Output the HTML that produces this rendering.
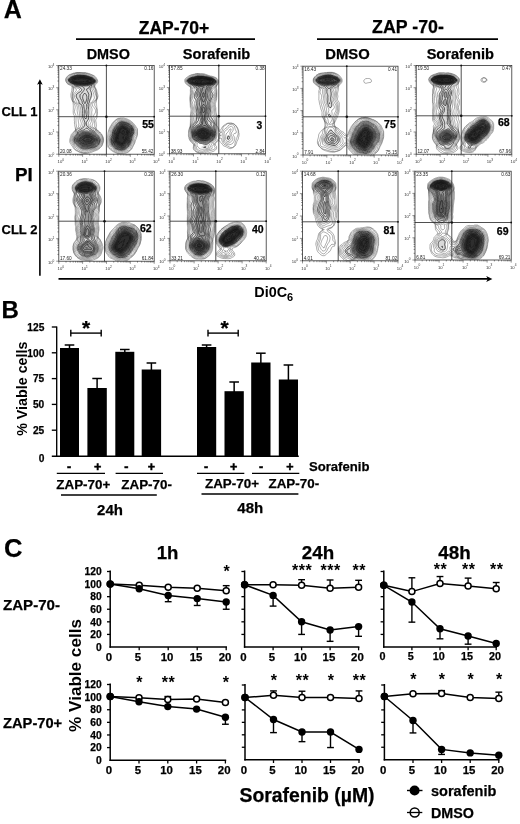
<!DOCTYPE html>
<html lang="en"><head><meta charset="utf-8"><title>Figure</title>
<style>html,body{margin:0;padding:0;background:#fff}svg{display:block;filter:blur(0.3px)}text{font-family:"Liberation Sans", sans-serif}</style>
</head><body>
<svg width="520" height="824" viewBox="0 0 520 824" font-family='"Liberation Sans", sans-serif'>
<rect width="520" height="824" fill="#fff"/>
<defs><filter id="bl" x="-5%" y="-5%" width="110%" height="110%"><feGaussianBlur stdDeviation="0.35"/></filter></defs>
<text x="3.80" y="18.10" font-size="25" font-weight="bold" text-anchor="start" fill="#000" stroke="#000" stroke-width="0.25" >A</text>
<text x="1.50" y="317.80" font-size="24" font-weight="bold" text-anchor="start" fill="#000" stroke="#000" stroke-width="0.25" >B</text>
<text x="4.00" y="556.70" font-size="25.6" font-weight="bold" text-anchor="start" fill="#000" stroke="#000" stroke-width="0.25" >C</text>
<text x="174.00" y="33.60" font-size="17.5" font-weight="bold" text-anchor="middle" fill="#000" stroke="#000" stroke-width="0.25" >ZAP-70+</text>
<line x1="76.00" y1="39.20" x2="255.00" y2="39.20" stroke="#000" stroke-width="1.8" />
<text x="408.00" y="33.20" font-size="17.8" font-weight="bold" text-anchor="middle" fill="#000" stroke="#000" stroke-width="0.25" >ZAP -70-</text>
<line x1="317.00" y1="39.20" x2="498.00" y2="39.20" stroke="#000" stroke-width="1.8" />
<text x="108.30" y="58.60" font-size="14.4" font-weight="bold" text-anchor="middle" fill="#000" stroke="#000" stroke-width="0.25" >DMSO</text>
<text x="216.50" y="58.60" font-size="14.6" font-weight="bold" text-anchor="middle" fill="#000" stroke="#000" stroke-width="0.25" >Sorafenib</text>
<text x="347.50" y="58.80" font-size="14.8" font-weight="bold" text-anchor="middle" fill="#000" stroke="#000" stroke-width="0.25" >DMSO</text>
<text x="460.30" y="58.80" font-size="14.6" font-weight="bold" text-anchor="middle" fill="#000" stroke="#000" stroke-width="0.25" >Sorafenib</text>
<text x="1.50" y="115.50" font-size="13" font-weight="bold" text-anchor="start" fill="#000" stroke="#000" stroke-width="0.25" >CLL 1</text>
<text x="1.50" y="234.30" font-size="13" font-weight="bold" text-anchor="start" fill="#000" stroke="#000" stroke-width="0.25" >CLL 2</text>
<text x="15.00" y="180.60" font-size="18.8" font-weight="bold" text-anchor="start" fill="#000" stroke="#000" stroke-width="0.25" >PI</text>
<line x1="39.90" y1="275.80" x2="39.90" y2="82.50" stroke="#000" stroke-width="1.6" />
<path d="M39.9,79.2 L37.1,84.8 L39.9,83.4 L42.7,84.8 Z" fill="#000"/>
<line x1="58.50" y1="278.90" x2="488.00" y2="278.90" stroke="#000" stroke-width="1.7" />
<path d="M492.4,278.9 L486.2,275.9 L487.8,278.9 L486.2,281.9 Z" fill="#000"/>
<text x="254.3" y="297.4" font-size="14.4" font-weight="bold">Di0C<tspan dy="3.2" font-size="11">6</tspan></text>
<clipPath id="c1"><rect x="58.8" y="65.5" width="95.39999999999999" height="88.69999999999999"/></clipPath>
<g clip-path="url(#c1)" filter="url(#bl)">
<path d="M76.8,75l2,-.3 2,.2 1.5,.1 2,.1 1.6,.4 1.9,.5 1.3,.5 1.4,.5 1.4,.5 1.4,.8 1,.9 .9,1.3 -.4,2 -1,.9 -1,.9 -.9,1.2 -.2,1.5 -.9,1.5 .5,1.8 .5,1.2 .5,1.5 .3,2 -.2,2 -.6,1.4 -.6,1.1 -.7,1.5 -.5,1.5 -.8,1 -.6,1.5 .3,1.5 .2,2 -.1,2 -.2,1.5 0,1.5 .2,2 .3,2 0,1 -.5,1.6 -1,1.3 -.6,1.1 0,2 .4,1.5 1.1,1 1.1,.8 1,.7 1.4,1 1.1,.6 1.5,.7 .5,1.7 1,.9 1,.8 1,1.2 .8,1.1 .7,1.1 .7,1.4 0,2 -.5,1.5 -.7,1.5 -.7,1 -1,1 -1.3,.9 -1.2,.6 -1.8,.5 -1.5,.3 -1.5,.2 -2,.5 -1.5,.3 -1.5,.2 -1.5,-.2 -1.6,-.3 -1.4,-.6 -1.2,-.9 -1.3,-.8 -1,-.7 -1,-1 -1,-1 -1,-1.5 -.5,-1.2 -.2,-1.8 .3,-1.5 .6,-1.5 .8,-1.1 1,-1 .9,-1.4 .1,-1.6 1,-1.3 1,-.7 1.5,-.9 1,-.7 1.3,-.8 .7,-1.4 .3,-1.6 -.2,-2 -.5,-1.5 -.6,-1.5 -.5,-1.1 -.4,-1.9 -.1,-1.5 -.1,-2 .1,-2 -.2,-2 -.3,-1.7 -.5,-1.6 -1,-1 -1.1,-.7 -.9,-1 -.5,-1.8 -.6,-1.2 -.8,-1.5 -.5,-1.5 .4,-1.8 .8,-1.2 1.2,-1 1,-.6 1.3,-.9 .7,-1 -.5,-1.3 -1,-.7 -1.6,-.5 -1.9,-.4 -1,-.6 -.5,-1.7 -1.3,-.8 -1.2,-.6 -1.5,-.7 -1.1,-.7 -.9,-1.5 .1,-1 .9,-1.3 1,-.8 1.5,-.8 1.5,-.6 1.5,-.5 1.5,-.4zM121.2,121.5l1.6,0 1.5,.3 1.5,.3 1.5,.6 1.5,.6 1.2,.7 1.2,1 .9,1 .7,1.2 .6,1.3 .4,1.5 .2,2 -.2,1.5 -.7,1.5 -.6,1.5 -.4,1.5 -.4,1.5 -.4,2 -.5,1.4 -.5,1.1 -.9,1.5 -.7,1 -.9,1 -1.2,1 -1.3,.8 -1.5,.7 -1.5,.5 -1.5,.1 -1.5,-.2 -1.5,-.5 -1.5,-.7 -1.4,-.7 -1.1,-.8 -1,-1.1 -.8,-1.1 -.7,-1.4 -.5,-1.5 -.2,-1.6 0,-2 .3,-1.5 .5,-1.5 .4,-1.5 .5,-2 .2,-1.5 .5,-1.5 .8,-1.5 .6,-1 .9,-1.4 .9,-1.1 1,-1 1,-1 1.1,-.6 1.9,-.4z" fill="#000" fill-opacity="0.15"/>
<path d="M76.1,76.5l1.7,-.4 2,-.1 2,.1 2,.1 1.5,.3 2,.5 1.3,.5 1.3,.5 1.5,.5 1.4,.9 1,.9 0,1.7 -1,.8 -1.2,.7 -1.3,.6 -1.5,.7 -1.5,.4 -2,.1 -2,0 -1.6,-.3 -1.9,-.3 -2,-.1 -1.5,-.2 -1.5,-.6 -1.5,-.8 -1,-.5 -1.5,-.8 -1,-.9 0,-1.4 1,-.9 1.5,-.9 1.5,-.6 1.5,-.4zM121.4,123.5l1.6,0 1.8,.3 1.5,.5 1.5,.6 1.1,.6 1.3,1 .8,1 .7,1.5 .3,1.5 -.1,2 -.5,1.5 -.5,1.5 -.5,1.5 -.4,1.5 -.3,1.5 -.4,1.8 -.5,1.3 -.9,1.4 -.8,1 -1.1,1 -1.2,.9 -1.2,.6 -1.8,.4 -2,-.2 -1.5,-.4 -1.5,-.6 -1.2,-.7 -1,-1 -.8,-1 -.7,-1.5 -.4,-1.5 0,-2 .3,-1.5 .5,-1.5 .3,-1.5 .3,-2 .4,-1.5 .7,-1.5 .6,-1 .9,-1.5 .6,-1 1,-1.2 1,-1 1.5,-.7zM82.4,132.5l1.9,-.3 2,-.1 1.9,.4 1.6,.4 1.5,.4 1.5,.7 1,.9 1,.7 1.2,.9 .9,1 .9,1.5 .4,1.5 -.5,1.5 -.9,1.5 -1,1 -1,.6 -1.5,.5 -2,.4 -1.5,.3 -1.5,.2 -2,.2 -2,-.1 -1.5,-.2 -1.5,-.7 -1,-.8 -1.2,-.9 -1.1,-1 -1.1,-1 -.6,-1 -.2,-2 .7,-1.5 .9,-1 .9,-1 .7,-1.2 1,-.8 1.5,-.8z" fill="#000" fill-opacity="0.3"/>
<path d="M76.9,77.5l1.9,-.3 2,-.1 2,.1 2,.3 1.5,.4 1.5,.4 1.5,.6 1.5,.5 1,.6 .8,1.5 -1.3,.9 -1.4,.6 -1.6,.5 -1.5,.2 -2,.2 -2,0 -1.7,-.4 -1.8,0 -2,-.2 -1.7,-.3 -1.3,-.6 -1.5,-.8 -1,-.6 -.5,-1.5 1,-.7 1.5,-.6 1.5,-.4 1.6,-.3zM121.6,125.5l1.4,0 1.8,.4 1.4,.6 1.1,.5 1.5,1 .8,1 .4,1.5 -.1,2 -.4,1.5 -.5,1.5 -.4,1.5 -.4,1.5 -.3,2 -.5,1.5 -.6,1.1 -1,1.1 -1,1 -1.2,.8 -1.8,.4 -2,-.4 -1.5,-.5 -1.1,-.5 -1.3,-1 -.7,-1 -.5,-1.5 0,-2 .4,-1.5 .3,-1.5 .2,-2 .4,-1.5 .7,-1.5 .6,-1.2 .7,-1.3 .8,-1.4 .9,-1.1 1.1,-.8zM84.7,135l1.6,-.2 1.5,.2 2,.4 1.4,.6 1.1,.5 1.4,1 1.1,1 .6,1 -.1,1.5 -1,1.1 -1.5,.8 -1.5,.5 -1.5,.5 -1.5,.2 -2,.2 -2,-.2 -1.5,-.2 -1.5,-.9 -1,-.8 -1,-.9 -.7,-1.3 .6,-1.5 .9,-1 1.2,-1 1,-.7 1.5,-.6z" fill="#000" fill-opacity="0.4"/>
<path d="M77.7,78l1.6,-.2 2,0 2,0 1.5,.4 1.5,.4 1.5,.4 1.5,.5 1.5,.6 .6,1.4 -1.1,.7 -1.5,.5 -1.5,.3 -2,.1 -2,0 -1.5,-.1 -2,-.2 -2,-.1 -1.6,-.2 -1.5,-.5 -1.4,-.8 -1,-.9 .5,-1 1.5,-.6 1.5,-.3 1.9,-.4zM120.9,127l1.9,-.4 1.5,.4 1.5,.7 1.5,.8 1,.8 .5,1.7 0,1 -.4,2 -.5,1.5 -.6,1.5 -.3,1.5 -.2,1.6 -.5,1.4 -1,1.5 -.9,1 -1.1,.8 -1.5,.4 -1.5,-.4 -1.5,-.5 -1.5,-.7 -1,-.9 -.5,-1.2 0,-1.8 .3,-1.7 .3,-1.5 .3,-2 .5,-1.5 .6,-1.2 .6,-1.3 .8,-1.5 .6,-1 1.1,-1zM85.2,136.5l1.6,-.2 1.5,.2 2,.5 1.1,.5 1.4,1 .8,1 -.8,1.3 -1.5,.6 -1.5,.4 -1.5,.2 -2,0 -1.5,-.2 -1.7,-.3 -1.3,-.8 -.2,-1.7 .8,-1 1.2,-1 1.6,-.5z" fill="#000" fill-opacity="0.3"/>
<path d="M78.8,78.5l1.5,-.1 2,0 1.7,.1 1.3,.6 1.5,.4 1.5,.5 1.5,.8 -.5,.9 -1.5,.6 -2,-.2 -2,0 -1.5,-.1 -2,-.1 -2,.1 -1.5,.1 -1.5,-.4 -1.3,-.7 -.2,-1.3 1.5,-.6 1.5,-.1 2,-.5zM121.7,127.5l1.4,0 1.5,.5 1.2,.6 1.5,.9 .6,1 0,2 -.4,1.5 -.5,1.5 -.6,1.5 -.3,1.5 -.3,1.8 -.5,1.2 -1,1.4 -1,.9 -1.5,.5 -1.5,-.4 -1.5,-.5 -1.5,-.7 -.8,-1.2 0,-2 .3,-1.5 .4,-2 .3,-1.5 .6,-1.5 .7,-1.5 .5,-1 .7,-1.5 .9,-1zM87.2,138.5l1.6,0 1,.6 -.5,1.3 -1.5,.2 -1.5,-.2 -.5,-1 1.4,-.9z" fill="#000" fill-opacity="0.3"/>
<path d="M78.5,72.5l.8,0 1.5,.1 1.5,0 1.5,.1 1.5,0 1.2,.3 1.3,.2 1,.3 1.4,.5 1.1,.4 1,.4 1,.5 1,.6 .9,.6 .6,.7 .5,.8 .7,1 .5,1 .2,1.5 -.4,1.2 -.6,.8 -.9,.9 -.6,.6 -.4,1.2 0,.8 .7,1 .6,1 .5,1 .2,1 .4,1.5 .2,1 .4,1.3 .2,1.2 -.2,1.2 -.5,1.1 -.4,1.2 -.3,1 -.2,1.5 .2,1.5 0,1.5 .2,1.2 .1,1.3 .2,1.5 .1,1.5 0,1.5 0,1.5 0,1.5 -.2,1.5 -.2,1.5 -.5,.8 -.5,.9 -.1,1.3 .3,1 .2,1.5 .1,1 .1,1.5 -.3,1 0,1.5 .5,1 .7,.6 1,.7 .8,.7 .7,.7 .8,.8 .7,.7 .5,.8 .5,1 .5,1 .5,1.4 .2,1.1 .1,1.5 -.2,1.5 -.4,1 -.3,1 -.4,1.2 -.5,.8 -.8,1 -.7,.7 -.9,.8 -.6,.6 -1,.7 -1,.4 -1,.4 -1.1,.4 -1.2,.5 -1.2,.5 -1,.4 -1,.2 -1,.5 -1.5,.1 -1.5,.1 -1.5,.1 -1.5,-.1 -1,-.3 -1.5,-.3 -1,-.4 -1,-.4 -1,-.5 -1,-.5 -1,-.5 -1,-.7 -.6,-.7 -.8,-1 -.6,-1 -.5,-.7 -.6,-.8 -.6,-1 -.7,-1 -.5,-1 -.2,-1 .1,-1.5 .1,-1 .4,-1.2 .3,-1.3 .4,-1 .3,-1 .9,-1 .6,-.6 .8,-.9 .7,-.8 .7,-.7 .5,-1 -.2,-1 -.2,-1.5 -.3,-1 -.1,-1.5 -.3,-1.5 .1,-1.5 -.2,-1.1 0,-1.4 .1,-1 0,-1.5 -.2,-1 -.6,-1 -.3,-1 -.1,-1.5 0,-1.5 .1,-1.5 0,-1 0,-1 0,-1.5 -.1,-1.5 -.2,-1.5 -.4,-1 -.5,-1 -.5,-1 -.3,-1.4 -.3,-1.1 -.1,-1.5 0,-1.5 .4,-1.5 .2,-1 .3,-1 .1,-1.5 .2,-1.5 -.3,-1.3 -1,-.6 -1,-.5 -1,-.4 -1,-.6 -.7,-.6 -.6,-1 -.6,-1 -.3,-1 0,-1.5 .5,-1 .6,-1 .6,-.7 1,-.8 .7,-.5 .9,-.5 1.3,-.5 1.1,-.4 1,-.4 1.5,-.2 1,-.3 1.5,-.2 1.2,0M120.2,118l1.1,0 1.5,0 1,0 1.5,.5 1,.2 1,.4 1,.5 1,.5 1,.5 1,.8 .7,.6 .8,.6 .8,.9 .7,.8 .6,.7 .6,1 .7,1 .6,.8 .5,.7 .2,1.5 0,1.5 0,1.5 0,1.5 -.2,1 -.4,1.5 -.5,1 -.2,1 -.6,1 -.3,1.3 -.4,1.2 -.4,1 -.5,1 -.5,1 -.5,1 -.5,1 -.5,1 -.7,.8 -.6,.7 -.9,.9 -.7,.6 -.8,.6 -1,.5 -1,.4 -1.2,.5 -1.3,.5 -1,.1 -1.5,.1 -1.5,0 -1,-.3 -1.5,-.4 -1,-.4 -1,-.4 -1,-.5 -1,-.5 -1,-.6 -.9,-.6 -.6,-.5 -1,-.9 -.7,-.6 -.8,-.8 -.5,-1 -.5,-1.2 -.1,-1 -.3,-1.5 -.1,-1.5 .1,-1.5 .1,-1.5 .3,-1.5 .3,-1 .2,-1.5 .1,-1 .3,-1.5 .3,-1 .3,-1.2 .5,-1.1 .4,-1.2 .6,-1 .5,-.7 .5,-1 .5,-.9 .8,-.9 .7,-1 .5,-.6 1,-.7 .8,-.7 .7,-.7 1,-.5 1,-.4 1.5,-.2 .4,-.2M75.5,73l1.3,-.2 1.5,-.1 1.5,0 1.5,.1 1.5,.1 1.5,0 1.4,.1 1.1,.4 1,.1 1.2,.5 1.2,.5 1.1,.5 1,.4 1,.4 .9,.7 .6,.6 .7,.9 .7,1 .5,1 .2,1 -.2,1 -.5,1 -.9,.9 -.6,.6 -.3,1.5 .4,1.4 .5,1.1 .3,1 .4,1 .3,1.4 .3,1.1 .2,1.5 .2,1 .3,1 0,1.1 -.4,1.4 -.4,1 -.4,1 -.6,1 -.5,1 -.3,1 .1,1.5 .5,.9 .5,.8 .5,.9 .5,1.1 .1,1.3 .1,1.5 0,1.5 -.1,1.5 -.5,1 -.6,.7 -.8,.8 -.6,1 -.2,1 .1,1.3 .2,1.2 .2,1.5 0,1.5 0,1.5 .6,.9 .5,.7 .5,1.4 .6,.5 .9,.9 .9,.6 .6,.6 .9,.9 .6,.6 .6,.9 .5,1 .5,1 .4,1 .5,1.5 0,.7 -.1,1.3 -.4,1.3 -.4,1.2 -.3,1 -.5,1 -.6,1 -.7,.7 -1,.8 -.7,.5 -.8,.5 -1.1,.5 -1.4,.5 -1,.3 -1,.4 -1.2,.3 -1.3,.4 -1,.4 -1,.6 -1,.4 -1,.2 -1.5,.1 -1.5,0 -1,-.3 -1.5,-.2 -1,-.5 -1,-.4 -1,-.6 -1,-.6 -1,-.5 -.8,-.5 -.7,-.8 -.5,-.9 -.5,-1 -.5,-.8 -.6,-1 -.6,-1 -.7,-1 -.6,-1 -.2,-1 .1,-1.5 .3,-1 .4,-1 .4,-1.5 .3,-1 .6,-1 .6,-.7 .6,-.8 .7,-1 .7,-.9 .4,-1.1 .1,-1 .5,-1.2 .2,-1.3 -.2,-1.3 -.2,-1.2 -.1,-1.5 0,-1.5 0,-1.5 .1,-1.5 0,-1.5 -.3,-1.1 -.5,-.9 -.5,-1 -.4,-1.5 .3,-1.5 .2,-1 .3,-1.5 -.1,-1.5 -.3,-1 -.5,-1.3 -.5,-.8 -.6,-.9 -.6,-1 -.2,-1.5 -.1,-1 -.2,-1.5 -.1,-1.5 .2,-1.5 .2,-1 .4,-1.4 .2,-1.1 .2,-1.5 -.4,-1.5 -.3,-1 -.4,-1 -1,-.5 -1.2,-.5 -1.1,-.4 -1,-.5 -.6,-.6 -.6,-1 -.4,-1 -.2,-1.5 .4,-1 .7,-1 .7,-1 .6,-.5 .9,-.7 1,-.6 1,-.3 1,-.5 1,-.4 1.5,-.2 .7,-.3M117.9,119l1.4,-.2 1.5,-.1 1.5,.1 1.4,.2 1.1,.3 1.1,.2 1.4,.5 1,.5 1,.5 .9,.5 .7,.5 .9,.7 .9,.8 .6,.8 .6,.7 .6,1 .6,1 .6,1 .6,.7 .5,.8 .3,1.5 0,1.5 -.1,1.5 -.2,1.2 -.5,1.3 -.5,.8 -.5,.8 -.5,.9 -.3,1.5 -.2,1.5 -.2,1 -.5,1 -.6,1 -.6,1 -.4,1 -.4,1 -.5,1 -.8,.9 -.6,.6 -.9,.6 -1,.5 -1.1,.4 -1.4,.4 -1,.4 -1,.5 -1,.3 -1.5,.3 -1.5,-.2 -1.2,-.2 -1,-.5 -.8,-.5 -1,-.5 -1,-.6 -1,-.5 -1,-.7 -.8,-.7 -.7,-.6 -1,-.7 -.8,-.7 -.5,-1 -.2,-1.5 -.2,-1 -.3,-1.4 -.1,-1.1 .1,-1.1 .2,-1.4 .2,-1.5 .4,-1 .2,-1.2 .2,-1.3 .2,-1.5 .1,-1.4 .2,-1.1 .4,-1 .4,-1 .5,-1 .7,-1 .4,-1 .6,-1 .8,-.9 .5,-.7 .8,-.9 .7,-.5 .9,-1 .7,-.5 1,-.5M77.5,73l1.3,0 1,0 1.5,.2 1.5,.3 1,0 1.5,.1 1.4,.4 1.1,.2 1,.5 1,.5 1,.5 1,.3 1.1,.5 .9,.7 .9,.8 .6,.9 .5,.8 .4,1.3 -.4,1.5 -.5,.7 -1,.8 -.4,1 .2,1.5 .3,1 .4,1 .5,1.4 .3,1.1 .3,1 .3,1.5 .1,1.1 .3,1.4 .3,1 -.1,1.5 -.4,1 -.6,.9 -.5,.6 -1,.9 -.6,.6 -.9,.9 -.5,1.1 .4,1.5 .6,.9 .6,.6 .8,1 .6,1 .3,1 0,1.5 -.4,1 -.7,1 -.6,1 -.4,1 -.3,1 -.3,1.5 0,1.5 .2,1.5 -.2,1.5 -.3,1 -.5,1 .1,1.5 .6,.7 1,.6 1,.5 .8,.7 .5,1 .7,.9 .7,.6 .8,.6 .9,.9 .6,.7 .7,.8 .6,1 .6,1 .5,1 .3,1 .2,1.5 -.3,1.5 -.4,1 -.4,1 -.3,1 -.6,1 -.7,1 -.7,.6 -1,.7 -1,.6 -1,.5 -1,.3 -1,.3 -1.5,.4 -1,.2 -1.5,.3 -1,.4 -1,.5 -1,.5 -1,.4 -1.5,.3 -1.5,-.4 -1,-.3 -1.1,-.3 -.9,-.5 -1,-.6 -1,-.8 -1,-.5 -1,-.6 -.5,-.5 -.7,-1 -.6,-1 -.7,-1 -.5,-.9 -.5,-.8 -.5,-.8 -.5,-1 -.2,-1.5 .2,-1 .5,-1.5 .2,-1 .4,-1 .6,-1 .8,-1 .5,-.6 .6,-.9 .3,-1.5 .4,-1 .7,-.7 .9,-.8 .6,-.8 .5,-1.2 0,-1 0,-1 -.3,-1.5 -.2,-1.4 -.1,-1.1 -.2,-1.5 0,-1.5 0,-1.5 -.2,-1.4 -.3,-1.1 -.2,-1 -.2,-1.5 .1,-1.5 .1,-1.5 -.3,-1.5 -.4,-1 -.7,-1 -.6,-.7 -.9,-.8 -.6,-.5 -.9,-1 -.1,-1.5 0,-1 -.2,-1.5 0,-1.5 .2,-1.5 .2,-1 .3,-1.2 .4,-1.3 0,-1.5 -.2,-1.5 -.5,-1 -.2,-1.3 -1,-.7 -1,-.4 -1,-.3 -1,-.4 -1,-.7 -.5,-.8 -.5,-1.3 0,-1.1 .5,-.9 .5,-.7 .7,-.9 .8,-.7 1,-.7 1,-.5 1,-.5 1,-.5 1,-.3 1.2,-.3 1.3,-.4 .7,-.1M117.9,120l1.4,-.3 1.5,0 1.5,0 1.5,.3 1,.2 1.3,.3 1.2,.4 1,.5 1,.5 1,.6 .7,.5 .8,.6 .8,.9 .7,1 .5,.9 .5,.9 .5,.9 .5,.8 .5,1.1 .3,1.4 0,1.5 -.3,1.5 -.5,1 -.5,.8 -.5,.7 -.5,1.3 -.4,1.2 0,1.5 -.1,1.1 -.5,1.3 -.5,.7 -.6,.9 -.5,1 -.4,1 -.5,1.3 -.6,.7 -.9,.8 -1,.6 -1,.4 -1,.4 -1,.3 -1.3,.5 -1,.5 -1.2,.4 -1,.1 -1,-.1 -1.3,-.4 -.8,-.5 -.9,-.6 -1,-.5 -1,-.5 -1,-.7 -.9,-.7 -.6,-.6 -.9,-.9 -.6,-.5 -.5,-1.1 -.3,-1.4 -.3,-1 -.4,-1.5 0,-.9 .1,-1.1 .1,-1.5 .3,-1.2 .4,-1.3 .2,-1 .4,-1.5 .1,-1 .1,-1.5 .3,-1.4 .4,-1.1 .4,-1 .6,-1 .5,-1 .6,-1 .5,-.6 .7,-.9 .8,-.8 .8,-.7 .7,-.8 1,-.6 .1,-.1M76.1,74l1.2,-.3 1.5,-.1 1.5,.2 1,.2 1.5,.2 1.5,.1 1.2,.2 1.3,.3 1,.3 1,.5 1,.5 1,.4 1.4,.5 .9,.5 .7,.6 1,.9 .5,.6 .5,1.4 0,.5 -.5,1.2 -.9,.8 -.6,.5 -.5,1.5 .3,1.5 -.5,1 .2,1 .6,1 .6,1 .3,1 .5,1.5 .3,1 .3,1 .4,1 .1,1.5 -.2,1 -.7,1 -.7,.8 -.9,.7 -.7,.5 -.9,.6 -1,.8 -.5,.6 0,1.5 .3,1 .4,1 .4,1 .2,1.5 -.3,1.3 -.1,1.2 .1,1.5 0,1.5 -.1,1.5 -.1,1.5 -.1,1.5 -.1,1.5 -.5,1 -.5,1 -.4,1 .1,1.5 .7,1 1,.5 1,.5 1,.4 1,.4 .7,.7 .3,1.3 .5,.7 1,.8 .7,.7 .8,.9 .5,.6 .7,1 .7,1 .6,1 .4,1 .2,1 -.1,1.3 -.4,1.2 -.4,1 -.4,1 -.5,1 -.8,1 -.5,.5 -1,.7 -1,.7 -1,.4 -1,.3 -1.5,.4 -1,.2 -1.4,.3 -1.1,.2 -1,.3 -1.5,.5 -1,.3 -1,.3 -1.1,-.1 -1.4,-.4 -1,-.2 -1,-.5 -1,-.7 -.9,-.7 -.9,-.5 -.9,-.5 -.8,-.6 -.8,-.9 -.7,-.9 -.5,-.7 -.6,-.9 -.5,-1 -.5,-1 -.2,-1.5 .3,-1.5 .2,-1 .4,-1 .5,-1 .8,-1 .6,-.7 .6,-.8 .3,-1.5 0,-1.5 .6,-.6 1,-.7 1,-.5 1,-.6 .6,-.6 .4,-1 .4,-1.5 .1,-1 -.2,-1 -.3,-1 -.5,-1.4 -.3,-1.1 -.2,-1 -.1,-1.5 -.1,-1.5 -.1,-1.5 -.2,-1.5 -.1,-1 -.2,-1.5 -.1,-1.5 -.1,-1 -.4,-1.5 -.6,-1 -.5,-.5 -1,-.7 -1,-.7 -.7,-.6 -.6,-1 -.3,-1 -.4,-1.5 -.1,-1 0,-1.5 .1,-1.4 .5,-.8 .6,-.8 .8,-1 .6,-.8 .5,-.8 0,-1.2 -1,-.6 -1,-.6 -.5,-.9 0,-1 0,-.7 -.8,-.9 -1.1,-.5 -1,-.5 -1.1,-.5 -1,-.4 -.6,-.6 -.4,-1 -.1,-1.5 .6,-1 .5,-.6 1,-.9 .7,-.5 .9,-.5 1,-.5 .9,-.5 1.2,-.5 1.3,-.4 .3,-.1M118.3,121l1,-.3 1.5,-.1 1.5,0 1.5,.2 1,.2 1.5,.4 1,.3 1,.5 1,.4 1,.7 1,.7 .5,.5 .9,1 .6,1 .5,1 .4,1 .4,1 .3,1 .1,1.5 -.1,1.5 -.4,1 -.5,1 -.4,1 -.3,1 -.5,1.4 -.2,1.1 -.3,1.5 -.2,1 -.5,1 -.6,1 -.6,1 -.6,1 -.5,1 -.5,.7 -1,.8 -.8,.5 -1,.5 -1.1,.5 -1.1,.4 -1,.5 -1,.3 -1.5,.2 -1.5,-.2 -1,-.5 -1,-.6 -1,-.5 -1,-.5 -.9,-.6 -.6,-.5 -1,-1 -.5,-.6 -.8,-.9 -.4,-1 -.4,-1 -.4,-1.3 -.2,-1.2 0,-1.5 .1,-1.5 .2,-1 .4,-1.3 .3,-1.2 .3,-1 .4,-1.5 .1,-1 .4,-1.5 .3,-1 .3,-1 .7,-1 .5,-1 .7,-1 .5,-.6 .7,-.9 .8,-.7 .7,-.8 .8,-.7 .5,-.3M77.2,74.5l1.1,-.1 1.5,.1 1,.1 1.5,.2 1.5,.1 1,.1 1.5,.3 1,.3 1.1,.4 1.3,.5 1.1,.4 1,.3 1,.5 1,.8 .6,.5 .8,1 .3,1 -.2,1.1 -.7,.9 -.8,.6 -.9,.9 -.5,1 .1,1.5 -.7,1 0,1 .4,1 .5,1 .4,1 .3,1 .4,1.5 .1,1 .4,1.5 .1,1 -.4,1 -.6,1 -.6,.9 -.5,.6 -.9,1 -.9,.5 -.7,.6 -.4,1.4 .3,1.5 .2,1 .1,1.5 -.1,1.5 -.1,1.1 0,1.3 .1,1.1 .2,1.5 .1,1.5 0,1.5 -.2,1.5 -.5,1 -.7,.9 -.5,.9 -.1,1.2 .1,1.2 .5,1.1 .7,.7 .8,.6 1.1,.4 .9,.7 1,.5 1,.5 .8,.8 .2,1 .7,1 .8,.6 .9,.9 .6,.7 .6,.8 .7,1 .7,1 .5,.9 .3,1.1 -.1,1.5 -.4,1 -.4,1 -.4,1 -.7,1 -.8,.9 -.8,.6 -.7,.5 -1,.6 -1.2,.4 -1.3,.4 -1,.2 -1.5,.3 -1.1,.1 -1.4,.4 -1,.3 -1.5,.3 -1,0 -1,-.2 -1.5,-.3 -1,-.4 -1,-.5 -.8,-.6 -.7,-.5 -1,-.6 -1,-.7 -.7,-.7 -.8,-.9 -.5,-.6 -.6,-1 -.5,-1 -.4,-1 -.1,-1.5 .2,-1 .4,-1.3 .5,-1.1 .5,-.7 .8,-.9 .7,-.7 .5,-.8 0,-1 0,-1.2 .5,-.8 1,-.9 1,-.5 1,-.4 1,-.6 .9,-.6 .5,-1 .2,-1 .3,-1.5 -.3,-1.5 -.4,-1 -.4,-1 -.3,-1 -.5,-1.4 -.2,-1.1 -.1,-1.5 -.1,-1.5 -.1,-1.5 0,-1.4 -.1,-1.1 -.2,-1.5 -.2,-1 -.4,-1.5 -.6,-.9 -.6,-.6 -.9,-.6 -1,-.6 -.5,-1 -.4,-1.3 -.4,-1 -.5,-1 -.4,-1 -.1,-1.5 .3,-1.2 .5,-.8 .8,-1 .7,-.7 1,-.8 .7,-.5 .8,-.7 .3,-1.3 -.9,-.5 -1.4,-.3 -1,-.3 -1.5,-.4 -.5,-1 0,-1.4 -.7,-.6 -.9,-.5 -1.1,-.5 -1,-.5 -1.1,-.5 -.7,-.7 -.5,-.9 -.2,-1.4 .6,-1 .6,-.6 1,-.7 1,-.6 1,-.4 1,-.5 1,-.4 1.5,-.3 1,-.4 .4,-.1M119.3,121.5l1,-.2 1.5,-.2 1.5,.2 1,.2 1.5,.3 1,.3 1,.5 1,.4 1,.5 1,.8 .8,.7 .7,.8 .5,.8 .5,1 .5,1.2 .4,1.2 .1,1 0,1.5 -.1,1 -.5,1 -.4,1 -.5,1.3 -.3,1.2 -.3,1 -.3,1.5 -.2,1 -.4,1.1 -.5,1 -.5,1 -.5,.9 -.7,1 -.7,1 -.6,.5 -1,.8 -1,.6 -1,.5 -1,.4 -1,.4 -1.4,.3 -.6,0 -1.5,-.2 -1,-.4 -1,-.4 -1.2,-.5 -1,-.5 -.8,-.5 -1,-.8 -.6,-.7 -.8,-1 -.6,-1 -.4,-1 -.4,-1 -.2,-1.1 -.1,-1.4 .1,-1.5 .1,-1 .4,-1.4 .3,-1.1 .4,-1 .3,-1.3 .2,-1.2 .3,-1.4 .3,-1.1 .4,-1 .6,-1 .6,-1 .6,-.9 .5,-.6 .8,-1 .7,-.7 .8,-.8 .7,-.5 1,-.5" fill="none" stroke="#111" stroke-width="0.6" stroke-opacity="0.55"/>
<path d="M77.7,75l1.1,0 1,0 1.5,.1 1.5,.1 1.5,0 1,.3 1.5,.3 1,.3 1,.4 1.3,.5 1.2,.4 1,.4 1,.7 .6,.5 .9,1 .4,1 -.4,1.3 -.7,.7 -.8,.6 -1,.8 -.7,.6 -.3,1.2 -.3,1.3 -.7,.8 -.2,1.2 .4,1 .4,1 .4,1 .3,1.5 -.2,1.5 -.3,1 -.3,1 -.5,1.2 -.5,1.3 -.2,1 -.3,1.1 -.5,1.2 -.5,.7 -.1,1.5 .2,1 .1,1.5 -.1,1.5 -.1,1 -.2,1.5 0,1.5 .1,1.5 .2,1 .2,1.5 -.2,1.5 -.4,1 -.7,.8 -.5,.7 -.5,1.2 0,1.2 .2,1.1 .4,1 .9,.8 1,.6 .6,.6 .9,.9 .8,.6 .8,.5 1,.5 1.1,.5 .6,1 .7,1 .6,.5 .9,.7 .8,.8 .7,.9 .5,.7 .6,.9 .6,1 .3,1 0,1.3 -.4,1.2 -.4,1 -.5,1 -.7,1 -.5,.5 -1,.8 -1,.6 -1,.4 -1,.3 -1.5,.3 -1,.2 -1.5,.2 -1,.2 -1.5,.4 -1,.2 -1.5,.1 -1,-.2 -1.5,-.3 -1,-.4 -1,-.6 -.9,-.7 -.7,-.5 -.9,-.6 -1,-.9 -.6,-.5 -.9,-1 -.5,-.7 -.5,-1 -.4,-1.3 0,-1.5 .4,-1.3 .5,-1.2 .5,-.6 .8,-.9 .7,-.8 .5,-.7 .3,-1.5 .6,-1 .6,-.6 1,-.6 1,-.5 1,-.7 .6,-.6 .9,-.7 .9,-.8 .4,-1 .2,-1 .2,-1.5 -.3,-1 -.4,-1.2 -.5,-1.3 -.5,-.9 -.5,-1.1 -.3,-1 -.1,-1.5 0,-1.5 0,-1.5 0,-1.5 0,-1.5 -.1,-1.1 -.3,-1.4 -.2,-1 -.5,-1 -1,-.5 -1.1,-.5 -.2,-1.5 -.3,-1 -.5,-1 -.7,-1 -.6,-1 -.5,-1 -.2,-1 .2,-1 .5,-1 .9,-.8 1,-.6 1,-.6 .8,-.5 .7,-.8 .4,-1.2 -.9,-1 -.5,-.8 -1,-.6 -1,-.2 -1.5,-.2 -1.1,-.2 -.7,-1 -.7,-.9 -1,-.6 -1,-.5 -1,-.5 -1,-.5 -.9,-.5 -.6,-.8 -.4,-1.2 .4,-1 .9,-1 .7,-.5 .9,-.5 1.1,-.5 1.2,-.5 1.2,-.4 1,-.1 1.5,-.5 .4,0M119.7,122l1.1,-.2 1.5,-.2 1.5,.3 1,.2 1.5,.4 1,.4 1,.4 1,.5 1,.7 .6,.5 .9,1 .5,.7 .5,.9 .5,1.3 .3,1.1 .2,1.5 -.1,1.5 -.4,1 -.5,1.1 -.5,1.3 -.3,1.1 -.3,1 -.3,1.5 -.2,1 -.4,1.3 -.5,1.2 -.5,.9 -.5,.8 -.5,.8 -.8,1 -.7,.7 -1,.7 -.9,.6 -1.1,.5 -1,.4 -1,.3 -1.5,.1 -1.5,-.2 -1,-.3 -1,-.4 -1,-.4 -1,-.5 -1,-.7 -.8,-.8 -.7,-.8 -.5,-.7 -.6,-1 -.4,-1.2 -.4,-1.3 -.1,-1.5 0,-1.5 .3,-1.5 .4,-1 .3,-1 .4,-1.5 .2,-1 .3,-1.5 .3,-1 .3,-1 .5,-1.1 .6,-.9 .6,-1 .8,-1 .5,-.7 .7,-.8 .8,-.8 .8,-.7 1.1,-.5M76.9,75.5l1.4,-.2 1.5,0 1.5,.1 1.2,.1 1.3,0 1.5,.3 1,.2 1.5,.5 1,.4 1,.3 1,.4 1.1,.4 .9,.5 1,.8 .6,.7 .5,1 -.2,1 -.9,.9 -.9,.6 -.7,.5 -.9,.6 -1,.8 -.6,.6 -.5,1 -.4,1 -1.2,.5 -.9,.5 .1,1.5 .5,.7 .5,.9 .5,.9 .5,1.5 -.1,1.5 -.1,1.5 -.3,1.5 -.2,1 -.3,1.1 -.3,1.4 -.2,1.2 -.8,.8 .2,1.5 .1,1 0,1 -.5,1.5 -.3,1 -.1,1.5 .2,1.5 .2,1.1 .3,1.4 0,1.5 -.4,1 -1.1,0 -.7,-1 -.3,-1 0,-1.5 .2,-1.5 0,-1.5 0,-1 0,-1.5 -.1,-1 -.3,-1.5 -.1,-1.5 -.3,-1 -.7,-.6 -.5,-.9 -.2,-1.5 -.4,-1 -.6,-1 -.6,-1 -.4,-1 -.2,-1.5 .3,-1.5 .6,-.6 1,-.9 .5,-.6 .7,-.9 .7,-1 .6,-.7 0,-1 -.5,-1.2 -.5,-.6 -1.2,-.5 -1.2,-.5 -1.1,-.2 -1.5,0 -1.5,-.2 -1,-.2 -1,-.8 -.9,-.6 -.9,-.5 -1.1,-.5 -.9,-.5 -1,-.5 -.7,-.6 -.5,-1.4 .5,-1.1 1,-.9 .7,-.5 1.1,-.5 1.2,-.5 1,-.4 1,-.2 1.5,-.4 .1,0M120.2,122.5l1.1,-.2 1.5,0 1.1,.2 1.4,.3 1,.3 1.1,.4 1.2,.5 .8,.5 .9,.6 .9,.9 .6,.8 .5,.9 .5,1.3 .3,1 .1,1.5 -.1,1.5 -.4,1 -.5,1 -.4,1.2 -.4,1.3 -.3,1 -.3,1.4 -.2,1.1 -.3,1.1 -.5,1.3 -.5,.9 -.5,.8 -.7,.9 -.8,.9 -.7,.6 -.8,.6 -1,.6 -1,.4 -1.1,.4 -1.4,.2 -1.5,-.2 -1,-.2 -1,-.4 -1.2,-.4 -1,-.5 -.8,-.6 -1,-.9 -.5,-.7 -.6,-.8 -.5,-1 -.4,-1.1 -.3,-1.4 -.1,-1.5 .1,-1.5 .3,-1 .5,-1.5 .3,-1 .2,-1 .3,-1.5 .2,-1 .5,-1.5 .4,-1 .6,-.9 .5,-.8 .5,-.8 .8,-1 .7,-.9 .6,-.6 .9,-.9 1,-.5 .4,-.1M85.8,128.5l1,-.5 1,.6 .8,.9 .7,.7 1,.5 1,.4 1,.4 1.1,.5 .8,1 .6,.6 1,.8 .7,.6 .8,.8 .6,.7 .7,1 .6,1 .4,1 0,1.5 -.3,1 -.5,1.1 -.5,.9 -.9,1 -.6,.5 -1,.7 -1,.5 -1.2,.3 -1.3,.3 -1.4,.2 -1.1,.2 -1.5,.3 -1,.2 -1.5,.2 -1.5,-.1 -1.5,-.3 -1,-.3 -1,-.5 -.9,-.7 -.6,-.5 -1,-.7 -.9,-.8 -.6,-.5 -1,-1 -.5,-.7 -.5,-1.1 -.3,-1.2 .2,-1.5 .4,-1 .6,-1 .6,-.7 .7,-.8 .8,-1 .3,-1 .7,-.8 .9,-.7 1,-.5 1.1,-.5 1,-.3 1.1,-.2 .9,-.5 1,-1M76.5,76l1.3,-.3 1.5,-.1 1.5,.1 1.5,.1 1.5,0 1,.2 1.5,.4 1,.2 1,.4 1.3,.5 1.2,.4 1,.4 1,.6 .7,.6 .8,.9 .2,1.1 -.7,1 -.8,.5 -.7,.5 -1,.6 -1,.6 -1,.6 -1,.4 -1.5,.2 -1.5,.1 -1.5,-.1 -1.5,-.1 -1,-.4 -1.5,-.1 -1.5,-.1 -1.5,-.2 -1,-.2 -1,-.6 -1,-.6 -1,-.5 -1,-.5 -1,-.5 -.9,-.6 -.6,-.9 0,-1.1 .5,-.7 1,-.8 .9,-.5 1.1,-.5 1,-.4 1,-.3 1.5,-.3 .2,0M84.2,93.5l1.1,0 .5,.5 .5,1 .5,1.5 .1,1 -.1,1.2 -.3,1.3 -.3,1 -.4,1.1 -.5,1.2 -.6,.2 -.4,-1 -.5,-1.1 -.5,-1.3 -.4,-1.1 -.3,-1 .1,-1.5 .3,-1 .5,-1 .7,-1M120.7,123l1.1,-.2 1.5,.1 1,.2 1.5,.4 1,.3 1,.4 1,.5 1,.7 .7,.6 .8,.9 .5,.9 .5,1.2 .2,1 .1,1.5 -.2,1.5 -.3,1 -.4,1 -.4,1 -.4,1.5 -.3,1 -.3,1.2 -.2,1.3 -.3,1 -.5,1.3 -.5,.9 -.6,.8 -.8,1 -.6,.6 -1,.8 -.9,.6 -1,.5 -1.1,.4 -1,.2 -1,-.1 -1.5,-.2 -1,-.3 -1.4,-.5 -1,-.5 -.7,-.5 -.9,-.8 -.5,-.7 -.7,-1 -.5,-1 -.3,-1 -.3,-1.5 0,-1.5 .3,-1.5 .3,-1 .3,-1 .4,-1.5 .2,-1 .2,-1.5 .4,-1 .4,-1 .5,-1 .6,-1 .6,-1 .6,-.8 .5,-.7 .9,-1 .6,-.6 1,-.7 .9,-.2M86.1,131l1.1,0 1.1,.3 1,.4 1.2,.3 1.3,.4 1,.4 .8,.7 .7,.7 1,.8 .7,.5 .8,.8 .6,.7 .7,1 .6,1 .3,1 -.2,1.3 -.5,1.2 -.5,1 -.5,.6 -.9,.9 -.7,.5 -1,.5 -1.4,.4 -1,.2 -1.5,.3 -1,.1 -1.5,.3 -1.5,.2 -1,0 -1.1,0 -1.4,-.2 -1.3,-.3 -.9,-.5 -.8,-.6 -1,-.8 -.8,-.6 -.7,-.6 -1,-.9 -.5,-.5 -.6,-1 -.4,-1 0,-1.2 .3,-1.3 .6,-1 .6,-.7 .7,-.8 .8,-.9 .5,-1.1 .5,-.5 1,-.7 1,-.5 1.1,-.3 1.4,-.2 1.5,-.2 .8,-.1M78.4,76l1.4,0 1,0 1.5,.1 1.5,0 1.5,.4 1,.2 1,.3 1.3,.5 1.2,.4 1,.3 1,.4 1,.7 .8,.7 .6,1 -.4,1.1 -1,.7 -1,.6 -1,.5 -1,.5 -1,.5 -1,.3 -1.5,0 -1.5,.2 -1.5,-.1 -1.5,-.2 -1,-.3 -1.5,0 -1.5,-.2 -1,-.1 -1.5,-.4 -1,-.5 -1,-.6 -1,-.5 -.9,-.5 -1,-.5 -.6,-.6 -.1,-1.4 .6,-.7 1,-.7 1,-.5 1,-.4 1,-.4 1.5,-.3 1,-.3 1.5,-.2 .1,0M121.2,123.5l1.1,-.2 1,.2 1.5,.3 1,.3 1.1,.4 1.2,.5 .9,.5 .8,.6 .9,.9 .6,.9 .4,1.1 .3,1 .1,1.5 -.3,1.5 -.3,1 -.4,1 -.4,1 -.4,1.5 -.3,1 -.2,1.1 -.2,1.4 -.3,1 -.5,1.2 -.5,.9 -.7,.9 -.8,.8 -.7,.7 -.8,.6 -1,.6 -1,.5 -1.5,.3 -1.5,-.2 -1.5,-.3 -1,-.3 -1,-.4 -1,-.6 -.8,-.7 -.7,-.8 -.5,-.7 -.6,-1 -.4,-1.4 -.2,-1.1 .1,-1.5 .1,-1 .5,-1.5 .2,-1 .3,-1.2 .2,-1.3 .3,-1.4 .4,-1.1 .4,-1 .7,-1 .5,-.9 .5,-.9 .5,-.7 .8,-1 .7,-.8 .9,-.7 1.1,-.4 .4,-.1M82.2,132.5l1.1,-.2 1.5,-.2 1.5,-.1 1.5,.3 1,.3 1.5,.3 1,.3 1,.4 1,.8 .8,.6 .7,.5 1,.8 .7,.7 .8,1 .5,.8 .4,1.2 -.2,1.5 -.4,1 -.7,1 -.6,.6 -1,.8 -1,.5 -1,.2 -1.5,.4 -1,.2 -1.5,.2 -1,.2 -1.5,.1 -1.5,0 -1.5,-.1 -1,-.1 -1.2,-.5 -.8,-.6 -1,-.8 -.8,-.6 -.7,-.6 -1,-.9 -.5,-.6 -.6,-.9 -.2,-1.5 .3,-1.2 .5,-.9 .8,-.9 .7,-.8 .6,-.7 .6,-1 .8,-.6 1,-.6 .9,-.3M77.3,76.5l1,-.2 1.5,0 1.5,.1 1.5,0 1.1,.1 1.4,.3 1,.3 1.4,.4 1.1,.4 1,.3 1,.4 1,.4 1,.7 .8,.8 .2,.6 -.5,1 -1,.7 -1,.5 -1,.5 -1,.4 -1,.3 -1.5,.2 -1.5,.1 -1.5,.1 -1.5,-.1 -1,-.3 -1.5,-.1 -1.5,-.1 -1.5,-.2 -1,-.2 -1,-.4 -1,-.5 -1,-.6 -1,-.5 -1,-.6 -.8,-.8 .3,-1.2 1,-.8 .9,-.5 1.1,-.4 1,-.4 1,-.2 1.5,-.4 .5,-.1M121.7,124l1.1,0 1,.2 1.4,.3 1.1,.4 1,.4 1,.4 1,.7 .7,.6 .7,1 .5,1 .2,1 .1,1.5 -.2,1.3 -.4,1.2 -.4,1 -.3,1 -.4,1.4 -.3,1.1 -.2,1.1 -.2,1.4 -.3,1 -.5,1.1 -.6,.9 -.8,1 -.6,.6 -1,.9 -.8,.5 -1,.5 -1.2,.4 -1.5,-.1 -1.4,-.3 -1.1,-.3 -1,-.4 -1,-.5 -1,-.8 -.5,-.6 -.7,-.9 -.5,-1 -.3,-1.4 -.1,-1.1 .1,-1 .3,-1.5 .3,-1 .3,-1.5 .2,-1 .2,-1.5 .3,-1 .4,-1 .5,-1 .6,-1 .6,-1 .6,-1 .7,-.9 .5,-.6 1,-.9 1,-.4 .9,-.2M84.7,133l1.1,-.1 1.2,.1 1.3,.3 1,.3 1.5,.3 1,.3 1,.8 .8,.5 .7,.5 1,.7 .8,.8 .7,1 .5,.9 .2,1.1 -.3,1 -.5,1 -.9,1 -.6,.5 -.9,.5 -1.5,.4 -1,.3 -1.4,.3 -1.1,.2 -1.5,.2 -1.5,.1 -1.5,-.1 -1.5,-.1 -1.1,-.3 -.9,-.5 -1,-.8 -.8,-.7 -.7,-.6 -1,-.9 -.5,-.6 -.5,-1 0,-1.1 .5,-1.3 .5,-.6 .8,-.9 .7,-.7 .5,-.8 1,-.9 1,-.5 1,-.4 1.5,-.2 .4,0M76.8,77l1.5,-.3 1.5,-.1 1.5,.1 1.5,0 1.5,.2 1,.3 1.4,.3 1.1,.4 1,.3 1,.4 1.2,.4 .9,.5 .9,.6 .6,.9 -.6,1 -.7,.5 -.9,.5 -1.2,.5 -1.2,.4 -1,.3 -1.5,.1 -1.5,.1 -1.5,0 -1.5,-.2 -1,-.2 -1.5,0 -1.5,-.2 -1.5,-.1 -1,-.3 -1,-.5 -1,-.5 -1,-.6 -1,-.6 -.8,-.7 .3,-1.2 1,-.7 1,-.5 1,-.4 1,-.3 1.5,-.3 .5,-.1M120.4,125l1.4,-.4 1.5,.1 1.4,.3 1.1,.3 1,.5 1,.4 1,.6 .8,.7 .7,.9 .4,1.1 .2,1 0,1.5 -.2,1 -.4,1.1 -.5,1.4 -.3,1 -.3,1 -.3,1.5 -.2,1 -.3,1.5 -.4,1 -.5,1 -.7,.8 -.7,.7 -.8,.8 -1,.7 -1,.5 -1,.3 -1.5,-.1 -1,-.3 -1.5,-.4 -1,-.4 -1,-.6 -.6,-.5 -.9,-1 -.5,-.9 -.4,-1.1 -.1,-1.5 .2,-1.5 .3,-1.2 .3,-1.3 .2,-1.2 .2,-1.3 .3,-1.5 .4,-1 .5,-1 .6,-1 .5,-.9 .5,-.9 .5,-.7 .8,-1 .7,-.7 .6,-.3M83.4,134l1.4,-.2 1.5,-.1 1.5,.3 1,.2 1.5,.3 1,.4 1,.6 .8,.5 .7,.5 1,.7 .9,.8 .6,.9 .4,1.1 -.4,1.5 -.5,.8 -.8,.7 -.7,.5 -1.2,.5 -1.3,.4 -1,.3 -1.5,.3 -1,.1 -1.5,.2 -1.5,-.1 -1.5,-.1 -1,-.1 -1,-.5 -1,-.7 -.9,-.8 -.6,-.5 -1,-.9 -.5,-.7 -.3,-1.4 .4,-1 .8,-1 .6,-.6 .8,-.9 .7,-.8 1,-.6 1,-.4 .6,-.2M76.3,77.5l1.5,-.4 1.5,-.1 1.5,0 1.5,0 1.5,.1 1.4,.4 1.1,.2 1,.3 1.3,.5 1.2,.4 1,.3 1,.6 .9,.7 .1,1 -.5,.5 -1,.6 -1,.4 -1.5,.5 -1,.3 -1.5,.1 -1.5,.1 -1,.1 -1,-.1 -1.5,-.3 -1.5,-.1 -1.5,-.1 -1,-.1 -1.5,-.2 -1,-.4 -1,-.5 -1,-.5 -1,-.6 -.8,-.7 .3,-1.2 1,-.6 1,-.5 1,-.3 1.5,-.3 .5,-.1M120.7,125.5l1.1,-.3 1.5,.1 1,.2 1.4,.5 1.1,.5 1,.4 .8,.6 .7,.6 .6,.9 .4,1.5 0,1.5 -.4,1.5 -.3,1 -.3,1 -.5,1.5 -.3,1 -.2,1.4 -.2,1.1 -.3,1.2 -.5,1 -.5,.8 -.9,1 -.6,.5 -1,.9 -1,.5 -1,.3 -1.5,-.2 -1,-.2 -1,-.3 -1.3,-.5 -.8,-.5 -.9,-.7 -.6,-.8 -.5,-1 -.3,-1.5 .1,-1.5 .3,-1.4 .2,-1.1 .3,-1.5 .1,-1 .3,-1.5 .4,-1 .5,-1 .6,-1 .5,-1 .5,-1 .6,-.8 .6,-.7 .9,-.8 .4,-.2M85.8,134.5l.8,0 1.2,.2 1.5,.3 1,.2 1,.5 1,.5 1,.7 .9,.6 .6,.5 .7,1 .4,1 -.2,1 -.8,1 -.6,.5 -1,.6 -1.3,.4 -1.2,.4 -1,.3 -1.5,.2 -1,.1 -1.5,0 -1,0 -1.5,-.2 -1,-.3 -1,-.7 -1,-.7 -.7,-.6 -.8,-.8 -.5,-1.1 0,-.6 .5,-1 .9,-1 .6,-.6 1,-.8 .7,-.6 1.1,-.5 1.2,-.3 1.5,-.2M77.8,77.5l1,-.1 1.5,-.1 1.5,0 1.5,.1 1,.1 1.5,.5 1,.2 1,.3 1.3,.5 1.2,.4 1,.5 .8,.6 .2,.9 -.6,.6 -1,.5 -1.4,.5 -1,.3 -1.5,.2 -1,0 -1.5,.2 -1.5,0 -1,-.3 -1.5,-.1 -1.5,0 -1.5,-.2 -1,-.1 -1.5,-.5 -.9,-.5 -.9,-.5 -.8,-.5 -.8,-1 .9,-.9 1,-.5 1,-.4 1.1,-.2 1.4,-.3 1,-.2M121.1,126l1.2,-.2 1.4,.2 1.1,.3 1,.4 1,.5 1,.5 1,.8 .5,.8 .3,1.2 .1,1.5 -.4,1.5 -.3,1 -.3,1 -.4,1.3 -.3,1.2 -.2,1 -.2,1.5 -.3,1 -.5,1 -.8,1 -.7,.8 -.8,.7 -.7,.5 -1.3,.5 -1.2,0 -1,-.3 -1,-.3 -1.2,-.4 -1,-.5 -.8,-.6 -.8,-.9 -.4,-1 -.1,-1.5 .1,-1.5 .3,-1 .3,-1.5 .1,-1 .2,-1.5 .3,-1 .5,-1 .5,-1 .5,-1 .5,-1 .6,-1 .8,-1 .6,-.6 .8,-.4M84.6,135.5l1.2,-.2 1.5,0 1,.2 1.5,.3 1,.4 1,.5 1,.6 .9,.7 .6,.5 .6,1 -.1,1.4 -.5,.6 -1,.7 -1,.4 -1,.4 -1.5,.4 -1,.1 -1.5,.2 -1.5,0 -1.5,0 -1.3,-.2 -1,-.5 -.7,-.6 -1,-.9 -.6,-.5 -.6,-1 .3,-1 .8,-1 .6,-.5 1,-.8 1,-.6 1,-.4 .8,-.2M77.2,78l1.1,-.2 1.5,-.1 1.5,-.1 1.5,.1 1.5,.2 1,.3 1.3,.3 1.2,.4 1,.3 1,.4 1.1,.4 .9,.9 -.1,.6 -.9,.6 -1,.4 -1.5,.4 -1,.2 -1.5,.1 -1.5,.1 -1.5,0 -1.5,-.3 -1,-.1 -1.5,0 -1.5,-.1 -1.5,-.3 -1,-.3 -1,-.6 -1,-.6 -.6,-.5 .1,-1 1,-.5 1.3,-.5 1.2,-.2 1.4,-.3M121.5,126.5l1.3,-.1 1,.2 1,.4 1.1,.5 1.1,.5 .8,.5 .9,1 .3,1 0,1.5 -.2,1.2 -.4,1.3 -.3,1 -.3,1 -.5,1.5 -.1,1 -.2,1.5 -.4,1 -.6,1 -.7,.9 -.6,.6 -.9,.8 -1,.5 -1.5,.1 -1.1,-.4 -1.4,-.5 -1,-.3 -1,-.7 -.5,-.5 -.6,-1 -.2,-1.5 .2,-1.5 .2,-1 .3,-1.5 .1,-1 .3,-1.5 .3,-1 .6,-1 .4,-1 .6,-1 .4,-1 .7,-1 .7,-.8 1,-.6 .2,-.1M86.3,136l.5,0 1.5,.2 1.3,.3 1.2,.4 1,.6 .8,.5 .7,.5 .7,1 -.2,1.4 -1,.5 -1,.3 -1.2,.3 -1.3,.3 -1.5,.2 -1.5,0 -1.5,-.2 -1.5,-.2 -1,-.5 -.9,-.6 -.6,-.7 0,-1.2 .5,-.8 .8,-.8 .9,-.5 1.1,-.5 1.2,-.3 1,-.2M76.5,78.5l1.3,-.2 1.5,-.2 1.5,-.1 1.5,0 1.5,.2 1.4,.3 1.1,.3 1,.3 1.2,.4 1.3,.5 1,.5 .1,1 -.8,.5 -1.3,.4 -1,.3 -1.5,0 -1.5,0 -1.5,0 -1.2,-.2 -1.3,-.1 -1.3,.1 -1.2,0 -1,-.1 -1.5,-.2 -1,-.4 -1,-.6 -1,-.7 0,-.7 1,-.6 1,-.4 1.5,-.2 .2,-.1M122.2,127l.6,0 1.5,.5 1,.4 1,.5 1,.6 .6,.5 .4,1 .1,1.5 -.2,1 -.4,1.5 -.3,1 -.4,1 -.4,1 -.2,1.5 -.2,1.3 -.5,1.2 -.5,.9 -.5,.6 -1,1 -.8,.5 -1.2,.3 -1,-.3 -1.5,-.5 -1,-.3 -1,-.6 -.7,-.6 -.4,-1 -.1,-1.5 .2,-1.3 .2,-1.2 .3,-1.5 .2,-1 .3,-1.2 .5,-1.1 .5,-1 .5,-1 .5,-1.1 .5,-.9 .5,-.7 1,-.8 .9,-.2M85.4,137.5l1.4,-.4 1.5,0 1.5,.4 .9,.5 .6,.5 .7,1 -.5,1 -1.2,.5 -1,.3 -1.5,.1 -1.5,-.1 -1.5,-.3 -1,-.3 -1,-.7 .5,-1 1,-.8 1,-.6 .1,-.1M78.6,79l1.2,-.3 1.5,-.1 1.5,.1 1.2,.3 1.3,.5 1,.3 1,.3 1.3,.4 .2,1 -1,.3 -1.5,0 -1.5,-.1 -1.5,.1 -1.5,-.2 -1.5,0 -1.5,0 -1.5,.1 -1.5,-.1 -1,-.5 -.6,-.6 .6,-.9 1,-.2 1.5,-.1 1.3,-.3M121.2,128l1.1,-.4 1.5,.3 1,.4 1,.5 1,.6 .6,.6 .4,1.5 -.2,1.5 -.3,1 -.5,1.4 -.5,1.1 -.3,1 -.2,1.1 -.2,1.4 -.3,1 -.6,1 -.8,1 -.6,.5 -1,.5 -1,0 -1.5,-.5 -1,-.3 -1,-.5 -.8,-.7 -.4,-1 .1,-1.5 .2,-1 .3,-1.5 .2,-1 .3,-1.5 .4,-1 .5,-1 .5,-1 .4,-1 .5,-1 .7,-1 .5,-.5M121.6,128.5l1.2,-.2 1,.3 1,.5 1,.6 .8,.8 .3,1 -.1,1 -.5,1.2 -.7,.8 -.8,.6 -1,.8 -.5,.7 -.3,1.4 .5,1 .8,.6 .1,1.4 -.6,.9 -.5,.7 -1.5,.3 -1,-.4 -1.5,-.5 -1,-.4 -.5,-.6 0,-1.4 .3,-1.1 .2,-1 .1,-1.5 .2,-1.5 .7,-1 .5,-.7 .5,-1.3 .1,-1 .4,-1.1 .8,-.9M122.5,131l1.3,-.2 .8,.7 -.3,1.5 -.5,.6 -1,.7 -.7,-.8 .1,-1.5 .3,-1" fill="none" stroke="#111" stroke-width="0.7" stroke-opacity="0.9"/>
</g>
<rect x="58.8" y="65.5" width="95.39999999999999" height="88.69999999999999" fill="none" stroke="#333" stroke-width="0.8"/>
<line x1="106.40" y1="65.50" x2="106.40" y2="154.20" stroke="#222" stroke-width="0.8" />
<line x1="58.80" y1="116.70" x2="154.20" y2="116.70" stroke="#222" stroke-width="0.8" />
<circle cx="106.4" cy="116.7" r="1.3" fill="#111"/>
<circle cx="106.4" cy="65.5" r="0.9" fill="#111"/>
<circle cx="154.2" cy="116.7" r="0.9" fill="#111"/>
<path d="M58.8,154.2v2.6 M58.8,154.2h-2.6 M66.0,154.2v1.4 M58.8,147.5h-1.4 M70.2,154.2v1.4 M58.8,143.6h-1.4 M73.2,154.2v1.4 M58.8,140.8h-1.4 M75.5,154.2v1.4 M58.8,138.7h-1.4 M77.4,154.2v1.4 M58.8,136.9h-1.4 M79.0,154.2v1.4 M58.8,135.5h-1.4 M80.3,154.2v1.4 M58.8,134.2h-1.4 M81.6,154.2v1.4 M58.8,133.0h-1.4 M82.6,154.2v2.6 M58.8,132.0h-2.6 M89.8,154.2v1.4 M58.8,125.3h-1.4 M94.0,154.2v1.4 M58.8,121.4h-1.4 M97.0,154.2v1.4 M58.8,118.7h-1.4 M99.3,154.2v1.4 M58.8,116.5h-1.4 M101.2,154.2v1.4 M58.8,114.8h-1.4 M102.8,154.2v1.4 M58.8,113.3h-1.4 M104.2,154.2v1.4 M58.8,112.0h-1.4 M105.4,154.2v1.4 M58.8,110.9h-1.4 M106.5,154.2v2.6 M58.8,109.8h-2.6 M113.7,154.2v1.4 M58.8,103.2h-1.4 M117.9,154.2v1.4 M58.8,99.3h-1.4 M120.9,154.2v1.4 M58.8,96.5h-1.4 M123.2,154.2v1.4 M58.8,94.4h-1.4 M125.1,154.2v1.4 M58.8,92.6h-1.4 M126.7,154.2v1.4 M58.8,91.1h-1.4 M128.0,154.2v1.4 M58.8,89.8h-1.4 M129.3,154.2v1.4 M58.8,88.7h-1.4 M130.3,154.2v2.6 M58.8,87.7h-2.6 M137.5,154.2v1.4 M58.8,81.0h-1.4 M141.7,154.2v1.4 M58.8,77.1h-1.4 M144.7,154.2v1.4 M58.8,74.3h-1.4 M147.0,154.2v1.4 M58.8,72.2h-1.4 M148.9,154.2v1.4 M58.8,70.4h-1.4 M150.5,154.2v1.4 M58.8,68.9h-1.4 M151.9,154.2v1.4 M58.8,67.6h-1.4 M153.1,154.2v1.4 M58.8,66.5h-1.4 M154.2,154.2v2.6 M58.8,65.5h-2.6" stroke="#222" stroke-width="0.5" fill="none"/>
<text x="57.6" y="162.9" font-size="4.2" font-weight="normal" fill="#333">10<tspan dy="-2.3" font-size="3.2">0</tspan></text>
<text x="54.4" y="156.8" font-size="4.2" font-weight="normal" text-anchor="end" fill="#333">10<tspan dy="-2.3" font-size="3.2">0</tspan></text>
<text x="81.4" y="162.9" font-size="4.2" font-weight="normal" fill="#333">10<tspan dy="-2.3" font-size="3.2">1</tspan></text>
<text x="54.4" y="134.6" font-size="4.2" font-weight="normal" text-anchor="end" fill="#333">10<tspan dy="-2.3" font-size="3.2">1</tspan></text>
<text x="105.3" y="162.9" font-size="4.2" font-weight="normal" fill="#333">10<tspan dy="-2.3" font-size="3.2">2</tspan></text>
<text x="54.4" y="112.4" font-size="4.2" font-weight="normal" text-anchor="end" fill="#333">10<tspan dy="-2.3" font-size="3.2">2</tspan></text>
<text x="129.2" y="162.9" font-size="4.2" font-weight="normal" fill="#333">10<tspan dy="-2.3" font-size="3.2">3</tspan></text>
<text x="54.4" y="90.3" font-size="4.2" font-weight="normal" text-anchor="end" fill="#333">10<tspan dy="-2.3" font-size="3.2">3</tspan></text>
<text x="153.0" y="162.9" font-size="4.2" font-weight="normal" fill="#333">10<tspan dy="-2.3" font-size="3.2">4</tspan></text>
<text x="54.4" y="68.1" font-size="4.2" font-weight="normal" text-anchor="end" fill="#333">10<tspan dy="-2.3" font-size="3.2">4</tspan></text>
<text x="60.099999999999994" y="70.1" font-size="4.7" font-weight="normal" fill="#222">24.33</text>
<text x="153.39999999999998" y="70.1" text-anchor="end" font-size="4.7" font-weight="normal" fill="#222">0.16</text>
<text x="60.0" y="153.39999999999998" font-size="4.7" font-weight="normal" fill="#222">20.08</text>
<text x="153.39999999999998" y="153.39999999999998" text-anchor="end" font-size="4.7" font-weight="normal" fill="#222">55.42</text>
<text x="153.90" y="127.90" font-size="10.2" font-weight="bold" text-anchor="end" fill="#000" stroke="#000" stroke-width="0.25" textLength="11.7" lengthAdjust="spacingAndGlyphs">55</text>
<clipPath id="c2"><rect x="169.5" y="65.5" width="96.0" height="88.30000000000001"/></clipPath>
<g clip-path="url(#c2)" filter="url(#bl)">
<path d="M196.7,76l1.8,-.2 1.9,.2 1.6,.1 2,.2 1.5,.4 1.8,.3 1.7,.4 1.5,.3 1.5,.4 1.5,.7 1.2,.7 1.1,1 .5,1.5 -.7,1.5 -.6,1 -1,1.3 -1,1.2 -1,.8 -.7,1.2 .2,1.5 .8,1.5 .7,1.1 .7,1.4 -.2,1.6 -.7,1.4 -.8,1.2 -.6,1.3 -.6,1.5 -.4,1.5 -.1,2 .3,1.5 .4,1.6 .1,1.9 -.2,1.5 -.3,2 .4,2 .5,1 1,1.4 .6,1.1 .8,1.5 .5,1.5 .5,1.5 .4,1.5 0,2 .2,1.9 .1,1.6 0,2 0,2 -.3,1.5 -.4,1.5 -.8,1.5 -.8,1 -1,1 -1.3,.8 -1,.9 -1,.8 -1.1,1 -.1,2 -.8,1.2 -1.5,.4 -2,.2 -1.5,-.5 -1.5,-.7 1,-.4 1.5,-.7 .7,-1 -1.2,-.7 -1.5,-.4 -2,-.4 -.8,-1 -1.2,-.8 -1.5,-.6 -1,-.6 -1.3,-1 -.7,-1 -.5,-1.8 -.2,-1.7 -.2,-2 -.1,-2 -.1,-1.5 .1,-1.5 .5,-1.6 .7,-1.4 .8,-1.3 1,-1.1 .8,-1.1 .5,-1.5 .1,-2 -.3,-2 .2,-2 .4,-1.5 -.1,-2 -.4,-1.5 -.3,-1.5 .1,-1.6 .2,-1.9 -.2,-2 -.2,-1.5 -.8,-1.3 -.9,-1.2 -.1,-1.1 .5,-1.8 .4,-1.6 .4,-1.5 .7,-1.2 .7,-1.3 -.7,-1.1 -1.5,-.9 -1,-.9 -1,-1.1 -1,-.8 -1,-.8 -1.3,-.9 -1.1,-1 -.5,-1.5 .9,-1.2 1.3,-.8 1.2,-.7 1.5,-.6 1.5,-.3 1.7,-.4 1.5,-.5zM227.6,135l1.6,0 .7,1.5 .2,1.5 -.5,1.5 -1.1,1 -1,0 -.8,-1.5 0,-2 .5,-1.5z" fill="#000" fill-opacity="0.15"/>
<path d="M197.2,77l1.8,-.1 1.5,.1 2,.2 1.9,.3 1.6,.2 1.5,.4 1.7,.4 1.8,.3 1.5,.6 1.2,.6 1.2,1 .1,1.3 -1,1 -1.3,.7 -1.2,.5 -1.5,.6 -1.4,.9 -.3,1.5 -.7,1.5 -.4,1.5 -.2,2 .3,2 0,2 -.3,2 -.5,1.4 -.5,1.1 -.5,1.5 .1,1.5 .9,1.5 .5,1.2 .2,1.8 -.2,2 -.3,1.5 -.5,1.5 -.4,1.5 -.1,2 0,2 .5,1.5 .8,1.5 .4,1.5 .7,1 1.1,1 1,1 1,1 .8,1 1,1.5 .5,1.5 .2,1.5 -.1,2 -.5,1.5 -.6,1.1 -1,1.1 -1.2,.8 -1.3,.6 -1.5,.7 -1.5,.3 -2,-.1 -1.5,-.1 -1.9,-.4 -1.5,-.5 -1.4,-.5 -1.3,-.5 -1.4,-.8 -.9,-1.2 -.4,-1.5 -.3,-1.5 .1,-1.6 .5,-1.9 .5,-1.1 .8,-1.4 1,-1 1.2,-.7 1.5,-.7 1.2,-.6 1,-1 .4,-1.5 .2,-2 -.1,-2 -.5,-1.5 -.5,-1.5 -.1,-2 0,-2 -.2,-1.5 0,-2 .4,-1.5 .5,-1.5 .3,-1.5 -.2,-1.5 -.4,-1.6 -.5,-1.7 -.5,-1.2 -.7,-1.5 -.2,-2 .5,-1.5 .8,-1.5 .4,-1.5 -.8,-1.3 -.8,-1.2 -1.2,-1 -1.4,-.5 -1.2,-.5 -1.6,-.5 -1.3,-.5 -1.5,-.8 -1.2,-.7 -1.1,-1 -.2,-1.1 1.1,-.9 1.4,-.8 1.5,-.4 1.5,-.4 1.7,-.4 1.5,-.5z" fill="#000" fill-opacity="0.3"/>
<path d="M197.8,78l1.7,0 1.5,.1 2,.2 1.5,.3 2,.2 1.5,.3 1.5,.4 1.8,.5 1.2,.5 1.2,1 -.7,1 -1.5,.7 -1.5,.5 -1.5,.4 -2,.2 -1.5,.2 -2,.2 -2,.2 -2,-.3 -1.5,-.3 -1.5,-.4 -1.5,-.4 -1.5,-.6 -1.5,-.6 -1.2,-.8 .5,-1.5 1.3,-.5 1.9,-.5 1.5,-.4 1.5,-.5zM202.1,128l1.9,-.2 1.8,.2 1.3,.5 1.4,.8 1,.7 1,1 .9,1.5 .2,1.5 -.2,1.5 -.9,1.2 -1,.8 -1.5,.8 -1.5,.6 -1.5,.2 -1.7,-.1 -1.8,-.3 -1.5,-.5 -1.5,-.6 -1.2,-.6 -1.3,-1 -.5,-1.5 0,-1.4 .5,-1.6 .7,-1 1.1,-1 1.2,-.5 1.5,-.6 1.6,-.4z" fill="#000" fill-opacity="0.4"/>
<path d="M196.4,79l1.6,-.4 2,.1 2,.2 1.5,.1 2,.4 1.5,.1 2,.4 1.5,.4 1.5,.7 0,1.2 -1.5,.7 -1.5,.4 -2,.2 -1.5,.1 -2,.3 -1.6,.1 -1.9,.1 -1.5,-.3 -1.5,-.3 -1.6,-.5 -1.6,-.5 -1.3,-.6 -1.3,-.9 1.3,-1 1.5,-.3 1.5,-.4zM201.7,129.5l1.8,-.2 1.5,.2 1.5,.6 1.5,.7 1,.7 1,1.1 .3,1.9 -.7,1.5 -1.1,.9 -1.2,.6 -1.8,.5 -1.5,0 -1.5,-.1 -1.5,-.4 -1.5,-.6 -1.5,-.9 -1,-1 -.3,-1.5 .5,-1.5 1.1,-1 1.2,-.7 1.5,-.6z" fill="#000" fill-opacity="0.3"/>
<path d="M197,79.5l2,-.4 1.7,.4 1.8,.4 1.5,.3 2,.1 2,.1 1.5,.2 1.5,.6 -.5,1.1 -1.5,.4 -2,.1 -2,0 -1.5,.3 -1.7,.4 -1.8,.1 -1.5,-.3 -1.6,-.3 -1.4,-.6 -1.3,-.9 .8,-1.1 1.5,-.6zM201.2,130.5l1.8,-.4 1.9,.4 1.1,.8 1.1,.7 1.4,1 .4,1.5 -.9,1.4 -1,.7 -1.5,.4 -2,0 -1.5,-.2 -1.5,-.6 -1.5,-.7 -1,-.6 -.3,-1.9 .8,-1.1 1.5,-.9 1.2,-.5z" fill="#000" fill-opacity="0.3"/>
<path d="M194.9,74l1.1,-.3 1.5,-.1 1.5,0 1.5,.1 1.5,.1 1.5,0 1.4,.2 1,.5 1.1,.3 1,.4 1,.4 1.5,.4 1,.1 1.3,.4 1.2,.4 1,.3 1,.5 1,.8 .5,.5 .8,1 .3,1 0,1.5 -.4,1 -.5,1 -.7,.8 -.5,.9 -.2,1.3 .2,1 .3,1.5 0,1.5 0,1.5 0,1.5 0,1.5 -.1,1.5 -.1,1.5 -.2,1 -.4,1.5 -.3,1 -.3,1 -.1,1.5 .2,1.4 .3,1.1 .1,1.5 0,1.5 .1,1.5 .2,1 .3,1 .3,1.5 .1,1.5 0,1.5 .1,1.5 0,1.5 0,1.5 0,1.5 0,1 .5,1 .6,1 .5,1 .4,1 .6,1 .9,-.3 .5,-.8 .5,-1 .5,-.9 .7,-1 .8,-.9 .9,-.6 .8,-.5 .8,-.5 1,-.6 1.5,-.3 1.5,0 1.5,0 1.4,.4 1.1,.5 .8,.5 .7,.6 .8,.9 .6,1 .6,.9 .5,1.1 .3,1 .4,1 0,1.5 .4,1 -.1,1.5 0,1 -.5,1.5 -.1,1 -.4,1 -.5,1 -.6,1 -.4,1.4 -.4,1.1 -.4,1 -.7,.9 -.6,.6 -.9,.7 -1,.6 -1,.4 -1,.4 -1.1,-.1 -1.1,-.5 -.9,-.5 -.9,-.5 -1.2,-.5 -1.3,-.5 -.8,-.5 -.7,-1 -.5,-.7 -.7,-.8 -.8,-.7 -.7,-.8 -.6,-1 -.9,0 -.8,.8 -.7,.7 -.8,.7 -.7,.8 -.1,1.5 .8,.9 .5,.6 .1,1.5 -.3,1 -.8,1 -.6,.5 -.9,.6 -1.1,.4 -1.4,.5 -1,.2 -1.2,.3 -1.2,.5 -1.1,.3 -1,.2 -1.5,.2 -1.5,0 -1.5,0 -1.4,-.2 -1.1,-.3 -1,-.3 -1,-.5 -1,-.6 -1,-.7 -.6,-.6 -.9,-1 -.2,-1 0,-1.5 .3,-1 0,-1.5 -.6,-.7 -.8,-.8 -.7,-.7 -.8,-.8 -.7,-.8 -.5,-1 -.5,-1.1 -.2,-1.1 -.3,-1 -.1,-1.5 .1,-1.5 0,-1.5 0,-1 .4,-1.5 .4,-1 .4,-1 .4,-1 .1,-1.5 .1,-1.5 .1,-1.5 0,-1.5 .1,-1.5 -.1,-1.5 0,-1.5 .1,-1.5 .1,-1 .2,-1.5 .2,-1 0,-1.5 -.2,-1 -.4,-1 -.1,-1.5 -.1,-1.5 0,-1.5 -.1,-1.5 -.1,-1.5 0,-1 0,-1 .1,-1.5 .1,-1.5 .1,-1.5 .1,-1.5 -.1,-1.5 .1,-1.5 .2,-1 -.4,-1 -.7,-.6 -1,-.6 -1,-.7 -.9,-.6 -.6,-.6 -.6,-.9 -.5,-1 -.2,-1.5 .3,-1.5 .5,-.6 1,-.9 .8,-.5 .7,-.5 1,-.6 1,-.5 1,-.5 1.5,-.3 1,-.3 1.4,-.3M195.7,74l1.3,-.2 1.5,.1 1.5,.1 1,.1 1.5,.1 1.5,.2 1,.4 1,.4 1.1,.3 1.2,.5 1.2,.3 1,.2 1.5,.3 1,.3 1.3,.4 1.2,.5 .7,.5 .8,.8 .6,.7 .4,1 .1,1.5 -.3,1 -.6,1 -.6,1 -.5,1 -.2,1 .1,1.3 .4,1.2 .1,1 .1,1.5 0,1.5 -.1,1.5 0,1 -.3,1.5 -.3,1 -.4,1.2 -.5,1.3 -.3,1 -.2,1 -.1,1.5 .1,1 .4,1.5 .2,1 0,1.5 -.1,1.2 0,1.3 .2,1 .6,1 .5,1 .3,1 .1,1.5 0,1.5 0,1.5 .1,1.5 0,1.5 0,1.5 .4,1 .4,1 .3,1.5 .3,1 .3,1.2 .5,.3 1.3,0 .2,1.4 .7,.1 .4,-1 .4,-1 .5,-1.2 .4,-1.3 .1,-1 .5,-1.1 1,-.5 1,-.5 .8,-.9 .7,-.6 1,-.5 1.5,0 1.5,-.1 1.3,.2 1.2,.4 .8,.6 .8,.5 .9,1 .5,.9 .5,.8 .5,1.1 .4,1.2 .3,1 0,1.5 -.1,1.5 -.2,1 -.4,1 -.5,1.4 -.3,1.1 -.4,1 -.4,1 -.4,1 -.4,1.5 -.2,1 -.1,1.5 -.7,1 -.9,.5 -.7,.5 -1.5,.2 -1,-.3 -1,-.6 -1,-.5 -1,-.6 -1,-.4 -1,-.4 -1,-.7 -.6,-.7 -.6,-1 -.5,-1 -.4,-1 -.3,-1.5 -.4,-1 -1.1,0 -.6,1 -1,.3 -1,.5 -.5,1 -.6,.7 -.9,.8 -.7,.7 -.1,1.5 -.5,1 .4,1 .6,1 -.2,1.1 -1,.8 -1,.4 -1,.3 -1.4,.4 -1.1,.2 -1,.5 -1,.5 -1,.4 -1,.5 -1,.4 -1.5,.2 -1.5,.1 -1.4,-.3 -1.1,-.2 -1,-.4 -1,-.6 -1,-.8 -.5,-.5 -.8,-1 -.6,-1 -.2,-1 .1,-1.5 .2,-1 -.5,-1 -.7,-.9 -.7,-.6 -.8,-.7 -.8,-.8 -.5,-1 -.4,-1 -.3,-1.3 -.3,-1.2 0,-1.5 0,-1.5 0,-1.5 .1,-1.5 .2,-1.5 .2,-1 .4,-1 .4,-1.5 0,-1.4 .2,-1.1 .3,-1.3 .2,-1.2 .1,-1.5 -.1,-1.5 -.1,-1.5 .1,-1.5 .3,-1.3 .3,-1.2 .2,-1 .1,-1.5 -.3,-1 -.4,-1 -.4,-1.1 -.3,-1.4 -.2,-1.2 -.1,-1.3 -.1,-1.5 -.1,-1.5 0,-1.5 .1,-1.5 .2,-1.5 .3,-1 .1,-1.5 -.1,-1.5 0,-1.5 .1,-1.5 -.4,-1 -1,-1 -.7,-.5 -.8,-.6 -1,-.9 -.5,-.6 -.6,-.9 -.4,-1.2 0,-1.3 .5,-.9 .6,-.6 .9,-.7 1,-.7 .7,-.6 .8,-.6 1,-.5 1.5,-.4 1,-.3 1.1,-.2 1.1,-.5M221,134.7l-.5,.8 .5,.7 .2,-1.2 -.2,-.3M196.2,74.5l1.3,-.2 1.5,.1 1,.1 1.5,.3 1.5,.1 1,.2 1,.4 1.5,.4 1,.3 1,.3 1.5,.4 1,.1 1.5,.5 1,.3 1,.4 1,.5 .9,.8 .6,.8 .5,1.2 -.2,1.5 -.4,1 -.5,1 -.4,1.2 -.7,.8 -.4,1 .1,1 .5,1 .3,1.5 .2,1.5 .1,1 -.1,1.1 -.2,1.4 -.3,1 -.5,1.4 -.4,1.1 -.4,1 -.4,1 -.3,1.1 -.2,1.4 .1,1.5 .4,1 .3,1 .2,1.5 -.2,1.5 -.1,1 0,1 .5,1.5 .5,.9 .5,.9 .5,1.2 .2,1 .1,1.5 .1,1.5 .1,1.5 0,1 .1,1.5 .3,1.5 .1,1 .1,1.5 .1,1.5 .1,1.5 -.1,1.5 -.2,1.3 -.2,1.2 -.3,1 -.3,1.5 -.3,1 -.7,1 -.7,.7 -.8,.8 -.2,.9 .5,.6 -.5,.9 -.8,.6 -.7,.7 0,.9 .5,.9 -.5,.5 -1.1,.5 -1.4,.5 -1,.4 -1,.5 -1,.4 -1,.4 -1,.5 -1,.4 -1.5,.3 -1.5,-.2 -1,-.2 -1.1,-.5 -.9,-.6 -1,-.9 -.5,-.5 -.7,-1 -.3,-1.5 -.1,-1 -.4,-1 .1,-1 -.4,-1 -.7,-.6 -1,-.8 -.7,-.6 -.8,-1 -.4,-1 -.2,-1 -.3,-1.5 -.1,-1.5 .1,-1.5 -.1,-1 -.1,-1.5 .1,-1.2 .1,-1.3 .2,-1.5 .4,-1 .3,-1 .5,-1.5 .3,-1 .3,-1 .2,-1.5 0,-1.5 -.2,-1.5 0,-1.5 .2,-1.5 .2,-1 .4,-1.5 .2,-1 -.1,-1 -.4,-1.5 -.4,-1 -.2,-1 -.4,-1.5 -.2,-1 -.4,-1.5 -.2,-1 -.3,-1.5 0,-1 .1,-1 .4,-1.5 .3,-1 .3,-1 .1,-1.5 -.1,-1.5 .1,-1.5 0,-1.5 -.7,-.7 -.6,-.8 -.6,-1 -.8,-.7 -.9,-.8 -.6,-.6 -.7,-.9 -.5,-1 -.1,-1.5 .8,-.9 .7,-.6 .8,-.5 1,-.8 1,-.7 1,-.5 1,-.3 1,-.3 1.5,-.3 1,-.5 .2,-.1M230,124.5l1.5,-.1 1,.3 1,.7 .7,.6 .5,1 .3,1.4 .3,1.1 .5,1 .5,1 -.2,1.5 -1.1,.5 -1,.1 -.8,.9 .3,1 .6,1 .6,1 .1,1.5 -.3,1 -.5,1.3 -.5,.9 -.5,.8 -1,.8 -1,.5 -1,.4 -1.5,.1 -1,-.3 -1.5,-.5 -.9,-.5 -.6,-.6 -.7,-.9 -.4,-1 -.3,-1.5 -.1,-1.5 -.1,-1 0,-1.5 -.2,-1.5 .2,-1.5 .3,-1 .4,-1 .7,-1 .7,-.8 1,-.5 1,-.7 .5,-.6 .5,-.9 .8,-1 1.2,-.5M219.4,133l.3,.5 -.1,1.5 .1,1.5 -.3,1 -.4,1.1 -.2,-1.1 0,-1.5 .3,-1 .3,-1.5 0,-.5M197.3,75l1.2,0 1,.1 1.5,.4 1,.1 1.5,0 1.1,.4 1.4,.2 1.1,.3 1.4,.3 1,.3 1.5,.3 1,.2 1,.5 1,.4 1,.6 1,.9 .5,.6 .4,1.4 -.4,1.3 -.4,1.2 -.2,1 -.8,1 -.6,.6 -.7,.9 .1,1.5 .5,1 .4,1 .2,1 .3,1.5 -.1,1.5 -.2,1 -.5,1.4 -.5,1.1 -.5,.8 -.5,.9 -.5,1.3 -.2,1 -.2,1.5 .1,1.5 .4,1 .4,1.2 .2,1.3 -.2,1.1 -.3,1.4 0,1.5 .4,1 .6,1 .7,1 .4,1 .3,1 .3,1.5 .2,1 .2,1.5 .1,1.5 .3,1 .2,1.5 .1,1.3 0,.7 -.1,1.5 0,1.5 .1,1 0,1.3 -.1,1.2 -.3,1.5 -.3,1 -.3,1 -.5,1 -.7,1 -.8,.8 -.8,.7 -.5,1 -.4,1 -.8,1 -.1,1 -.7,1 -.3,1 -.9,.6 -1,.5 -1,.4 -1.5,.5 -1,.4 -1,.4 -1,.3 -1.5,-.1 -1,-.2 -1,-.4 -1,-.7 -.9,-.7 -.6,-.8 -.1,-1.2 -.5,-1 -.9,-.9 .2,-.6 .8,-1 0,-.7 -1,-.7 -1,-.6 -.9,-.5 -.7,-.5 -.7,-1 -.4,-1 -.3,-1.5 -.1,-1 0,-1.5 -.1,-1.5 -.2,-1.5 0,-1.5 -.1,-1.5 .2,-1.5 .3,-1 .6,-1 .5,-1 .5,-1 .4,-1.2 .4,-1.3 .2,-1 -.1,-1.5 -.2,-1 -.2,-1.5 .2,-1.5 .4,-1 .4,-1 .1,-1.5 -.2,-1.4 -.4,-1.1 -.3,-1 -.3,-1.2 -.1,-1.3 -.3,-1.5 -.3,-1 -.4,-1 -.4,-1.3 -.2,-1.2 .2,-1.2 .4,-1.3 .3,-1 .3,-1.2 0,-1.3 0,-1.5 .4,-1.5 .1,-.5 -.5,-1.1 -1,-.8 -.6,-.6 -.4,-1.1 -.7,-.9 -.8,-.6 -1,-.9 -.6,-.5 -.7,-1 0,-1.5 .8,-.9 .9,-.6 .8,-.5 .9,-.5 1,-.5 1.4,-.5 1,-.3 1.1,-.2 1.2,-.5 1.2,-.5 .3,0M230.1,126.5l1.4,-.2 1,.6 .5,.8 .2,1.3 -.2,1.5 -.5,.9 -.5,.6 -.6,1 -.2,1.5 .4,1 .5,1 .6,1 .2,1.5 -.4,1.1 -.7,.9 -.8,.7 -1,.7 -1,.6 -1,.2 -1,-.2 -1.1,-.5 -.9,-.9 -.5,-1.1 -.2,-1 0,-1.5 -.1,-1.5 -.1,-1.5 0,-1.5 .4,-1.4 .5,-.9 .6,-.7 .9,-.6 1,-.7 .7,-.7 .7,-1 .6,-.6 .6,-.4M196.1,76l1.4,-.4 1.5,0 1.5,.2 1.5,.1 1.2,.1 1.3,.3 1,.2 1.5,.2 1,.3 1.5,.3 1,.2 1.5,.5 1,.4 1,.5 1,.6 .6,.5 .8,1 0,1.5 -.5,1 -.4,1.2 -.6,.8 -.7,1 -.7,.8 -1,.7 -.5,1 .5,1.5 .5,.9 .5,.6 .6,1 .3,1.5 -.1,1.5 -.4,1 -.6,1 -.7,1 -.5,1 -.4,1 -.4,1 -.3,1.5 -.1,1 .1,1 .4,1.5 .3,1 .2,1.5 -.2,1.5 -.2,1.1 -.1,1.4 .2,1 .4,1 .7,1 .7,1 .6,1 .3,1 .3,1 .4,1.5 .2,1 .3,1.3 .3,1.2 .1,1.5 .1,1 0,1 -.1,1.5 0,1.5 .1,1.5 -.2,1.5 -.3,1.5 -.3,1 -.4,1 -.6,1 -.7,.9 -.6,.6 -.9,.7 -1,.7 -.5,.7 -1,.9 -.5,1 -.1,1 -.4,1.3 -.5,.7 -1,.5 -1.5,.4 -1,.2 -1.5,.2 -1.5,-.1 -1.1,-.2 -1.3,-.5 -.4,-1 -.7,-.6 -1,-.9 0,-.5 .1,-1.5 .5,-1 -.6,-.8 -1,-.5 -1,-.5 -1,-.6 -.9,-.6 -.6,-.7 -.5,-1.2 -.3,-1.1 -.2,-1.4 -.1,-1.1 -.1,-1.5 -.1,-1.5 -.1,-1.5 -.1,-1 0,-1.3 .4,-1.2 .5,-1 .6,-1 .5,-.8 .6,-.7 .7,-1 .4,-1 .3,-1.2 .1,-1.3 -.1,-1 -.3,-1.5 0,-1.5 .3,-1.1 .4,-1.4 0,-1.5 -.3,-1.5 -.3,-1 -.2,-1.5 0,-1.5 .1,-1.5 -.2,-1.1 -.5,-1.4 -.5,-.7 -.6,-.8 -.4,-1.5 .2,-1.5 .4,-1 .4,-1.4 .1,-1.1 .2,-1.5 .4,-1 .8,-1 0,-.5 -1,-.9 -1,-.5 -.5,-.6 -.9,-1 -.6,-.7 -.5,-.8 -1,-.7 -1,-.8 -.7,-.5 -.7,-1 -.2,-1 .6,-1 .6,-.5 .9,-.5 1,-.6 1,-.5 1.3,-.4 1.2,-.3 1,-.3 1.5,-.4 .1,0M230,129l1,-.1 .1,1.1 -.5,1 -.5,1 -.3,1 .2,1.5 .3,1 .4,1 .3,1 0,1.2 -.5,1.1 -.6,.7 -.9,.8 -1,.4 -1,-.3 -.9,-.9 -.4,-1 0,-1.5 0,-1.5 .2,-1.5 .3,-1 .7,-1 .6,-.5 .8,-1 .6,-1 .6,-1 .5,-.5" fill="none" stroke="#111" stroke-width="0.6" stroke-opacity="0.55"/>
<path d="M197.7,76l1,0 1.3,.1 1.5,.1 1.5,.1 1.2,.2 1.3,.3 1.4,.2 1.1,.3 1,.2 1.5,.3 1,.2 1.1,.5 1,.5 .9,.5 1,.8 .5,.7 0,1.5 -.5,.9 -.5,.6 -.9,1 -.6,.7 -.8,.8 -.7,.9 -.7,.6 -.5,1 .2,1.5 .4,1 .4,1 .6,1 .5,1 0,1.5 -.5,1 -.6,1 -.5,1 -.4,1 -.4,1.1 -.5,1.4 -.2,1 .1,1.5 .2,1 .3,1.5 .2,1 0,1.5 -.1,1 -.3,1.5 -.2,1.5 .2,1.5 .5,1 .6,1 .7,1 .5,.9 .5,.8 .5,.8 .6,1 .4,1.1 .5,1.3 -.1,.6 -.1,1.5 .2,1.5 .2,1 .2,1.5 0,1.5 0,1.5 -.1,1.5 -.3,1.2 -.4,1.3 -.5,1 -.6,.9 -.5,.6 -1,.9 -1,.5 -1,.6 -.5,.7 -1,.7 -1,.5 -1,.5 -1.5,-.1 -1,-.3 -1.5,-.3 -1.1,-.2 -1.4,-.3 -1,-.3 -.8,-.9 -.9,-.5 -1.3,-.5 -1,-.5 -.8,-.5 -.7,-.5 -.7,-1 -.4,-1 -.3,-1.5 -.1,-1 -.1,-1.5 -.2,-1.5 0,-1.5 .1,-1.5 .2,-1.2 .4,-1.3 .5,-1 .5,-1 .6,-.9 .6,-.6 .9,-.9 .5,-.7 .4,-1.4 .1,-1 0,-1.2 -.1,-1.3 -.1,-1.5 .2,-1.1 .3,-1.4 -.1,-1.5 -.2,-1 -.4,-1.5 -.1,-1 0,-1 .3,-1.5 .1,-1.5 -.2,-1.5 -.1,-1.5 -.3,-1 -.8,-1 -.5,-.7 -.2,-1.3 .2,-1.1 .4,-1.4 .2,-1 .4,-1 .6,-1 .6,-1 -.2,-1.2 -1,-.7 -.6,-.6 -.9,-.6 -.9,-.9 -.6,-.5 -1,-.7 -1,-.7 -.9,-.6 -.7,-.5 -.9,-.8 -.6,-.7 0,-1.5 .6,-.6 1,-.6 1,-.6 1,-.5 1,-.3 1.5,-.4 1,-.2 1.2,-.3 1.3,-.4 .7,-.1M228.3,136l.7,.1 .4,1.4 -.3,1.5 -.6,.6 -1,-.6 -.1,-1 .2,-1 .7,-1M204.3,147l1.2,-.1 .5,.2 -1.5,.4 -.7,0 .5,-.5M196.6,76.5l1.4,-.2 1.5,0 1.5,.2 1,0 1.5,.1 1.5,.4 1,.1 1.5,.3 1,.3 1.3,.3 1.2,.2 1,.3 1,.5 1,.5 1,.7 .7,.8 0,1.5 -.7,.9 -.7,.6 -.8,.6 -1,.6 -1,.6 -.5,.7 -.5,1.1 -.5,.9 -.2,1.5 .2,1.3 .3,1.2 .3,1 .3,1.5 -.2,1.5 -.3,1 -.4,1.5 -.3,1 -.4,1 -.4,1 -.3,1.5 .2,1.5 .3,1 .3,1.5 .1,1.5 -.2,1.5 -.3,1.5 -.2,1 -.3,1.2 0,1.3 .1,1 .4,1.2 .5,1.1 .5,.8 .8,.9 .7,.6 1,.9 .6,.5 .9,.9 0,1 -.3,1.1 0,1.5 .3,1.1 .5,1.3 .2,1.1 .2,1.5 0,1.5 -.2,1.5 -.2,1 -.5,1.5 -.5,.9 -.5,.6 -.9,1 -.7,.5 -1,.5 -1,.5 -.9,.8 -1,.5 -1,.3 -1.5,-.1 -1,-.1 -1.5,-.2 -1.1,-.2 -1.2,-.5 -1.2,-.5 -1,-.4 -1,-.4 -1,-.4 -1,-.5 -1,-.7 -.5,-.6 -.5,-1 -.4,-1.5 -.1,-1.2 -.2,-1.3 -.1,-1.5 .2,-1.5 .2,-1 .4,-1 .4,-1.5 .6,-1 .5,-.6 .8,-.9 .7,-.8 .5,-.8 .6,-.9 .9,-.8 .6,-.7 -.1,-1.1 -.4,-1.4 -.2,-1 -.1,-1.5 .2,-1.5 .2,-1 -.1,-1.5 -.2,-1 -.4,-1.5 -.1,-1 .1,-1.1 .3,-1.4 .2,-1.5 -.1,-1.5 0,-1.5 -.1,-1.5 -.4,-1 -.8,-1 -.5,-1 -.1,-1 .1,-1 .4,-1.2 .5,-1.2 .5,-1 .4,-1.1 -.4,-1.5 -.5,-.5 -.9,-1 -.6,-.5 -1,-.6 -1,-.5 -1,-.5 -1,-.5 -1,-.7 -1,-.6 -.7,-.6 -.8,-.7 -.4,-1.3 .8,-1 .8,-.5 .9,-.5 1.1,-.5 1.3,-.4 1,-.2 1.5,-.4 1,-.3 .6,-.2M196.2,77l1.3,-.4 1.5,0 1.5,.1 1.5,.1 1.5,.1 1,.3 1.5,.2 1,.2 1.5,.4 1,.2 1.3,.3 1.2,.4 1,.4 1,.5 .9,.7 .6,1 0,.5 -.6,1 -.9,.8 -1,.6 -1,.4 -1,.5 -1,.5 -.5,1.2 -.1,1 -.6,1 -.2,1.5 .2,1.5 .2,1.5 .1,1 -.1,1.5 -.1,1 -.2,1.5 -.2,1 -.5,1.2 -.5,1.2 -.2,1.1 .2,1.4 .3,1.1 .4,1 .2,1.5 -.1,1.5 -.2,1.5 -.3,1 -.3,1.2 -.3,1.3 -.1,1.5 .1,1.5 .2,1.5 .3,1 .8,.8 1,.6 .9,.6 .6,.7 0,1.3 -.1,1 .6,.8 .5,.7 .7,1 .5,1 .5,1 .3,1 .3,1.5 .1,1.5 -.2,1.5 -.3,1 -.4,1.2 -.5,.8 -.8,1 -.7,.6 -1,.6 -1,.5 -1,.5 -1,.4 -1.2,.4 -1.3,.1 -1,-.2 -1.5,-.2 -1,-.2 -1.5,-.4 -1,-.4 -1,-.4 -1,-.3 -1.2,-.5 -.9,-.5 -.9,-.8 -.5,-1 -.3,-1.2 -.2,-1.4 -.2,-1.1 0,-1.5 .2,-1 .5,-1.5 .4,-1 .6,-1 .5,-.8 .8,-.7 .8,-.5 .9,-.5 1,-.6 1,-.7 .5,-.9 .2,-1.3 .3,-1.2 0,-.8 -.5,-1.2 -.5,-1.2 -.3,-1.1 0,-1.5 .2,-1.5 -.1,-1.5 -.3,-1.5 -.1,-1 .1,-1.5 .2,-1 .3,-1.5 0,-1 0,-1.1 -.1,-1.4 -.1,-1.5 -.3,-1.4 -.5,-1 -.5,-.8 -.5,-1.3 0,-.9 .2,-1.1 .4,-1 .4,-1 .5,-1 0,-1.4 -.5,-.7 -.5,-.9 -.9,-1 -.7,-.5 -1.1,-.5 -1.3,-.4 -1,-.5 -1,-.4 -1,-.6 -1,-.6 -.7,-.5 -.8,-.7 -.6,-.8 .4,-1 .7,-.5 1,-.6 1,-.5 1.3,-.4 1.2,-.3 1,-.2 1.5,-.4 .2,-.1M197.1,77l1.4,-.1 1.5,.1 1,.1 1.5,.1 1.5,.2 1,.2 1.5,.2 1,.3 1.5,.3 1,.2 1.5,.4 1,.4 1,.5 1,.6 .5,.6 0,1.2 -.6,.7 -.9,.6 -1,.6 -1,.3 -1.2,.5 -1,.5 -.8,.8 -.1,1.2 -.4,1 -.5,1.1 -.3,1.4 0,1.5 .1,1.5 .2,1.5 -.1,1.5 -.2,1.5 -.4,1 -.4,1 -.5,1 -.3,1.5 .4,1.4 .5,.9 .5,1.1 .3,1.1 0,1.5 -.2,1.5 -.2,1 -.4,1.3 -.4,1.2 -.2,1 -.1,1.5 .1,1.5 0,1.5 .4,1 .6,1 .4,1 .3,1 .7,1 .7,.7 .8,.8 .7,.7 .8,.8 .7,.8 .5,.8 .5,.9 .5,1.5 .2,1 .1,1.5 -.3,1.5 -.3,1 -.6,1 -.6,.7 -.8,.8 -.8,.5 -1,.5 -1.1,.5 -1.3,.4 -1,.3 -1.5,-.1 -1.5,-.1 -1,-.1 -1.5,-.4 -1,-.3 -1,-.4 -1,-.3 -1.2,-.5 -.9,-.5 -.9,-.8 -.5,-1 -.3,-1.2 -.2,-1 -.1,-1.5 .1,-1 .4,-1.5 .5,-1 .5,-1 .6,-.8 .7,-.7 .8,-.5 1,-.5 1,-.5 1,-.5 1,-.9 .4,-1.1 .2,-1 .1,-1.5 0,-1.5 -.3,-1 -.4,-1.2 -.4,-1.3 -.1,-1 0,-1 0,-1.5 -.1,-1 -.2,-1.5 .1,-1.5 .3,-1 .4,-1.4 .3,-1.1 .1,-1.5 -.3,-1.5 -.2,-1 -.4,-1.5 -.4,-1 -.5,-1 -.4,-1 -.3,-1 .1,-1.2 .4,-1.3 .6,-1 .5,-1 .1,-1 -.6,-1 -.5,-.8 -.5,-.8 -1,-.8 -1,-.4 -1,-.4 -1,-.4 -1.3,-.4 -1.1,-.5 -1.1,-.5 -.9,-.5 -.8,-.5 -.8,-.7 -.7,-.8 .5,-1 .7,-.5 1,-.5 1.2,-.5 1.3,-.3 1,-.3 1.5,-.4 1,-.3 .6,-.2M196.5,77.5l1.5,-.3 1.5,0 1.5,.2 1.5,.1 1,.1 1.5,.3 1,.1 1.5,.3 1,.3 1.5,.3 1,.2 1,.4 1.1,.5 .9,.5 .8,1 -.4,1 -.9,.7 -1,.5 -1,.4 -1.2,.4 -1.2,.5 -1.1,.5 -1,.4 -.5,.6 .5,1 -.5,1.4 -.5,.6 -.5,1.1 -.1,1.4 .1,1 .2,1.5 .1,1.5 -.2,1.5 -.2,1 -.4,1.1 -.5,1.2 -.5,.9 -.6,.3 -.8,-1 -.4,-1 -.3,-1 -.4,-1.2 -.5,-1.2 -.4,-1.1 0,-1.5 .4,-1.1 .5,-1.1 .5,-1.2 .2,-1.1 .2,-1.5 .9,-.5 1,-.5 -.8,-.7 -1.5,.1 -1.5,.1 -1.3,-.5 -1.1,-.5 -1.1,-.3 -1,-.4 -1,-.3 -1.5,-.5 -1,-.4 -1,-.4 -1,-.6 -.8,-.6 -.7,-.7 0,-1 1,-.7 1,-.5 1,-.4 1,-.2 1.5,-.4 1,-.3 1,-.3M203.3,104.5l.7,0 .9,1 .6,.8 .5,1.2 .1,1 0,1.5 -.2,1 -.4,1.4 -.4,1.1 -.4,1 -.2,1.5 0,1 -.1,1.5 0,1.5 .5,1 .4,1 .2,1 .5,1 .9,1 .6,.5 1,.8 .8,.7 .7,.6 1,.9 .5,.6 .6,.9 .5,1 .4,1.4 .2,1.1 -.2,1.5 -.2,1 -.6,1 -.7,.8 -.8,.7 -.8,.5 -1,.5 -1.1,.5 -1.3,.4 -1.5,.1 -1.5,-.1 -1.5,-.1 -1,-.3 -1.5,-.5 -1,-.3 -1,-.4 -1,-.4 -1,-.6 -.7,-.8 -.4,-1 -.4,-1.5 0,-1 .1,-1 .4,-1.5 .4,-1 .6,-.9 .5,-.6 1,-.9 1,-.5 1,-.5 1,-.4 1,-.5 .8,-.7 .6,-1 .2,-1 .2,-1.5 .2,-1.4 0,-.9 -.2,-1.2 -.3,-1.1 -.3,-1.4 -.3,-1 -.2,-1.5 -.1,-1.5 -.1,-1 -.1,-1.5 .2,-1 .4,-1.3 .5,-1.1 .5,-.8 .3,-.3M198.2,77.5l.8,0 1.5,.1 1.5,.2 1.5,.1 1,.3 1.5,.1 1,.2 1.5,.4 1,.2 1.5,.3 1,.4 1,.5 1,.6 .3,1.1 -.8,.8 -1,.6 -1,.3 -1,.3 -1.4,.5 -1.1,.4 -1.4,.1 -1.1,.3 -1.5,.1 -1.5,0 -1,.1 -1.5,.1 -1,-.3 -1,-.3 -1.5,-.4 -1,-.3 -1,-.3 -1.3,-.5 -1.2,-.5 -1,-.5 -.8,-.5 -.7,-.7 0,-1 1,-.7 1,-.4 1,-.3 1.5,-.3 1,-.3 1.1,-.3 1.4,-.5 .7,0M203.3,92.5l.6,.5 .2,1 .1,1.5 -.2,1.2 -.5,.8 -.5,-.5 -.5,-1.4 -.1,-1.1 .3,-1 .6,-1M203.5,107l.5,.1 .6,.9 .2,1.5 -.1,1.5 -.4,1 -.8,1 -.6,-1 -.3,-1.5 0,-1.5 .4,-1.4 .5,-.6M204,125.5l1.1,0 1,.5 .9,.6 1,.6 1,.8 .6,.5 .9,.7 .7,.8 .6,1 .4,1 .3,1.5 0,1 -.2,1 -.5,1 -.8,.9 -.7,.6 -.8,.5 -1,.5 -1.2,.5 -1.3,.3 -1.5,.1 -1.5,-.1 -1.5,-.3 -1,-.2 -1,-.4 -1,-.4 -1.2,-.5 -.9,-.5 -.9,-.7 -.5,-.8 -.4,-1.5 0,-1.5 .4,-1.5 .5,-1 .5,-.8 .6,-.7 .9,-.7 1,-.4 1,-.4 1.3,-.5 1.2,-.5 1,-.4 1,-.6M197.1,78l1.4,-.2 1.5,.1 1,.1 1.5,.1 1.5,.3 1,.2 1.5,.1 1.2,.3 1.3,.2 1.1,.3 1.4,.4 1,.5 1,.6 .3,1 -.8,.7 -1,.5 -1,.3 -1.5,.5 -1,.3 -1.5,.1 -1,.1 -1.5,.3 -1.5,.1 -1.5,.1 -1,.1 -1,-.1 -1.5,-.4 -1,-.2 -1,-.4 -1.5,-.4 -1,-.3 -1,-.4 -1,-.5 -1,-.6 -.7,-.8 .7,-1 1,-.5 1,-.3 1.1,-.2 1.4,-.4 1,-.2 1.1,-.4M202.6,127.5l1.4,-.2 1.5,0 1,.4 1,.5 1,.6 1,.7 .6,.5 .8,1 .6,.9 .3,1.1 .1,1.5 -.4,1.3 -.5,.7 -1,1 -.8,.5 -1,.5 -1.2,.5 -1,.2 -1.5,.1 -1.5,-.1 -1.2,-.2 -1.3,-.4 -1,-.4 -1,-.4 -1,-.4 -1,-.6 -.8,-.8 -.4,-1 -.1,-1.5 .3,-1.5 .4,-1 .6,-.7 .8,-.8 .8,-.5 1.2,-.5 1.2,-.4 1,-.3 1.1,-.3M196.6,78.5l1.4,-.4 1.5,.1 1.5,.1 1.5,.1 1,.2 1.5,.3 1.3,.1 1.2,.2 1.3,.3 1.2,.2 1,.3 1,.5 1,.6 0,1.1 -1,.6 -1,.4 -1.2,.3 -1.3,.4 -1.5,.1 -1,.1 -1.5,.3 -1.5,0 -1,.1 -1.5,.2 -1,-.2 -1.5,-.3 -1,-.2 -1.5,-.5 -1,-.2 -1,-.4 -1,-.4 -1.1,-.5 -.9,-.7 0,-.8 1,-.6 1.3,-.4 1.2,-.3 1,-.3 1.5,-.4 .1,0M201.9,128.5l1.1,-.2 1.5,0 1,.2 1.2,.5 1,.5 .9,.5 .9,.6 .9,.9 .6,1 .2,1 -.1,1.5 -.4,1 -.7,.7 -1,.8 -1,.5 -1,.4 -1,.2 -1.5,.1 -1.5,0 -1,-.2 -1.5,-.4 -1,-.5 -1,-.4 -1,-.5 -.9,-.7 -.6,-1 -.2,-1 .2,-1.5 .4,-1 .6,-.7 .9,-.8 1,-.5 1.1,-.4 1,-.4 .9,-.2M197.9,78.5l1.1,0 1,0 1.5,.2 1.5,.1 1,.2 1.5,.2 1.5,.2 1,.2 1.5,.3 1,.3 1,.4 1,.7 0,.8 -1,.6 -1.1,.3 -1.4,.4 -1,.2 -1.5,0 -1.5,.3 -1.4,.1 -1.1,.1 -1.5,.1 -1.5,-.1 -1,-.2 -1.5,-.3 -1,-.3 -1.1,-.3 -1.4,-.5 -1,-.4 -1,-.5 -.6,-.6 .6,-.7 1,-.4 1.5,-.4 1,-.2 1.1,-.3 1.4,-.5 .4,0M200.9,129.5l1.1,-.3 1.5,-.2 1.5,.3 1,.3 1,.5 1,.5 1,.5 .9,.9 .6,1 .1,1 -.1,1 -.6,1 -.9,.8 -1,.6 -1,.4 -1,.3 -1.5,.1 -1.5,0 -1,-.2 -1.5,-.5 -1,-.4 -1,-.5 -.9,-.6 -.6,-.6 -.5,-1.3 0,-.9 .4,-1.2 .6,-.7 1,-.8 1,-.4 1,-.5 .4,-.1M197,79l1.5,-.2 1.5,.1 1,.1 1.5,.3 1,.2 1.5,.2 1.5,.1 1.5,.1 1,.3 1.5,.3 1,.5 .5,.5 -.5,.7 -1,.5 -1.4,.3 -1.1,.2 -1.5,0 -1.5,.3 -1,.1 -1.5,.1 -1.5,.2 -1.5,-.2 -1.2,-.2 -1.3,-.2 -1,-.4 -1.5,-.4 -1,-.5 -1,-.5 0,-.7 1,-.5 1,-.3 1.3,-.5 1.2,-.5M201.4,130l1.1,-.3 1.5,.1 1,.2 1.3,.5 .8,.5 .9,.5 1,.8 .6,.7 .2,1.5 -.4,1 -.9,1 -.9,.5 -1.1,.4 -1,.2 -1.5,0 -1.4,-.1 -1.1,-.3 -1,-.3 -1,-.4 -1,-.6 -1,-.9 -.4,-1 .3,-1.5 .6,-.7 1,-.7 1,-.5 1,-.5 .4,-.1M198,79.5l1,-.1 1,.2 1.5,.4 1,.2 1.2,.3 1.3,.2 1.5,-.1 1.5,.1 1.5,.2 1,.5 -.2,.6 -1.3,.4 -1,.2 -1,-.2 -1.5,-.1 -1.1,.2 -1.4,.2 -1,.3 -1.5,.5 -1.5,-.3 -1.5,-.2 -1,-.5 -.9,-.5 -.6,-.5 .5,-.9 1,-.5 1,-.5 .5,-.1M201.9,130.5l1.1,-.1 1,.2 1,.5 1,.6 1,.7 .8,.6 .6,1 -.4,1.3 -.7,.7 -1.1,.5 -1.2,.2 -1.5,0 -1.1,-.2 -1.4,-.4 -1,-.5 -1,-.5 -.7,-.6 -.4,-1 .4,-1 .7,-.6 1,-.5 1,-.5 .9,-.4M197.7,80.5l1.3,-.2 1,.2 1.4,.5 .1,.8 -1,.4 -1.5,0 -1.1,-.2 -.9,-1 .7,-.5M201.6,132l1.4,-.3 1.1,.3 1,.5 .9,.5 1,1 -.5,1 -1,.5 -1.5,.2 -1.5,-.1 -1,-.3 -1,-.6 -.7,-.7 .3,-1 .9,-.7 .6,-.3M202.3,133.5l1.2,-.1 1,.6 -1.5,.3 -.7,-.8" fill="none" stroke="#111" stroke-width="0.7" stroke-opacity="0.9"/>
</g>
<rect x="169.5" y="65.5" width="96.0" height="88.30000000000001" fill="none" stroke="#333" stroke-width="0.8"/>
<line x1="218.80" y1="65.50" x2="218.80" y2="153.80" stroke="#222" stroke-width="0.8" />
<line x1="169.50" y1="116.20" x2="265.50" y2="116.20" stroke="#222" stroke-width="0.8" />
<circle cx="218.8" cy="116.2" r="1.3" fill="#111"/>
<circle cx="218.8" cy="65.5" r="0.9" fill="#111"/>
<circle cx="265.5" cy="116.2" r="0.9" fill="#111"/>
<path d="M169.5,153.8v2.6 M169.5,153.8h-2.6 M176.7,153.8v1.4 M169.5,147.2h-1.4 M181.0,153.8v1.4 M169.5,143.3h-1.4 M183.9,153.8v1.4 M169.5,140.5h-1.4 M186.3,153.8v1.4 M169.5,138.4h-1.4 M188.2,153.8v1.4 M169.5,136.6h-1.4 M189.8,153.8v1.4 M169.5,135.1h-1.4 M191.2,153.8v1.4 M169.5,133.9h-1.4 M192.4,153.8v1.4 M169.5,132.7h-1.4 M193.5,153.8v2.6 M169.5,131.7h-2.6 M200.7,153.8v1.4 M169.5,125.1h-1.4 M205.0,153.8v1.4 M169.5,121.2h-1.4 M207.9,153.8v1.4 M169.5,118.4h-1.4 M210.3,153.8v1.4 M169.5,116.3h-1.4 M212.2,153.8v1.4 M169.5,114.5h-1.4 M213.8,153.8v1.4 M169.5,113.1h-1.4 M215.2,153.8v1.4 M169.5,111.8h-1.4 M216.4,153.8v1.4 M169.5,110.7h-1.4 M217.5,153.8v2.6 M169.5,109.7h-2.6 M224.7,153.8v1.4 M169.5,103.0h-1.4 M229.0,153.8v1.4 M169.5,99.1h-1.4 M231.9,153.8v1.4 M169.5,96.4h-1.4 M234.3,153.8v1.4 M169.5,94.2h-1.4 M236.2,153.8v1.4 M169.5,92.5h-1.4 M237.8,153.8v1.4 M169.5,91.0h-1.4 M239.2,153.8v1.4 M169.5,89.7h-1.4 M240.4,153.8v1.4 M169.5,88.6h-1.4 M241.5,153.8v2.6 M169.5,87.6h-2.6 M248.7,153.8v1.4 M169.5,80.9h-1.4 M253.0,153.8v1.4 M169.5,77.0h-1.4 M255.9,153.8v1.4 M169.5,74.3h-1.4 M258.3,153.8v1.4 M169.5,72.1h-1.4 M260.2,153.8v1.4 M169.5,70.4h-1.4 M261.8,153.8v1.4 M169.5,68.9h-1.4 M263.2,153.8v1.4 M169.5,67.6h-1.4 M264.4,153.8v1.4 M169.5,66.5h-1.4 M265.5,153.8v2.6 M169.5,65.5h-2.6" stroke="#222" stroke-width="0.5" fill="none"/>
<text x="168.3" y="162.5" font-size="4.2" font-weight="normal" fill="#333">10<tspan dy="-2.3" font-size="3.2">0</tspan></text>
<text x="165.1" y="156.4" font-size="4.2" font-weight="normal" text-anchor="end" fill="#333">10<tspan dy="-2.3" font-size="3.2">0</tspan></text>
<text x="192.3" y="162.5" font-size="4.2" font-weight="normal" fill="#333">10<tspan dy="-2.3" font-size="3.2">1</tspan></text>
<text x="165.1" y="134.3" font-size="4.2" font-weight="normal" text-anchor="end" fill="#333">10<tspan dy="-2.3" font-size="3.2">1</tspan></text>
<text x="216.3" y="162.5" font-size="4.2" font-weight="normal" fill="#333">10<tspan dy="-2.3" font-size="3.2">2</tspan></text>
<text x="165.1" y="112.2" font-size="4.2" font-weight="normal" text-anchor="end" fill="#333">10<tspan dy="-2.3" font-size="3.2">2</tspan></text>
<text x="240.3" y="162.5" font-size="4.2" font-weight="normal" fill="#333">10<tspan dy="-2.3" font-size="3.2">3</tspan></text>
<text x="165.1" y="90.2" font-size="4.2" font-weight="normal" text-anchor="end" fill="#333">10<tspan dy="-2.3" font-size="3.2">3</tspan></text>
<text x="264.3" y="162.5" font-size="4.2" font-weight="normal" fill="#333">10<tspan dy="-2.3" font-size="3.2">4</tspan></text>
<text x="165.1" y="68.1" font-size="4.2" font-weight="normal" text-anchor="end" fill="#333">10<tspan dy="-2.3" font-size="3.2">4</tspan></text>
<text x="170.8" y="70.1" font-size="4.7" font-weight="normal" fill="#222">57.85</text>
<text x="264.7" y="70.1" text-anchor="end" font-size="4.7" font-weight="normal" fill="#222">0.38</text>
<text x="170.7" y="153.0" font-size="4.7" font-weight="normal" fill="#222">38.93</text>
<text x="264.7" y="153.0" text-anchor="end" font-size="4.7" font-weight="normal" fill="#222">2.84</text>
<text x="262.30" y="128.80" font-size="10.2" font-weight="bold" text-anchor="end" fill="#000" stroke="#000" stroke-width="0.25" textLength="5.7" lengthAdjust="spacingAndGlyphs">3</text>
<clipPath id="c3"><rect x="58.8" y="171.2" width="95.39999999999999" height="90.0"/></clipPath>
<g clip-path="url(#c3)" filter="url(#bl)">
<path d="M83.7,181.7l1.6,-.2 1.5,.2 1.7,.5 1.8,.4 1.5,.3 1.4,.8 1.1,.8 1,.8 .9,1.4 .3,1.5 -.3,1.5 -.6,1.5 .3,1.5 .2,2 .2,1.5 1,1.3 .5,1.5 .2,1.7 -.1,2 -.5,1.5 -.6,1.5 -.1,1.5 -.9,1.1 -1,1.4 -.5,1.1 -.5,1.4 -.3,2 -.1,2 .1,2 .2,2 0,2 -.1,2 .3,1.5 .6,1.5 .4,1.5 -.1,1.5 -.2,2 -.4,1.5 .1,1.7 .6,1.3 .4,1.9 .5,1.4 .4,1.7 .6,1.2 .8,1.3 .6,1.5 .4,1.5 -.1,2 -.2,1.5 -.5,1.5 -1,1.4 -1,.8 -1.5,.6 -1.5,.5 -1.5,.5 -1.5,.7 -1.3,.5 -1.7,0 -1.5,-.4 -1.5,-.3 -1.5,-.3 -1.5,-.8 -1,-.9 -.8,-1.3 -.7,-1.1 -.9,-1.4 -.5,-1.5 .1,-2 .5,-1.5 .8,-1.5 .8,-1 .4,-1.5 .7,-1.5 -.2,-2 .2,-2 .5,-1.5 -.4,-1.9 -.3,-1.6 -.3,-1.5 .2,-1.5 .4,-1.5 0,-1.8 -.4,-1.7 -.2,-1.5 -.2,-2 .3,-2 .5,-1.3 .4,-1.7 .1,-1.5 .2,-2 -.2,-1.5 -1,-1.5 -.5,-1 -.9,-1.5 -.6,-1 -.7,-1.5 -.8,-1.5 -.5,-1.5 .1,-1 .6,-1.5 .4,-1.5 -.6,-1.3 -.3,-1.7 .1,-2 -.6,-1.5 -.3,-1.5 .4,-1.5 .7,-1.2 1,-1 1.1,-.8 1.4,-.8 1.5,-.6 1.5,-.5zM122,226.2l1.8,-.4 2,.3 1.5,.5 1.5,.4 1.5,.4 1.9,.3 1.4,.5 1.2,.9 1,1 .8,1.1 .7,1.4 .5,1.4 .4,1.7 0,2 -.4,1.9 -.3,1.6 -.4,1.5 -.7,1.5 -.6,1 -1,1.5 -.7,1 -.8,1.2 -.7,1.3 -.8,1.2 -1,1.3 -.8,1 -1,1 -1,1 -1.2,1 -1,.6 -2,.3 -1.5,.1 -2,.2 -2,-.2 -1.3,-.5 -1.2,-.7 -1.1,-.8 -1.4,-.8 -1,-.7 -1,-1.1 -1,-1.4 -.7,-1 -.7,-1.5 -.2,-1.5 0,-2 .3,-1.5 .4,-1.5 .8,-1.5 .5,-1.5 .6,-1.5 .5,-1.3 .8,-1.2 .8,-1 .9,-1.1 1,-1.2 .9,-1.2 .8,-1 .8,-1.1 1,-1.3 1,-.7 1.5,-.7z" fill="#000" fill-opacity="0.15"/>
<path d="M83.7,183.2l1.6,-.3 1.9,.3 1.6,.4 1.5,.3 1.5,.5 1.1,.8 1.2,1 .7,1 0,1.8 -.8,1.2 -.9,1 -1.1,1 -.8,1 .1,1.9 .5,1.1 .7,1.5 .8,1.2 .1,1.8 -.8,1 -.8,1.1 -.7,1.4 -.8,1.5 -.5,1.3 0,1.2 0,1.9 -.3,1.6 -.3,1.5 -.4,2 -.2,1.5 0,2 .1,2 .1,1.5 .3,2 .6,1.5 .6,1 .8,1.5 .3,1.5 -.2,1.5 -.4,1.7 -.1,1.8 -.4,1.6 -1,1.2 -1.5,.7 -2,-.3 -1.3,-.7 -.7,-1.1 -.1,-1.9 .1,-1.9 .2,-1.6 .2,-2 .5,-1.5 .4,-1.5 -.3,-1.6 -.5,-1.9 .3,-2 .3,-1.5 .4,-1.6 .3,-1.9 .1,-2 -.1,-2 -.7,-1.5 -.6,-1.3 -.5,-1.6 -.5,-1.2 -.8,-1.4 -.7,-1.5 -.5,-1.2 -.6,-1.3 .6,-1.3 1,-1.2 .5,-1.1 .3,-1.9 -.8,-1.1 -1.4,-.9 -1.1,-.5 -1.5,-.8 -1,-1 -.5,-1.3 0,-1.7 .7,-1.2 1.1,-1 1.2,-.8 1.5,-.6 1.5,-.5zM121.6,228.7l1.7,-.4 2,.1 1.5,.3 1.5,.5 1.5,.5 1.8,.5 1.2,.5 1.5,1 .7,1 .6,1.5 .3,1.5 -.2,1.5 -.4,1.7 -.4,1.8 -.3,1.5 -.6,1.5 -.7,1.3 -.9,1.2 -.8,1 -.8,1.3 -.7,1.2 -.8,1.2 -.9,1.3 -1.1,1 -1,.9 -1,.6 -1.5,.7 -2,.1 -2,0 -1.6,-.3 -1.4,-.7 -1.2,-.8 -1.3,-.9 -1,-.8 -.9,-1.3 -.6,-1.3 -.3,-1.7 0,-2 .4,-1.5 .6,-1.5 .8,-1.5 .5,-1 .7,-1.5 .8,-1.5 .5,-1 .8,-1.5 .7,-1.2 .8,-1.3 .7,-1 1,-1.3 1,-.8zM87.2,240.2l1.6,-.3 1.5,.8 1,1 .9,1 .8,1 .8,1 .9,1.5 .5,1.5 0,2 -.5,1.5 -.9,1.1 -1.5,.8 -1.5,.4 -1.5,.3 -2,.3 -1.5,-.4 -1.8,-.5 -1.2,-.7 -1,-.9 -1,-1.3 -.5,-1.1 -.1,-2 .6,-1.2 1,-1 1.2,-.8 .9,-1 .9,-1 1,-1.1 1.4,-.9z" fill="#000" fill-opacity="0.3"/>
<path d="M83.1,184.7l1.7,-.3 2,0 1.5,.4 1.9,.4 1.3,.5 1.3,1 .7,1 -.6,1.5 -1.1,.9 -1,.7 -1.5,.7 -1.5,.6 -1.5,.3 -1.8,-.2 -1.5,-.5 -1.5,-.5 -1.2,-.5 -1.5,-.9 -.8,-1.1 .3,-1.5 1,-1 1.5,-.9 1.5,-.5zM124.2,230.7l1.1,0 1.6,.5 1.4,.6 1.5,.6 1.4,.8 1.1,1 .5,1 .3,2 -.2,2 -.3,1.5 -.6,1.5 -.7,1.3 -.7,1.2 -.8,1.2 -.7,1.3 -.8,1.3 -.9,1.2 -.9,1 -1,1 -1.2,.9 -1.4,.6 -1.6,.3 -2,-.3 -1.3,-.5 -1.2,-.6 -1.4,-.9 -1.1,-1 -.6,-1 -.3,-2 .4,-2 .5,-1.3 .5,-1.2 .8,-1.5 .7,-1.2 .7,-1.3 .6,-1.5 .7,-1.5 .6,-1 .9,-1.3 1,-1.1 1,-.8 1.5,-.6zM85.4,247.2l1.9,-.3 .7,1.3 -1.7,.4 -1.4,-.9z" fill="#000" fill-opacity="0.4"/>
<path d="M85,185.2l1.8,0 1.5,.4 1.5,.3 1.5,.6 1,1.2 -.2,1 -1.2,1 -1.1,.6 -1.5,.6 -1.5,.4 -2,0 -1.5,-.4 -1.5,-.5 -1.5,-.6 -1,-.6 -.5,-1.1 .9,-1.4 1.1,-.6 1.5,-.5 2,-.2zM124.2,232.2l1.4,0 1.3,.5 1.4,.5 1.5,.7 1,.9 .8,1.4 .1,2 -.4,2 -.5,1.2 -.7,1.3 -.8,1.3 -.7,1.2 -.7,1.5 -.7,1 -1,1 -.9,1 -1.1,1 -1.4,1 -1.5,.5 -1,0 -1.6,-.5 -1.4,-.7 -1.5,-.8 -1,-1 -.4,-1.5 .3,-2 .6,-1.4 .5,-1.1 .8,-1.5 .7,-1.3 .7,-1.2 .6,-1.5 .7,-1.5 .6,-1 .9,-1.1 1.1,-.9 1.4,-.8z" fill="#000" fill-opacity="0.3"/>
<path d="M81.5,186.7l1.8,-.2 2,-.1 2,.2 1.5,.2 1.5,.7 -.2,1.2 -1.3,.8 -1.3,.7 -1.7,.5 -1.9,-.5 -1.6,-.5 -1.5,-.4 -1,-.6 .5,-1.5 1.2,-.5zM124.2,233.2l1.5,0 1.3,.5 1.4,.5 1.4,.8 .8,1.2 .2,1.5 -.1,1.5 -.6,1.5 -.8,1.4 -.7,1.1 -.8,1.4 -.5,1.1 -1,1.5 -1,1 -1,1 -1,1 -1,.7 -1.5,.5 -1.5,-.3 -1.5,-.7 -1.4,-.7 -1,-1 -.3,-1.5 .4,-1.5 .6,-1.5 .7,-1.3 .6,-1.2 .9,-1.5 .5,-1 .6,-1.5 .9,-1.5 .7,-1 1.1,-1 1.2,-.7z" fill="#000" fill-opacity="0.3"/>
<path d="M83.1,178.7l1.2,-.1 1.5,0 1.5,.1 1.1,0 1.4,.5 1,0 1.5,.4 1,.2 1,.5 1,.6 1,.7 .7,.6 .8,.8 .6,.7 .6,1 .4,1 .4,1 .1,1.5 -.1,1.3 -.4,1.2 -.5,1 -.5,1 .4,1.3 .5,.8 .6,.9 .6,1 .3,1 .5,1.5 0,1 0,1.2 -.3,1.3 -.4,1 -.6,1 -.4,1 -.3,1.5 0,1.3 0,1.2 -.1,1.5 -.2,1.5 -.2,1.5 0,1.5 .1,1.5 0,1.5 -.1,1.5 -.2,1 -.2,1.5 .1,1.5 .3,1.5 .1,1 .1,1.5 0,1.5 -.2,1.4 -.3,1.1 -.1,1.5 -.1,1.4 -.2,1.1 .2,1.3 .6,.7 .9,1 .5,.8 .5,.9 .5,.9 .5,1.2 .5,1.1 .1,1.1 .5,1 .1,1.5 -.2,1.5 -.5,1 -.3,1 -.3,1 -.4,1.5 -.5,1 -.5,.9 -.5,.6 -.9,1 -.6,.5 -1,.6 -1,.5 -1.1,.4 -1.4,.5 -1,.4 -1,.3 -1.5,.2 -1.5,.1 -1.5,0 -1.5,-.1 -1.5,-.3 -1,-.1 -1.5,-.2 -1,-.3 -1.1,-.5 -.9,-.6 -1,-.6 -.9,-.8 -.6,-.6 -.8,-.9 -.6,-1 -.6,-.9 -.5,-1 -.3,-1.1 -.3,-1 -.2,-1.5 0,-1.5 0,-1.5 .3,-1.2 .3,-1.3 .5,-1 .6,-1 .6,-.8 .5,-.8 .7,-.9 .4,-1 -.1,-1.2 -.1,-1.3 -.4,-1 0,-1.5 -.4,-1.5 -.2,-1 0,-1.5 0,-1.5 -.1,-1.5 -.3,-1 -.1,-1.5 0,-1.5 -.1,-1.5 -.1,-1.5 0,-1.5 0,-1.5 .2,-1.5 .1,-1.2 0,-1.3 0,-1 -.1,-1.5 0,-1.5 -.3,-1.5 -.4,-1 -.5,-1 -.5,-1 -.4,-1 -.2,-1.5 0,-1.5 .2,-1.5 .3,-1 .4,-1.2 .4,-1.3 .1,-.6 -.5,-1.2 -.5,-.9 -.5,-.9 -.5,-1.1 -.2,-1.3 0,-1.5 .2,-1.2 .5,-1 .5,-.9 .9,-.9 .6,-.6 .9,-.9 .6,-.6 1,-.5 1,-.5 1,-.5 1.1,-.4 1.4,-.2 1.3,-.3M122.5,222.2l1.3,0 1.2,0 1.3,.1 1.5,-.1 1.5,.4 1,.5 1,.5 1,.4 1,.4 1,.4 1,.6 .9,.8 .6,.5 .9,1 .6,.7 .6,.8 .7,1 .5,1 .4,1 .4,1 .3,1.5 0,1.5 0,1.5 0,1.5 -.3,1.5 -.2,1 -.4,1.4 -.3,1.1 -.4,1 -.5,1 -.6,1 -.6,1 -.4,1 -.6,1 -.5,1 -.6,1 -.5,.8 -.5,.7 -.8,1 -.7,.9 -.7,.6 -.8,.7 -.9,.8 -.6,.6 -1,.9 -.8,.5 -.7,.5 -1,.5 -1.1,.5 -1.4,.5 -1,.1 -1.5,.3 -1.5,-.1 -1,-.3 -1.5,-.2 -1,-.3 -1,-.5 -1,-.8 -1,-.5 -1,-.4 -1,-.4 -1,-.4 -1,-.6 -.9,-.9 -.6,-.8 -.5,-.8 -.7,-.9 -.7,-1 -.6,-1 -.3,-1 -.3,-1 -.2,-1.5 -.2,-1 0,-1.1 .3,-1.4 0,-1.5 .3,-1 .3,-1.5 .4,-1 .5,-1 .3,-1 .6,-1 .5,-1 .5,-1 .6,-1 .5,-1 .6,-1 .6,-.8 .5,-.7 1,-1 .5,-.5 1,-.9 .6,-.6 .8,-1 .6,-.7 .8,-.8 .7,-.5 1,-.7 1,-.6 1,-.3 1,-.5 1.2,-.4M83.7,179.2l1.1,0 1,.1 1.5,.3 1,.3 1.5,.3 1,0 1,0 1,0 1.2,.5 .8,.5 1,.8 .9,.7 .6,.7 .7,.8 .4,1 .4,1 .5,1.5 0,.8 -.3,1.2 -.4,1 -.3,1.1 -.2,1.4 .5,1 .4,1 .6,1 .3,1 .3,1.5 .2,1 .2,1.5 0,1.5 -.3,1.1 -.5,.9 -.5,1.1 -.2,1.4 -.1,1.5 0,1.5 -.2,1.5 -.4,1 -.5,1 -.2,1 .1,1.3 .3,1.2 .1,1.5 -.2,1.5 -.3,1 -.2,1.5 .1,1.5 .2,1 .4,1.5 .2,1 .1,1.5 -.2,1.4 -.3,1.1 -.2,1.5 -.1,1 0,1.5 .2,1 .4,1.2 .7,.8 .8,.9 .5,1 .4,1.1 .2,1 .4,1.5 .2,1 .3,1.3 .3,1.2 -.3,1.3 -.4,1.2 -.2,1 -.4,1.4 -.4,1.1 -.6,1 -.5,.9 -.5,.6 -1,1 -1,.5 -1,.3 -1,.2 -1.5,.4 -1,.5 -1,.4 -1,.3 -1.5,.2 -1.5,0 -1.5,-.2 -1,-.2 -1.5,-.2 -1.5,-.2 -1,-.2 -1,-.4 -1,-.5 -1,-.6 -1,-.8 -.5,-.5 -.7,-1 -.8,-1 -.5,-.9 -.5,-1.1 -.1,-1 -.4,-1.3 0,-1.2 0,-1.5 0,-1 .5,-1.5 .3,-1 .7,-1 .5,-.7 .7,-.8 .7,-1 .2,-1 .3,-1.5 .2,-1 -.1,-1 -.3,-1.5 -.1,-1.5 -.3,-1 -.3,-1.1 -.1,-1.4 .1,-1 .2,-1.5 -.2,-1.3 -.3,-1.2 -.2,-1.3 -.1,-1.2 -.3,-1.5 -.1,-1 -.1,-1.5 .1,-1.3 .4,-1.2 .3,-1 .2,-1.5 -.1,-1.5 -.1,-1.5 -.2,-1.5 -.4,-1 -.4,-1 -.5,-1 -.4,-1 -.3,-1 -.2,-1.5 0,-1.5 .1,-1.5 .3,-1 .3,-1.1 0,-1.4 .1,-1.5 -.4,-1 -.6,-1 -.3,-1 -.3,-1 -.2,-1.5 .1,-1.5 .3,-1 .6,-1 .7,-.9 .7,-.6 .8,-.7 1,-.8 1,-.5 .9,-.5 .7,-.5 1.1,-.5 1.3,-.3 1.5,-.1 .4,-.1M121.8,223.2l1,-.3 1.5,0 1.5,.2 1,.1 1.5,.5 1,.2 1,.4 1.5,.4 1,.2 1.5,.3 1,.5 .5,.5 1,1 .5,.7 .7,.8 .7,1 .6,.8 .5,1.1 .5,1.1 .5,1 .1,1 .1,1.5 0,1.5 -.1,1.5 -.1,1.1 -.4,1.4 -.2,1 -.4,1.3 -.4,1.2 -.6,.9 -.5,.6 -.7,1 -.5,1 -.5,1 -.3,1 -.5,1.1 -.6,.9 -.7,1 -.7,.9 -.5,.7 -1,.7 -1,.6 -.8,.6 -.7,.7 -1,.8 -.7,.5 -.8,.5 -1.3,.5 -1.2,.3 -1,.3 -1.5,.2 -1.5,.2 -1.5,-.5 -1,-.1 -1.3,-.4 -.9,-.5 -.8,-.5 -1,-.6 -1,-.4 -1.3,-.5 -1,-.5 -.8,-.5 -.9,-1 -.5,-.9 -.5,-.7 -.8,-.9 -.7,-1 -.5,-.8 -.5,-1 -.4,-1.2 -.1,-1 -.1,-1.5 .2,-1 .2,-1.5 .3,-1 .3,-1.5 .4,-1 .3,-1 .4,-1.1 .5,-.9 .5,-1 .5,-1 .5,-1 .6,-1 .6,-1 .8,-.9 .6,-.6 .9,-.7 1,-.8 .6,-.5 .9,-.9 .5,-.7 .6,-.9 .9,-1 .7,-.5 .8,-.6 1,-.5 1,-.4 1,-.5M81.6,180.2l1.2,-.1 1.5,-.2 1.5,.3 1,.2 1,.4 1.5,.4 1,.1 1.5,-.1 1.5,.5 .8,.5 .7,.6 1,.7 .7,.7 .8,1 .4,1 .4,1 .1,1.5 -.4,1.1 -.3,1.4 .3,1.5 .1,1 .4,1.5 .5,1 .3,1 .2,1.1 .3,1.4 .1,1.5 0,1.5 -.2,1.5 -.2,1 -.4,1.5 -.2,1 -.2,1.5 -.2,1 -.5,1.1 -.5,.9 -.5,1 -.3,1.5 .2,1.5 .2,1 .2,1.5 -.1,1.5 -.2,1 -.3,1.5 .1,1.5 .2,1 .5,1.5 .2,1 0,1.5 -.2,1.1 -.3,1.4 -.1,1.5 -.2,1 0,1.5 .6,1 .5,.9 .4,1.1 .6,1 .4,1 .4,1 .2,1 .4,1.5 .2,1 .3,1.5 .3,1 -.2,1.2 -.3,1.3 -.2,1 -.4,1.5 -.5,1 -.6,1 -.5,.7 -.8,.8 -1,.5 -1.2,.3 -1.1,.2 -1.4,.4 -1,.5 -1,.5 -1,.4 -1.5,.2 -1,0 -1,-.1 -1.5,-.3 -1,-.2 -1.5,-.1 -1.1,-.3 -1.3,-.5 -1.1,-.5 -.8,-.5 -.7,-.6 -.8,-.9 -.6,-1 -.6,-.8 -.5,-1 -.4,-1.2 -.2,-1 -.1,-1.5 .1,-1.5 .3,-1 .3,-1 .5,-1.2 .5,-.8 .9,-1 .6,-.7 .2,-1.3 -.2,-1.5 .5,-1 .4,-1.5 -.2,-1.5 -.2,-1.1 -.2,-1.4 -.3,-1 -.3,-1.5 .1,-1.5 .3,-1 .1,-1.5 -.2,-1 -.4,-1.5 -.2,-1 -.3,-1.5 -.3,-1 -.2,-1.5 .2,-1.5 .4,-1 .4,-1 .3,-1.5 -.1,-1.5 -.1,-1.5 -.1,-1.5 -.4,-1 -.7,-.8 -.5,-.7 -.5,-1.1 -.3,-1.4 -.2,-1.5 0,-1 0,-1.5 .1,-1 .4,-1.5 .1,-1 -.1,-1.5 -.1,-1 -.3,-1.5 -.4,-1 -.2,-1 -.3,-1.5 0,-1.5 .3,-1 .5,-1.1 .8,-.9 .7,-.6 1,-.7 1,-.5 1,-.6 .8,-.6 .8,-.5 1.2,-.5M123.2,223.7l.7,0 1.4,.3 1,.2 1.3,.5 1.2,.4 1,.3 1.5,.2 1.2,.1 1.3,.1 1,.4 1,1 .5,.6 .7,.9 .8,1 .5,.8 .5,.8 .5,1.1 .5,1.1 .5,1.2 .1,1 .1,1.5 -.1,1.5 -.1,1 -.5,1.5 -.1,1 -.4,1.3 -.5,1.2 -.5,.7 -.6,.8 -.8,1 -.6,1 -.5,.9 -.4,1.1 -.2,1 -.5,1 -.5,1 -.9,.9 -.7,.6 -.8,.6 -1,.6 -1,.8 -.5,.5 -1,.9 -.9,.6 -1.1,.5 -1,.2 -1.5,.2 -1.2,.1 -1.3,.2 -1.5,-.1 -1,-.1 -1.5,-.4 -1,-.5 -.9,-.6 -.9,-.5 -.9,-.5 -1.2,-.5 -.9,-.5 -.7,-.5 -.8,-1 -.7,-1 -.5,-.6 -.8,-.9 -.7,-1 -.5,-.8 -.5,-1 -.2,-1.2 0,-1.5 .2,-1 .3,-1.5 .4,-1 .3,-1.3 .4,-1.2 .3,-1 .4,-1 .4,-1 .5,-1.1 .5,-1.1 .5,-.8 .6,-1 .8,-1 .6,-.5 1,-.8 .8,-.7 .7,-.6 1,-.9 .5,-.7 .5,-.8 .7,-1 .8,-.7 1,-.7 1,-.5 1,-.4 1,-.5 .9,-.2M81.5,181.2l1.3,-.3 1.5,-.2 1.5,.2 1.3,.3 1.2,.3 1,.2 1.5,.3 1,.2 1.2,.5 .8,.6 1,.6 .9,.8 .6,.7 .5,.9 .4,1.4 -.1,1.5 -.3,1 0,1 .5,1.4 .2,1.1 .2,1.5 .5,1 .3,1 .3,1.5 .2,1 .1,1.5 0,1.5 -.2,1.5 -.1,1 -.5,1.5 -.5,.9 -.4,1.1 -.3,1 -.5,1 -.5,1 -.4,1 -.4,1.3 0,1.2 .1,1 .4,1.5 .1,1 0,1.5 -.2,1 -.3,1.5 0,1.5 .4,1.3 .5,1.2 .2,1 0,1.5 -.2,1.1 -.2,1.4 -.2,1.5 -.2,1 .1,1.5 .5,.7 .8,.8 .4,1 -.1,1.5 .4,1.3 .5,1.1 .5,1.1 .3,1 .4,1 .3,1.5 .2,1 -.2,1.5 -.2,1 -.3,1.5 -.4,1 -.6,1 -.5,.8 -.6,.7 -.9,.5 -1.5,.5 -1,.2 -1,.3 -1.2,.5 -1,.5 -1.1,.5 -1.2,.2 -1.5,0 -1,-.3 -1.5,-.2 -1,-.2 -1.5,-.2 -1,-.4 -1,-.5 -1,-.6 -.8,-.8 -.6,-1 -.6,-.9 -.5,-.7 -.6,-.9 -.4,-1.5 -.2,-1 .2,-1.5 .3,-1 .4,-1 .3,-1 .6,-1 .8,-1 .6,-1 0,-.8 -.2,-1.2 .1,-1.5 .5,-1 .3,-1 0,-1.5 -.2,-1 -.3,-1.5 -.3,-1 -.4,-1.5 .2,-1.5 .3,-1 .4,-1.5 -.3,-1.5 -.3,-1 -.3,-1.3 -.4,-1.2 -.2,-1 -.2,-1.5 .3,-1.5 .4,-1 .4,-1 .2,-1.5 0,-1.5 0,-1.5 -.3,-1.5 -.7,-.9 -.5,-.6 -.8,-1 -.6,-1 -.3,-1 -.2,-1.5 -.1,-1.3 -.1,-1.2 .1,-1.2 .3,-1.3 .3,-1 0,-1.5 -.3,-1 .2,-1.5 -.4,-1.5 -.2,-1 -.2,-1.5 .1,-1.5 .3,-1 .6,-1 .8,-.8 .9,-.7 .8,-.5 1,-.5 .8,-.5 1,-.6 .7,-.4M122.9,224.7l1.4,0 1,.2 1.3,.3 1.2,.4 1,.3 1,.3 1.5,.3 1.5,.1 1,.1 1,.6 .8,.9 .7,.8 .5,.7 .7,1 .7,1 .4,1 .4,1 .4,1 .2,1.5 .1,1.5 -.2,1.5 -.3,1 -.4,1.5 -.2,1 -.4,1 -.5,1 -.8,1 -.6,.9 -.5,.7 -.6,.9 -.6,1 -.4,1 -.4,1 -.5,1 -.9,1 -.6,.6 -1,.9 -.7,.5 -.8,.7 -.7,.8 -.8,.7 -1,.7 -1,.4 -1.5,.1 -1,.1 -1.5,.2 -1.5,.1 -1.5,-.1 -1,-.3 -1.1,-.4 -.9,-.6 -1,-.6 -1,-.6 -1,-.5 -1,-.7 -.7,-.5 -.7,-1 -.6,-.8 -.6,-.7 -.7,-1 -.6,-1 -.6,-1 -.1,-1 0,-1.5 .2,-1 .3,-1.5 .3,-1 .3,-1 .5,-1.2 .4,-1.3 .4,-1 .3,-1 .4,-1 .5,-1 .7,-1 .8,-.9 .6,-.6 .9,-.9 .6,-.6 .9,-1 .5,-.6 .8,-.9 .7,-1 .5,-.7 .8,-.8 .7,-.5 1,-.5 1.4,-.5 1.1,-.5 .1,0M82.2,181.7l1.1,-.2 1.5,-.2 1.5,.1 1.2,.3 1.3,.3 1,.2 1.5,.3 1,.3 1,.6 1,.8 .7,.5 .8,.8 .5,.8 .5,1.4 -.2,1.5 -.3,1 -.1,1.5 .6,.9 .1,1.1 -.2,1 .2,1 .8,1 .3,1 .3,1.2 .2,1.3 0,1.5 0,1.5 -.2,1.3 -.4,1.2 -.4,1 -.7,1 -.5,.9 -.5,.8 -.5,1 -.5,1.1 -.4,1.2 -.2,1 -.1,1.5 .1,1.5 .2,1 .1,1.5 0,1.5 -.1,1.5 -.1,1 0,1.3 .3,1.2 .4,1 .3,1 .2,1.5 -.2,1.2 -.1,1.3 -.3,1.5 -.2,1 .1,1.1 .6,.9 .5,1 .4,1 .3,1.5 .1,1.5 .4,1 .6,1 .5,1 .4,1 .3,1 .3,1.5 -.2,1.5 -.2,1.3 -.3,1.2 -.5,1 -.7,1 -.5,.6 -1,.7 -1,.3 -1.3,.4 -1.2,.4 -1,.4 -1,.5 -1,.5 -1.1,.2 -1,0 -1.4,-.3 -1,-.2 -1.5,-.3 -1,-.2 -1.2,-.5 -.8,-.5 -1,-.8 -.5,-.7 -.5,-1 -.7,-1 -.7,-1 -.3,-1 -.3,-1 0,-1.3 .3,-1.2 .4,-1 .3,-1 .7,-1 .8,-1 .2,-1 .3,-1.3 .1,-1.2 -.1,-1.5 .5,-1.5 .2,-1 -.1,-1.5 -.3,-1 -.3,-1.5 -.4,-1 .1,-1.5 .4,-1 .4,-1.5 0,-.6 -.3,-1.4 -.2,-1 -.3,-1.5 -.2,-1 -.3,-1.5 .2,-1.5 .4,-1 .4,-1 .3,-1.5 0,-1.5 0,-1.1 .2,-1.4 -.3,-1 -.9,-.9 -.5,-.8 -.5,-1 -.5,-1 -.5,-.9 -.5,-.9 -.5,-1.2 -.4,-1.3 -.2,-1 .1,-1.1 .5,-1.4 .3,-1 -.2,-1.5 -.3,-1 .2,-1.2 0,-1.3 -.2,-1 -.3,-1 -.3,-1.5 .3,-1.5 .5,-.9 .5,-.7 1,-.9 .7,-.5 .9,-.5 .9,-.5 1,-.5 1.4,-.5M122.2,225.7l1.1,-.3 1.5,.1 1,.2 1.5,.5 1,.3 1,.3 1.5,.3 1,.1 1.5,.3 1,.6 .7,.6 .8,.9 .5,.6 .7,1 .6,1 .4,1 .3,1 .4,1.5 .1,1.5 -.2,1.5 -.3,1 -.3,1.5 -.3,1 -.4,1.2 -.5,1 -.5,.8 -.7,1 -.7,1 -.6,.9 -.5,.7 -.5,1 -.5,.9 -.6,1 -.8,1 -.6,.7 -.7,.8 -.8,.7 -.8,.8 -.7,.7 -1,.8 -1,.5 -1,.2 -1.5,.2 -1.5,0 -1,.2 -1.5,-.1 -1,-.1 -1.2,-.4 -.9,-.5 -.9,-.6 -1,-.7 -1,-.6 -1,-.6 -.7,-.5 -.7,-1 -.6,-.8 -.5,-.7 -.7,-1 -.5,-1 -.3,-1 -.1,-1.5 .1,-1.5 .1,-1 .4,-1.4 .3,-1.1 .5,-1 .4,-1 .4,-1 .4,-1.2 .5,-1.3 .5,-.8 .6,-.7 .7,-1 .7,-.7 .7,-.8 .8,-1 .5,-.6 .8,-.9 .7,-1 .5,-.7 .6,-.8 .9,-.7 1,-.6 1,-.4 .9,-.3" fill="none" stroke="#111" stroke-width="0.6" stroke-opacity="0.55"/>
<path d="M84.7,181.7l.6,0 1.5,.2 1.1,.3 1.4,.3 1,.2 1.5,.4 1,.5 .8,.6 .7,.5 1,.9 .5,.7 .5,1.4 0,.6 -.3,1.4 -.4,1 -.4,1 0,1.5 .2,1 0,1.5 .6,1 .8,1 .4,1 .3,1 0,1.5 -.2,1.1 -.5,1.4 -.5,1 -.2,1 -.1,1.5 -.5,1 -.7,.8 -.5,.7 -.5,1 -.5,1.5 -.1,1 -.2,1.5 -.1,1.5 -.1,1.5 .2,1.5 .2,1.5 0,1.5 -.1,1.5 .2,1.5 .3,1 .4,1 .3,1 .1,1.5 -.1,1.2 -.1,1.3 -.4,1.3 -.2,1.2 .5,1 .2,1.1 .2,1.4 .3,1.2 .5,.9 .5,.9 .4,1.5 .6,1 .5,.9 .5,1 .3,1.1 .2,1 0,1 -.3,1.5 -.2,1 -.5,1.1 -.6,.9 -.9,.8 -1,.5 -1,.4 -1,.3 -1.5,.5 -1,.4 -1,.5 -1,.3 -1.5,0 -1,-.3 -1.5,-.4 -1,-.1 -1.2,-.4 -.9,-.5 -.9,-.8 -.6,-.7 -.5,-1 -.7,-1 -.6,-1 -.4,-1 -.2,-1 0,-1 .5,-1.5 .3,-1 .6,-1 .6,-.6 .5,-.9 .5,-1.1 .4,-1.4 -.1,-1.5 -.1,-1.5 .3,-1.3 .3,-1.2 -.3,-1.5 -.1,-1 -.3,-1.5 -.2,-1 .2,-1 .3,-1.5 .1,-1 0,-1 -.4,-1.5 -.2,-1 -.1,-1.5 0,-1.5 .2,-1.4 .4,-1.1 .3,-1 .3,-1.1 .2,-1.4 .2,-1.5 0,-1.5 -.4,-1.1 -.7,-.9 -.3,-1 -.6,-1 -.7,-1 -.5,-1 -.5,-1 -.5,-1 -.5,-1 -.6,-1 -.1,-1 .2,-1 .5,-1 .5,-1 -.2,-1.3 -.5,-.8 -.5,-.9 .1,-1 -.1,-1.5 -.4,-1 -.3,-1 -.2,-1.5 .4,-1.1 .5,-.9 1,-1 .6,-.5 .9,-.5 1,-.6 1,-.5 1.2,-.4 1.3,-.3 1.4,-.2M122.8,226.2l1.5,-.1 1,.2 1.5,.4 1,.3 1,.3 1.5,.4 1,.1 1.5,.3 1,.5 .7,.6 .8,.7 .7,.8 .6,1 .5,1 .4,1 .3,1.1 .2,1.4 -.1,1.5 -.1,1 -.5,1.5 -.2,1 -.3,1.3 -.4,1.2 -.6,1 -.5,.8 -.5,.8 -.6,.9 -.8,1 -.6,1 -.5,.8 -.5,.9 -.6,.8 -.7,1 -.7,.8 -.7,.7 -.8,.8 -.7,.7 -.8,.6 -1,.7 -1,.3 -1.5,.1 -1.5,.1 -1.5,.1 -1.5,-.1 -1.2,-.3 -1,-.5 -.8,-.5 -1,-.7 -1,-.7 -1,-.6 -.7,-.5 -.8,-1 -.5,-.8 -.5,-.7 -.6,-1 -.4,-1 -.3,-1.5 0,-1.5 .2,-1.5 .2,-1 .4,-1.1 .5,-.9 .5,-1.1 .5,-1.3 .4,-1.1 .3,-1 .7,-1 .6,-.8 .5,-.7 .9,-1 .6,-.8 .5,-.7 .7,-1 .8,-1 .5,-.7 .5,-.8 1,-1 .8,-.5 1.2,-.5 1,-.3 .5,-.2M84.1,182.2l1.2,-.1 1,.1 1.5,.3 1,.3 1.5,.3 1,.2 1,.5 1,.7 1,.7 .5,.5 .8,1 .2,1 0,1.1 -.5,1.4 -.5,.8 -.5,1 -.5,.7 -.1,1.5 .3,1 .3,1.2 .6,.8 .8,1 .5,1 .1,1 -.3,1 -.6,1 -.6,.7 -.5,1 -.2,1.3 0,1.5 0,1.5 -.7,1 -.6,.8 -.4,1.2 -.2,1 -.2,1.5 -.2,1 -.3,1.5 -.1,1.5 .1,1.5 .2,1.5 .2,1 .1,1.5 .1,1.5 .3,1 .4,1.2 .5,1.2 .2,1.1 -.1,1.5 -.1,1 -.5,1.5 -.2,1 .2,1.1 0,.9 -.1,1.5 .2,1 .5,1 .5,1 .7,1 .4,1 .6,1 .7,1 .5,1 .3,1 .2,1 0,1.1 -.2,1.4 -.3,1.2 -.5,.8 -.8,1 -.8,.5 -1.2,.5 -1.2,.4 -1,.4 -1,.3 -1,.4 -1.5,.4 -1.5,-.2 -1,-.3 -1.5,-.3 -1,-.3 -1,-.6 -.8,-.7 -.7,-1 -.5,-.8 -.5,-.7 -.6,-1 -.4,-1.4 -.1,-1.1 .3,-1 .3,-1 .7,-1 .8,-.8 .6,-.7 .9,-1 .4,-1 0,-1.5 -.2,-1.5 -.2,-1.5 0,-1 .2,-1 -.2,-1.5 0,-1 0,-1.5 -.1,-1.5 .1,-1 .1,-1.5 -.1,-1.2 -.3,-1.3 -.2,-1 0,-1.5 .1,-1 .2,-1.5 .3,-1 .4,-1.5 .2,-1 .3,-1.1 .3,-1.4 .2,-1.5 -.4,-1.5 -.6,-.9 -.4,-1.1 -.4,-1 -.6,-1 -.6,-.8 -.5,-.9 -.5,-1.2 -.5,-1.1 -.5,-.9 -.5,-.8 -.1,-1.3 .4,-1 .7,-.9 .3,-1.1 .7,-1 0,-.9 -.5,-.6 -1,-.6 -.9,-.9 -.6,-.8 -.5,-1.2 -.3,-1 -.1,-1.5 .4,-1.2 .6,-.8 .9,-.9 .9,-.6 .9,-.5 .9,-.5 1.3,-.5 1,-.3 1.3,-.2M121.9,227.2l1.4,-.4 1.5,.1 1.4,.3 1.1,.3 1,.3 1.4,.4 1.1,.2 1.4,.3 1.1,.5 .8,.5 .7,.6 .9,.9 .6,1 .4,1 .3,1 .3,1.3 0,1.2 -.1,1 -.4,1.5 -.2,1 -.3,1.4 -.3,1.1 -.4,1 -.5,1 -.7,1 -.6,.9 -.5,.6 -.7,1 -.6,1 -.6,1 -.6,.9 -.5,.7 -.6,.9 -.9,.9 -.6,.6 -.9,.9 -.8,.6 -.8,.5 -1.4,.5 -1,.1 -1.5,0 -1.5,.1 -1.5,0 -1,-.3 -1,-.5 -1,-.7 -1,-.7 -.8,-.5 -.7,-.5 -1,-.8 -.5,-.7 -.7,-1 -.5,-1 -.4,-1 -.3,-1.5 0,-1.5 .1,-1.5 .3,-1 .5,-1.2 .5,-.9 .5,-1.1 .5,-1.2 .4,-1.1 .5,-1 .6,-.9 .5,-.8 .6,-.8 .7,-1 .7,-1 .5,-.8 .5,-.7 .7,-1 .7,-1 .6,-.7 1,-.7 1,-.5 .6,-.1M83.8,182.7l1.5,-.2 1.5,.2 1,.2 1,.3 1.5,.3 1,.3 1,.4 1,.8 .9,.7 .6,.6 .5,1 .1,1.4 -.4,1 -.7,1 -.5,.8 -.7,.7 -.7,1 -.1,.8 .4,1.2 .4,1 .4,1 .8,1 .5,.8 .2,1.2 -.5,1 -.7,.8 -.5,.7 -.5,1 -.5,1.5 -.2,1 -.1,1.5 0,1.5 -.7,1 -.2,1 -.2,1.5 -.1,1 -.4,1.5 -.2,1 -.1,1.5 .1,1.5 .1,1 .2,1.5 .2,1.5 .2,1 .4,1.5 .4,1 .4,1 .3,1 .1,1.5 -.2,1.1 -.4,1.4 -.2,1 .1,1.5 -.3,1.5 -.3,1 .1,1.4 .5,.8 .5,.8 .7,1 .8,.9 .5,.9 .5,.7 .6,1 .5,1 .4,1.5 -.1,1.5 -.2,1.5 -.4,1 -.8,.9 -.9,.6 -1,.5 -1.1,.4 -1,.3 -1.2,.3 -1.3,.5 -1,0 -1,-.2 -1,-.3 -1.5,-.4 -1,-.5 -.8,-.6 -.7,-.7 -.6,-.8 -.7,-1 -.5,-1 -.3,-1 0,-1.5 .4,-1 .6,-1 .6,-.5 1,-.8 .7,-.7 .8,-.9 .5,-.8 .4,-1.3 -.4,-1.5 -.5,-1 -.4,-1 -.2,-1 .1,-1 0,-1 0,-1.5 .1,-1 0,-1.5 .1,-1.5 .1,-1.5 -.2,-1.5 -.3,-1 -.2,-1.5 .2,-1.5 .2,-1 .3,-1.5 .2,-1 .4,-1.5 .3,-1 .3,-1.1 .2,-1.4 -.1,-1.5 -.4,-1 -.6,-1 -.4,-1 -.3,-1 -.5,-1 -.6,-1 -.6,-1 -.4,-1 -.4,-1 -.5,-1 -.5,-1 .1,-1.2 .6,-.8 .7,-1 .6,-1 .4,-1 -.3,-1.3 -1,-.7 -.9,-.5 -1.1,-.5 -.5,-.5 -.9,-1 -.4,-1 -.2,-1 0,-1.1 .5,-1.1 .6,-.8 .9,-.8 1,-.6 1,-.6 1,-.4 1,-.3 1.5,-.3M122.6,227.7l1.2,-.2 1.5,.2 1,.2 1.1,.3 1.4,.4 1,.3 1.3,.3 1.2,.3 1,.5 1,.7 .5,.5 .8,1 .5,1 .3,1 .3,1.5 -.1,1.5 -.3,1.2 -.4,1.3 -.2,1 -.3,1.5 -.3,1 -.5,1 -.6,1 -.7,1 -.5,.6 -.7,.9 -.6,1 -.6,1 -.6,1 -.5,.7 -.6,.8 -.8,1 -.6,.5 -1,.9 -.8,.6 -.8,.5 -1.4,.4 -1.5,.1 -1,0 -1.5,0 -1,-.1 -1.3,-.4 -.9,-.5 -.8,-.5 -1,-.7 -1,-.7 -.8,-.6 -.7,-.9 -.5,-.8 -.5,-.9 -.5,-1.4 -.1,-1 0,-1.5 .1,-1.3 .4,-1.2 .4,-1 .6,-1 .4,-1 .5,-1 .4,-1 .5,-1 .6,-1 .5,-1 .7,-1 .5,-.8 .5,-.8 .5,-.9 .7,-1 .7,-1 .6,-.8 .7,-.7 .9,-.5 1.4,-.4 .3,-.1M83.5,183.2l1.3,-.3 1.5,.1 1,.2 1.5,.4 1,.2 1.5,.4 1,.5 .6,.5 .9,.7 .8,.8 .4,1 -.2,1.4 -.5,.8 -.7,.8 -.8,.9 -.7,.6 -.8,1 -.3,1 .5,1 .4,1 .4,1.1 .6,.9 .7,1 -.1,1.5 -.7,.9 -.5,.6 -.6,1 -.5,1 -.5,1 -.5,1 -.3,1.5 .3,1.5 -.4,1.3 -.2,1.2 -.2,1.5 -.3,1 -.2,1.5 -.2,1 0,1.5 .1,1.5 0,1 .2,1.5 .1,1.5 .3,1 .4,1 .6,1 .6,1 .4,1 0,1.5 -.1,1 -.4,1.5 -.2,1 .1,1.5 -.5,1.3 -.6,.7 -.9,.8 -1,.5 -1.3,-.3 -1.2,-.3 -1,-.7 -.5,-.9 -.3,-1.1 .1,-1.5 .1,-1.5 .2,-1 .1,-1.5 .2,-1.5 .4,-1 .3,-1 -.1,-1.5 -.5,-1 -.2,-1 .2,-1.5 .1,-1 .4,-1.5 .2,-1 .3,-1.3 .2,-1.2 .1,-1.5 0,-1.5 -.2,-1.5 -.6,-.9 -.5,-1.1 -.3,-1 -.3,-1 -.4,-1 -.6,-1 -.5,-1 -.5,-1 -.4,-1 -.5,-1 0,-1.4 .5,-.6 .9,-1 .4,-1 .4,-1 -.2,-1.5 -.5,-.5 -1,-.7 -1,-.5 -1,-.4 -1,-.7 -.8,-.7 -.6,-1 -.2,-1 .1,-1.4 .5,-.9 .6,-.7 .9,-.7 1,-.6 1,-.5 1,-.4 1.5,-.3 .2,0M123.6,228.2l.8,0 1.4,.2 1.1,.3 1.4,.5 1,.3 1,.3 1.5,.4 1,.4 .9,.6 .6,.5 .8,1 .4,1 .3,1 .2,1.5 -.2,1 -.4,1.5 -.2,1 -.3,1.5 -.2,1 -.4,1.1 -.5,.9 -.6,1 -.7,1 -.7,.8 -.5,.7 -.6,1 -.6,1 -.6,1 -.7,1 -.5,.7 -.9,.8 -.6,.5 -1,.8 -1,.6 -1,.3 -1.5,.2 -1.5,0 -1.5,-.1 -1.3,-.3 -1,-.5 -.8,-.5 -.9,-.6 -1,-.7 -.9,-.7 -.6,-.8 -.5,-.8 -.5,-1 -.4,-1.4 0,-1.5 .1,-1.5 .3,-1 .5,-1.2 .5,-.9 .5,-1.1 .5,-.9 .5,-1.1 .5,-1 .5,-.9 .5,-1.1 .5,-.9 .5,-.9 .6,-1 .7,-1 .7,-1 .5,-.8 .6,-.7 .9,-.7 1,-.4 1.5,-.4 .3,0M87.7,239.7l1.1,0 .9,.5 .8,.5 .8,.8 .6,.7 .9,1 .5,.7 .6,.8 .7,1 .4,1 .3,1.5 -.1,1.5 -.4,1.4 -.5,.8 -1,.8 -1,.5 -1,.3 -1.2,.2 -1.3,.3 -1.5,.1 -1.5,-.3 -1,-.2 -1,-.4 -1,-.6 -1,-.9 -.5,-.6 -.6,-.9 -.5,-1 -.2,-1.5 .3,-1 .6,-1 .9,-.7 1,-.7 .5,-.6 1,-1 .5,-.6 .8,-.9 .7,-.6 1,-.7 .4,-.2M83,183.7l1.3,-.2 1.5,-.2 1.5,.3 1,.2 1.5,.4 1,.2 1,.4 1,.8 .8,.6 .7,.9 .3,1.1 -.4,1 -.8,1 -.6,.6 -1,.8 -.8,.6 -.7,.7 -.6,.8 .1,1.4 .5,.7 .5,.9 .5,1.2 .6,.8 .5,1 -.3,1 -.8,1 -.5,.9 -.5,.8 -.6,.8 -.8,1 -.5,1 -.2,1 .1,1.5 .1,1 -.4,1 -.3,1 -.5,.5 -.4,-1 -.5,-1 -.5,-1 -.5,-1.5 -.2,-1 -.3,-1 -.6,-1 -.6,-1 -.5,-1 -.4,-1 -.4,-1 0,-1 1,-1 .5,-.6 .5,-1.2 .3,-1.2 -.3,-1.3 -.7,-.7 -.8,-.5 -1,-.6 -1,-.5 -1,-.4 -1,-.5 -1,-.8 -.5,-.9 -.3,-1.3 .3,-1.1 .7,-.9 .8,-.8 1,-.6 1,-.5 1,-.3 1.2,-.3M87.2,225.7l.6,.1 .7,.9 .8,.9 .5,.6 .5,1.5 -.1,1.5 -.2,1.5 -.1,1.5 -.1,1.1 -.7,.9 -1.3,.5 -1,.1 -1,-.1 -1,-.6 -.4,-1.4 .1,-1.5 .3,-1.5 .2,-1 .3,-1.5 .4,-1 .5,-1 .6,-1 .4,-.5M122.3,229.2l1.5,-.3 1.5,.1 1,.2 1.5,.5 1,.4 1,.3 1,.3 1.2,.5 .9,.5 .9,.7 .6,.8 .5,1 .3,1.5 -.2,1.5 -.2,1.1 -.3,1.4 -.2,1 -.4,1.5 -.4,1 -.5,1 -.6,1 -.6,.8 -.6,.7 -.6,1 -.6,1 -.6,1 -.6,.9 -.5,.7 -.7,.9 -.8,.7 -1,.8 -.9,.5 -1.1,.5 -1,.2 -1.5,.1 -1.5,-.1 -1.1,-.2 -1.2,-.5 -.9,-.5 -.8,-.6 -1,-.6 -1,-.8 -.5,-.6 -.6,-.9 -.4,-1 -.3,-1.5 .1,-1.5 .2,-1.1 .5,-1.4 .4,-1 .5,-1 .5,-1 .6,-1 .5,-1 .5,-1 .4,-1 .5,-1 .6,-1 .5,-.9 .5,-.8 .5,-.8 .8,-1 .7,-.9 .8,-.6 1.2,-.5M86.9,241.7l1.4,-.4 1.2,.4 .8,.6 .8,.9 .7,.9 .6,.6 .9,.9 .5,.7 .5,1.4 .1,1 -.1,1 -.5,1.4 -.6,.6 -.9,.6 -1.3,.4 -1.2,.1 -1.5,.2 -1.5,-.2 -1,-.1 -1.5,-.4 -1,-.6 -.7,-.5 -.8,-.9 -.5,-.7 -.4,-1.4 .4,-1.5 .5,-.7 1,-.8 .7,-.5 .8,-.8 .7,-.7 .8,-.8 1,-.6 .1,-.1M82.6,184.2l1.2,-.2 1.5,-.3 1.5,.1 1.4,.4 1.1,.2 1.1,.3 1.2,.5 .7,.5 1,.7 .6,.8 .1,1.5 -.7,1 -.5,.5 -1,.8 -1,.6 -1,.6 -.9,.5 -.9,.5 -1.2,.3 -1.5,0 -1,-.3 -1,-.5 -1,-.5 -1.3,-.5 -1.1,-.5 -1,-.5 -.6,-.5 -.7,-1 -.1,-1.5 .5,-1 .8,-.8 1,-.7 1,-.4 1,-.4 .8,-.2M86.3,197.2l1.5,-.3 1,.6 .8,.7 .7,.7 .5,1.3 -.6,1 -.7,1 -.7,.9 -.6,.6 -.9,1 -1,.1 -.5,-.6 -.7,-1 -.5,-1 -.5,-1 .1,-1.5 .6,-.5 1,-1 .5,-.9 0,-.1M86.9,228.7l1.1,0 .5,1 .3,1.3 .1,1.2 -.1,1.5 0,1.1 -1,.7 -1.5,.1 -1,-.9 .3,-1.5 .2,-1 .4,-1.5 .3,-1 .4,-1M123.6,229.7l1.2,-.1 1,.2 1.4,.4 1.1,.5 1,.4 1,.3 1,.4 1,.6 1,.8 .5,.8 .4,1.2 .1,1 -.1,1 -.2,1.5 -.2,1 -.3,1.5 -.4,1 -.4,1 -.5,1 -.7,1 -.7,1 -.5,.7 -.5,.9 -.6,.9 -.6,1 -.7,1 -.6,.8 -.8,.7 -.7,.6 -1,.7 -1,.5 -1,.2 -1.5,.1 -1.5,-.1 -1,-.2 -1,-.4 -1,-.5 -1,-.7 -1,-.6 -.7,-.6 -.7,-1 -.5,-1 -.2,-1 0,-1.5 .1,-1 .5,-1.5 .4,-1 .4,-1 .6,-1 .5,-1 .5,-1 .6,-1 .4,-1 .4,-1 .5,-1 .6,-1 .6,-.9 .5,-.7 .7,-.9 .8,-.9 1,-.6 1,-.3 .8,-.2M87.3,242.7l1,-.1 1,.6 .5,.5 .7,1 .8,.9 1,.6 .6,.5 .5,1 .1,1.5 -.3,1 -.9,1 -1,.5 -1,.1 -1.5,-.1 -1,-.1 -1.5,-.2 -1.5,-.1 -1,-.4 -.9,-.7 -.6,-.8 -.4,-1.2 .4,-1.4 .6,-.6 .9,-.7 .9,-.8 .6,-.6 1,-.9 1,-.5M85.1,184.2l1.2,0 1,.2 1.4,.3 1.1,.2 1,.3 1,.5 1,.8 .7,.7 0,1.5 -.7,.9 -.8,.6 -.7,.5 -1,.5 -1,.5 -1.1,.5 -1.4,.4 -1.5,0 -1.5,-.4 -1,-.3 -1,-.4 -1,-.4 -1,-.4 -1,-.6 -.8,-.9 -.1,-1.5 .6,-1 .8,-.7 1,-.6 1,-.5 1,-.2 1.5,-.3 1.3,-.2M86.3,199.7l1,-.4 1,.4 0,1.2 -.7,.8 -1.2,0 -.4,-1 .3,-1M122.7,230.7l1.1,-.3 1.5,0 1.2,.3 1.1,.5 1.2,.5 1,.3 1,.5 1,.7 .6,.5 .7,1 .3,1 .1,1.5 -.2,1.3 -.2,1.2 -.3,1.2 -.5,1.3 -.4,1 -.6,1 -.5,.8 -.5,.7 -.6,1 -.6,1 -.6,1 -.7,.9 -.5,.7 -.8,.9 -.7,.7 -1,.7 -1,.6 -1,.4 -1.2,.1 -.9,0 -1.4,-.2 -1,-.3 -1,-.6 -1,-.6 -1,-.6 -.9,-.7 -.6,-.8 -.5,-1.2 -.1,-1 .1,-1.5 .2,-1 .4,-1 .4,-1 .5,-1 .5,-1 .6,-1 .5,-1 .5,-1 .4,-1 .5,-1.1 .5,-.9 .6,-1 .7,-1 .7,-.8 .7,-.7 .8,-.6 .9,-.4M87,244.2l1,0 0,1.5 .7,1 .7,.5 1.2,.5 .8,.5 -.1,1.5 -.6,0 -1.4,-.4 -1,-.1 -1,0 -1.5,.2 -1.5,-.1 -.8,-.6 -.2,-.5 .5,-1 1,-.8 .9,-.7 .6,-.7 .7,-.8M84.6,184.7l1.2,-.2 1.2,.2 1.3,.3 1,.2 1.5,.4 1,.6 .7,.5 .7,1 -.4,1.3 -.8,.7 -.8,.5 -.9,.5 -1.1,.5 -1.3,.5 -1.1,.3 -1.5,0 -1.4,-.3 -1.1,-.3 -1,-.4 -1,-.4 -1,-.4 -1,-.7 -.5,-.8 0,-1 .7,-1 .8,-.6 1,-.6 1,-.3 1.5,-.3 1.3,-.2M123.9,231.2l1.4,-.1 1,.3 1,.4 1,.5 1.2,.4 .9,.5 .9,.6 .7,.9 .5,1 .2,1.5 -.1,1.5 -.3,1.5 -.3,1 -.5,1 -.5,1 -.6,1 -.6,1 -.5,.8 -.5,.9 -.5,.9 -.7,.9 -.8,1 -.5,.6 -.9,.9 -.6,.5 -1,.6 -1,.5 -1.5,.3 -1.5,-.1 -1,-.3 -1,-.5 -1,-.6 -1,-.5 -1,-.8 -.5,-.6 -.5,-1.2 -.1,-1.3 .1,-1 .5,-1.5 .4,-1 .5,-1 .5,-1 .6,-1 .5,-.9 .5,-1 .4,-1.1 .4,-1 .6,-1 .6,-1 .5,-.8 .6,-.7 .9,-.8 1,-.7 1,-.4 .6,-.1M84.1,185.2l1.2,-.2 1.5,0 1,.3 1.5,.3 1,.2 1,.5 1,.8 .4,1.1 -.7,1 -.8,.5 -.9,.5 -1.1,.5 -1.4,.5 -1,.3 -1.5,0 -1.4,-.3 -1.1,-.3 -1,-.3 -1,-.4 -1,-.5 -1,-.9 -.1,-1.1 .6,-.8 1,-.7 1,-.5 1,-.3 1.5,-.1 .3,-.1M123.1,232.2l1.2,-.3 1.5,.1 1,.4 1,.4 1.1,.4 1,.5 .9,.7 .6,.8 .4,1 .2,1.5 -.2,1.5 -.2,1 -.4,1 -.5,1 -.6,1 -.6,1 -.6,1 -.5,1 -.6,1 -.5,.8 -.7,.7 -.8,.9 -.6,.6 -.9,.8 -.9,.7 -1,.5 -1.1,.2 -1.5,-.1 -1,-.3 -1,-.5 -1,-.5 -1,-.6 -.8,-.7 -.6,-1 -.2,-1 .1,-1 .4,-1.5 .4,-1 .5,-1 .5,-1 .5,-1 .6,-1 .5,-1 .4,-1 .4,-1 .5,-1 .6,-1 .7,-.9 .6,-.6 .9,-.8 1,-.6 .3,-.1M81.2,186.2l1.1,-.2 1.5,-.1 1.5,-.1 1.5,0 1.5,.3 1,.2 1.3,.4 .7,.7 0,1.1 -.7,.7 -.8,.5 -1,.6 -1,.4 -1.5,.3 -1.5,0 -1,-.3 -1.5,-.4 -1,-.4 -1,-.4 -1,-.8 -.1,-1 .6,-.7 1,-.6 .4,-.2M124.1,232.7l1.2,-.1 1,.3 1,.4 1,.4 1.1,.5 .9,.7 .6,.8 .4,1.5 -.1,1.5 -.4,1.5 -.4,1 -.6,1 -.5,.9 -.5,.8 -.5,.8 -.5,1.1 -.5,.9 -.8,1 -.7,.7 -.7,.8 -.8,.8 -.9,.7 -.7,.5 -1.1,.5 -1.3,.1 -1,-.3 -1,-.4 -1,-.5 -1,-.5 -1,-.9 -.5,-1 0,-1 .1,-1 .4,-1 .5,-1.1 .5,-1 .5,-1 .5,-.9 .5,-1 .6,-1 .4,-1.1 .5,-1.1 .5,-.9 .6,-.9 .9,-.9 .7,-.6 .8,-.5 1.3,-.5M81.2,187.2l1.1,-.3 1.5,0 1.5,-.1 1.5,0 1.5,.3 1,.4 0,1.2 -.9,.5 -1,.5 -1.1,.4 -1.5,-.1 -1,-.4 -1.5,-.3 -1,-.3 -1,-.7 .1,-.6 .8,-.5M123.5,233.7l1.3,-.3 1.5,.3 1,.4 1,.3 1,.5 .8,.8 .4,1 .1,1.5 -.3,1.4 -.4,1.1 -.6,1 -.5,.7 -.5,.8 -.6,1 -.5,1 -.5,1 -.7,1 -.7,.6 -.8,.9 -.7,.7 -.9,.8 -.7,.5 -1.4,.4 -1.5,-.3 -1,-.4 -1,-.4 -1,-.6 -.7,-.7 -.3,-1.5 .4,-1.5 .4,-1 .5,-1 .5,-1 .5,-1 .6,-1 .6,-1 .4,-1 .5,-1 .6,-1 .5,-.8 .6,-.7 .9,-.8 1,-.6 .2,-.1M124.6,235.7l1.2,-.1 1.5,-.1 1.5,.1 .7,.6 .4,1 -.1,1.3 -.3,1.2 -.5,1 -.6,1 -.6,.8 -.6,.7 -.5,1 -.4,1.1 -.6,.9 -.9,1 -.7,.5 -.8,.6 -.8,.9 -.7,.6 -1,.5 -1.2,-.1 -1.3,-.5 -1,-.4 -.9,-.6 -.5,-1 .2,-1.5 .4,-1 .5,-1 .6,-1 .7,-1 .5,-.7 .6,-.8 .5,-1 .4,-1.1 .5,-1 .6,-.9 .9,-.5 1.5,-.3 .8,-.2M124.6,239.7l.2,.1 -.5,1 -.5,1 -.4,1.4 -.2,1 -.4,1.3 -.5,1.1 -.5,.9 -.6,.7 -1.3,.5 -.6,0 -1.5,-.2 -1,-.6 0,-1.2 .5,-.9 .5,-.7 .7,-.9 .8,-.8 .9,-.7 .9,-.5 .9,-.5 .8,-.6 1,-.8 .8,-.6" fill="none" stroke="#111" stroke-width="0.7" stroke-opacity="0.9"/>
</g>
<rect x="58.8" y="171.2" width="95.39999999999999" height="90.0" fill="none" stroke="#333" stroke-width="0.8"/>
<line x1="104.50" y1="171.20" x2="104.50" y2="261.20" stroke="#222" stroke-width="0.8" />
<line x1="58.80" y1="221.20" x2="154.20" y2="221.20" stroke="#222" stroke-width="0.8" />
<circle cx="104.5" cy="221.2" r="1.3" fill="#111"/>
<circle cx="104.5" cy="171.2" r="0.9" fill="#111"/>
<circle cx="154.2" cy="221.2" r="0.9" fill="#111"/>
<path d="M58.8,261.2v2.6 M58.8,261.2h-2.6 M66.0,261.2v1.4 M58.8,254.4h-1.4 M70.2,261.2v1.4 M58.8,250.5h-1.4 M73.2,261.2v1.4 M58.8,247.7h-1.4 M75.5,261.2v1.4 M58.8,245.5h-1.4 M77.4,261.2v1.4 M58.8,243.7h-1.4 M79.0,261.2v1.4 M58.8,242.2h-1.4 M80.3,261.2v1.4 M58.8,240.9h-1.4 M81.6,261.2v1.4 M58.8,239.7h-1.4 M82.6,261.2v2.6 M58.8,238.7h-2.6 M89.8,261.2v1.4 M58.8,231.9h-1.4 M94.0,261.2v1.4 M58.8,228.0h-1.4 M97.0,261.2v1.4 M58.8,225.2h-1.4 M99.3,261.2v1.4 M58.8,223.0h-1.4 M101.2,261.2v1.4 M58.8,221.2h-1.4 M102.8,261.2v1.4 M58.8,219.7h-1.4 M104.2,261.2v1.4 M58.8,218.4h-1.4 M105.4,261.2v1.4 M58.8,217.2h-1.4 M106.5,261.2v2.6 M58.8,216.2h-2.6 M113.7,261.2v1.4 M58.8,209.4h-1.4 M117.9,261.2v1.4 M58.8,205.5h-1.4 M120.9,261.2v1.4 M58.8,202.7h-1.4 M123.2,261.2v1.4 M58.8,200.5h-1.4 M125.1,261.2v1.4 M58.8,198.7h-1.4 M126.7,261.2v1.4 M58.8,197.2h-1.4 M128.0,261.2v1.4 M58.8,195.9h-1.4 M129.3,261.2v1.4 M58.8,194.7h-1.4 M130.3,261.2v2.6 M58.8,193.7h-2.6 M137.5,261.2v1.4 M58.8,186.9h-1.4 M141.7,261.2v1.4 M58.8,183.0h-1.4 M144.7,261.2v1.4 M58.8,180.2h-1.4 M147.0,261.2v1.4 M58.8,178.0h-1.4 M148.9,261.2v1.4 M58.8,176.2h-1.4 M150.5,261.2v1.4 M58.8,174.7h-1.4 M151.9,261.2v1.4 M58.8,173.4h-1.4 M153.1,261.2v1.4 M58.8,172.2h-1.4 M154.2,261.2v2.6 M58.8,171.2h-2.6" stroke="#222" stroke-width="0.5" fill="none"/>
<text x="57.6" y="269.9" font-size="4.2" font-weight="normal" fill="#333">10<tspan dy="-2.3" font-size="3.2">0</tspan></text>
<text x="54.4" y="263.8" font-size="4.2" font-weight="normal" text-anchor="end" fill="#333">10<tspan dy="-2.3" font-size="3.2">0</tspan></text>
<text x="81.4" y="269.9" font-size="4.2" font-weight="normal" fill="#333">10<tspan dy="-2.3" font-size="3.2">1</tspan></text>
<text x="54.4" y="241.3" font-size="4.2" font-weight="normal" text-anchor="end" fill="#333">10<tspan dy="-2.3" font-size="3.2">1</tspan></text>
<text x="105.3" y="269.9" font-size="4.2" font-weight="normal" fill="#333">10<tspan dy="-2.3" font-size="3.2">2</tspan></text>
<text x="54.4" y="218.8" font-size="4.2" font-weight="normal" text-anchor="end" fill="#333">10<tspan dy="-2.3" font-size="3.2">2</tspan></text>
<text x="129.2" y="269.9" font-size="4.2" font-weight="normal" fill="#333">10<tspan dy="-2.3" font-size="3.2">3</tspan></text>
<text x="54.4" y="196.3" font-size="4.2" font-weight="normal" text-anchor="end" fill="#333">10<tspan dy="-2.3" font-size="3.2">3</tspan></text>
<text x="153.0" y="269.9" font-size="4.2" font-weight="normal" fill="#333">10<tspan dy="-2.3" font-size="3.2">4</tspan></text>
<text x="54.4" y="173.8" font-size="4.2" font-weight="normal" text-anchor="end" fill="#333">10<tspan dy="-2.3" font-size="3.2">4</tspan></text>
<text x="60.099999999999994" y="175.79999999999998" font-size="4.7" font-weight="normal" fill="#222">20.36</text>
<text x="153.39999999999998" y="175.79999999999998" text-anchor="end" font-size="4.7" font-weight="normal" fill="#222">0.20</text>
<text x="60.0" y="260.4" font-size="4.7" font-weight="normal" fill="#222">17.60</text>
<text x="153.39999999999998" y="260.4" text-anchor="end" font-size="4.7" font-weight="normal" fill="#222">61.84</text>
<text x="151.60" y="231.80" font-size="10.2" font-weight="bold" text-anchor="end" fill="#000" stroke="#000" stroke-width="0.25" textLength="11.7" lengthAdjust="spacingAndGlyphs">62</text>
<clipPath id="c4"><rect x="170" y="171.2" width="96.19999999999999" height="89.60000000000002"/></clipPath>
<g clip-path="url(#c4)" filter="url(#bl)">
<path d="M196.7,183.7l1.8,-.3 2,.3 1,0 1.5,.2 1.7,.3 1.8,.4 1.5,.6 1.2,.5 1.3,.9 .9,1.1 .6,1 .6,1.5 -.1,1.5 -.8,1.5 -.7,1.1 -.6,1.4 -.9,1.4 -.3,1.6 -.2,1.5 -.3,2 .1,2 .1,2 0,2 .1,2 .1,1.5 .2,2 .2,2 .1,1.5 .4,2 .5,1.5 .3,1.5 0,2 -.3,1.5 .2,1.5 .4,1.5 0,2 -.6,1.4 -.4,1.6 -.2,1.5 .1,1.5 -.1,1.5 -.4,2 .3,2 0,2 -.2,2 -.2,1.5 -.5,1.5 -.7,1.5 -.7,1 -1,1.1 -1.3,.9 -1.2,.9 -1.2,.6 -1.8,.3 -2,0 -1.9,-.3 -1.6,-.4 -1.4,-.6 -1.1,-1 -.9,-1 -.8,-1 -.8,-1 -.9,-1.5 -.4,-1.5 0,-2 .3,-2 .2,-1.5 .2,-2 0,-2 .1,-1.6 .9,-1.4 .8,-1 .8,-1.5 -.2,-1 -.3,-1.7 -.1,-1.8 -.4,-2 -.5,-1.1 -.8,-1.4 -.4,-1.5 .1,-2 .5,-1.5 .6,-1.5 .3,-1.5 .2,-2 -.2,-2 -.3,-1.5 -.5,-2 -.2,-1.5 .2,-1.8 .5,-1.2 .8,-1.5 .5,-1.5 .2,-2 -.5,-1.5 -1,-1.1 -.7,-1.4 -.4,-1.5 -.9,-1.2 -.8,-1.3 -.6,-1.5 .4,-1.6 1,-1 1.5,-.9 1.4,-.5 1.5,-.5 1.6,-.3 1.7,-.2zM235.6,225.7l1.9,-.1 1.5,.1 1.5,.7 1,.8 1,1.5 .5,1.2 .4,1.8 -.4,2 -.3,1.5 -.7,1.4 -.8,1.1 -1,1 -.9,1 -.9,1 -1,1 -1.4,.9 -1,.7 -1.5,.8 -1.5,.5 -1.4,.6 -1.1,.5 -1.5,.7 -1.5,.6 -2,-.3 -1.5,-.5 -1,-.6 -1,-.9 -1,-1.4 -.6,-1.1 -.4,-1.5 .1,-1.5 .5,-1.5 .7,-1.5 .7,-1.2 .7,-1.3 .8,-1.1 1,-1 1.1,-.9 1.4,-.7 1.1,-.8 1.4,-.9 1,-.7 1.5,-.8 1.5,-.4 1.5,-.4 1.6,-.3z" fill="#000" fill-opacity="0.15"/>
<path d="M197.3,184.7l1.7,-.1 1.5,.2 2,.1 1.5,.3 2,.4 1.4,.6 1.1,.6 1.1,.9 .9,1.2 .3,1.8 -.8,1.2 -1,.8 -1.3,1 -1,1 -.4,1.5 -.8,1.5 -.5,1 -.7,1.5 -.4,1.5 .2,1.5 .5,1.5 .1,2 -.3,1.5 0,2 .4,1.5 .4,1.5 .3,1.9 0,1.6 -.2,1.5 .1,2 .4,1.5 .3,1.5 -.4,1.5 -.4,1.5 -.3,2 .3,2 .2,1.5 .5,1.7 .3,1.8 -.5,1.5 -.6,1.5 .4,1.5 .9,1.5 .5,1 .6,1.5 .1,2 -.2,1.9 -.5,1.2 -1,1.4 -.9,1 -1.1,.7 -1.3,.8 -1.2,.5 -2,.3 -1.7,-.3 -1.4,-.5 -1.4,-.8 -1,-.9 -1,-1 -1,-1.3 -.5,-1 -.2,-2 .2,-1.5 .5,-1.5 .7,-1.5 .6,-1.5 .7,-1.2 1,-.8 1.5,-1 .8,-1 .1,-2 0,-2 -.4,-1.5 -.5,-1.9 -.4,-1.6 -.4,-1.5 -.4,-1.5 -.6,-1.5 .2,-2 .6,-1.4 .5,-1.5 .5,-1.6 .3,-1.5 0,-2 .2,-1.7 .5,-1.4 .4,-1.9 -.4,-1.6 -.8,-1.4 -.4,-1.5 -.2,-2 .1,-2 -.4,-1.5 -.3,-1.5 -.7,-1.5 -1.3,-1 -1,-.7 -1,-.8 -1,-1 -1.1,-1 -.2,-2 .9,-1 1.4,-.7 1.5,-.5 1.5,-.4 2,-.3zM236,227.2l1.5,0 1.5,.3 1.2,.7 .8,1.1 .7,1.4 0,2 -.4,1.5 -.6,1.5 -.7,1 -1,1 -1,1 -1,1.1 -1.1,.9 -1.3,1 -1.1,.7 -1.5,.8 -1.3,.5 -1.2,.5 -1.5,.7 -1.5,.5 -2,-.1 -1.4,-.6 -1.1,-1 -.8,-1 -.7,-1.5 -.1,-1.5 .5,-1.5 .6,-1.3 .7,-1.2 .8,-1.3 1,-1.2 1,-.9 1,-.7 1.5,-.8 1,-.7 1.4,-.9 1.1,-.7 1.5,-.6 1.5,-.4 2,-.3z" fill="#000" fill-opacity="0.3"/>
<path d="M197.7,185.7l1.3,0 2,.2 1.9,.3 1.6,.3 1.5,.4 1.5,.8 1,.7 .9,1.3 -.7,1.5 -1.2,.8 -1.5,.6 -1.5,.5 -1.5,.1 -2,.2 -1.5,-.2 -2,-.1 -1.5,-.6 -1.5,-.6 -1.3,-.7 -1.2,-.8 -1,-.8 -.6,-1.4 1,-1 1.5,-.5 1.6,-.5 1.5,-.2 1.7,-.3zM234.8,228.7l1.7,-.2 1.6,.2 1.4,1 .6,1 .2,2 -.5,1.5 -.8,1.3 -1,1.1 -1,1 -1,1.1 -1,.9 -1,.8 -1,.8 -1.5,.9 -1.5,.6 -1.3,.5 -1.2,.5 -2,.5 -1.5,-.5 -1.2,-1 -.8,-1.3 -.2,-1.7 .5,-1.5 .7,-1.4 .7,-1.1 .8,-1 1,-1 1.3,-1 1.2,-.7 1.3,-.8 1.2,-.7 1.3,-.8 1.2,-.5 1.8,-.5zM196.8,240.2l1.7,-.4 2,.4 1,.6 1.5,.8 1,.6 1,1.3 .5,1.2 .1,2 -.5,1.5 -.8,1 -1.3,1 -1,.6 -1.5,.4 -1.9,0 -1.1,-.5 -1.5,-.8 -1,-.7 -1,-1.1 -.7,-1.4 .1,-2 .6,-1.2 .8,-1.3 .7,-1 1.3,-1z" fill="#000" fill-opacity="0.4"/>
<path d="M195.6,186.7l1.9,-.3 2,0 2,.2 1.5,.3 1.5,.3 1.5,.5 1.5,.8 1,1.1 -.4,1.1 -1.1,.6 -1.5,.5 -1.7,.4 -1.8,.2 -2,-.1 -2,-.1 -1.5,-.4 -1.5,-.6 -1.1,-.5 -1.4,-.8 -1,-1 .5,-1.2 1.5,-.5 1.5,-.3zM233.8,229.7l1.7,-.4 2,0 1.4,.9 .6,1.2 -.1,1.3 -.5,1.5 -.9,1.2 -1,1.1 -1,1.1 -1,1 -1,.9 -1,.8 -1.3,.9 -1.2,.5 -1.5,.6 -1.5,.6 -1.5,.5 -1.5,-.3 -1,-.9 -.9,-1.5 .3,-2 .6,-1.2 .8,-1.3 .8,-1 1,-1 1.4,-1 1,-.6 1.5,-.9 1,-.6 1.5,-.9 1.3,-.5zM197.4,241.7l1.6,-.3 1.5,.4 1.5,.7 1.1,.7 .9,1.3 .3,1.7 -.4,1.5 -.9,1 -1.5,.8 -1.5,.4 -1.5,-.3 -1.5,-.8 -1.2,-.6 -.9,-1 -.3,-2 .8,-1.5 .7,-1 1.3,-1z" fill="#000" fill-opacity="0.3"/>
<path d="M197.5,187.2l1.5,0 1.5,.2 2,.1 1.5,.3 1.8,.4 1.2,.7 .7,1.3 -1.2,.7 -1.5,.5 -1.5,.3 -2,.2 -2,-.1 -1.5,-.1 -1.5,-.5 -1.5,-1 -1,-.7 .4,-1.3 1.4,-.5 1.7,-.5zM233.9,230.2l1.6,-.4 2,.1 1.1,.8 .4,1.5 -.5,1.5 -.6,1 -.9,1.1 -1,1 -1,1.1 -1,.9 -1,.9 -1.4,1 -1.1,.5 -1.5,.6 -1.5,.6 -1.5,.5 -1.5,-.4 -1,-1.2 -.4,-1.6 .6,-1.5 .8,-1.4 .8,-1.1 1,-1 1.2,-.9 1,-.6 1.5,-.9 1,-.6 1.5,-.9 1.4,-.6zM198.3,243.2l1.2,0 1.5,.8 1,.9 0,1.8 -1,.8 -2,0 -1.5,-.6 -1,-1 .1,-1.2 .9,-1.1z" fill="#000" fill-opacity="0.3"/>
<path d="M196.4,180.7l1.1,-.2 1.5,0 1.5,.2 1,.2 1.5,0 1.2,.3 1.3,.3 1,.5 1,.4 1,.4 1,.5 1,.6 1,.6 .8,.7 .7,.7 .5,.8 .6,1 .4,1.1 .2,1.4 -.1,1.5 -.3,1 -.2,1.5 -.1,1.1 0,.9 .5,1.3 0,1.2 -.1,1 -.4,1.5 -.2,1 0,1.5 0,1.5 .1,1.5 .2,1 .3,1.5 .1,1 0,1.5 0,1.5 .1,1.5 0,1.5 0,1.5 0,1.5 .1,1.5 .1,1.5 .1,1.5 .1,1.5 0,1.5 -.1,1.5 0,1.5 -.1,1.5 -.1,1.5 -.4,1 -.1,1.5 -.2,1.3 -.4,1.2 -.4,1 -.2,1.2 -.2,1.3 .2,1.5 -.1,1.5 -.2,1.5 0,1.5 -.1,1.5 -.2,1 -.4,1.3 -.5,1.2 -.5,.9 -.5,.8 -.5,.8 -.9,1 -.6,.6 -1,.6 -1,.8 -.9,.5 -1,.5 -1.1,.3 -1.2,.2 -1.3,.1 -1,-.1 -1.5,0 -1,0 -1.1,0 -1.4,-.4 -1,-.5 -1,-.5 -.9,-.6 -.6,-.5 -1,-.8 -.7,-.7 -.8,-.7 -.8,-.8 -.7,-.9 -.5,-.6 -.5,-1.2 -.5,-1.2 -.3,-1.1 -.1,-1.5 .1,-1.5 0,-1.5 .1,-1.5 .4,-1 .3,-1.1 .5,-.9 .5,-1 .3,-1.5 -.2,-1.5 0,-1.5 -.1,-1 -.1,-1.5 .1,-1.5 .1,-1 0,-1.5 -.1,-1 -.1,-1.5 -.1,-1.5 0,-1.5 -.1,-1.5 .1,-1.5 0,-1.5 .1,-1.5 0,-1.5 .1,-1.5 -.1,-1.5 -.1,-1.5 -.1,-1.5 0,-1.5 0,-1.5 0,-1.5 0,-1.5 .1,-1.5 0,-1.5 0,-1.5 .2,-1.5 .2,-1 -.2,-1.5 -.5,-1 -.5,-.7 -.7,-.8 -.5,-1 -.5,-1 -.1,-1.5 .3,-1.5 .4,-1 .6,-.7 1,-.8 .7,-.5 .9,-.5 1,-.5 1.1,-.5 1.3,-.5 1,-.3 1,-.2 1.5,-.1 .9,-.4M235.9,221.7l1.1,0 1,.1 1.5,.4 1,0 1,.5 1,.8 .9,.7 .6,.7 .6,.8 .5,1 .5,1 .4,1.2 .4,1.3 .2,1 .1,1.5 -.2,1.4 -.2,1.1 -.3,1.4 -.5,1 -.5,.6 -.6,1 -.9,1 -.5,.6 -.8,.9 -.7,.7 -.7,.8 -.8,.8 -.7,.7 -.8,.6 -1,.8 -.9,.6 -.9,.5 -1.2,.4 -1,.2 -1.2,.4 -.1,1.5 .5,1 .8,.9 .5,.6 .5,1 .3,1.5 -.3,1.1 -1,.9 -1,.5 -.8,.5 -.8,.5 -1.4,.3 -1,.2 -1.3,0 -1.2,-.1 -1.5,0 -1.5,-.2 -1,-.2 -1.5,-.5 -.9,-.5 -1.1,-.5 -1,-.5 -.6,-.5 -.3,-1.5 .3,-1.5 .6,-1 .6,-.5 .9,-.9 .7,-.6 .4,-1 -.6,-.8 -.6,-.7 -.8,-1 -.6,-1 -.5,-.7 -.5,-1 -.5,-1.3 -.1,-1 0,-1.5 0,-1.5 .3,-1 .3,-1.2 .5,-1.2 .5,-.8 .6,-.8 .6,-1 .8,-1 .5,-.6 .9,-.9 .6,-.6 .9,-.9 .7,-.5 .9,-.6 1,-.7 1,-.6 .9,-.6 .8,-.5 .8,-.6 1,-.5 1,-.5 1.1,-.4 1.4,-.4 1,-.2 1.5,-.2 .4,-.2M197.2,181.2l1.3,-.3 1.5,.1 1,.3 1.5,-.1 .5,0 1.5,.5 1,.3 1,.4 1,.4 1,.4 1.1,.5 .9,.6 1,.7 .8,.7 .7,.9 .5,.8 .5,1.2 .3,1.1 .1,1.5 -.3,1.5 -.2,1 -.4,1 -.3,1.5 .3,1.3 .1,1.2 -.2,1 -.4,1.5 -.1,1 0,1.5 0,1.5 0,1.5 .1,1 .4,1.5 .2,1 .1,1.5 .1,1.5 0,1.5 0,1.5 -.1,1.5 .2,1.5 .2,1 .4,1.3 .1,1.2 .1,1.5 .1,1.5 -.1,1.5 0,1.5 -.1,1.5 0,1.5 -.2,1 -.5,1 -.3,1.5 -.3,1 -.3,1 -.5,1.5 .1,1.5 -.1,1.4 -.2,1.1 -.1,1.5 -.2,1.2 -.1,1.3 -.1,1.5 -.3,1.2 -.3,1.3 -.4,1 -.5,1 -.6,1 -.7,.9 -.5,.6 -1,1 -.5,.6 -1,.8 -1,.6 -1,.4 -1.5,-.1 -1.5,-.1 -1,-.2 -1.5,0 -1,.2 -1.4,-.2 -1.1,-.3 -1,-.4 -1,-.6 -.8,-.7 -.7,-.6 -.9,-.9 -.6,-.6 -.9,-.9 -.6,-.7 -.8,-.8 -.7,-1 -.5,-.7 -.5,-.8 -.1,-1.5 0,-1.5 .1,-1.3 .1,-1.2 .3,-1.5 .1,-1 .5,-1.1 .5,-.9 .5,-1.5 0,-.6 -.2,-1.4 .1,-1.5 0,-1.5 .1,-1 .2,-1.5 .2,-1.5 0,-1.5 -.2,-1.5 -.3,-1 -.2,-1.5 -.2,-1.5 0,-1.5 .1,-1.5 .2,-1.5 .2,-1.4 .1,-1.1 .2,-1.5 -.2,-1.5 -.2,-1 -.3,-1.5 -.1,-1 -.1,-1.5 0,-1.5 0,-1.5 .1,-1 .3,-1.5 0,-1.5 -.1,-1.5 .3,-1.5 0,-1 -.1,-1 -.4,-1.1 -.5,-1 -.7,-.9 -.6,-1 -.6,-1 -.1,-1 0,-1.2 .5,-1.2 .5,-.7 1,-.6 1,-.6 1,-.5 1,-.5 1,-.4 1,-.4 1.2,-.4 1.3,-.3 1.5,-.1 1,-.5 .2,-.1M235.8,222.7l1.2,-.2 1,.3 1.5,.2 1.1,.2 .9,.5 1,.7 .8,.8 .7,1 .4,1 .4,1 .3,1 .4,1.5 .1,1 0,1.5 -.1,1 -.2,1.5 -.3,1.1 -.6,.9 -.6,1 -.8,1 -.5,.6 -.7,.9 -.7,1 -.6,.8 -.6,.7 -.9,.9 -.9,.6 -.6,.5 -1,.6 -1.5,.3 -1.5,0 -1.3,.1 -1.2,.5 -.6,.5 .3,1 .6,1 -.4,1 .6,.7 .9,.8 .6,.6 .5,.9 0,1.2 -1,.8 -1,.5 -1,.5 -1,.3 -1,.2 -1.5,.3 -1.5,.1 -1.5,-.1 -1,-.3 -1.5,-.5 -1,-.5 -1,-.5 -1,-.5 -.5,-.6 0,-1.2 .5,-.8 1,-.9 .6,-.5 .6,-1 -.2,-1.4 -.4,-1.1 -.6,-.8 -.5,-.7 -.6,-1 -.7,-1 -.5,-1 -.4,-1 -.3,-1.1 -.1,-1.4 .1,-1.5 .1,-1 .3,-1.5 .5,-1 .6,-1 .5,-.6 .5,-.9 .8,-1 .7,-.8 .7,-.7 .8,-.8 .8,-.7 .7,-.5 1,-.5 1,-.6 1,-.5 1,-.5 1,-.6 1,-.6 1,-.5 1,-.3 1.5,-.3 1,-.3 1.5,-.2 .3,-.1M197.5,182.2l1,-.2 1.5,.2 1,0 1,0 1,.1 1.5,.3 1,.3 1,.3 1.5,.5 1,.4 1,.5 .8,.6 .7,.5 .8,1 .6,1 .5,1 .4,1 .2,1.5 -.2,1.5 -.3,1 -.6,1 -.5,1 -.2,1.5 .2,1.5 -.2,1.5 -.2,1.5 0,1 -.1,1.5 0,1.5 .1,1.5 .1,1 .2,1.5 .2,1 .2,1.5 0,1.5 0,1.5 -.1,1.5 0,1.5 .3,1.5 .4,1 .3,1 .4,1.3 .3,1.2 .1,1.5 0,1.5 -.2,1.5 -.2,1.5 -.1,1 -.4,1.1 -.5,.9 -.4,1.5 -.2,1 -.4,1.5 -.1,1 .1,1.1 .2,1.4 -.2,1.2 -.4,1.3 -.2,1 -.2,1.5 -.2,1.5 -.1,1 -.4,1.5 -.3,1 -.4,1 -.6,1 -.7,1 -.5,.6 -1,.9 -.5,.5 -1,.9 -1,.6 -1,.3 -1.5,-.1 -1.5,-.1 -1,-.2 -1.5,.1 -1.5,-.1 -1.5,-.3 -1,-.4 -1,-.7 -.5,-.5 -1,-.9 -.5,-.7 -.8,-.9 -.7,-.7 -.8,-.8 -.7,-.8 -.5,-.7 -.6,-1 -.2,-1.5 .2,-1.5 0,-1.5 .1,-1 .4,-1.5 .3,-1 .3,-1.5 .1,-1 .2,-1.5 .1,-1.5 .2,-1 .2,-1.5 .1,-1.5 .2,-1 .2,-1.5 0,-1.5 -.3,-1.5 -.3,-1 -.3,-1 -.2,-1.5 -.1,-1.5 .1,-1.5 .2,-1.5 .3,-1 .2,-1.5 .2,-1 0,-1.5 -.2,-1 -.4,-1.5 -.2,-1 -.2,-1.5 -.1,-1 -.1,-1.5 .1,-1 .4,-1.5 .2,-1 .2,-1.5 -.1,-1.5 .3,-1.5 0,-1 -.3,-1 -.7,-1 -.3,-1 -.2,-1 -.6,-1 -.6,-1 -.6,-1 0,-1.5 .5,-1 .8,-.8 1,-.6 1,-.5 1,-.5 1,-.4 1,-.3 1.1,-.4 1.4,-.4 1.5,-.1 1,-.3 .5,-.2M235.1,224.2l1.4,-.4 1.5,.2 1.5,.1 1,.3 1,.5 1,.8 .5,.7 .5,1.1 .4,1.2 .3,1 .3,1.5 .1,1 -.1,1 -.1,1.5 -.2,1.5 -.5,1 -.7,1 -.5,.6 -.8,.9 -.7,1 -.5,.7 -.5,.8 -.7,1 -.8,.8 -1,.7 -1,.5 -1,.2 -1.5,.1 -1.5,.1 -1,.4 -1,.5 -1,.5 -.6,.7 .6,1 .9,.5 -.8,1 -.3,1 .7,.7 1,.7 .7,.6 .3,1 -.5,.5 -1.1,.5 -1.3,.5 -1.1,.5 -1,.3 -1.5,.1 -1.5,-.2 -1,-.3 -1.1,-.4 -1,-.5 -.9,-.5 -.2,-1.5 .7,-.6 1,-.7 1,-.6 0,-.9 -.9,-.7 -.1,-1 .1,-1 -.6,-.5 -.9,-1 -.6,-.8 -.5,-.8 -.7,-.9 -.5,-1 -.3,-1 -.3,-1.5 .1,-1.5 .2,-1 .3,-1.5 .4,-1 .6,-1 .7,-1 .4,-1 .6,-1 .5,-.8 .7,-.7 .8,-.7 1,-.5 1,-.3 1.1,-.5 1,-.5 .9,-.5 1,-.5 1,-.6 1,-.4 1.5,-.3 1.5,-.2 1,-.3 .6,-.2M196.5,183.2l1.5,-.4 1.5,.1 1.5,.2 1.5,.1 1,.1 1.5,.3 1,.2 1.5,.4 1,.3 1,.5 1,.7 .7,.5 .7,1 .6,.9 .5,1.1 .4,1 .2,1 -.1,1.3 -.5,1.1 -.5,.8 -.6,.8 -.5,1 -.3,1.5 0,1.5 -.1,1.1 -.1,1.4 -.1,1.5 0,1.5 0,1.5 0,1.5 .1,1.5 .2,1 .3,1.5 .1,1.4 0,.7 -.1,1.4 0,1.5 .1,1.5 .2,1 .4,1 .4,1.3 .3,1.2 .2,1 .3,1.5 .1,1.5 -.1,1.5 -.1,1.5 -.2,1.1 -.5,1.3 -.5,1 -.2,1.1 -.3,1.2 -.2,1.3 .1,1.5 0,1.5 -.1,1.5 -.1,1.5 -.4,1 -.3,1.4 -.1,1.1 -.1,1.5 -.3,1 -.5,1.4 -.5,1 -.5,.9 -.5,.7 -.9,1 -.7,.5 -.9,.8 -1,.7 -.8,.5 -1.2,.2 -1.5,.1 -1.5,-.1 -1.5,-.1 -1,-.1 -1.5,-.3 -1,-.3 -1,-.6 -.9,-.8 -.6,-.6 -.8,-.9 -.7,-.9 -.5,-.6 -.8,-1 -.7,-1 -.4,-1 -.1,-1 0,-1 0,-1 0,-1.4 .2,-1.1 .3,-1.1 .1,-1.4 -.1,-1 -.1,-1.5 .4,-1 .3,-1 .4,-1.5 .2,-1 .1,-1.5 .2,-1.5 .1,-1 .1,-1.5 -.2,-1.5 -.3,-1 -.4,-1 -.3,-1 -.3,-1.5 0,-1.5 .3,-1.5 .2,-1 .3,-1.1 .3,-1.4 .1,-1.5 -.1,-1.5 -.3,-1.5 -.3,-1 -.2,-1.2 -.2,-1.3 -.1,-1.5 .2,-1.5 .2,-1 .4,-1.1 .3,-1.4 .1,-1.5 .1,-1 .2,-1.5 -.5,-1 -.7,-1 -.5,-.8 -.3,-1.2 -.2,-1 -.5,-1.3 -.5,-.8 -.4,-1.4 .4,-1 1,-1 .6,-.5 .9,-.6 1,-.5 1.2,-.4 1.3,-.4 1,-.4 1.5,-.1 1,-.1M234.4,225.2l1.1,-.2 1.5,-.3 1.5,.2 1.4,.3 .9,.5 .8,.5 .9,1 .5,1 .5,1 .3,1 .2,1 0,1.3 -.2,1.2 -.3,1.1 -.4,1.4 -.6,1 -.5,.7 -.7,.8 -.8,.9 -.5,.6 -.7,1 -.7,1 -.6,.6 -1,.6 -1,.5 -1.1,.3 -1.1,.5 -1.3,.5 -1,.3 -1,.5 -1,.4 -1,.5 -1,.7 .2,.6 .8,.7 0,.9 -.8,.9 -1.1,.5 .9,.6 1,.8 .7,.6 .3,.8 -.8,.7 -.9,.5 -1.3,.4 -1.5,0 -1.5,-.4 -1,-.4 -1,-.6 0,-.6 1,-.7 1,-.4 1,-.5 1,-.5 .5,-.3 -1.2,-.5 -1,-.5 -.6,-1 .8,-1 0,-.7 -1,-.4 -1,-.5 -1,-.8 -.6,-.6 -.7,-1 -.7,-1 -.5,-1 -.3,-1 -.1,-1.5 .3,-1.5 .3,-1 .4,-1 .5,-1 .6,-1 .4,-1 .5,-1 .5,-1 .9,-.9 .9,-.6 1.1,-.4 1,-.3 1,-.5 1,-.5 1,-.7 1,-.6 1,-.5 1,-.3 1.1,-.2 1.4,-.4 .4,-.1M197.9,183.2l.8,0 1.3,.2 1.5,.1 1.5,.2 1,.2 1.5,.3 1,.2 1,.3 1.3,.5 .9,.5 .8,.6 .9,.9 .6,1 .5,.9 .5,1.1 .1,1 -.3,1 -.5,1 -.6,1 -.5,1 -.7,1 -.5,1 -.1,1 -.1,1.5 -.2,1.5 -.1,1.5 0,1.5 .1,1.5 .1,1.5 0,1.5 0,1.5 .2,1.5 .1,1 .1,1.5 0,1.5 .2,1.5 .2,1.5 .3,1 .3,1 .4,1.3 .2,1.2 0,1.5 .1,1.5 .2,1.1 .1,1.4 0,1.5 -.3,1 -.5,1 -.4,1 -.3,1.5 -.2,1 .1,1.3 .1,1.2 -.2,1 -.2,1.5 .2,1.5 -.2,1.5 -.2,1.1 -.1,1.4 -.1,1.5 -.3,1 -.5,1.2 -.5,.9 -.6,.9 -.7,1 -.7,.6 -1,.7 -1,.7 -.8,.5 -1.2,.5 -1,.1 -1.5,.1 -1.5,-.1 -1,-.2 -1.5,-.3 -1,-.2 -1,-.5 -1,-.9 -.5,-.5 -.9,-1 -.6,-.8 -.6,-.7 -.7,-1 -.5,-1 -.3,-1 -.1,-1.5 0,-1.5 .2,-1.2 .3,-1.3 -.1,-1.5 0,-1.5 0,-1.5 .3,-1.4 .5,-.9 .4,-1.2 .6,-1 .3,-1 -.1,-1.5 0,-1.5 .1,-1.5 -.2,-1.5 -.4,-1 -.6,-1 -.4,-1 -.2,-1 -.2,-1.5 .2,-1.2 .4,-1.3 .3,-1 .3,-1 .3,-1.5 .1,-1.5 -.2,-1.5 -.2,-1 -.4,-1.5 -.2,-1 -.3,-1.5 0,-1.5 .4,-1.5 .4,-1 .4,-1 .4,-1 .3,-1.5 .1,-1 -.1,-1.2 -.5,-.8 -.9,-1 -.4,-1 -.3,-1 -.4,-1 -.5,-1 -.5,-1 -.5,-1 0,-1.5 .5,-1 .5,-.5 1,-.7 1,-.5 1,-.4 1.3,-.4 1.2,-.4 1,-.1 1.5,-.2 1.4,-.3M234.3,225.7l1.2,-.3 1.5,-.2 1.5,.2 1.3,.3 .9,.5 .8,.6 .7,.9 .6,1 .4,1 .3,1.1 .1,1.4 -.2,1 -.3,1.5 -.3,1 -.5,1 -.7,1 -.6,.6 -.9,.9 -.6,.7 -.7,.8 -.8,.9 -.8,.6 -.8,.5 -.9,.6 -1,.6 -1,.5 -1,.3 -1.3,.5 -1.1,.5 -1.1,.5 -1,.4 -1,.5 -1,.2 -1,-.1 -1.4,-.5 -1.1,-.5 -.8,-.5 -.7,-.7 -.7,-.8 -.7,-1 -.5,-1 -.3,-1 -.1,-1.5 .3,-1 .5,-1.4 .5,-1.1 .5,-.9 .5,-.8 .5,-1 .5,-.8 .7,-1 .8,-.7 1,-.6 1,-.5 1,-.6 1,-.6 .7,-.5 .8,-.5 1,-.7 1,-.5 1.2,-.3 1.3,-.3 .8,-.2M225.4,253.2l1.1,-.1 .8,.6 -.8,.8 -1.5,0 -.5,-.8 .9,-.5" fill="none" stroke="#111" stroke-width="0.6" stroke-opacity="0.55"/>
<path d="M197.3,183.7l1.2,-.2 1,.2 1.5,.1 1.5,.1 1.4,.3 1.1,.2 1.3,.3 1.2,.4 1,.3 1,.6 .8,.7 .7,.7 .5,.8 .5,1 .3,1.5 -.3,1.2 -.5,.9 -.6,.9 -.5,1 -.4,1 -.7,1 -.4,1 -.3,1.5 -.2,1 -.4,1.5 0,.5 .2,1.5 .1,1.5 .1,1.5 0,1.5 0,1.5 .1,1.1 .1,1.4 .2,1.5 .2,1.5 .1,1 .2,1.5 .2,1.2 .4,1.3 .3,1 .2,1.5 -.2,1.5 -.3,1 -.2,1.5 .3,1.2 .4,1.3 0,1.5 -.4,1.1 -.3,1.4 -.1,1.5 -.1,1 .2,1 -.2,1 -.4,1.5 0,1.5 .3,1.5 .2,1 -.1,1.3 -.1,1.2 -.1,1.5 -.3,1.2 -.5,1.2 -.5,.9 -.5,.7 -.7,1 -.8,.6 -1,.7 -1,.7 -.8,.5 -1.2,.4 -1,.2 -1.5,0 -1,-.1 -1.5,-.3 -1,-.2 -1.4,-.5 -.7,-.5 -.9,-.9 -.5,-.6 -.9,-1 -.6,-.8 -.5,-.7 -.6,-1 -.4,-1.5 0,-1 0,-1.5 .1,-1 .3,-1.5 .1,-1 .4,-1.5 0,-1.5 0,-1.5 .2,-1 .7,-1 .7,-.7 .9,-.8 .4,-1 -.3,-1 -.4,-1.5 -.2,-1 -.1,-1.5 -.3,-1.3 -.5,-1.1 -.5,-.9 -.5,-1 -.4,-1.2 0,-1.5 .4,-1.1 .5,-1.1 .5,-1.3 .2,-1 .2,-1.5 0,-1.5 -.1,-1.5 -.3,-1.5 -.1,-1 -.3,-1.5 -.2,-1 .1,-1.2 .5,-1.3 .5,-1 .5,-1 .3,-1 .1,-1.5 0,-1.5 -.5,-1 -.9,-1 -.5,-1 -.3,-1 -.3,-1 -.8,-1 -.6,-.5 -.6,-1 -.5,-1 0,-1.5 .6,-1 .6,-.5 .9,-.6 1,-.5 1.3,-.4 1.2,-.4 1,-.2 1.5,-.2 1.3,-.2M234.1,226.2l1.4,-.3 1.5,-.2 1.5,.1 1.2,.4 .9,.5 .9,.8 .5,.7 .5,1 .5,1.4 .2,1.1 -.2,1.3 -.3,1.2 -.2,1 -.5,1 -.6,1 -.9,1 -.5,.5 -1,1 -.5,.6 -.8,.9 -.7,.5 -1,.7 -1,.7 -1,.5 -1,.5 -1,.4 -1,.4 -1,.4 -1,.5 -1,.4 -1.3,.5 -1.2,.1 -1,-.2 -1.1,-.4 -1,-.5 -.9,-.7 -.7,-.8 -.7,-1 -.5,-1 -.4,-1 -.1,-1.5 .4,-1.2 .5,-1.3 .5,-1 .5,-.9 .5,-.8 .5,-.9 .7,-.9 .8,-.9 .7,-.6 .8,-.5 1,-.5 1,-.7 1,-.6 1,-.7 .7,-.5 .9,-.5 1.3,-.5 1.1,-.3 1.1,-.2M196.6,184.2l1.4,-.3 1.5,.1 1.5,.2 1,0 1.5,.2 1.5,.3 1,.2 1,.3 1.2,.5 .9,.5 .9,.7 .7,.8 .6,1 .5,1 -.2,1.5 -.5,1 -.6,.6 -.8,.9 -.5,1 -.3,1 -.4,1 -.7,1 -.3,1 -.5,1.2 -.4,1.3 0,1.5 .4,1.5 .1,1 0,1.5 0,1.5 0,1.5 .2,1.5 .2,1.5 .1,1 .3,1.5 .2,1 .1,1.5 .3,1.5 .2,1 .3,1 .2,1.5 -.2,1.2 -.5,1.3 -.3,1 -.1,1.5 .4,1.5 .2,1 -.2,1.5 0,1 0,1 .1,1.5 -.1,1.5 -.3,1 -.3,1 .1,1.1 .4,1.4 .2,1 .4,1.5 0,.6 -.1,1.4 -.1,1.5 -.3,1 -.5,1.2 -.5,.8 -.7,1 -.8,.9 -.9,.6 -.7,.5 -.9,.6 -1,.5 -1.5,.3 -1,.1 -1,0 -1.5,-.3 -1,-.2 -1.4,-.5 -.8,-.5 -.8,-.8 -.7,-.7 -.8,-1 -.5,-.6 -.6,-.9 -.5,-1 -.3,-1.5 0,-1.5 .2,-1.5 .2,-1.5 .5,-1 .3,-1 .2,-1 .2,-1.5 .3,-1.5 .5,-.9 .6,-.6 .9,-1 .6,-.5 .2,-1.5 -.5,-1 -.4,-1 -.4,-1.5 -.1,-1 -.4,-1.5 -.4,-1 -.6,-1 -.5,-.9 -.4,-1.1 .1,-1.5 .4,-1 .6,-1 .5,-1 .3,-1.1 .3,-1.4 0,-1.5 -.1,-1.5 .1,-1.5 .4,-1 .6,-1 -.1,-1.5 -.7,-1 -.2,-1 .2,-1.4 .3,-1.1 .2,-1 .1,-1.5 -.1,-1.5 -.3,-1 -.7,-1 -.5,-1 -.4,-1 -.5,-1 -.6,-.6 -.8,-.9 -.7,-.7 -.7,-.8 -.5,-1 0,-1.5 .7,-1 .6,-.5 .9,-.5 1.3,-.5 1.2,-.4 1,-.3 1.5,-.2 1.1,-.1M233.8,226.7l1.2,-.3 1.5,-.2 1.5,.1 1.5,.3 1,.6 .6,.5 .6,1 .6,1 .3,1 .1,1.5 -.2,1 -.3,1.5 -.4,1 -.6,1 -.7,.8 -.7,.7 -.8,.9 -.6,.6 -.9,1 -.6,.5 -.9,.6 -1,.7 -1,.6 -1,.5 -1,.5 -1,.4 -1,.4 -1,.4 -1,.5 -1.2,.4 -1.3,.2 -1,-.3 -1.2,-.4 -.9,-.5 -.9,-.8 -.5,-.7 -.8,-1 -.4,-1 -.3,-1.5 .4,-1.5 .3,-1 .5,-1 .5,-1 .6,-1 .6,-1 .6,-.7 .8,-.8 .7,-.7 1,-.6 1,-.5 1,-.7 .8,-.5 .7,-.5 1,-.7 1,-.6 1,-.3 1.5,-.3 .3,-.1M194.8,184.7l1.2,-.1 1.5,-.3 1.5,0 1.5,.2 1.5,0 1,.2 1.5,.2 1.4,.3 1.1,.4 1,.4 1,.6 .7,.6 .8,.9 .5,.9 .4,1.2 -.4,1.3 -.6,.7 -.9,.8 -.7,.7 -.8,1 -.2,1 -.4,1 -.7,1 -.5,1 -.4,1 -.4,1 -.1,1.5 .2,1 .4,1.5 0,1.5 -.1,1.5 0,1.5 .1,1.5 .2,1 .3,1.5 .2,1 .3,1.5 .1,1 0,1.5 .2,1.5 .3,1.1 .4,1.4 -.2,1.5 -.4,1 -.4,1 -.3,1.5 .1,1.5 .3,1.2 .1,1.3 .1,1.5 .3,1.5 .2,1 -.2,1 -.5,1.4 -.2,1.1 .2,1.2 .5,1.3 .4,1 .3,1 .2,1.5 -.1,1.5 -.2,1.5 -.4,1 -.5,1 -.7,.9 -.5,.6 -1,.8 -1,.7 -.8,.5 -1,.5 -1.2,.3 -1.5,.1 -1.5,-.2 -1,-.3 -1.4,-.4 -.8,-.5 -.8,-.7 -.8,-.8 -.7,-.8 -.6,-.7 -.6,-1 -.5,-1 -.1,-1.5 0,-1.5 .3,-1.4 .3,-1.1 .5,-1 .3,-1 .4,-1.1 .5,-1.1 .6,-.8 .9,-.8 .8,-.7 .5,-1 .2,-1.5 .2,-1 -.2,-1 -.5,-1.1 -.5,-1.4 -.3,-1 -.2,-1 -.4,-1.5 -.4,-1 -.6,-1 -.5,-1 -.2,-1 .3,-1 .6,-1 .6,-1 .5,-1 .3,-1 .3,-1.1 .2,-1.4 -.1,-1.5 .1,-1.5 .5,-1 .5,-1 .2,-1.5 -.4,-1.3 -.5,-.8 -.5,-1.4 0,-1 0,-1 0,-1.5 0,-1.5 -.1,-1 -.5,-1 -.4,-1.1 -.5,-1.4 -.5,-.5 -1,-.9 -.7,-.6 -.8,-.9 -.7,-.6 -.8,-1 -.4,-1 .4,-1.5 .5,-.5 1,-.6 1,-.5 1.4,-.4 1.1,-.4 .8,-.1M236.4,226.7l1.1,0 1,.1 1.1,.4 .9,.6 .7,.9 .6,1 .4,1 .1,1.5 -.3,1.2 -.3,1.3 -.4,1 -.7,1 -.6,.7 -.8,.8 -.7,.7 -.7,.8 -.8,.8 -1,.7 -.7,.5 -.8,.6 -1,.6 -1,.5 -1,.4 -1,.4 -1,.5 -1.2,.5 -1.3,.5 -1,.3 -1.5,-.3 -1,-.3 -1,-.6 -.7,-.6 -.7,-1 -.6,-.8 -.5,-1.2 -.1,-1 .2,-1 .4,-1.1 .5,-1.1 .5,-1 .5,-.8 .6,-1 .8,-1 .6,-.6 1,-.9 .8,-.5 1,-.5 .7,-.5 1,-.6 1,-.7 1,-.7 1,-.5 1,-.3 1,-.2 1.5,-.4 1.4,-.1M197.2,184.7l1.3,-.2 1.1,.2 1.4,.1 1.5,.1 1.5,.3 1,.2 1.2,.3 1.3,.5 .9,.5 .7,.5 .9,.9 .5,.8 .5,1.3 -.5,1.2 -.8,.8 -.7,.6 -1,.8 -.8,.6 -.5,1 -.3,1 -.4,1 -.7,1 -.5,1 -.4,1 -.4,1.3 0,1 .4,1.2 .4,1 0,1.5 -.2,1.5 -.2,1 .1,1.3 .3,1.2 .3,1 .3,1.5 .2,1 .1,1.5 -.2,1.5 -.1,1 .1,1.5 .3,1 .3,1 0,1.5 -.2,1 -.4,1.2 -.3,1.3 0,1.5 .2,1.5 .2,1 .3,1.5 .3,1 .2,1.5 -.4,1.4 -.5,1 -.1,1.1 .3,1 .6,1 .5,1 .5,1 .3,1 .1,1.5 0,1.5 -.2,1 -.5,1.2 -.5,.8 -.8,1 -.7,.6 -1,.7 -1,.6 -1,.5 -1,.3 -1.5,.2 -1.5,-.3 -1,-.3 -1,-.4 -1,-.6 -.9,-.8 -.6,-.6 -.8,-.9 -.7,-.9 -.5,-1 -.3,-1.1 .1,-1.5 .2,-1.2 .4,-1.3 .5,-1 .4,-1 .4,-1 .6,-1 .7,-.8 1,-.6 .9,-.6 .6,-.7 .3,-1.3 0,-1.5 0,-1.5 -.3,-1.1 -.4,-1.4 -.2,-1 -.4,-1.3 -.3,-1.2 -.2,-1 -.5,-1.4 -.5,-1.1 -.1,-1 .3,-1 .5,-1 .4,-1 .4,-1.3 .4,-1.2 .2,-1 .1,-1.5 -.1,-1.5 .4,-1.5 .3,-1 .3,-1 .1,-1.5 -.3,-1 -.6,-1 -.4,-1 -.3,-1.5 -.1,-1.5 .1,-1.5 -.1,-1.5 -.4,-1 -.2,-1 -.4,-1.1 -.9,-.9 -.7,-.5 -.9,-.6 -1,-.9 -.5,-.5 -1,-.8 -.6,-.7 -.4,-1 .1,-1 .9,-1 1,-.5 1,-.4 1,-.3 1,-.3 1.5,-.3 1.5,-.2 .2,0M235.6,227.2l1.4,-.1 1.1,.1 1.4,.5 .7,.5 .8,1 .5,1 .3,1 -.1,1.5 -.2,1 -.5,1.5 -.5,.8 -.5,.7 -1,1 -.5,.5 -.9,1 -.6,.6 -1,.8 -.8,.6 -.7,.6 -1,.7 -1,.5 -1,.4 -1,.4 -1,.5 -1,.4 -1.3,.5 -1.2,.4 -1.5,-.3 -1,-.3 -1,-.7 -.6,-.6 -.7,-1 -.6,-1 -.3,-1 .2,-1.4 .4,-1.1 .4,-1 .5,-1 .7,-1 .5,-.9 .5,-.6 1,-1 .6,-.5 .9,-.6 1,-.6 1,-.6 1,-.7 .8,-.5 .8,-.5 .9,-.5 1.5,-.5 1,-.2 1.5,-.3 .1,0M196,185.2l1.5,-.3 1.5,0 1.5,.2 1.5,.1 1,.2 1.5,.2 1,.2 1,.4 1.1,.5 .9,.5 1,.9 .5,.7 .5,1.3 -.1,.6 -.8,1 -.6,.5 -1,.7 -1,.6 -1,.7 -.5,.6 -.4,1.4 -.3,1 -.8,1 -.5,1 -.4,1 -.4,1 -.1,1.5 .3,1.5 .4,1 0,1.5 -.2,1.5 0,1.5 .3,1.5 .2,1 .3,1.5 -.1,1.5 -.2,1.5 -.1,1.5 .2,1.5 .3,1.1 .5,1.4 .1,1 -.1,1.3 -.4,1.2 -.4,1 -.3,1 .1,1.5 .2,1 .2,1.5 .4,1 .6,1 -.1,1.5 -.8,.7 -1.5,-.1 -1,-.1 -.5,.5 .5,.6 .7,.9 .7,1 .6,.7 1,.7 .6,.6 .9,1 .5,1 .4,1 .3,1 -.1,1.5 -.1,1.1 -.5,1.4 -.5,.7 -.6,.8 -.9,.8 -1,.6 -1,.6 -1,.4 -1,.3 -1.5,0 -1,-.2 -1.2,-.5 -1,-.5 -.8,-.6 -1,-.9 -.5,-.5 -.9,-1 -.5,-1 -.3,-1 .1,-1.5 .2,-1 .4,-1.2 .5,-.9 .5,-1.2 .5,-.9 .6,-.8 .9,-.7 1,-.5 1,-.4 1,-.5 1,-.7 1,-.6 -.4,-.6 -.7,-.5 -.6,-1 -.2,-1.5 -.1,-1 -.4,-1.5 -.1,-1.5 -.2,-1 -.3,-1.2 -.4,-1.3 -.3,-1 -.3,-1.5 -.1,-1 .2,-1 .3,-1.5 .2,-1 .4,-1.1 .5,-1.1 .4,-1.3 -.2,-1.5 0,-1.5 .3,-1.5 .3,-1 .2,-1 .2,-1.5 -.2,-1 -.5,-1.1 -.5,-.9 -.5,-1.1 -.3,-1.4 .1,-1.5 .1,-1.5 -.4,-1.5 -.1,-1 -.9,-1 -.7,-.5 -.8,-.5 -1,-.6 -1,-.6 -1,-.8 -.5,-.5 -1,-.8 -.5,-.8 0,-1.3 .5,-.6 1,-.7 1,-.4 1.4,-.4 1.1,-.3 1.5,-.2M235,227.7l1,-.1 1.5,-.1 1,.2 1,.5 1,1 .5,.9 .4,1.1 -.1,1.5 -.3,1.1 -.5,1.4 -.5,.8 -.6,.7 -.9,.9 -.6,.6 -.9,1 -.5,.5 -1,.8 -.9,.7 -.7,.5 -.9,.6 -1,.5 -1,.4 -1.1,.5 -1.2,.5 -1.2,.5 -1,.4 -1.5,0 -1.1,-.4 -.9,-.5 -1,-1 -.5,-.7 -.5,-1 -.3,-1.3 .3,-1.1 .5,-1.4 .5,-1 .5,-.8 .5,-.9 .6,-.8 .9,-.9 .6,-.6 .9,-.7 1,-.5 1,-.6 1,-.7 .8,-.5 .8,-.5 .9,-.5 1.3,-.5 1.2,-.3 1,-.2M197.9,185.2l.8,0 1.3,.2 1.5,.1 1.4,.2 1.1,.2 1.3,.3 1.2,.4 1,.4 1,.7 .6,.5 .7,1 .3,1 -.5,1 -.6,.5 -1,.7 -1,.5 -1,.5 -1,.6 -1,.5 -1.5,.2 -1,.2 -1,-.3 -1.5,-.3 -1.4,-.1 -1,-.5 -.9,-.5 -1,-.5 -1,-.5 -.8,-.5 -.9,-.6 -1,-.9 -.6,-.5 -.7,-1 .3,-1 1,-.8 1,-.4 1,-.3 1.5,-.5 1,-.1 1.5,-.2 .9,-.2M201.8,196.2l1.1,0 .1,.6 -.5,1.1 -.5,.9 -.4,1.4 -.4,1 -.7,.5 -.5,-.7 -.3,-1.3 .1,-1.5 .2,-1.4 1,-.4 .8,-.2M201,206.7l.3,.5 .3,1 .2,1.5 .2,1.5 0,1 -.1,1 -.3,1.5 0,1.5 .3,1.5 .2,1 .4,1.5 .3,1 .2,1 .1,1.5 -.2,1 -.4,1 -.5,1.4 -.1,1.1 .1,1 0,1.5 -.1,1 -.9,.9 -.9,-.9 -.3,-1 -.2,-1.5 .1,-1.5 -.1,-1.5 -.2,-1 -.4,-1 -.5,-1.5 -.1,-1 .1,-1.5 .1,-1 .4,-1.4 .5,-1 .5,-.9 .4,-1.2 -.3,-1.5 -.2,-1 -.2,-1.5 .3,-1.4 .4,-1.1 .4,-1 .2,-.5M234.5,228.2l1,-.2 1.5,-.1 1.5,.3 .9,.5 .6,.6 .6,.9 .4,1.5 -.3,1.5 -.3,1 -.4,1 -.7,1 -.8,.8 -.7,.7 -.8,.8 -.7,.7 -.8,.7 -1,.8 -.6,.5 -.9,.7 -1,.5 -1,.4 -1,.4 -1.1,.5 -1.2,.5 -1.2,.4 -1,.2 -1,-.3 -1,-.4 -1,-.9 -.5,-.7 -.5,-.8 -.4,-1.5 .4,-1.4 .4,-1.1 .6,-1 .5,-.9 .5,-.8 .6,-.8 .9,-.8 .8,-.7 .7,-.5 1,-.5 1,-.7 1,-.6 1,-.6 .9,-.6 1.1,-.5 1,-.3 1,-.2M197.6,238.7l1.4,-.3 1.5,.3 .8,.5 .7,.5 1,.7 1,.5 1,.8 .5,.7 .5,.9 .5,1.4 0,1 0,1 -.4,1.5 -.6,.9 -.5,.6 -1,.9 -1,.6 -.9,.5 -1.1,.4 -1,.2 -1.3,-.1 -1.2,-.4 -1,-.5 -.9,-.6 -.7,-.5 -.9,-.8 -.6,-.7 -.7,-1 -.3,-1 .1,-1.5 .2,-1 .4,-1 .6,-1 .5,-1 .7,-1 .6,-.6 1,-.6 1.1,-.3M197,185.7l1.5,-.2 1.2,.2 1.3,.1 1.5,.2 1.2,.2 1.3,.3 1,.3 1,.4 1,.6 1,.9 .5,.7 0,1.2 -.5,.6 -1,.7 -1,.5 -1,.4 -1.1,.4 -1.4,.3 -1.5,.1 -1.5,0 -1.5,-.1 -1.5,-.1 -1,-.4 -1,-.5 -1,-.4 -1,-.5 -1,-.6 -1,-.8 -.6,-.5 -.7,-1 .3,-1 1,-.7 1,-.3 1.5,-.5 1,-.2 1.5,-.2 .5,-.1M200.8,220.7l.5,.5 .3,1 -.1,1 -.6,.5 -.5,-1 0,-1.5 .4,-.5M234.1,228.7l1.4,-.3 1.5,-.1 1.5,.4 .8,.5 .7,.9 .5,1.1 0,1 -.2,1 -.3,1 -.6,1 -.7,1 -.7,.7 -.8,.8 -.7,.7 -.8,.8 -.7,.6 -1,.8 -.7,.6 -.8,.5 -1,.5 -1.2,.5 -1.2,.5 -1.1,.5 -1,.4 -1,.3 -1.2,-.2 -1.1,-.5 -.7,-.6 -.7,-.9 -.6,-1 -.1,-1.5 .4,-1.2 .5,-1.1 .5,-.9 .5,-.8 .7,-1 .8,-.8 .8,-.7 .7,-.5 1,-.6 1,-.6 1,-.6 1,-.6 .9,-.6 1,-.5 1.1,-.4 .6,-.1M197.2,239.7l1.3,-.3 1.5,.2 1,.5 1,.6 .8,.5 1,.5 .7,.6 .7,.9 .5,1 .2,1.5 -.1,1.5 -.4,1 -.7,1 -.7,.7 -1,.6 -1,.6 -1,.3 -1.5,.3 -1.5,-.4 -1,-.5 -1,-.6 -.7,-.5 -.8,-.6 -.8,-.9 -.5,-1 -.2,-1.5 .3,-1.5 .6,-1 .5,-1 .6,-.9 .5,-.6 1,-.8 .7,-.2M196,186.2l1.5,-.3 1.5,0 1.5,.2 1.2,.1 1.3,.2 1.4,.3 1.1,.3 1,.4 1,.5 1,.8 .5,.6 0,1.3 -.7,.6 -.8,.5 -1.3,.5 -1.2,.4 -1,.2 -1.5,.2 -1.5,.1 -1.5,-.2 -1.5,0 -1,-.3 -1,-.4 -1.3,-.5 -1,-.5 -.9,-.5 -.8,-.6 -1,-.8 -.4,-1.1 .9,-.8 1,-.4 1.1,-.3 1.4,-.4 1,-.1M233.7,229.2l1.3,-.3 1.5,-.2 1.5,.2 1,.6 .6,.7 .5,1 -.1,1.5 -.3,1 -.5,1 -.7,1 -.5,.6 -.9,.9 -.6,.6 -.8,.9 -.7,.6 -1,.8 -.7,.6 -.8,.6 -1,.5 -1,.4 -1.1,.5 -1.2,.5 -1.2,.5 -1,.3 -1.5,-.3 -.9,-.5 -.6,-.7 -.6,-.8 -.4,-1.3 0,-.7 .5,-1.4 .5,-1 .5,-.9 .5,-.7 .8,-1 .7,-.7 1,-.8 .7,-.5 .9,-.5 .9,-.6 1,-.6 1,-.6 1,-.6 1,-.4 .7,-.2M196.8,240.7l1.2,-.3 1.5,-.1 1,.4 1,.5 1,.6 1,.6 .8,.8 .6,1 .3,1 0,1.5 -.3,1 -.6,1 -.8,.8 -1,.6 -1,.5 -1,.2 -1.5,.1 -1,-.4 -1,-.5 -1,-.5 -1,-.8 -.5,-.5 -.6,-1 -.3,-1.5 .4,-1.5 .5,-.8 .5,-.8 .6,-.9 .9,-.9 .3,-.1M197.9,186.2l.8,0 1.3,.2 1.5,.1 1.1,.2 1.4,.2 1,.3 1.3,.5 1,.5 .7,.5 .7,1 -.4,1 -.8,.6 -1.1,.4 -1.4,.4 -1,.3 -1.5,.1 -1.5,.1 -1.5,-.1 -1.5,-.1 -1,-.3 -1.1,-.4 -1.3,-.5 -1,-.5 -.9,-.5 -.7,-.6 -.9,-.9 .6,-1 1.3,-.5 1,-.3 1,-.2 1.5,-.3 1.4,-.2M235.4,229.2l1.1,-.1 1,.1 1.1,.5 .8,1 .3,1 -.2,1.3 -.5,1.2 -.5,.8 -.5,.7 -1,1 -.5,.5 -.9,1 -.6,.6 -1,.8 -.6,.6 -.9,.7 -1,.5 -1,.5 -1,.4 -1.1,.4 -1.3,.5 -1.1,.3 -1.5,-.2 -.8,-.6 -.7,-.9 -.5,-1 0,-1.1 .2,-1 .5,-1 .6,-1 .7,-1 .5,-.6 .9,-.9 .6,-.5 1,-.7 1,-.6 1,-.6 1,-.6 .9,-.5 .8,-.5 1.1,-.5 1.2,-.3 .9,-.2M198,241.2l1.5,0 1,.3 1,.5 1,.5 .9,.7 .6,.7 .5,1.3 0,1 -.1,1 -.6,1 -.8,.8 -1,.6 -1,.4 -1.1,.2 -.9,-.1 -1.2,-.4 -1,-.5 -.8,-.5 -1,-.9 -.5,-.9 -.2,-1.2 .2,-1 .6,-1 .7,-1 .7,-.8 1,-.6 .5,-.1M197.2,186.7l1.3,-.1 1.1,.1 1.4,.2 1.5,.2 1,.1 1.5,.4 1,.4 1,.5 .9,.7 .3,1 -.7,.6 -1,.5 -1.5,.4 -1,.2 -1.5,.2 -1.5,.1 -1.5,-.2 -1.5,0 -1,-.3 -1.3,-.5 -1.2,-.5 -1,-.5 -.7,-.5 -.8,-1 1,-.8 1,-.3 1.4,-.4 1.1,-.3 .7,-.2M234.8,229.7l1.2,-.2 1.5,.1 1,.6 .5,.6 .3,1.4 -.3,1 -.5,1.1 -.6,.9 -.9,.9 -.5,.6 -1,1 -.5,.6 -1,.8 -.6,.6 -.9,.7 -1,.6 -1,.5 -1,.4 -1,.4 -1.1,.4 -1.4,.4 -1.5,-.3 -.7,-.6 -.7,-1 -.3,-1 .2,-1 .5,-1.2 .5,-.9 .6,-.9 .8,-1 .6,-.5 1,-.9 1,-.6 .8,-.5 .8,-.5 .9,-.5 1,-.6 1,-.6 1,-.5 1.3,-.3M197.6,242.2l1.4,-.3 1.4,.3 .7,.5 .9,.6 1,.7 .5,.7 .2,1.5 -.2,1.1 -.9,.9 -1.1,.4 -1,.1 -1,-.1 -1.4,-.4 -1.1,-.4 -1,-.4 -.7,-.7 -.2,-1.5 .5,-1 .7,-1 .7,-.7 .6,-.3M196.9,187.7l1.1,-.3 1.5,.2 1.5,.1 1,.1 1.5,.2 1,.2 1.5,.5 1,.5 .1,1 -.8,.5 -1.3,.4 -1,.2 -1.5,.2 -1.5,.1 -1.5,-.1 -1.5,-.1 -1,-.4 -1,-.6 -.9,-.7 -.5,-1 .9,-.5 1.4,-.5M234.3,230.2l1.2,-.3 1.5,.1 1,.4 .6,.8 .1,1.5 -.4,1 -.6,1 -.7,.8 -.6,.7 -.9,1 -.5,.5 -1,.9 -.6,.6 -.9,.8 -1,.6 -1,.5 -1,.4 -1,.4 -1,.4 -1.5,.4 -.5,0 -1.1,-.5 -.8,-1 -.4,-1 .3,-1.2 .5,-1.1 .5,-.8 .6,-.9 .9,-1 .6,-.5 .9,-.8 1,-.6 1,-.6 .9,-.5 .8,-.5 .9,-.5 .9,-.5 1.3,-.5M198.4,244.2l1.1,-.2 1,.4 .9,.8 -.4,1.5 -1,.4 -1.5,-.2 -.9,-.7 -.1,-1 .5,-.8 .4,-.2M197.3,188.7l1.2,-.3 1.5,.2 1.5,.1 1,.2 1.1,.3 .4,.5 -1,.5 -1.5,.2 -1.5,-.1 -1.5,0 -1,-.5 -.5,-.6 .3,-.5M234.5,230.7l1.5,-.1 1,.3 .7,.8 -.2,1.4 -.5,1 -.5,.7 -.7,.9 -.8,1 -.5,.6 -.7,.9 -.8,.8 -.8,.7 -.8,.5 -1,.5 -1.4,.5 -1,.4 -1,.3 -1,.4 -1,-.2 -.9,-.9 -.4,-1 .3,-1.3 .5,-1 .5,-.8 .6,-.9 .9,-.9 .7,-.6 .8,-.6 1,-.6 1,-.6 1,-.5 1,-.7 1,-.5 1,-.4 .5,-.1M233.5,232.2l1,-.3 1.5,.1 .3,1.2 -.6,1 -.7,.9 -.5,.6 -.8,1 -.7,.8 -.6,.7 -.9,.9 -1,.6 -1,.3 -1,.3 -1,.5 -1,.4 -1.5,0 -.5,-.5 -.1,-1.5 .5,-1 .5,-1 .6,-.7 .9,-.8 .6,-.5 1,-.5 1.5,-.5 1,-.5 .9,-.5 .7,-.5 .9,-.5M232.8,234.7l.2,.5 -.5,.5 -.8,1 -.7,1 -.5,.5 -1,.6 -1,.4 -1.5,.5 -.6,-1 .6,-1 .5,-.5 1,-.7 1,-.4 1.5,-.4 1,-.5 .8,-.5" fill="none" stroke="#111" stroke-width="0.7" stroke-opacity="0.9"/>
</g>
<rect x="170" y="171.2" width="96.19999999999999" height="89.60000000000002" fill="none" stroke="#333" stroke-width="0.8"/>
<line x1="215.80" y1="171.20" x2="215.80" y2="260.80" stroke="#222" stroke-width="0.8" />
<line x1="170.00" y1="221.20" x2="266.20" y2="221.20" stroke="#222" stroke-width="0.8" />
<circle cx="215.8" cy="221.2" r="1.3" fill="#111"/>
<circle cx="215.8" cy="171.2" r="0.9" fill="#111"/>
<circle cx="266.2" cy="221.2" r="0.9" fill="#111"/>
<path d="M170.0,260.8v2.6 M170,260.8h-2.6 M177.2,260.8v1.4 M170,254.1h-1.4 M181.5,260.8v1.4 M170,250.1h-1.4 M184.5,260.8v1.4 M170,247.3h-1.4 M186.8,260.8v1.4 M170,245.1h-1.4 M188.7,260.8v1.4 M170,243.4h-1.4 M190.3,260.8v1.4 M170,241.9h-1.4 M191.7,260.8v1.4 M170,240.6h-1.4 M192.9,260.8v1.4 M170,239.4h-1.4 M194.1,260.8v2.6 M170,238.4h-2.6 M201.3,260.8v1.4 M170,231.7h-1.4 M205.5,260.8v1.4 M170,227.7h-1.4 M208.5,260.8v1.4 M170,224.9h-1.4 M210.9,260.8v1.4 M170,222.7h-1.4 M212.8,260.8v1.4 M170,221.0h-1.4 M214.4,260.8v1.4 M170,219.5h-1.4 M215.8,260.8v1.4 M170,218.2h-1.4 M217.0,260.8v1.4 M170,217.0h-1.4 M218.1,260.8v2.6 M170,216.0h-2.6 M225.3,260.8v1.4 M170,209.3h-1.4 M229.6,260.8v1.4 M170,205.3h-1.4 M232.6,260.8v1.4 M170,202.5h-1.4 M234.9,260.8v1.4 M170,200.3h-1.4 M236.8,260.8v1.4 M170,198.6h-1.4 M238.4,260.8v1.4 M170,197.1h-1.4 M239.8,260.8v1.4 M170,195.8h-1.4 M241.0,260.8v1.4 M170,194.6h-1.4 M242.1,260.8v2.6 M170,193.6h-2.6 M249.4,260.8v1.4 M170,186.9h-1.4 M253.6,260.8v1.4 M170,182.9h-1.4 M256.6,260.8v1.4 M170,180.1h-1.4 M259.0,260.8v1.4 M170,177.9h-1.4 M260.9,260.8v1.4 M170,176.2h-1.4 M262.5,260.8v1.4 M170,174.7h-1.4 M263.9,260.8v1.4 M170,173.4h-1.4 M265.1,260.8v1.4 M170,172.2h-1.4 M266.2,260.8v2.6 M170,171.2h-2.6" stroke="#222" stroke-width="0.5" fill="none"/>
<text x="168.8" y="269.5" font-size="4.2" font-weight="normal" fill="#333">10<tspan dy="-2.3" font-size="3.2">0</tspan></text>
<text x="165.6" y="263.4" font-size="4.2" font-weight="normal" text-anchor="end" fill="#333">10<tspan dy="-2.3" font-size="3.2">0</tspan></text>
<text x="192.9" y="269.5" font-size="4.2" font-weight="normal" fill="#333">10<tspan dy="-2.3" font-size="3.2">1</tspan></text>
<text x="165.6" y="241.0" font-size="4.2" font-weight="normal" text-anchor="end" fill="#333">10<tspan dy="-2.3" font-size="3.2">1</tspan></text>
<text x="216.9" y="269.5" font-size="4.2" font-weight="normal" fill="#333">10<tspan dy="-2.3" font-size="3.2">2</tspan></text>
<text x="165.6" y="218.6" font-size="4.2" font-weight="normal" text-anchor="end" fill="#333">10<tspan dy="-2.3" font-size="3.2">2</tspan></text>
<text x="240.9" y="269.5" font-size="4.2" font-weight="normal" fill="#333">10<tspan dy="-2.3" font-size="3.2">3</tspan></text>
<text x="165.6" y="196.2" font-size="4.2" font-weight="normal" text-anchor="end" fill="#333">10<tspan dy="-2.3" font-size="3.2">3</tspan></text>
<text x="265.0" y="269.5" font-size="4.2" font-weight="normal" fill="#333">10<tspan dy="-2.3" font-size="3.2">4</tspan></text>
<text x="165.6" y="173.8" font-size="4.2" font-weight="normal" text-anchor="end" fill="#333">10<tspan dy="-2.3" font-size="3.2">4</tspan></text>
<text x="171.3" y="175.79999999999998" font-size="4.7" font-weight="normal" fill="#222">26.30</text>
<text x="265.4" y="175.79999999999998" text-anchor="end" font-size="4.7" font-weight="normal" fill="#222">0.12</text>
<text x="171.2" y="260.0" font-size="4.7" font-weight="normal" fill="#222">33.21</text>
<text x="265.4" y="260.0" text-anchor="end" font-size="4.7" font-weight="normal" fill="#222">40.26</text>
<text x="263.60" y="233.30" font-size="10.2" font-weight="bold" text-anchor="end" fill="#000" stroke="#000" stroke-width="0.25" textLength="11.7" lengthAdjust="spacingAndGlyphs">40</text>
<clipPath id="c5"><rect x="303" y="66.2" width="95" height="88.8"/></clipPath>
<g clip-path="url(#c5)" filter="url(#bl)">
<path d="M324.6,75.2l1.9,-.3 2,-.2 2,.1 1.7,.4 1.4,.5 1.4,.5 1.5,.6 1.5,.9 1,1 .6,1 -.1,1.5 -1,1.4 -1,1 -.8,1.1 -.9,1 -1.3,.9 -1.2,.6 -1.3,.8 -.9,1.2 .3,2 .5,1.5 .3,1.5 -.2,1.6 -.5,1.5 -.4,1.9 .4,2 .5,1.5 .3,1.5 .2,1.5 -.3,1.5 -1,1 -1.2,.6 -1,-1.1 -.6,-1 -.6,-1.5 -.5,-1.5 -.3,-2 .3,-2 -.2,-2 0,-2 -.4,-1.5 -.5,-1.5 0,-2 -.1,-2 -1.1,-1 -1,-.6 -1.5,-.8 -1.4,-.6 -.8,-1 -1.3,-.9 -1,-.6 -1.3,-1 -.7,-1 0,-2 .8,-1 1.2,-1 1,-.5 1.5,-.5 1.8,-.5 1.7,-.3zM329.8,112.2l.8,.5 .2,2 .4,1.5 .3,1.3 -1,1 -1.5,-.4 -1,-1.2 -.4,-1.7 .9,-1.3 .9,-1.2zM364.4,120.7l1.6,-.2 1.5,.3 1.5,.6 1.4,.8 1.1,.7 1.5,.8 1.1,.5 1.4,1 .9,1 .6,1 .8,1.5 .7,1.2 .6,1.3 .5,1.5 .3,2 0,2 -.1,2 -.5,1.5 -.6,1.5 -.7,1.1 -1,1.2 -1,.9 -.9,1.3 -.6,1.2 -.6,1.3 -.9,1.3 -1,1.1 -1,.9 -1.2,.7 -1.3,.6 -1.5,.4 -2,.3 -1.5,-.3 -2,-.5 -1.5,-.3 -1.5,-.4 -1.5,-.6 -1.1,-.7 -1.1,-1 -1,-1 -.9,-1 -.9,-1.3 -.6,-1.2 -.6,-1.5 -.6,-1.5 -.2,-2 .5,-1.5 .5,-1.6 .6,-1.4 .5,-1.5 .4,-1.6 .7,-1.4 .8,-1.3 .5,-1.2 .8,-1.5 .7,-1.1 1,-1.2 1,-1 1,-1 1,-.9 1.4,-.8 1.1,-.5 1.9,-.5zM330.4,128.7l1.1,.4 1,.9 .7,1.2 .8,1 1.1,1 .9,1.4 1,.6 1.5,.9 .8,1.1 .4,1.5 .1,2 -.3,1.7 -1,1.1 -1,1 -1,1 -1.5,.5 -2,.1 -1.8,-.4 -1.4,-.5 -1.6,-.5 -1.2,-.5 -1.4,-1 -.7,-1 -.5,-1.5 -.2,-2 .7,-1.5 .8,-1 .7,-1.5 .6,-1.2 .8,-1.3 .7,-1.2 .8,-1.3 1.1,-1z" fill="#000" fill-opacity="0.15"/>
<path d="M326.3,76.2l1.7,-.2 2,.1 1.5,.4 1.5,.5 1.5,.6 1.5,.4 1.2,.7 1,1 -.2,1.6 -1,1 -1.5,.9 -1.2,.5 -1.8,.4 -1.5,.4 -1.5,.4 -2,.1 -1.5,-.5 -2,-.3 -1.5,-.4 -1.5,-.5 -1,-.6 -1.5,-.8 -1,-.9 0,-1.5 1,-.9 1.5,-.7 1.5,-.5 1.5,-.4 1.5,-.4 1.8,-.4zM365.3,124.2l1.7,0 1.5,.4 1,.6 1.5,.9 1,.7 1,1 1,1.3 .7,1.1 .8,1.4 .6,1.1 .5,1.5 -.1,1.5 -.2,2 -.4,1.5 -.7,1.5 -.7,1 -1,1.3 -.7,1.2 -.6,1.5 -.7,1.5 -.6,1 -.9,1 -1.5,1 -1.2,.5 -1.8,.4 -2,-.2 -1.5,-.5 -1.5,-.5 -1.5,-.5 -1.5,-.6 -1,-.7 -1,-1.1 -.9,-1.3 -.7,-1 -.9,-1.4 -.5,-1.6 .5,-1.6 .7,-1.4 .6,-1.5 .5,-1.5 .6,-1.5 .7,-1 .8,-1.5 .6,-1.5 .5,-1 1,-1.5 .9,-1 1.1,-.9 1,-.8 1.5,-.5 1.8,-.3zM331.3,138.2l1.4,0 1.1,1 -.8,1.3 -1,.2 -1.3,-1 .6,-1.5z" fill="#000" fill-opacity="0.3"/>
<path d="M324.9,77.7l1.6,-.3 2,-.1 2,.2 1.5,.5 1.5,.5 1.5,.5 1.5,.7 0,1.3 -1.2,.7 -1.5,.5 -1.8,.4 -1.5,.3 -1.7,.3 -1.4,0 -1.9,-.4 -1.5,-.2 -1.7,-.4 -1.3,-.5 -1.5,-.7 0,-1.4 1.5,-.7 1.5,-.5 1.5,-.4zM364.5,127.2l2,-.2 1.5,.5 1.2,.7 1.2,1 1,1 .8,1 .8,1.3 .5,1.7 -.2,2 -.2,2 -.6,1.5 -.5,1 -.9,1.5 -.6,1.2 -.5,1.3 -.8,1.5 -.9,1 -1.3,.9 -1.5,.6 -1.1,0 -1.7,-.5 -1.3,-.5 -1.4,-.6 -1.5,-.7 -1,-.8 -1,-1.1 -.8,-1.3 -.3,-1.5 .4,-1.5 .6,-1.5 .5,-1.5 .6,-1.5 .5,-1 .9,-1.5 .6,-1.2 .8,-1.3 .7,-1 1,-1.1 1.3,-.9 1.2,-.5z" fill="#000" fill-opacity="0.4"/>
<path d="M325.7,78.7l1.8,-.3 2,.2 1.5,.5 1,.6 .4,1 -1.4,.6 -1.5,.4 -2,.3 -1.5,-.4 -1.6,-.4 -1.4,-.5 .5,-1.1 1.5,-.7zM364.5,128.7l2,-.1 1.5,.6 1,.7 1,.9 1,1.2 .6,1.2 .2,2 -.2,2 -.3,1.5 -.6,1.5 -.7,1.2 -.7,1.3 -.7,1.5 -.6,1.1 -1,1.1 -1.5,.8 -1.5,0 -1.5,-.5 -1.2,-.5 -1.3,-.6 -1.5,-.9 -1,-1 -.5,-1 0,-1.9 .5,-1.6 .5,-1.5 .5,-1.3 .6,-1.2 .8,-1.5 .6,-1.1 1,-1.4 .8,-1 1.2,-1 1,-.5z" fill="#000" fill-opacity="0.3"/>
<path d="M326.8,80.2l1.7,-.3 0,.8 -1,-.1zM364.4,129.7l1.6,-.2 1.5,.5 1,.7 1,1 .8,1.5 .1,2 .1,1.5 -.1,1.5 -.5,1.5 -.8,1.5 -.6,1.2 -.6,1.3 -.9,1.4 -1,.9 -1.5,.4 -1.5,-.5 -1.5,-.7 -1.1,-.5 -1.4,-.8 -1,-1.1 -.2,-1.6 .3,-1.5 .5,-1.5 .6,-1.5 .7,-1.5 .6,-1.1 .9,-1.4 .8,-1 .8,-1 1.4,-1z" fill="#000" fill-opacity="0.3"/>
<path d="M323.7,72.7l1.3,-.1 1.5,-.1 1.5,-.1 1.5,-.1 1.5,0 1.5,.1 1,.3 1.5,.4 1,.4 1,.5 1,.5 1,.7 .6,.5 .8,1 .6,.8 .5,.7 .5,1 .2,1.5 -.2,1.4 -.5,.7 -.7,.9 -.8,.8 -.6,.7 -.7,1 -.4,1 .2,1 -.1,1 -.2,1.5 -.3,1 -.3,1.5 0,1.5 .3,1.5 -.2,1.5 -.2,1 0,1 .5,1 .7,1 .5,1 .1,1.5 0,1.5 -.1,1.5 0,1.5 -.1,1.5 -.1,1.5 -.2,1 -.3,1 -.5,1.5 -.3,1 -.4,1 -.5,1 -.5,1 -.5,1 -.4,1 -.6,1 -.4,1 .1,1.4 .3,1.1 .5,1 .7,.5 1.1,.5 1,.5 .9,.8 .5,.8 .9,.9 .9,.5 1.1,.5 .9,.5 .7,.5 1,1 .5,.5 .8,1 .8,0 .7,-1 .5,-1 .2,-1 .5,-1.1 .5,-1.1 .5,-1 .5,-.9 .5,-1 .5,-1 .8,-.9 .6,-1 .6,-.7 .8,-.8 .7,-.7 .7,-.8 .8,-.7 1,-.8 .7,-.5 .9,-.5 1.2,-.5 1.2,-.4 1,-.1 1.5,-.2 1.5,-.2 1.5,.4 1,.1 1.3,.4 1.2,.3 1,.5 1,.4 1,.3 1,.5 1,.5 1,.7 1,.6 .8,.7 .7,.7 .8,.8 .7,.8 .6,.7 .4,1 .5,1 .5,1 .5,1 .5,1.1 .2,1.4 0,1.5 0,1.5 0,1.5 -.2,1 -.3,1.5 -.4,1 -.3,1.2 -.4,1.3 -.5,1 -.5,1 -.5,1 -.5,1 -.5,1 -.4,1 -.5,1 -.6,1 -.6,.9 -.7,.6 -.8,.7 -1,.8 -.5,.5 -.9,1 -.6,.6 -1,.6 -1,.5 -1,.5 -1.1,.3 -1.4,.2 -1,.4 -1.5,.1 -1.5,-.1 -1,-.4 -1.4,-.2 -1.1,-.5 -1,-.4 -1,-.4 -1,-.5 -1,-.4 -1,-.4 -1,-.5 -1,-.8 -.7,-.6 -.8,-1 -.5,-.5 -1,-1 -.5,-.5 -.7,-1 -.6,-1 -.6,-1 -.6,-.8 -.5,-1 -.7,-.2 -.8,.8 -.8,.7 -.7,.7 -.9,.8 -.6,.6 -1,.7 -.9,.7 -1,.5 -1.1,.3 -1,.4 -1.2,.3 -1.3,.3 -1.5,0 -1.5,0 -1.5,-.1 -1.2,-.2 -1.3,-.4 -1,-.3 -1.2,-.3 -1.2,-.5 -.9,-.5 -.9,-.5 -.8,-.6 -1,-.9 -.5,-.5 -1,-1 -.5,-.8 -.5,-1.1 -.5,-1.1 -.1,-1 .1,-1.5 .2,-1 .3,-1 .4,-1.5 .2,-1 .1,-1.5 .5,-1 .6,-1 .7,-.9 .5,-.6 .8,-1 .7,-.5 1,-.7 .8,-.8 .3,-1 .3,-1.5 0,-1.5 -.1,-1.5 -.3,-1.5 -.4,-1 -.5,-1 -.6,-1 -.5,-1 -.3,-1 -.3,-1 .1,-1.2 .1,-1.3 -.2,-1 -.4,-1.2 -.5,-1.2 -.3,-1.1 -.3,-1 -.2,-1.5 -.4,-1 -.3,-1.4 -.2,-1.1 -.2,-1.5 -.3,-1 .1,-1.5 0,-1.5 0,-1.5 0,-1.5 -.1,-1.5 .1,-1.5 .4,-1 0,-1.5 -.3,-1.3 -1,-.6 -1,-.6 -.6,-.5 -.9,-.5 -1,-1 -.5,-.7 -.6,-.8 -.2,-1.5 .1,-1.5 .3,-1 .7,-1 .7,-.7 .8,-.8 .7,-.7 1,-.5 1,-.6 1,-.3 1.3,-.4 1.2,-.2 1.5,-.3 .2,0M365.7,78.7l1.3,-.2 1.5,0 1.4,.2 .8,.5 .6,1 .3,1 -.6,1 -1,.3 -1.5,.2 -1,.2 -1,.3 -1.1,0 -1,-.5 -.5,-1 0,-1.5 .6,-.6 1,-.7 .2,-.2M327.6,72.7l1.4,-.1 1.5,0 1.5,0 1,.2 1.5,.4 1,.5 .9,.5 .8,.5 .8,.6 1,.9 .5,.5 .7,1 .7,1 .5,1 .1,1.5 -.5,1 -.7,1 -.8,.8 -.5,.7 -.5,1.1 -.5,1.4 -.5,.9 -.4,1.1 -.2,1 -.2,1.5 -.2,1.3 0,1.2 0,1.4 0,.9 -.2,1.2 -.3,1.5 .4,1.5 .6,.8 .5,.8 .4,1.4 .1,1 .1,1.5 0,1.5 0,1.5 .1,1.5 -.2,1 -.5,1.5 -.4,1 -.4,1 -.3,1 -.4,1 -.5,1.2 -.5,1 -.4,1.3 -.1,1 -.4,1.5 -.2,1 .3,1 .5,1 .8,1 1,.5 .5,.7 .6,.8 .6,1 .8,1 .7,.5 .9,.5 .9,.5 1,.7 .7,.8 .8,.9 .9,.6 .8,0 .8,.2 1,-.5 .8,-.7 .7,-1 .2,-1 .3,-1 .5,-1.2 .5,-.9 .6,-.9 .6,-1 .4,-1 .6,-1 .6,-1 .7,-.9 .6,-.6 .8,-1 .6,-.8 .6,-.7 .9,-.6 1,-.8 1,-.6 1,-.3 1,-.4 1.5,-.1 1.2,-.2 1.3,-.2 1,.3 1.5,.2 1,.4 1.2,.3 1,.5 1.1,.5 1.2,.4 1,.5 1,.5 .9,.6 .6,.5 1,.8 .7,.7 .8,.9 .5,.6 .5,1 .5,1.3 .5,1.2 .4,1 .5,1 .6,1 .2,1 0,1.5 .1,1.5 -.1,1.5 -.3,1 -.4,1.5 -.4,1 -.4,1 -.3,1 -.4,1 -.5,1 -.6,1 -.6,1 -.4,1 -.4,1.5 -.5,1 -.5,1 -.5,.5 -1,.5 -1,.6 -1,.8 -.6,.6 -.9,1 -.5,.5 -1,.7 -1,.4 -1.5,.3 -1,.2 -1.2,.4 -1.3,.2 -1.2,-.2 -1.2,-.5 -1.1,-.3 -1,-.5 -1,-.4 -1,-.4 -1,-.4 -1.2,-.5 -1.2,-.5 -.8,-.5 -.8,-.7 -.9,-.8 -.6,-.7 -.8,-.8 -.7,-.7 -.7,-.8 -.5,-1 -.4,-1 -.5,-1 -.5,-1 -.9,-.6 -.6,.1 -.9,.2 -1,.8 -.8,.5 -.7,.5 -1,.8 -.6,.7 -.8,1 -.6,.6 -1,.5 -1.1,.4 -1.4,.4 -1,.2 -1,.4 -1.5,0 -1,0 -1.5,-.5 -1,-.4 -1,-.3 -1.3,-.3 -1.2,-.4 -1,-.3 -1.5,-.3 -1,-.4 -1,-.5 -.6,-.6 -.9,-.9 -.6,-.6 -.6,-1 -.4,-1 -.1,-1.5 .6,-1 .6,-1 .3,-1 .2,-1 .4,-1.5 .4,-1 .7,-1 .5,-.8 .5,-1.2 .2,-1 .2,-1.5 .4,-1 .7,-.7 .6,-.8 .4,-1.2 .6,-.8 .3,-1.5 -.4,-1.5 -.4,-1 -.4,-1 -.4,-1 -.3,-1 -.5,-1 -.4,-1.5 .3,-1.5 .4,-1 .1,-1.5 -.4,-1.5 -.3,-1 -.3,-1 -.4,-1.4 -.4,-1.1 -.3,-1 -.3,-1.1 -.4,-1.4 -.1,-1.4 0,-.8 .1,-1.3 .4,-1.5 .2,-1 0,-1.5 -.5,-1 -.7,-1 -.4,-1 -.1,-1 .4,-1 -.1,-1.5 -.5,-1 -.3,-1 -.8,-1 -.7,-.6 -1,-.7 -1,-.7 -.7,-.5 -.8,-.9 -.6,-.6 -.4,-1.3 0,-1.2 .3,-1 .6,-1 .6,-.6 .9,-.9 .6,-.7 1,-.7 .9,-.6 1.1,-.3 1,-.3 1.5,-.2 1.5,0 1,-.2 1.5,-.2 1.5,-.3 .1,0M328.4,73.2l1.1,-.1 1.5,-.1 1.4,.2 1.1,.3 1,.4 1,.6 1,.7 .7,.5 .8,.6 .9,.9 .6,.6 .7,.9 .4,1 0,1.5 -.5,1 -.6,.8 -.6,.7 -.5,1 -.3,1.5 -.6,.7 -.9,.8 -.6,.6 -.7,.9 0,1.5 .1,1.5 0,1.5 0,1.5 -.1,1.5 -.3,1.1 -.3,1.4 .3,1.5 .5,.8 .5,.8 .5,1 .4,1.4 .2,1 .1,1.5 0,1.5 0,1.5 -.2,1.1 -.5,1.3 -.5,1 -.5,1.1 -.3,1 -.3,1 -.4,1 -.5,1.2 -.2,1.3 .2,1.5 0,1 -.5,.8 -.7,.7 -.7,1 .9,.6 1,.4 1,.7 .7,.8 .3,1 .4,1.5 .6,1 .5,.5 1,.7 1,.5 1,.6 .8,.7 .7,1 .5,.7 .6,.8 .9,.9 1,.6 1,-.7 .5,-1 1,.2 1,-.5 .5,-.5 .7,-1 .3,-1 .3,-1.5 .4,-1 .6,-1 .7,-1 .5,-.9 .5,-1.1 .5,-.9 .5,-.7 .6,-.9 .9,-1 .5,-.6 .6,-.9 .8,-1 .6,-.6 .9,-.9 .6,-.5 1,-.5 1.2,-.5 1.3,-.1 1.5,-.1 1.5,0 1.3,.2 1.2,.5 1,.4 1,.5 1,.6 1,.4 1,.4 1,.5 1,.6 .7,.6 .8,.7 .8,.8 .7,.8 .6,.7 .5,1 .5,1 .4,1 .5,1.5 .4,1 .4,1 .2,1 .3,1.5 .2,1.5 -.2,1.5 -.3,1.3 -.5,1.2 -.4,1 -.3,1 -.5,1 -.6,1 -.7,1 -.5,.6 -.7,.9 -.4,1 -.2,1.5 -.5,1 -.7,.8 -1,.6 -.8,.6 -.7,.6 -.9,.9 -.6,.5 -1,.7 -1,.6 -1,.3 -1.3,.4 -1.2,.3 -1,.3 -1.3,-.1 -1.2,-.5 -1,-.3 -1,-.4 -1,-.4 -1.3,-.4 -1.2,-.4 -1,-.4 -1,-.5 -.9,-.7 -.6,-.5 -1,-1 -.5,-.5 -1,-1 -.5,-.6 -.6,-.9 -.5,-1 -.4,-1.1 -.5,-1.4 -.5,-.9 -.5,-.7 -1,.1 -1,.7 -.5,-1.2 -.7,0 -.5,1 -.7,1 -.6,.5 -1,.7 -1,.8 -.5,.5 -.7,1 -.8,.7 -1,.4 -1.5,.1 -1.5,.1 -1,.4 -1.5,.1 -1.5,-.3 -1,-.3 -1,-.3 -1.3,-.4 -1.1,-.5 -.9,-.5 -1.2,-.5 -1,-.1 -1.5,-.2 -1,-.7 -.5,-.6 -.3,-1.4 .3,-1 .5,-1.5 .2,-1 .2,-1.5 .1,-1 .5,-1.4 .5,-.8 .6,-.8 .7,-1 .6,-1 .2,-1 -.1,-1.3 0,-1.2 0,-1 .9,-1 .8,-.5 .8,-.7 .6,-.8 -.2,-1 -.6,-1 -.7,-1 -.6,-.8 -.5,-.7 -.4,-1.5 -.2,-1 .1,-1.5 .1,-1 .4,-1 .5,-1.5 -.1,-1.5 -.4,-1.3 -.4,-1.2 -.1,-1 -.2,-1.5 -.3,-1.2 -.4,-1.3 -.5,-1 -.2,-1 0,-1.5 .3,-1 .2,-1.5 .1,-1.5 -.2,-1.5 -.3,-1.1 -.4,-1.4 -.2,-1 .2,-1 0,-1.5 -.6,-1 -.7,-.5 -1,-.5 -.8,-.9 -.4,-1.1 -.6,-.6 -1,-.7 -1,-.7 -.8,-.5 -.7,-.8 -.5,-.7 -.4,-1.5 .4,-1.5 .5,-.7 .7,-.8 .8,-.8 .8,-.7 .7,-.5 1,-.6 1.3,-.4 1.2,-.1 1.5,0 1.5,-.2 1.1,-.2 1.4,-.3 1.4,-.2M326.6,74.2l1.4,-.3 1.5,-.1 1.5,-.1 1.5,.5 1,.3 1,.6 1,.6 1,.4 1,.6 .8,.5 .7,.7 .7,.8 .5,1 0,1.5 -.6,1 -.6,.7 -.8,.8 -.4,1 -.3,1.5 -.5,.5 -1,.7 -1,.5 -1,.5 -.7,.8 .2,1.2 .5,1.3 .2,1 .2,1.5 -.1,1.5 -.3,1.4 -.4,1.1 -.3,1 .2,1.5 .4,1 .6,1 .5,1 .5,.8 .5,1.2 .1,1 0,1.5 -.1,1.5 -.2,1 -.4,1 -.6,1 -.5,1 -.3,1.1 -.5,1.4 -.4,1 -.1,1 .1,1 .1,1.5 .1,1.5 -.3,1 -1,.7 -1,.3 -1.5,.4 -1,-.4 -1,-.8 -.8,-.7 -.5,-1 -.2,-1.1 -.5,-1.2 -.5,-.7 0,-1.1 .3,-1.4 .5,-1 .6,-1 .3,-1 0,-1.5 -.1,-1.5 -.1,-1 -.3,-1.5 -.2,-1.2 -.4,-1.3 -.4,-1 -.5,-1 -.1,-1.5 .3,-1.5 0,-1.5 -.1,-1.5 -.1,-1.5 -.3,-1 -.3,-1.5 -.1,-1 .1,-1 .1,-1.5 -.3,-1 -1.1,-.5 -1.2,-.5 -1.1,-.4 -.6,-.6 -.4,-1.5 -.5,-.6 -1,-.6 -1,-.8 -.8,-.5 -.7,-.9 -.5,-.9 -.1,-1.2 .4,-1 .7,-.8 .7,-.7 .8,-.7 1,-.6 1,-.6 1,-.3 1.5,-.1 1.5,-.1 1,-.3 1.5,-.2 .6,-.1M364,118.7l1.5,-.1 1,.2 1.4,.4 1,.5 1,.5 .8,.5 .8,.5 1,.5 1,.5 1,.5 1,.7 .9,.8 .6,.6 .7,.9 .7,1 .5,1 .5,1 .4,1 .4,1 .4,1 .4,1.5 .1,1 .3,1.5 0,1.5 -.2,1.5 -.3,1 -.4,1 -.5,1.3 -.5,.9 -.5,.8 -.9,1 -.6,.6 -.7,.9 -.5,1 -.4,1 -.4,1 -.6,1 -.9,.8 -.8,.7 -.7,.7 -.9,.8 -.9,.5 -.9,.5 -1.2,.5 -1.1,.4 -1,.2 -1.5,.3 -1.3,-.4 -1.2,-.3 -1,-.3 -1.4,-.4 -1.1,-.3 -1,-.3 -1,-.4 -1,-.5 -1,-.8 -.8,-.7 -.7,-.7 -.8,-.8 -.7,-.7 -.7,-.8 -.5,-1 -.4,-1 -.4,-1.1 -.5,-1.3 -.4,-1.1 -.3,-1 -.2,-1.5 .4,-1.2 .3,-1.3 .5,-1 .5,-1 .5,-1 .2,-1 .4,-1.5 .5,-1 .6,-.9 .5,-.9 .5,-1 .5,-1 .5,-.8 .6,-.9 .9,-1 .5,-.6 .7,-.9 .8,-.9 .5,-.6 1,-1 .6,-.5 .9,-.5 1,-.6 1.5,-.3 .5,-.1M328.8,126.7l1.2,-.4 1.5,.2 1.5,.1 1,.2 1,.6 .4,1.3 .1,1 .2,1.5 .4,1 .9,.8 1,.5 1,.5 1,.7 .5,.7 .5,.8 .6,1 .5,1 .5,1 .4,1.2 .1,1.3 -.2,1 -.4,1 -1,.9 -.8,.6 -.7,.5 -1,1 -.5,.5 -1,.5 -1.5,.2 -1.5,.2 -1,.1 -1.5,0 -1,-.1 -1.3,-.4 -1.2,-.5 -1,-.4 -1,-.5 -1,-.5 -1,-.4 -1,-.4 -.8,-.8 -.2,-1.5 0,-1.5 0,-1 0,-1.4 .2,-1.1 .5,-1 .8,-1 .5,-.5 .8,-1 .3,-1 -.1,-1.1 -.3,-1.4 -.1,-1.5 -.1,-.6 1,-.7 1,-.4 1,-.5 .8,-.3M346.4,138.2l.6,.5 0,1 -.1,1 -.3,1.5 -.1,.5 -.3,-1.5 -.1,-1.5 .3,-1.5M326.7,74.7l1.3,-.2 1.5,-.1 1.5,.1 1,.3 1,.4 1.3,.5 1.2,.5 1,.4 1,.5 .8,.6 .7,.7 .6,.8 .3,1.5 -.4,1 -.8,1 -.7,.7 -.6,.8 -.4,1.1 -.7,.9 -.8,.7 -1,.4 -1,.5 -1,.5 -.7,.9 .2,1.2 .5,1.2 .4,1.1 .2,1 0,1.5 -.2,1 -.4,1.1 -.5,1.4 -.1,1 .2,1 .4,1.2 .4,1.3 .4,1 .4,1 .5,1 .1,1.5 -.4,1 -.9,.7 -1,.6 -.3,1.2 .3,1.5 .1,1 -.1,1 -.2,1.5 .2,1 .2,1.5 -.2,1.1 -.5,.9 -.5,1 -.6,1 -.9,.9 -1,-.8 -.2,-1.1 -.2,-1.5 -.2,-1 -.5,-1 -.6,-1 -.3,-1.5 .5,-1.2 .7,-.8 .5,-1 .3,-1.2 .4,-1.3 -.3,-1.5 -.5,-1 -.5,-1 -.4,-1 -.3,-1 -.4,-1 -.4,-1.5 .2,-1.5 .1,-1.5 -.2,-1.5 -.1,-1.5 -.1,-1 -.4,-1.5 -.3,-1 0,-1.5 .2,-1.1 0,-1 -.7,-.9 -1.3,-.5 -1,-.5 -1,-.5 -.8,-.5 -.6,-1 -.6,-.9 -1,-.6 -.8,-.5 -.8,-.5 -.9,-1 -.4,-1 .1,-1.5 .8,-1 .5,-.5 1,-.8 1,-.5 1,-.4 1.2,-.3 1.3,-.3 1.3,-.2 1.2,-.3 1.5,-.2 .2,0M364.9,119.7l.9,0 1.2,.2 1,.4 1,.5 1,.5 1,.7 1,.6 1,.5 1,.5 1,.6 .6,.5 .9,.9 .5,.6 .7,1 .5,1 .5,1 .5,1 .4,1 .4,1.1 .3,1.4 .1,1.5 0,1.5 0,1.5 -.4,1.4 -.4,1.1 -.3,1 -.6,1 -.7,.9 -.6,.6 -.9,.9 -.5,.6 -.6,1 -.4,1 -.5,1 -.5,1 -.9,1 -.6,.6 -1,.9 -.7,.5 -.9,.5 -1.1,.5 -1.3,.4 -1,.3 -1.5,.2 -1.5,-.4 -1,-.2 -1.2,-.3 -1.3,-.3 -1,-.2 -1.3,-.5 -1.1,-.5 -.7,-.5 -.9,-.7 -.9,-.8 -.6,-.7 -.8,-.8 -.7,-.9 -.5,-.9 -.5,-1.1 -.4,-1.1 -.4,-1 -.4,-1 -.2,-1.5 .2,-1.5 .3,-1 .4,-1.2 .5,-1.2 .5,-1.1 .2,-1 .3,-1.1 .5,-1.2 .5,-.8 .5,-.9 .5,-1 .5,-1.1 .6,-.9 .6,-1 .8,-.9 .6,-.6 .9,-1 .5,-.5 1,-.9 .7,-.6 .9,-.5 .9,-.5 1,-.5 1.5,-.4 .4,-.1M329.4,127.2l1.1,-.1 1,.2 1.3,.4 .8,.5 .5,1 .4,1.5 .5,.8 .4,1.2 .6,1 .6,.5 1,.5 1,.5 .9,.9 .5,1 .4,1.1 .2,1 .3,1.5 0,1.5 -.4,1 -1,.9 -.8,.6 -.7,.7 -.9,.8 -1.1,.4 -1,.2 -1.5,.1 -1.5,-.1 -1,-.2 -1,-.4 -1.4,-.5 -1.1,-.4 -1,-.5 -.9,-.6 -.7,-.5 -.7,-1 -.3,-1 -.3,-1.5 -.1,-1.5 .5,-1.3 .5,-.7 .9,-1 .6,-.9 .2,-1.1 .3,-1.2 .4,-1.3 .2,-1 .4,-1 .8,-1 .7,-.6 .4,-.4" fill="none" stroke="#111" stroke-width="0.6" stroke-opacity="0.55"/>
<path d="M325.5,75.2l1,-.1 1.5,-.2 1.5,0 1.5,.1 1,.3 1.1,.4 1.3,.5 1.1,.4 1,.4 1,.5 .8,.7 .7,.8 .5,1.1 0,.6 -.5,1.1 -.8,.9 -.7,.7 -.7,.8 -.8,.7 -1,.8 -1,.4 -1,.6 -.6,.5 -.9,.7 -.8,.8 -.1,1.5 .3,1.5 .2,1 .1,1.5 -.2,1.5 -.1,1 -.3,1.5 0,1.5 .3,1.5 .4,1 .2,1 .3,1.5 -.1,1.5 -.7,1 -1,.5 -1,-1 -.5,-1 -.3,-1 -.3,-1 -.3,-1.5 .2,-1.5 .1,-1.5 -.1,-1.5 .1,-1.5 -.2,-1.5 -.5,-1 -.3,-1 -.1,-1.5 .2,-1.2 0,-.8 -1,-1 -.5,-.8 -.9,-.7 -1.1,-.5 -1,-.4 -1,-.4 -1,-.6 -.5,-.7 -1,-.5 -1,-.6 -1,-.7 -.5,-.6 -.5,-1 0,-1 .5,-1 1,-.9 .9,-.6 1.1,-.5 1,-.4 1,-.2 1.5,-.4 1,-.2 1.5,-.3M328.4,114.7l1.1,-.2 .7,.7 .5,1 -.7,.8 -1,-.7 -.5,-1 -.1,-.6M364.1,121.2l1.4,-.2 1.5,.1 1,.3 1,.3 1,.6 1,.7 1,.6 1,.5 1,.4 .9,.7 .6,.5 .8,1 .6,1 .5,1 .5,1 .5,1 .5,1 .4,1 .2,1.4 .1,1.1 -.1,1.5 0,.6 0,.9 -.4,1.5 -.3,1 -.4,1 -.7,1 -.7,.8 -.8,.7 -.7,.8 -.5,.7 -.6,1 -.4,1 -.5,1 -.7,1 -.8,.9 -.6,.6 -.9,.8 -1,.5 -1,.4 -1,.3 -1.5,.4 -1.5,-.1 -1.5,-.3 -1,-.2 -1.1,-.3 -1.4,-.2 -1,-.3 -1.2,-.5 -.9,-.5 -.9,-.8 -.8,-.7 -.7,-.7 -.7,-.8 -.8,-1 -.5,-1 -.5,-1 -.4,-1 -.5,-1 -.2,-1 -.1,-1.5 .3,-1 .4,-1 .5,-1.4 .4,-1.1 .4,-1 .3,-1 .4,-1.4 .5,-.9 .5,-.8 .5,-.9 .5,-1.3 .5,-1 .5,-.7 .7,-1 .8,-.8 .7,-.7 .8,-.8 .8,-.7 .7,-.6 1,-.5 1,-.5 1.5,-.4 .1,0M330.3,130.2l.8,0 .9,.7 .6,.8 .9,1 .7,.5 .8,.5 .6,1 .9,.8 1,.5 .9,.7 .5,1 .3,1 0,1.5 -.2,1.3 -.5,.9 -.7,.8 -.8,.9 -.5,.6 -1,.6 -1.5,.2 -1.5,-.1 -1,-.3 -1.2,-.4 -1.3,-.3 -1,-.3 -1,-.5 -1,-.8 -.5,-.7 -.5,-1.2 -.2,-1.2 .2,-1.5 .5,-.9 .5,-.6 .5,-1 .5,-1.3 .6,-.7 .7,-1 .7,-1 .5,-.7 .8,-.8M324.8,75.7l1.2,-.2 1.5,-.2 1.5,0 1.5,0 1.3,.4 1.2,.4 1,.4 1,.4 1,.3 1,.5 1,.7 .7,.8 .5,1 -.3,1 -.7,1 -.7,.7 -.8,.8 -.9,.5 -.9,.5 -1.4,.4 -1,.4 -1,.5 -.8,.7 -.6,1 -.6,.8 -1.5,-.2 -.5,-.9 -.5,-.7 -1,-.8 -1,-.3 -1.5,-.3 -1,-.3 -1,-.3 -1,-.6 -1,-.7 -1,-.5 -1,-.7 -.5,-.5 -.6,-1 .1,-1.2 .6,-.8 .9,-.8 1,-.6 1,-.3 1,-.3 1.5,-.5 1,-.2 1.3,-.3M329.5,102.7l.2,.5 -.2,.5 0,-1M364.7,122.2l1.3,-.2 1.5,.2 1,.3 1,.5 .9,.7 .9,.5 1,.5 1,.5 .8,.5 .9,.9 .5,.7 .5,1 .5,1 .5,.9 .6,1 .5,1 .4,1 .2,1.5 -.1,1.5 -.1,1.5 -.1,1 -.4,1.4 -.4,1.1 -.6,.9 -.5,.6 -1,.9 -.5,.6 -.8,1 -.5,1 -.4,1 -.5,1 -.7,1 -.6,.8 -.7,.7 -.8,.6 -1,.5 -1,.4 -1.5,.4 -1,.1 -1,0 -1.5,-.3 -1,-.3 -1.5,-.4 -1,-.2 -1.1,-.3 -1.2,-.5 -.8,-.5 -.9,-.7 -.8,-.8 -.7,-.9 -.5,-.6 -.6,-1 -.6,-1 -.5,-1 -.5,-1 -.3,-1.5 .2,-1.5 .5,-1 .3,-1 .5,-1.2 .5,-1.3 .3,-1 .3,-1 .5,-1 .7,-1 .5,-1 .3,-1 .4,-1 .7,-1 .7,-1 .6,-.7 .8,-.8 .7,-.6 1,-.8 .8,-.6 1.2,-.5 1,-.3 1.2,-.2M330.3,133.2l1.2,0 .7,.5 .8,.6 1,.6 1,.4 .7,.9 .8,.8 .9,.7 .5,1 -.2,1.5 -.6,1 -.6,.6 -.7,.9 -.8,.8 -1,.4 -1.5,-.1 -1,-.3 -1,-.4 -1.5,-.4 -1,-.4 -.7,-.6 -.6,-1 -.1,-1.5 .4,-1.1 .2,-1.4 .5,-1 .8,-.8 .7,-.7 .8,-.8 .3,-.2M327.4,75.7l1.1,-.1 1.5,.1 1,.1 1,.4 1.3,.5 1.2,.4 1,.3 1,.4 1,.6 .8,.8 .5,1 -.3,1.1 -.8,.9 -.7,.6 -1,.8 -1,.5 -1,.3 -1.2,.3 -1.3,.4 -1,.2 -1,.5 -1.5,.2 -1,-.4 -1,-.5 -1.5,-.2 -1,-.2 -1.5,-.4 -1,-.4 -.9,-.7 -1.1,-.5 -.8,-.5 -.7,-.5 -.7,-1 .2,-1.2 .6,-.8 .9,-.7 1,-.4 1.2,-.4 1.3,-.4 1,-.3 1.4,-.3 1.1,-.3 1.5,-.2 .4,0M365,123.2l1,-.1 1.4,.1 1.1,.3 1,.6 .9,.6 .9,.5 .9,.5 .8,.5 1,.9 .5,.6 .5,1 .5,1 .6,1 .6,1 .6,1 .3,1 .1,1.5 -.2,1.1 0,1.4 -.3,1.5 -.4,1 -.5,1 -.8,1 -.5,.5 -.8,1 -.7,1 -.4,1 -.4,1 -.5,1 -.7,1 -.5,.6 -.8,.9 -.7,.5 -1.1,.5 -1.4,.5 -1,.2 -1.5,0 -1,-.2 -1.5,-.5 -1,-.3 -1,-.2 -1.5,-.5 -1,-.3 -1,-.7 -.7,-.5 -.8,-.9 -.5,-.7 -.6,-.9 -.7,-1 -.6,-1 -.5,-1 -.4,-1 .1,-1.5 .5,-1 .4,-1 .4,-1 .4,-1 .5,-1.4 .3,-1.1 .6,-1 .6,-.9 .5,-.9 .4,-1.2 .4,-1 .6,-1 .6,-.8 .5,-.7 1,-.9 .7,-.6 .8,-.7 1,-.6 1,-.4 1.5,-.2 .5,-.1M330.7,135.7l1.3,-.1 1,.4 1,.6 1,.4 .5,1.1 .4,1.1 -.5,1 -.8,1 -.6,.6 -1,.5 -1.5,-.1 -.9,-.5 -.9,-.5 -.7,-.7 -.5,-.9 -.1,-1.4 .6,-.9 .5,-.6 1,-.9 .2,-.1M326.1,76.2l1.4,-.2 1.5,0 1.5,.1 1,.3 1,.4 1,.4 1.5,.5 1,.3 1,.5 .9,.7 .5,1 -.4,1.2 -.8,.8 -.7,.6 -1,.5 -1,.4 -1.5,.3 -1,.3 -1.5,.3 -1,.3 -1.5,.3 -1.4,-.5 -1.1,-.3 -1.5,-.2 -1,-.2 -1.1,-.3 -1.1,-.5 -.9,-.5 -1,-.5 -.9,-.6 -.7,-.9 .2,-1.3 .7,-.7 .9,-.5 1.4,-.5 1,-.3 1,-.3 1.5,-.4 1,-.3 1.1,-.2M364.7,124.2l1.3,-.2 1.5,.2 1,.3 1,.6 1,.6 .8,.5 .7,.5 1,.9 .5,.6 .7,1 .6,1 .6,1 .5,1 .5,1 .3,1 -.1,1.5 -.1,1 -.2,1.5 -.3,1 -.5,1.2 -.5,.8 -.8,1 -.7,.9 -.5,.8 -.5,1.1 -.4,1.2 -.5,1 -.6,.9 -.5,.6 -1,1 -.8,.5 -1.2,.5 -1,.3 -1.5,.2 -1.5,-.3 -1,-.3 -1.1,-.4 -1.4,-.4 -1,-.3 -1,-.4 -1,-.5 -1,-.9 -.5,-.6 -.7,-.9 -.7,-1 -.6,-1 -.5,-.8 -.5,-1.2 0,-.9 .4,-1.1 .5,-1 .4,-1 .4,-1 .4,-1 .4,-1.2 .5,-1.1 .5,-.7 .6,-1 .4,-1 .5,-1.2 .5,-.9 .5,-.9 .8,-1 .7,-.7 1,-.8 .6,-.5 .9,-.5 1.5,-.4 .7,-.1M331,138.2l1,-.5 1.1,.5 .9,.9 0,.7 -.9,.9 -1.1,.2 -1,-.6 -.6,-.6 .2,-1 .4,-.5M325.3,76.7l1.2,-.2 1.5,-.1 1.5,0 1.5,.2 1,.4 1,.4 1,.4 1.3,.4 1.2,.4 .9,.6 .6,1 -.5,1.2 -.9,.8 -1,.5 -1.1,.5 -1,.2 -1.3,.3 -1.2,.2 -1.3,.3 -1.2,.3 -1.5,-.2 -1,-.3 -1.5,-.2 -1,-.2 -1.5,-.4 -1,-.4 -1,-.5 -1,-.5 -.9,-.6 -.4,-1 .6,-1 .7,-.5 1.2,-.5 1.3,-.4 1,-.3 1,-.3 1.5,-.4 .3,-.1M364.2,125.2l1.3,-.2 1.5,0 1,.3 1,.5 1,.6 1,.7 .7,.6 .8,.8 .6,.7 .7,1 .6,1 .6,1 .4,1 .3,1 -.1,1.5 -.1,1 -.2,1.5 -.4,1 -.4,1 -.7,1 -.6,1 -.7,1 -.5,1 -.3,1 -.4,1 -.5,1 -.8,.9 -.6,.6 -.9,.7 -1,.5 -1,.3 -1.5,.3 -1.5,-.3 -1,-.3 -1,-.4 -1,-.4 -1.2,-.4 -1.3,-.5 -.8,-.5 -.7,-.6 -.7,-.9 -.8,-1 -.5,-.8 -.5,-.8 -.5,-.9 -.1,-1.5 .4,-1 .5,-1 .4,-1 .4,-1 .4,-1.1 .5,-1.3 .5,-.9 .5,-.7 .5,-1 .5,-1.2 .5,-1 .5,-.8 .6,-1 .9,-.9 .7,-.6 .8,-.6 1,-.6 1.2,-.3M324.8,77.2l1.2,-.3 1.5,-.1 1.5,0 1.5,.1 1,.4 1.2,.4 1.3,.5 1,.3 1,.3 1,.6 .6,.8 -.4,1 -.7,.6 -1,.5 -1.1,.4 -1.4,.3 -1,.3 -1.5,.2 -1,.2 -1.5,.3 -1.2,-.3 -1.3,-.3 -1.5,-.2 -1,-.2 -1.2,-.3 -1.1,-.5 -1.1,-.5 -.8,-.5 -.6,-1 .7,-1 1.1,-.5 1,-.3 1,-.4 1.1,-.3 1.4,-.4 .3,-.1M363.8,126.2l1.2,-.3 1.5,-.1 1.5,.4 .9,.5 .8,.5 .8,.6 1,.9 .5,.5 .8,1 .7,1 .5,.9 .5,1.1 .3,1 -.2,1.5 -.1,1.5 -.2,1 -.3,1 -.5,1 -.6,1 -.6,1 -.6,1 -.4,1 -.4,1 -.4,1 -.7,1 -.8,.8 -.9,.7 -1,.5 -1.1,.4 -1,.1 -1,-.1 -1.4,-.4 -1.1,-.5 -1,-.3 -1,-.4 -1,-.4 -1,-.6 -.8,-.8 -.7,-.9 -.5,-.6 -.6,-1 -.5,-1 -.2,-1.5 .5,-1 .5,-1 .3,-1 .5,-1.2 .4,-1.3 .5,-1 .6,-.9 .5,-.9 .5,-1.1 .5,-1 .5,-.8 .5,-.8 .8,-1 .7,-.6 1,-.8 1,-.5 .3,-.1M327.9,77.2l.7,0 1.4,.1 1.5,.4 1,.3 1,.4 1,.3 1.5,.5 .8,.5 .2,.9 -.5,.7 -1,.5 -1,.4 -1.5,.4 -1,.2 -1.5,.2 -1,.2 -1.5,.3 -1.3,-.3 -1.2,-.2 -1.5,-.2 -1,-.2 -1.3,-.4 -1.1,-.5 -1.1,-.5 -.6,-.5 .1,-1 1,-.6 1.2,-.4 1.3,-.4 1,-.3 1,-.3 1.5,-.4 1.5,-.1 .4,0M365.5,126.7l1,0 1.5,.4 1,.6 .7,.5 .8,.6 .9,.9 .6,.7 .6,.8 .6,1 .4,1 .3,1.5 -.2,1.5 -.2,1.5 -.2,1 -.4,1 -.6,1 -.5,1 -.6,1 -.5,1 -.4,1 -.4,1 -.7,1 -.7,.7 -1,.8 -1,.5 -1,.3 -1.5,-.1 -1,-.3 -1.1,-.4 -1.2,-.5 -1.2,-.5 -1,-.5 -.8,-.5 -.7,-.7 -.7,-.8 -.6,-1 -.5,-1 -.1,-1.5 .4,-1 .5,-1.2 .5,-1.3 .3,-1 .4,-1 .5,-1 .6,-1 .5,-1 .5,-1 .6,-1 .6,-.9 .5,-.6 1,-1 .7,-.5 .8,-.5 1.5,-.4 .5,-.1M326,77.7l1.5,-.1 1.5,0 1,.1 1.5,.4 1,.5 1,.3 1.1,.3 1.4,.5 .3,1 -.8,.7 -1,.3 -1.5,.4 -1,.2 -1.5,.3 -1,.2 -1.5,.2 -1.5,-.3 -1,-.2 -1.5,-.2 -1,-.2 -1.4,-.4 -1.1,-.5 -.8,-.5 -.2,-.6 1,-.7 1,-.3 1,-.4 1.5,-.5 1,-.3 1,-.2M364.4,127.7l1.1,-.2 1.5,.1 1,.4 1,.6 .8,.6 .7,.7 .8,.8 .7,.9 .5,.9 .4,1.2 0,1.5 -.1,1.5 -.2,1.5 -.3,1 -.5,1 -.6,1 -.5,1 -.5,1 -.5,1 -.4,1 -.7,1 -.6,.6 -1,.8 -1,.5 -1,.2 -1.1,-.1 -1.4,-.5 -1,-.4 -1,-.4 -1,-.4 -1,-.6 -.9,-.7 -.6,-.7 -.6,-.8 -.4,-1 -.1,-1.5 .3,-1 .4,-1 .4,-1.2 .5,-1.3 .4,-1 .5,-1 .6,-1 .5,-.9 .5,-1 .5,-.7 .6,-.9 .9,-1 .6,-.5 .9,-.6 .9,-.4M326.4,78.2l1.1,-.1 1.5,.1 1,.1 1,.5 1,.5 1,.4 .8,1 -1.3,.5 -1,.3 -1,.3 -1.5,.4 -1,.2 -1,-.3 -1.5,-.3 -1,-.2 -1.5,-.4 -1,-.4 0,-.8 1,-.6 1,-.4 1,-.4 1.4,-.4M363.8,128.7l1.2,-.4 1.5,0 1.2,.4 .8,.5 1,.7 .8,.8 .7,.8 .5,.8 .5,1.1 .2,1.3 -.2,1.3 -.1,1.2 -.3,1.5 -.4,1 -.5,1 -.6,1 -.5,1 -.4,1 -.5,1 -.7,1 -.5,.6 -1,.8 -1,.4 -1.5,0 -1,-.3 -1.2,-.5 -1.1,-.5 -1.1,-.5 -.8,-.5 -.8,-.6 -.8,-.9 -.5,-1 -.1,-1.5 .4,-1.2 .4,-1.3 .4,-1 .3,-1 .5,-1 .5,-1 .6,-1 .5,-1 .7,-1 .6,-.9 .5,-.6 1,-.9 .8,-.6M326.2,79.2l1.3,-.2 1.5,.1 1,.3 1,.7 -.3,.6 -1.2,.4 -1,.3 -1.5,-.1 -1,-.3 -1,-.4 0,-.9 1.2,-.5M364.4,129.2l1.1,-.2 1.3,.2 1.1,.5 .8,.5 .8,.7 .7,.8 .7,1 .4,1 0,1.5 -.1,1.5 -.2,1.1 -.4,1.4 -.4,1 -.6,1 -.5,1 -.5,1 -.5,1 -.6,1 -.5,.5 -1,.8 -1,.3 -1.2,-.1 -1.3,-.5 -1,-.4 -1,-.5 -1,-.5 -.9,-.6 -.6,-.6 -.5,-.9 -.2,-1.5 .3,-1 .4,-1.5 .4,-1 .4,-1 .4,-1 .5,-1 .6,-1 .6,-1 .6,-.8 .5,-.7 .9,-1 .6,-.5 .9,-.5M364,130.2l1,-.4 1.5,.1 1,.4 1,.8 .7,.6 .3,1 .2,1.5 0,1.5 .3,1.3 .1,1.2 -.3,1 -.5,1 -.5,1 -.5,1 -.5,1 -.5,1 -.8,1 -.6,.5 -1.4,.4 -1.4,-.4 -1.1,-.5 -1,-.5 -1,-.5 -.8,-.5 -.7,-.6 -.5,-1.4 .2,-1.5 .3,-1.2 .5,-1.3 .4,-1 .4,-1 .6,-1 .6,-1 .5,-.8 .5,-.7 .8,-1 .7,-.7 .5,-.3M364.4,130.7l1.1,-.2 1,.2 1,.9 .3,1.1 .2,1 .2,1.5 .2,1.5 .1,1.4 0,.6 -.5,1.5 -.4,1 -.5,1 -.4,1 -.6,1 -.6,.7 -1.5,.1 -1,-.5 -1,-.6 -1,-.4 -1,-.4 -1,-.7 -.2,-1.2 .2,-1.5 .2,-1 .4,-1 .4,-1 .5,-1 .6,-1 .6,-1 .7,-1 .6,-.6 .8,-.9 .6,-.5M364.5,132.7l1,-.3 .7,.8 .4,1 .4,1.5 .1,1 0,1.5 -.1,1.1 -.4,1.4 -.4,1 -.7,1 -.6,.5 -1,0 -1,-.5 -1,-.5 -.9,-.5 -.8,-1 -.1,-1.5 .4,-1.5 .5,-1 .5,-.7 .6,-.8 .9,-1 .5,-.5 1,-1M364.3,136.2l.9,0 .5,1 .1,1.5 -.3,1.5 -.5,1 -.9,.5 -.6,-.1 -1,-.6 -.6,-.8 -.1,-1.5 .5,-1 .7,-.8 1,-.6 .3,-.1" fill="none" stroke="#111" stroke-width="0.7" stroke-opacity="0.9"/>
</g>
<rect x="303" y="66.2" width="95" height="88.8" fill="none" stroke="#333" stroke-width="0.8"/>
<line x1="346.80" y1="66.20" x2="346.80" y2="155.00" stroke="#222" stroke-width="0.8" />
<line x1="303.00" y1="116.80" x2="398.00" y2="116.80" stroke="#222" stroke-width="0.8" />
<circle cx="346.8" cy="116.8" r="1.3" fill="#111"/>
<circle cx="346.8" cy="66.2" r="0.9" fill="#111"/>
<circle cx="398" cy="116.8" r="0.9" fill="#111"/>
<path d="M303.0,155v2.6 M303,155.0h-2.6 M310.1,155v1.4 M303,148.3h-1.4 M314.3,155v1.4 M303,144.4h-1.4 M317.3,155v1.4 M303,141.6h-1.4 M319.6,155v1.4 M303,139.5h-1.4 M321.5,155v1.4 M303,137.7h-1.4 M323.1,155v1.4 M303,136.2h-1.4 M324.4,155v1.4 M303,135.0h-1.4 M325.7,155v1.4 M303,133.8h-1.4 M326.8,155v2.6 M303,132.8h-2.6 M333.9,155v1.4 M303,126.1h-1.4 M338.1,155v1.4 M303,122.2h-1.4 M341.0,155v1.4 M303,119.4h-1.4 M343.4,155v1.4 M303,117.3h-1.4 M345.2,155v1.4 M303,115.5h-1.4 M346.8,155v1.4 M303,114.0h-1.4 M348.2,155v1.4 M303,112.8h-1.4 M349.4,155v1.4 M303,111.6h-1.4 M350.5,155v2.6 M303,110.6h-2.6 M357.6,155v1.4 M303,103.9h-1.4 M361.8,155v1.4 M303,100.0h-1.4 M364.8,155v1.4 M303,97.2h-1.4 M367.1,155v1.4 M303,95.1h-1.4 M369.0,155v1.4 M303,93.3h-1.4 M370.6,155v1.4 M303,91.8h-1.4 M371.9,155v1.4 M303,90.6h-1.4 M373.2,155v1.4 M303,89.4h-1.4 M374.2,155v2.6 M303,88.4h-2.6 M381.4,155v1.4 M303,81.7h-1.4 M385.6,155v1.4 M303,77.8h-1.4 M388.5,155v1.4 M303,75.0h-1.4 M390.9,155v1.4 M303,72.9h-1.4 M392.7,155v1.4 M303,71.1h-1.4 M394.3,155v1.4 M303,69.6h-1.4 M395.7,155v1.4 M303,68.4h-1.4 M396.9,155v1.4 M303,67.2h-1.4 M398.0,155v2.6 M303,66.2h-2.6" stroke="#222" stroke-width="0.5" fill="none"/>
<text x="301.8" y="163.7" font-size="4.2" font-weight="normal" fill="#333">10<tspan dy="-2.3" font-size="3.2">0</tspan></text>
<text x="298.6" y="157.6" font-size="4.2" font-weight="normal" text-anchor="end" fill="#333">10<tspan dy="-2.3" font-size="3.2">0</tspan></text>
<text x="325.6" y="163.7" font-size="4.2" font-weight="normal" fill="#333">10<tspan dy="-2.3" font-size="3.2">1</tspan></text>
<text x="298.6" y="135.4" font-size="4.2" font-weight="normal" text-anchor="end" fill="#333">10<tspan dy="-2.3" font-size="3.2">1</tspan></text>
<text x="349.3" y="163.7" font-size="4.2" font-weight="normal" fill="#333">10<tspan dy="-2.3" font-size="3.2">2</tspan></text>
<text x="298.6" y="113.2" font-size="4.2" font-weight="normal" text-anchor="end" fill="#333">10<tspan dy="-2.3" font-size="3.2">2</tspan></text>
<text x="373.1" y="163.7" font-size="4.2" font-weight="normal" fill="#333">10<tspan dy="-2.3" font-size="3.2">3</tspan></text>
<text x="298.6" y="91.0" font-size="4.2" font-weight="normal" text-anchor="end" fill="#333">10<tspan dy="-2.3" font-size="3.2">3</tspan></text>
<text x="396.8" y="163.7" font-size="4.2" font-weight="normal" fill="#333">10<tspan dy="-2.3" font-size="3.2">4</tspan></text>
<text x="298.6" y="68.8" font-size="4.2" font-weight="normal" text-anchor="end" fill="#333">10<tspan dy="-2.3" font-size="3.2">4</tspan></text>
<text x="304.3" y="70.8" font-size="4.7" font-weight="normal" fill="#222">16.43</text>
<text x="397.2" y="70.8" text-anchor="end" font-size="4.7" font-weight="normal" fill="#222">0.41</text>
<text x="304.2" y="154.2" font-size="4.7" font-weight="normal" fill="#222">7.91</text>
<text x="397.2" y="154.2" text-anchor="end" font-size="4.7" font-weight="normal" fill="#222">75.15</text>
<text x="395.80" y="128.30" font-size="10.2" font-weight="bold" text-anchor="end" fill="#000" stroke="#000" stroke-width="0.25" textLength="11.7" lengthAdjust="spacingAndGlyphs">75</text>
<clipPath id="c6"><rect x="416.2" y="65.5" width="95.60000000000002" height="88.69999999999999"/></clipPath>
<g clip-path="url(#c6)" filter="url(#bl)">
<path d="M437.7,75.5l2,-.5 2,0 2,.1 2,0 2,0 2,.2 1.5,.4 1.5,.5 1.5,.8 1,.7 1,.9 .9,1.4 -.4,1.8 -1,.8 -1.3,.9 -1.2,.9 -1,1 -.6,1.1 -1,1 .3,1.5 .7,1.5 .4,1.5 0,2 -.4,1.5 -.6,1.5 .2,1.8 .4,1.7 .3,1.5 -.1,2 -.5,1.5 -.3,1.5 -.1,2 .1,2 .2,1.5 .1,2 -.5,1.5 -.4,1.5 .1,2 .4,1.5 .2,2 .3,1.5 .8,1.1 1,1.3 .8,1.1 .9,1 .9,1 .9,1.4 .5,1.1 0,1.8 -.2,1.7 -.3,1.7 -.5,1.3 -1,1.4 -.9,1.1 -.7,1 .1,1.5 -.6,1 -.9,1.4 -.8,1.1 -1.2,.6 -1.5,.4 -2,.1 -1.5,-.2 -1.3,-.9 -.7,-1.3 -1.5,-.7 -1.3,-.5 -1.2,-.8 0,-.8 -.9,-1.4 -.6,-1 -.7,-1.5 -.6,-1.5 -.7,-1.5 -.2,-1.5 -.1,-2 .2,-2 .5,-1.5 1,-1 1.1,-.8 1,-.8 1,-1.4 .5,-1 -.2,-1.5 -.6,-1.5 -.6,-1.5 -.4,-1.5 -.3,-1.5 0,-2 .6,-1.5 .6,-1 .2,-2 -.8,-1.1 -.6,-1.4 0,-2 0,-2 -.1,-2 .2,-1.8 .2,-1.7 -.2,-1.5 -.3,-2 .3,-1.5 .9,-1.5 .8,-1 .6,-1.5 -.8,-1.5 -1,-.6 -1.5,-.7 -1.5,-.5 -1,-.7 -1,-1.1 -.5,-1.4 -1.3,-1 -.9,-1 -.3,-1.5 .5,-1.2 1,-.9 1.5,-.8 1.5,-.5 1.5,-.5zM480.5,120l1.7,-.4 2,0 1.5,.5 1.5,.9 .9,1 .8,1 .7,1.5 .6,1.5 .1,1.5 -.3,1.5 -.4,1.5 -.8,1.5 -.6,1 -1,1.5 -.8,1 -1,1 -1.2,1 -1,.8 -1,1 -1,1 -1,.8 -1.3,.9 -1.2,.9 -1,.7 -1.5,.6 -1,.9 -1.5,.8 -.7,1.1 -.8,1.1 -2,.3 -1.5,-.6 -1,-1.1 .4,-1.2 .2,-1.5 -.6,-1.3 -1,-1.2 -.6,-1 -.5,-1.5 -.1,-2 .4,-1.5 .4,-1.5 .5,-1.5 .9,-1.4 .9,-1.1 .7,-1 .9,-1 1.1,-1 1.2,-1 1.2,-.8 1,-.8 1.3,-.9 1.1,-1 1.1,-.8 1,-.7 1.5,-.7z" fill="#000" fill-opacity="0.15"/>
<path d="M440.1,76l1.6,0 1.5,0 2,.1 2,-.1 2,.3 1.5,.3 1.5,.5 1.5,.8 1,.7 1,1 -.1,1.4 -1.3,1 -1.1,.6 -1.5,.6 -1.5,.6 -1.5,.4 -2,.2 -1.5,.3 -2,.3 -2,-.3 -1.5,-.5 -1.5,-.3 -1.5,-.4 -1.5,-.7 -1,-.8 -1.4,-1 -.5,-1.5 .9,-1.2 1.3,-.8 1.5,-.5 1.7,-.5 1.5,-.4zM445.5,92l1.1,.5 .3,1.5 -.2,1.7 -.6,1.3 -1,.5 -.7,-1.5 0,-2 .6,-1.5zM444.7,100l1.4,.5 .4,1.5 -.1,2 -.7,1.4 -1.5,-.6 -1,-1 -.1,-1.8 .6,-1 1,-1zM481.1,121.5l1.6,-.4 2,.2 1.2,.7 1,1 .8,1.2 .6,1.3 .2,2 -.3,1.7 -.5,1.4 -.6,1.4 -.9,1.4 -.9,1.1 -1.1,.9 -1,.7 -1.1,.9 -1,1 -.9,1.1 -1,.9 -1.4,1 -1.1,.7 -1.5,.6 -1.5,.4 -2,.2 -1.5,-.5 -1.5,-.8 -1,-.7 -1,-1.2 -.5,-1.5 .1,-1.2 .4,-1.5 .5,-1.6 .8,-1.4 .7,-1 1,-1.3 1,-1.2 1,-.9 1,-.7 1.2,-.9 1.3,-.9 1,-.8 1,-.9 1.2,-.9 1.3,-.9 1.4,-.6zM447.9,129l1.3,.2 1,.8 1,1 1,1.1 1,1.2 .9,1.2 .5,1.5 -.4,2 -.9,1 -1.1,1 -1,.9 -1,.6 -1.5,.8 -1.5,.2 -1.5,0 -1.5,0 -1.5,-.2 -1.2,-.8 -1.1,-1 -.8,-1 -.6,-1.5 -.2,-2 .4,-1.5 1,-1.5 1,-.8 1,-.8 1.5,-.8 1.5,-.5 1.5,-.5 1.2,-.6z" fill="#000" fill-opacity="0.3"/>
<path d="M439.9,77l1.8,-.1 1.5,.1 2,0 2,.1 2,.3 1.5,.4 1.5,.5 1.2,.7 1,1 -.7,1.1 -1.5,.7 -1.5,.6 -1.5,.3 -1.5,.3 -2,.1 -2,.2 -2,.1 -1.6,-.4 -1.9,-.4 -1.5,-.4 -1.4,-.7 -1.1,-.7 -.7,-1.3 1.2,-1 1.4,-.5 1.6,-.5 1.5,-.4zM482.1,123l1.6,-.2 1.3,.7 .9,1 .8,1.5 0,1.5 -.2,1.5 -.5,1.5 -.8,1.5 -.7,1 -1.2,1 -1.1,.7 -1,.8 -1,1.1 -1,1.3 -1,1 -1,.7 -1.5,.8 -1.5,.4 -1.5,.2 -1.5,-.1 -1.5,-.6 -1,-.8 -.8,-1.5 .3,-2 .5,-1.5 .5,-1 1,-1.3 .9,-1.2 .9,-1 1.2,-1 1,-.8 1,-.7 1.4,-1 1.1,-.9 1,-.7 1.3,-.9 1.2,-.6zM446,133l1.7,-.1 1.5,.5 1.1,.6 1,1 .6,1.5 -.6,1.5 -1,1 -1.1,.6 -1.7,.4 -1.8,.1 -1.5,-.1 -1.5,-.8 -.9,-1.2 .2,-2 .7,-1.1 1,-.9 1.5,-.8z" fill="#000" fill-opacity="0.4"/>
<path d="M440.6,77.5l1.2,0 1.9,.1 2,.1 2,.1 1.5,.3 1.7,.4 1.4,.5 1,1 -.8,1 -1.3,.5 -1.7,.5 -1.8,.3 -2,.1 -1.5,.2 -2,.1 -1.5,-.2 -2,-.5 -1.5,-.3 -1.5,-.7 -1,-.7 .4,-1.3 1.3,-.5 1.8,-.5 1.5,-.4zM483.2,124l1,.4 1,1 .5,1.6 -.3,2 -.6,1.5 -.6,1.1 -1,1.2 -1,.7 -1.4,1 -1,1 -.7,1 -.9,1.1 -1.1,.9 -1.4,.8 -1.5,.5 -1.5,.3 -1.5,-.1 -1.5,-.9 -.8,-1.1 .2,-2 .6,-1.5 .7,-1 .8,-1.2 1,-1.2 1,-1 1,-.8 1.1,-.8 1.3,-1 1.1,-.8 1,-.7 1.5,-.9 1.3,-.6 1.7,-.5zM445.9,135.5l1.8,-.2 1.5,.5 .6,1.2 -1.1,.8 -2,.1 -1.5,-.4 -.5,-1.3 1.2,-.7z" fill="#000" fill-opacity="0.3"/>
<path d="M440.5,78l1.4,0 1.8,.3 1.5,.2 2,.1 2,.2 1.5,.4 1.2,.8 -1.2,.9 -1.5,.4 -2,.2 -1.5,0 -1.8,.5 -1.7,.2 -1.8,-.2 -1.7,-.5 -1.5,-.4 -1.4,-.6 -.1,-1.1 1.5,-.5 1.6,-.4 1.7,-.5zM482.5,126l1.4,0 .8,1.4 -.1,1.1 -.4,1.5 -.9,1.5 -1,1 -1.1,.8 -1,.7 -1,1.2 -.8,1.3 -1,1 -1.2,.8 -1.5,.7 -1.5,.3 -2,0 -1.3,-.8 -.4,-1.5 .4,-1.5 .8,-1.4 .8,-1.1 .7,-1 1,-1.1 1.2,-.9 1.3,-1 1,-.6 1.5,-.9 1,-.5 1.9,-.5 1.4,-.5z" fill="#000" fill-opacity="0.3"/>
<path d="M443.2,72.5l.5,.1 1.5,.3 1.5,0 1.5,-.1 1,.2 1.5,.3 1,.3 1.3,.4 1.2,.4 1,.5 .9,.6 .8,.5 .8,.7 .7,.8 .7,1 .3,1 0,1.5 -.3,1 -.5,1 -.4,1 0,1.5 0,.5 0,1 .5,1.3 .1,1.2 0,1.5 .1,1.5 .3,1 -.2,1 -.5,1 -.4,1 .1,1.5 .5,.8 .5,.7 .1,1.5 .1,1.5 -.1,1.5 -.2,1 -.5,1 -.2,1.5 .2,1.5 .3,1 .3,1 .1,1.5 -.1,1.5 -.2,1 -.3,1 -.4,1.5 .1,1.5 .4,1 .4,1.1 .1,1.4 -.3,1 -.2,1.5 0,1.5 -.1,1.5 -.1,1 .1,1.5 .1,1 .4,1.5 .3,1 .2,1.5 0,1.5 -.1,1.5 -.4,1.3 -.5,1.2 -.5,.8 -.5,.8 -.6,.9 -.5,1 .4,1 .5,1 .4,1 -.1,1.5 -.6,.9 -.7,.6 -.8,.6 -1,.6 -1,.7 -1,.3 -1.4,.3 -1.1,.1 -1.5,.2 -1,.2 -1.5,.1 -1.5,.1 -1.5,-.1 -1,-.4 -1,-.3 -.9,-.9 -.6,-.5 -1,-.6 -1,-.8 -.5,-.6 -.6,-1 -.3,-1.5 .1,-1.5 -.5,-1 -.7,-.8 -.6,-.7 -.6,-1 -.5,-1 -.5,-1 -.4,-1 -.2,-1.5 0,-1.5 .1,-1.5 .4,-1 .3,-1.3 .2,-1.2 0,-1.5 .1,-1.5 -.2,-1.5 .4,-1 .6,-1 0,-1.5 -.6,-.9 -.5,-.6 -.5,-1 -.1,-1.5 0,-1.5 0,-1.5 0,-1.5 0,-1.5 0,-1.5 0,-1.5 .1,-1.5 .1,-1 .1,-1.5 -.2,-1.5 -.1,-1 -.1,-1.5 0,-1.5 0,-1.5 0,-1.5 0,-1.5 0,-1.5 .3,-1 0,-1.5 0,-1.5 .2,-1.5 .3,-1 0,-1.5 -.3,-1 -.8,-.8 -1,-.6 -.6,-.6 -.8,-1 -.6,-1 -.4,-1 -.2,-1 .3,-1 .5,-1 .7,-1 .6,-.5 1,-.6 1,-.5 1.1,-.4 1.4,-.5 1,-.4 1,-.2 1,-.5 1.5,-.1 1.5,0 1.5,-.1 .5,-.2M482.4,78l1.3,-.4 1.5,.3 1,.6 .6,.5 .1,1.5 -.7,.9 -1,.6 -1,.3 -1.5,-.3 -1,-.4 -.6,-.6 -.1,-1.5 .5,-1 .9,-.5M480.1,117l1.1,-.2 1.5,0 1.5,-.2 1.5,0 1.3,.4 .8,.5 .9,.6 1,.9 .6,.5 .9,.6 1,.8 .5,.8 .5,1 .5,1.1 0,1.2 0,1 0,1.3 0,1.2 -.3,1 -.2,1.5 -.5,1 -.5,.8 -.6,.7 -.8,1 -.6,.6 -.7,.9 -.6,1 -.7,1 -.5,.6 -.8,.9 -.7,.6 -.9,.9 -.6,.6 -1,.9 -.8,.5 -1.2,.4 -1,.5 -.9,.6 -.6,.6 -1,.9 -.5,.5 -1,.9 -.5,.7 -.5,1.1 -.5,.8 -.9,1 -.6,.6 -1,.5 -1.3,.4 -1.2,.1 -1.5,0 -1.1,-.1 -1.4,-.2 -1.2,-.3 -1.1,-.5 -1.1,-.5 -1.1,-.5 -.7,-.5 -.8,-.9 -.2,-1.1 .2,-1.4 .5,-.9 .7,-.7 .8,-.7 .2,-1.3 -.4,-1 -.5,-1 -.3,-1 -.4,-1.5 0,-1.5 .2,-1.5 .4,-1 .3,-1.4 .4,-1.1 .5,-1 .4,-1 .6,-1 .6,-.9 .5,-.7 .7,-.9 .8,-.8 .8,-.7 .7,-.7 .9,-.8 .6,-.5 1,-.5 1.1,-.5 1,-.5 .9,-.7 .7,-.8 .8,-.7 1,-.7 1,-.6 1,-.4 1,-.2 1.4,-.4M438.1,73.5l1.1,-.3 1.5,-.1 1.5,.1 1.5,.1 1.5,.2 1.5,-.2 1.5,-.1 1.5,.3 1,.1 1.2,.4 1.3,.5 1,.4 1,.5 .9,.6 .7,.5 .9,.8 .7,.7 .5,1 .2,1.5 -.4,1.5 -.4,1 -.4,1 -.7,.9 -.6,.6 -.4,1 .2,1 .6,1 .5,1 -.2,1.5 -.2,1 .1,1 0,1.5 -.3,1 -.3,1 0,1.5 .3,1 .6,1 .5,1 .1,1.5 -.4,1.1 -.4,1.4 -.1,1 0,1.5 .1,1 .4,1.5 .3,1 .2,1.5 -.4,1.5 -.4,1 -.5,1 -.5,1 -.3,1 .1,1.1 .5,1.1 .5,.9 .3,1.4 -.3,1 -.1,1.5 .2,1 .4,1.4 .4,1.1 .2,1 .2,1.5 .3,1 .3,1.5 .2,1 .1,1.5 0,1.5 -.1,1.5 -.5,1 -.5,1 -.6,1 -.5,.7 -.5,.8 -.3,1.5 -.1,1.5 .3,1.5 -.6,1 -.8,.8 -1,.6 -.9,.6 -1.1,.4 -1,.2 -1.5,.3 -1,.2 -1.5,.4 -1,.2 -1.5,-.1 -1,-.3 -1,-.7 -.8,-.6 -.7,-.5 -1,-.6 -1,-.4 -1,-.8 -.5,-.8 -.5,-1.1 -.5,-.8 -.4,-1.5 -.6,-.9 -.5,-.7 -.6,-.9 -.6,-1 -.6,-1 -.3,-1 -.4,-1 0,-1.5 0,-1 .4,-1.5 .1,-1.1 .3,-1.4 .1,-1.5 .1,-1 .5,-1.1 .5,-.9 .6,-1 .6,-1 .2,-1.5 -.4,-1.1 -.8,-.9 -.7,-.6 -.7,-.9 -.2,-1.5 .1,-1.5 .2,-1.5 -.1,-1.5 -.1,-1.5 0,-1.5 .1,-1.5 .2,-1.4 .1,-1.1 .1,-1.5 -.2,-1.5 -.4,-1 -.3,-1 -.1,-1.5 .2,-1.5 0,-1.5 -.2,-1.5 -.1,-1.5 .3,-1.5 0,-1.5 0,-1.5 .1,-1 .4,-1.5 -.2,-1.5 -.5,-1 -.7,-.7 -.8,-.8 -.7,-.8 -.6,-.7 -.5,-1 -.4,-1.5 .4,-1.5 .6,-1 .6,-.5 .9,-.5 1,-.6 1.1,-.4 1.4,-.4 1,-.4 1,-.4 .9,-.3M483,78l1.2,-.1 1,.4 1,.7 .2,1 -.5,1 -.7,.5 -1.5,.3 -1,-.7 -.5,-.7 0,-1.4 .5,-.6 .3,-.4M479.9,118l1.3,-.3 1.5,-.1 1.5,0 1.5,.1 1,.3 1,.6 1,.8 .7,.6 .8,.7 1,.7 .6,.6 .6,1 .3,1 .2,1.5 0,1.5 0,1.5 -.2,1.3 -.3,1.2 -.6,1 -.6,.7 -.6,.8 -.9,1 -.5,.6 -.6,.9 -.7,1 -.7,1 -.5,.5 -1,.9 -.7,.6 -.8,.7 -.9,.8 -.7,.5 -1,.5 -.9,.5 -1,.7 -.9,.8 -.6,.5 -1,1 -.5,.6 -.5,1.1 -.6,.8 -.9,.9 -.6,.6 -.9,.8 -1,.5 -1,.3 -1.5,.2 -1.5,-.1 -1,-.2 -1.5,-.4 -1,-.4 -1,-.4 -1,-.4 -1,-.7 -.6,-.7 -.3,-1.5 .4,-1 .7,-1 .8,-.8 0,-1.1 -.2,-1.1 -.3,-1 -.5,-1.3 -.4,-1.2 0,-1.5 .4,-1.5 .3,-1 .3,-1 .4,-1.3 .4,-1.2 .4,-1 .6,-1 .6,-1 .5,-.7 .8,-.8 .7,-.5 1,-.8 .9,-.7 .8,-.5 1.2,-.5 1.1,-.5 .9,-.5 .8,-.5 .8,-.8 .6,-.7 .9,-.7 1,-.6 1,-.5 1,-.3 1.2,-.4M438.5,74l1.2,-.3 1.5,.1 1.5,.1 1,.1 1.5,.1 1.2,-.1 1.3,-.2 1.5,.2 1,0 1.5,.5 1,.4 1,.4 1,.5 1,.7 .7,.5 .8,.7 .7,.8 .4,1 .1,1.5 -.3,1 -.2,1.5 -.7,.8 -1,.7 -.6,.5 -.9,.8 -.3,1.2 .3,1.2 .4,1.3 0,1.5 .1,1.1 .3,1.4 0,1.5 -.2,1.5 0,1.5 .2,1.5 .2,1.2 .1,1.3 0,1.5 .1,1.5 .1,1.5 .1,1.5 0,1.5 0,1.5 0,1.5 -.3,1.5 -.4,1 -.5,1 -.5,1 -.4,1 .2,1.5 .4,1 .3,1 .1,1.5 .2,1.5 .3,1 .5,1 .7,1 .5,.6 .6,.9 .4,1 .3,1.5 .1,1.5 .2,1 .1,1.5 -.1,1.5 -.1,1 -.5,1.3 -.5,1 -.6,.7 -.8,1 -.4,1 0,1.5 -.7,1 -.3,1 -.2,1 -.8,1 -.8,.5 -1.4,.5 -1,.3 -1,.3 -1.5,.3 -1,.2 -1.4,-.1 -1.1,-.3 -1,-.5 -1,-.6 -1,-.5 -1,-.4 -1,-.6 -.8,-.6 -.7,-.7 -.9,-.8 -.4,-1 -.2,-1.3 -.5,-.8 -.5,-.9 -.5,-1 -.5,-1 -.5,-1.1 -.5,-1.4 -.1,-1 .1,-1.5 0,-1 0,-1.5 0,-.7 .2,-1.3 .3,-1 .6,-1 .7,-1 .7,-.8 .7,-.7 .5,-1 .1,-1.5 -.3,-1 -.6,-1 -.9,-.7 -.9,-.8 -.5,-1 .1,-1.5 .3,-1 .3,-1.5 0,-1.5 -.2,-1.5 -.1,-1.5 .1,-1.5 .1,-1.5 .3,-1.5 0,-1 -.1,-1 -.4,-1.3 -.4,-1.2 0,-1.5 .3,-1.5 0,-1.5 -.3,-1.5 -.1,-1.4 -.1,-1.1 -.1,-1.5 .2,-1.5 .4,-1 -.1,-1.5 -.5,-1 -.5,-1 -.5,-1 -.7,-1 -.6,-.6 -.8,-.9 -.6,-1 -.3,-1 .2,-1.5 .5,-1 .5,-.5 1,-.6 1,-.6 1,-.3 1.4,-.5 1.1,-.4 1,-.3 .8,-.3M481.4,118.5l1.3,-.1 1.5,0 1,.1 1.3,.5 .9,.5 .8,.6 .9,.9 .6,.6 .7,.9 .5,1 .5,1 .3,1 .3,1.5 0,1.5 -.3,1.5 -.4,1 -.6,.9 -.5,.7 -.7,.9 -.8,1 -.5,.8 -.5,.7 -.8,1 -.7,.8 -.9,.7 -.7,.5 -.9,.8 -.8,.7 -.7,.6 -1,.7 -1,.6 -.7,.6 -.8,.7 -.9,.8 -.6,.5 -1,1 -.1,1 -.6,1 -.8,.6 -1,.5 -1,.6 -1,.5 -1,.3 -1.5,.2 -1.5,-.2 -1,-.2 -1,-.3 -1.2,-.5 -1.2,-.5 -.7,-.5 -.3,-1.5 .7,-1 .3,-1 -.2,-1 .4,-1 -.1,-1.5 -.3,-1 -.4,-1.2 -.3,-1.3 .3,-1.5 .3,-1 .2,-1 .3,-1.5 .3,-1 .4,-1.1 .5,-1 .6,-.9 .8,-1 .6,-.7 1,-.7 .7,-.6 .8,-.5 1,-.6 1,-.4 1,-.7 1,-.7 .9,-.6 .6,-.6 1,-.8 1,-.6 .6,-.5 1,-.5 1.4,-.5 1,-.4 .7,-.1M439.3,74.5l1.4,0 1,0 1.5,.1 1.5,0 1.5,0 1.5,-.1 .5,0 1.5,.1 1.5,.3 1,.4 1,.4 1,.5 1,.8 .7,.5 .8,.7 .6,.8 .4,1 0,1.1 -.1,1.4 -.5,1 -.9,.6 -1,.8 -.6,.6 -.9,.7 -.7,.8 .1,1.5 .3,1 .3,1.5 .1,1 .2,1.5 .1,1.5 -.2,1.5 -.1,1.5 .1,1.5 .1,1.5 .2,1.3 .1,1.2 .1,1.5 .2,1.5 -.1,1.5 -.3,1.1 -.4,1.4 .1,1.5 .2,1.5 -.2,1.5 -.4,1 -.6,1 -.4,1 0,1.5 .3,1 .4,1.5 .1,1 .2,1.5 .3,1 .7,1 .7,.7 .7,.8 .8,.9 .5,.6 .6,1 .4,1.5 -.1,1.5 0,1.5 0,1.5 -.1,1.5 -.4,1 -.4,1 -.7,1 -.8,.9 -.5,.8 0,1 .1,1.3 -.6,.8 -.6,.7 -.7,1 -.7,.8 -1,.5 -1,.4 -1,.3 -1.5,.3 -1.5,.1 -1.5,-.2 -1,-.4 -1,-.4 -1,-.4 -1,-.5 -1,-.5 -1,-.7 -1,-.8 -.5,-.5 0,-1.5 -.5,-1.2 -.5,-.9 -.5,-1.2 -.5,-1.2 -.4,-1 -.4,-1 -.3,-1 -.1,-1.5 -.3,-1.5 -.1,-1 0,-1.5 .3,-1 .6,-1 .7,-.8 .7,-.7 .8,-.7 1,-.8 .5,-.9 .1,-1.1 -.2,-1 -.4,-1.2 -.5,-.8 -1,-1 -.5,-.5 -.5,-1.5 .4,-1.5 .2,-1 .2,-1.5 .1,-1.5 -.2,-1.5 -.2,-1.1 -.1,-1.4 .1,-1 .3,-1.5 .2,-1.5 -.1,-1.5 -.1,-1.5 -.1,-1.5 .1,-1.5 -.3,-1.5 -.3,-1 -.1,-1.5 -.1,-1.3 0,-.7 .2,-1.5 .5,-1 .4,-1 -.3,-1 -.8,-.8 -.8,-.7 -.7,-.6 -.6,-.9 -.4,-1.3 -.5,-.7 -1,-1 -.5,-.6 -.5,-1.3 0,-.8 .5,-1.3 .5,-.5 1,-.7 1,-.6 1,-.3 1.2,-.4 1.3,-.5 1,-.2 1.1,-.3M481.4,119l1.3,-.1 1.5,0 1,.2 1,.4 1,.6 1,.9 .5,.6 .8,.9 .5,1 .5,1 .4,1 .2,1.5 -.1,1.5 -.3,1.2 -.5,1.2 -.5,.9 -.5,.9 -.5,.8 -.7,1 -.7,1 -.6,.7 -.8,.8 -.7,.6 -1,.8 -.6,.6 -.9,.8 -.7,.7 -.8,.7 -1,.7 -.9,.6 -.6,.5 -1,.8 -1,.6 -.9,.6 -.2,1 -.4,1.3 -.5,.7 -1.3,.5 -1.2,.5 -1,.3 -1,.3 -1.5,.1 -1,-.2 -1.5,-.4 -1,-.4 -1,-.7 0,-.6 .4,-1.4 -.5,-1 -.5,-1 .6,-.8 .4,-1.2 -.4,-1.2 -.4,-1.3 -.3,-1 .1,-1.5 .3,-1 .3,-1 .3,-1.5 .2,-1 .5,-1.1 .7,-.9 .8,-1 .5,-.6 .7,-.9 .8,-.8 .8,-.7 .7,-.5 1,-.8 1,-.7 .7,-.5 .8,-.6 1,-.7 .7,-.7 .8,-.6 1,-.6 1,-.7 1,-.4 1,-.4 1.2,-.3M438.9,75l1.3,-.2 1.5,0 1.5,.1 1.5,0 1.5,0 1.5,0 1,.2 1.5,.1 1,.3 1.4,.5 1.1,.5 .8,.5 .7,.5 1,.8 .6,.7 .5,1 -.1,1.1 -.5,1.4 -.7,.5 -.8,.6 -1,.8 -.7,.6 -.8,1 -.5,.6 -.6,.9 .1,1 .5,1.4 .3,1.1 .2,1.4 .1,1.1 -.1,1.4 -.3,1.1 -.3,1 0,1.5 .2,1 .3,1.5 .1,1 .1,1.5 -.1,1.5 -.1,1 -.3,1.5 -.3,1 -.2,1.5 .2,1.5 .2,1 .2,1.5 -.2,1 -.5,1.1 -.5,1.3 -.1,1.1 .1,1 .4,1.5 .2,1 .1,1.5 .3,1.2 .5,.9 .9,.9 .6,.5 .8,1 .7,.7 .7,.8 .6,1 .5,1 .3,1 -.2,1 -.1,1.5 -.2,1.5 -.1,1.1 -.4,1.4 -.6,1 -.5,.5 -.9,1 -.6,1 0,.5 0,1.5 -.4,1 -.6,1 -.5,.5 -1,.8 -1,.5 -1,.4 -1.5,.3 -1,0 -1,0 -1.5,-.3 -1,-.4 -1,-.6 -.5,-.7 -1,-.7 -1,-.6 -1,-.5 -.8,-.7 0,-1.5 -.6,-1 -.6,-1 -.4,-1 -.4,-1 -.5,-1 -.4,-1 -.3,-1.5 -.2,-1 -.3,-1 .1,-1 .1,-1.5 .3,-1.2 .5,-.9 .9,-.9 .6,-.5 1,-.6 .9,-.9 .6,-.6 .3,-1.4 -.3,-1.2 -.5,-1.3 -.4,-1 -.5,-1 -.4,-1 -.2,-1.2 0,-1.1 .1,-1.2 .4,-1.5 .5,-1 .3,-1 -.4,-1 -.6,-1 -.4,-1 .1,-1.5 .1,-1 .1,-1.5 0,-1.5 0,-1.5 .1,-1.5 .1,-1.5 -.3,-1.5 -.3,-1 -.1,-1.5 .2,-1.5 .4,-1 .7,-1 .5,-.6 .4,-1.4 -.6,-1 -.8,-.6 -1.1,-.4 -1.2,-.5 -.9,-.5 -.8,-.8 -.4,-1.2 -.4,-1 -.7,-.6 -1,-.9 -.5,-.8 -.2,-1.2 .3,-1 .9,-.9 .8,-.6 1,-.5 1.2,-.4 1,-.4 1,-.3 1.5,-.3 .2,-.1M481.2,119.5l1,-.2 1.5,0 1.2,.2 1.2,.5 .8,.5 .8,.7 .8,.8 .7,1 .5,1 .5,1 .3,1 .1,1.5 -.3,1.5 -.2,1 -.5,1 -.5,1 -.6,1 -.7,1 -.6,.9 -.5,.6 -.9,1 -.6,.5 -1,.8 -.8,.7 -.7,.7 -.8,.8 -.7,.6 -1,.8 -.9,.6 -.6,.5 -1,.8 -1,.6 -1,.4 -.9,.7 -.4,1 -.7,.8 -.5,.7 -1,.7 -1,.4 -1.5,.2 -1.5,-.2 -1,-.3 -1,-.8 -.5,-1 -.5,-1 0,-1 0,-1.1 .9,-.9 -.8,-1 -.5,-1 -.4,-1 -.2,-1 0,-1.5 .3,-1 .3,-1 .3,-1.5 .4,-1 .5,-1 .7,-.9 .5,-.7 .7,-.9 .8,-1 .6,-.5 .9,-.9 .8,-.6 .7,-.5 1,-.7 1,-.7 .8,-.6 .7,-.6 1,-.8 .8,-.6 .7,-.5 1,-.6 1,-.4 1.5,-.5" fill="none" stroke="#111" stroke-width="0.6" stroke-opacity="0.55"/>
<path d="M438.3,75.5l1.4,-.4 1.5,0 1.5,.1 1.5,0 1.5,0 1.5,-.1 1.5,.3 1.2,.1 1.3,.3 1,.3 1,.4 1,.6 1,.8 .8,.6 .7,1 .3,1 -.3,1 -1,.9 -.9,.6 -.8,.5 -1,.5 -.8,.7 -.7,.8 -.7,1 -.6,.7 -.3,1.3 .6,1 .6,1 .3,1 .2,1.5 -.2,1.5 -.4,1 -.5,1 -.2,1.5 .4,1.4 .3,1.1 .2,1.5 -.2,1.5 -.3,1 -.4,1.5 -.1,1 0,1.5 0,1 .2,1.5 .2,1.5 0,1.5 -.3,1.5 -.3,1 -.2,1.5 .2,1.5 .3,1 .2,1.5 0,1.5 .3,1 .9,1 .5,.6 .5,.9 .6,1 .8,1 .6,.6 .8,.9 .7,1 .4,1 .3,1 0,1.5 -.2,1 -.2,1.5 -.4,1 -.5,1 -.9,1 -.5,.6 -.7,.9 -.2,1.5 -.6,1 -.5,.7 -.7,.8 -.8,1 -.5,.6 -1,.6 -1.5,.2 -1.5,-.1 -1.1,-.3 -.3,-1.5 -.6,-.9 -1,-.3 -1.1,-.3 -1.4,-.4 -1,-.6 -.3,-1 -.7,-1 -.5,-.7 -.5,-1 -.5,-1.1 -.5,-1.1 -.5,-.9 -.4,-1.2 .1,-1.5 .1,-1.5 .1,-1.5 .2,-1 .7,-1 .7,-.6 1,-.7 .9,-.7 .6,-.8 .4,-1.2 .6,-.9 0,-.8 -.4,-1.3 -.4,-1 -.3,-1 -.4,-1.1 -.3,-1.4 -.2,-1.4 -.1,-1.1 .2,-1 .5,-1 .6,-1 .5,-1 -.1,-1.5 -.6,-.8 -.6,-.7 -.4,-1.5 0,-1.2 -.1,-1.3 -.1,-1.5 0,-1.5 .2,-1.5 .2,-1 0,-1.5 -.2,-1.5 .2,-1.5 .4,-1 .5,-1 .7,-1 .6,-1 .2,-1 -.3,-1 -.8,-.7 -1,-.5 -1,-.6 -1,-.4 -1,-.4 -1,-.6 -.9,-.8 -.6,-1 -.5,-.7 -1,-.8 -.6,-.5 -.7,-1 0,-1.5 .7,-1 .7,-.5 .9,-.6 1.1,-.4 1.4,-.5 1,-.3 1.1,-.2M481,120l1.2,-.3 1.5,0 1.4,.3 1,.5 .8,.5 .8,.8 .6,.7 .7,1 .4,1 .4,1 .3,1.5 -.2,1.5 -.2,1 -.5,1.3 -.5,1 -.5,.9 -.5,.8 -.7,1 -.8,1 -.5,.5 -1,.8 -.9,.7 -.6,.5 -1,1 -.5,.5 -1,1 -.7,.5 -.8,.6 -1,.8 -.9,.6 -.9,.5 -1.2,.5 -.9,.5 -.8,.5 -1.3,.3 -1.3,.2 -.3,1 .1,.8 -.5,.7 -1.3,0 -.9,-.5 .6,-1 .7,-.5 .4,-.6 -.7,-.9 -.8,-.5 -.9,-1 -.6,-.8 -.7,-.7 -.6,-1 -.5,-1 -.2,-1 0,-1.5 .3,-1 .3,-1 .4,-1.5 .3,-1 .7,-1 .5,-.7 .6,-.8 .8,-1 .6,-.7 .8,-.8 .7,-.6 1,-.8 .9,-.6 .7,-.5 .9,-.6 1,-.8 .7,-.6 .8,-.7 1,-.7 .9,-.6 1.1,-.5 1,-.4 .3,-.1M439.4,75.5l1.3,-.1 1.5,0 1.5,.1 1,0 1,0 1.5,-.1 1,.2 1.5,.1 1.2,.3 1.3,.4 1,.4 1,.6 .7,.6 .8,.6 .7,.9 .2,1.5 -.9,.9 -.9,.6 -.7,.5 -1.1,.5 -1,.5 -1,.5 -1.2,.5 -.6,.5 -.8,1 -.5,1 .2,1.5 .6,.8 .6,.7 .7,1 .2,1 0,1 -.5,1.5 -.5,1 -.3,1 0,1.5 .3,1.5 .1,1 -.1,1 -.2,1.5 -.3,1.5 -.1,1 0,1.5 .1,1.1 .2,1.4 .1,1.5 0,1.5 -.1,1.5 -.2,1.5 -.1,1 0,1.5 .2,1 .3,1.5 -.1,1.5 .2,1.5 .5,.6 .8,.9 .6,1 .6,1 .5,1 .5,.8 .5,.7 .9,1 .6,.7 .5,.8 .5,1 .5,1.4 .1,1.1 -.3,1 -.4,1 -.5,1 -.9,1 -.5,.5 -.9,1 -.5,1 -.5,1 -.7,.5 -.9,.5 -1.5,.5 -.5,0 -1.5,-.4 -1,-.2 -1.5,-.1 -1.5,-.2 -1,-.1 -1.1,-.5 -.5,-1 -.9,-1 -.5,-.8 -.5,-1 -.5,-.9 -.5,-.9 -.5,-1.3 0,-.9 .2,-1.2 .3,-1.5 .4,-1 .6,-.9 .7,-.6 .8,-.5 1,-.9 .8,-.6 .7,-.9 .2,-1.1 -.2,-1.5 .6,-1 -.2,-1 -.4,-1 -.5,-1.1 -.5,-1.3 -.3,-1.1 -.2,-1.4 -.1,-1.1 .1,-1.1 .5,-1.1 .5,-.8 .6,-1 .5,-1 .2,-1.5 -.3,-1 -.7,-1 -.8,-.9 -.5,-.9 -.4,-1.2 -.3,-1 0,-1.5 .2,-1.2 .4,-1.3 .2,-1 0,-1.5 .2,-1.5 .3,-1 .4,-1.1 .5,-1.1 .5,-1 .5,-.9 .2,-1.4 -.5,-1 -.8,-.5 -1,-.5 -.9,-.7 -.8,-.8 -.7,-.5 -1.5,-.3 -1,-.4 -1,-.5 -.9,-.8 -.6,-.6 -1,-.7 -.7,-.7 -.4,-1 .2,-1 .8,-1 .7,-.5 .9,-.5 1.5,-.5 1,-.3 1,-.3 1.5,-.4 .2,0M481,120.5l1.2,-.3 1.5,-.1 1.5,.4 .9,.5 .7,.5 .9,1 .5,.6 .5,.9 .5,1.2 .3,1.3 0,1.5 -.3,1.5 -.4,1 -.5,1 -.5,1 -.6,1 -.5,.7 -.6,.8 -.9,.8 -.8,.7 -.7,.5 -1,.8 -.7,.7 -.8,.9 -.6,.6 -.9,.7 -1,.8 -.7,.5 -.8,.5 -1,.6 -1.3,.4 -1.2,.5 -1,.4 -1.5,.1 -1.3,-.5 -.8,-.5 -.9,-.8 -.9,-.7 -.6,-.5 -.8,-1 -.5,-1 -.2,-1 0,-1.5 .3,-1 .3,-1 .4,-1.5 .5,-1 .5,-.8 .5,-.7 .8,-1 .7,-.9 .5,-.6 1,-.9 .7,-.6 .8,-.6 1,-.7 1,-.7 .7,-.5 .8,-.6 1,-.9 .7,-.5 .8,-.6 1,-.7 1,-.4 .8,-.3M438.6,76l1.1,-.3 1.5,0 1.5,0 1.5,0 1.5,0 1.5,0 1.5,.2 1,.1 1.5,.4 1,.3 1,.4 1,.7 .9,.7 .6,.5 .6,1 -.2,1 -.9,.8 -1,.7 -1,.5 -1,.4 -1,.5 -1,.4 -1,.3 -1.5,.3 -1,.2 -1.1,.4 -.1,1.5 -.8,.8 -1,-.6 -1,-.6 -.7,-.6 -.8,-.6 -1,-.4 -1,-.5 -1.5,-.3 -1,-.3 -1,-.4 -1,-.6 -1,-.9 -.8,-.5 -.7,-.8 -.3,-1.2 .6,-1 .7,-.6 1,-.6 1,-.4 1.4,-.4 1.1,-.3 .9,-.2M445.4,89l.9,0 .8,1 .6,.9 .5,.8 .4,1.3 -.2,1.5 -.3,1 -.4,1.3 -.2,1.2 0,1.5 .2,1.5 0,1.5 -.1,1.5 -.2,1.5 -.2,1.5 .1,1.5 .1,1.5 .1,1.5 -.1,1.5 0,1.5 -.1,1.5 0,1.5 .1,1.5 .1,1.5 -.3,1.5 -.1,1 .2,1 .9,.8 .5,.7 .7,1 .8,1 .5,.8 .5,.8 .7,.9 .8,1 .5,.6 .7,.9 .8,1 .5,1 .3,1 0,1.5 -.5,1 -.8,1 -.5,.5 -1,1 -.5,.5 -.9,1 -.6,.8 -1,.5 -1,.2 -1.5,0 -1,-.1 -1.5,0 -1.5,-.1 -1.5,-.3 -.5,-.5 -.9,-1 -.6,-.6 -.6,-.9 -.6,-1 -.5,-1 -.3,-1.3 0,-.9 .3,-1.3 .4,-1 .5,-1 .8,-.7 1,-.8 .6,-.5 .9,-.7 1,-.5 1,-.7 .5,-.7 0,-1 -.3,-1.4 .3,-1.3 0,-1.2 -.2,-1 -.4,-1 -.4,-1 -.7,-1 -.4,-1 -.4,-1.2 -.1,-1.3 .3,-1 .6,-1 .7,-1 .5,-.9 .3,-1.1 .1,-1.5 -.4,-1.4 -.5,-.8 -.7,-.8 -.8,-.8 -.5,-.7 -.5,-1.4 0,-.8 .3,-1.3 .5,-1 .3,-1 .1,-1.5 .1,-1.5 .2,-1.4 .3,-1.1 .4,-1 .5,-1 .7,-1 .5,-1 .3,-.5M480.9,121l1.3,-.4 1.5,0 1.5,.4 .9,.5 .6,.5 .9,1 .6,1 .4,1 .4,1 0,1.5 -.2,1.5 -.3,1 -.4,1 -.5,1 -.6,1 -.7,1 -.6,.8 -.8,.7 -.7,.6 -1,.7 -.9,.7 -.6,.7 -.7,.8 -.8,.8 -.9,.7 -.7,.5 -.9,.7 -1,.6 -1,.4 -1,.3 -1.5,.5 -1,.2 -1.5,-.2 -.8,-.5 -.8,-.5 -.9,-.5 -1,-.8 -.7,-.7 -.5,-1 -.3,-1 0,-1.4 .3,-1.1 .3,-1 .4,-1.3 .5,-1.1 .5,-.7 .7,-.9 .7,-1 .6,-.7 .8,-.8 .7,-.7 1,-.8 .8,-.5 .7,-.5 1,-.7 1,-.7 .6,-.6 .9,-.8 1,-.7 .7,-.5 .9,-.5 1.1,-.5M439.9,76l1.3,-.1 1.3,.1 1.2,0 1.5,0 1,0 1,0 1.5,.2 1.5,.2 1,.3 1,.4 1,.4 1,.7 1,.8 .5,.5 0,1.4 -.7,.6 -.8,.6 -1,.5 -1,.4 -1.2,.5 -1.3,.4 -1,.3 -1.5,.2 -1,.1 -1.5,.4 -1,.1 -1,0 -1.5,-.3 -1,-.3 -1.2,-.4 -1.3,-.2 -1,-.3 -1.1,-.5 -.9,-.5 -1,-.8 -.9,-.7 -.6,-1 .5,-1.3 .9,-.7 .9,-.5 1.2,-.4 1,-.4 1,-.2 1.5,-.4 .7,-.1M445.2,92l1,-.3 .6,.8 .2,1.5 -.1,1.5 -.4,1 -.5,1 -.8,.9 -.5,-1 -.5,-1.4 -.1,-1 .1,-1 .5,-1.3 .5,-.7M445.2,99l.5,.1 .5,1.1 .3,1.3 .1,1.5 -.3,1.5 -.4,1 -.9,0 -.8,-.5 -1,-.9 -.4,-1.1 .4,-1.5 .5,-.7 .7,-.8 .8,-1M481,121.5l1.2,-.4 1.5,-.1 1.5,.5 .8,.5 .7,.7 .7,.8 .5,1 .4,1 .2,1.5 -.1,1.5 -.2,1 -.5,1.2 -.5,1.1 -.5,.9 -.5,.8 -.9,1 -.6,.6 -1,.7 -1,.7 -.6,.5 -.9,1 -.5,.6 -.8,.9 -.7,.5 -1,.8 -1,.7 -1,.5 -1,.3 -1,.3 -1.5,.3 -1.5,0 -1,-.4 -1,-.5 -1,-.7 -1,-.8 -.5,-.7 -.5,-1.3 -.1,-1 .3,-1 .3,-1 .4,-1.5 .5,-1 .6,-.9 .5,-.7 .7,-.9 .8,-1 .5,-.5 1,-.9 .7,-.6 .8,-.5 1,-.8 1,-.7 .7,-.5 .8,-.7 1,-.8 .7,-.5 .8,-.6 1,-.6 .8,-.3M447.3,129l1.4,-.2 1,.6 .7,.6 .8,.9 .6,.6 .9,1 .5,.6 .7,.9 .5,1 .3,1.2 0,.8 -.5,1.1 -.8,.9 -.7,.6 -1,.9 -.6,.5 -.9,.6 -1,.6 -1,.3 -1.5,.1 -1.5,0 -1.5,0 -1,-.2 -1,-.7 -.8,-.7 -.7,-.6 -.7,-.9 -.4,-1 -.4,-1.5 0,-1 .2,-1 .5,-1 .7,-1 .6,-.5 1,-.9 .9,-.6 1,-.5 1.1,-.4 1,-.2 1,-.5 .6,-.4M438.9,76.5l1.3,-.3 1.5,0 1.5,.1 1.5,0 1.5,0 1.5,.1 1,.1 1.5,.3 1,.3 1.1,.4 1.1,.5 .8,.6 1,.9 .3,1 -.8,.8 -1,.7 -1,.5 -1,.4 -1,.3 -1.1,.3 -1.4,.4 -1.5,.1 -1,.1 -1.5,.2 -1.5,.1 -1.5,-.1 -1,-.3 -1.5,-.5 -1,-.1 -1.2,-.4 -1.1,-.5 -.7,-.5 -1,-.7 -.9,-.8 -.2,-1 .6,-.8 .9,-.7 1.1,-.5 1,-.3 1,-.3 1.5,-.3 .2,-.1M483.1,121.5l.6,0 1.4,.5 .7,.5 .9,.9 .5,.8 .5,1.1 .3,1.2 -.1,1.5 -.2,1.3 -.4,1.2 -.4,1 -.6,1 -.6,.9 -.5,.6 -1,.9 -.9,.6 -.7,.5 -.9,.7 -.7,.8 -.8,1 -.5,.5 -1,.9 -.9,.6 -.8,.5 -.9,.5 -1.4,.4 -1,.3 -1.5,.2 -1.5,-.3 -1,-.5 -1,-.5 -.8,-.6 -.7,-.8 -.5,-1.2 -.1,-1 .3,-1 .3,-1.1 .4,-1.4 .6,-1 .5,-.7 .6,-.8 .7,-1 .7,-.8 .7,-.7 .8,-.7 1,-.7 .8,-.6 .7,-.5 1,-.7 1,-.8 .5,-.5 1,-.7 1,-.8 .8,-.5 1.1,-.5 1.1,-.4 .9,-.1M446,131l1.2,-.3 1.5,0 1,.4 1,.7 .7,.7 .8,.8 .6,.7 .7,1 .3,1 -.1,1.1 -.5,1 -.7,.9 -.8,.8 -1,.7 -1,.5 -1,.4 -1,.2 -1.5,.1 -1.5,0 -1.5,-.2 -1,-.4 -.8,-.6 -.7,-.6 -.6,-.9 -.4,-1.4 -.1,-1.1 .2,-1 .4,-1 .8,-1 .7,-.6 1,-.8 1,-.5 1,-.4 1.3,-.2M438.1,77l1.1,-.3 1.5,-.2 1.5,0 1.5,.1 1.5,0 1.5,0 1.5,.2 1.4,.2 1.1,.3 1,.3 1,.4 1,.6 1,.8 .3,1.1 -.8,.8 -1,.6 -1,.4 -1,.4 -1.1,.3 -1.4,.4 -1,.1 -1.5,.1 -1.5,.2 -1.5,.1 -1.5,0 -1.5,-.3 -1,-.3 -1.4,-.3 -1.1,-.3 -1,-.4 -1,-.6 -1,-.7 -.5,-.5 0,-1.4 .7,-.6 .9,-.5 1.4,-.5 1,-.3 .9,-.2M483.2,122l.5,0 1.3,.5 .7,.6 .8,.9 .6,1 .3,1 .1,1.5 -.2,1.5 -.3,1 -.4,1 -.5,1 -.7,1 -.7,.8 -.8,.7 -.8,.5 -.9,.6 -1,.9 -.5,.5 -.7,1 -.8,.9 -.8,.6 -.7,.5 -1,.7 -1,.4 -1.5,.4 -1,.2 -1.5,.1 -1,-.3 -1.1,-.5 -.9,-.5 -1,-1 -.4,-1 -.2,-1 .3,-1 .3,-1.1 .5,-1.4 .5,-.9 .5,-.7 .7,-.9 .7,-1 .6,-.7 .9,-.8 .6,-.5 1,-.7 1,-.7 .8,-.6 .7,-.5 1,-.9 .8,-.6 .7,-.5 1,-.7 1,-.6 1,-.4 1.5,-.3M445.4,132l1.3,-.2 1.5,0 1,.2 1,.6 1,.8 .6,.6 .8,1 .4,1 -.3,1.5 -.5,.8 -.6,.7 -.9,.8 -1,.5 -1,.3 -1.5,.3 -1.5,.1 -1,0 -1,-.1 -1,-.4 -1,-.7 -.7,-.8 -.4,-1 -.2,-1.5 .3,-1 .6,-1 .9,-.9 .7,-.6 .9,-.5 1.4,-.5 .2,0M439.3,77l1.4,-.2 1.5,0 1.5,.1 1.5,0 1.5,0 1,.1 1.5,.2 1.1,.3 1.4,.5 1,.4 1,.6 .5,.5 0,1.3 -.9,.7 -1.1,.5 -1,.3 -1,.3 -1.5,.4 -1,.2 -1.5,0 -1.5,.2 -1.5,.1 -1,0 -1,-.1 -1.5,-.4 -1,-.2 -1.4,-.3 -1.1,-.4 -1,-.5 -.9,-.6 -.7,-.5 .1,-1.5 .7,-.5 1.3,-.5 1,-.3 1,-.3 1.5,-.4 .1,0M481.5,123l1.2,-.4 1.5,.1 1,.6 .6,.7 .7,1 .4,1 0,1.5 -.2,1.5 -.3,1 -.4,1 -.5,1 -.7,1 -.6,.6 -1,.8 -1,.6 -.7,.5 -.8,.8 -.6,.7 -.7,1 -.7,.7 -1,.8 -.9,.5 -.9,.5 -1.2,.4 -1,.2 -1.5,.2 -1.4,-.3 -1.1,-.5 -.8,-.5 -.7,-.7 -.5,-1.2 0,-.9 .3,-1.2 .3,-1 .4,-1 .7,-1 .7,-1 .6,-.8 .5,-.7 1,-.9 .7,-.6 .8,-.6 1,-.8 .8,-.6 .8,-.5 .9,-.8 .9,-.7 .8,-.5 .8,-.6 1,-.5 .8,-.4M444.6,133l1.1,-.3 1.5,-.1 1.5,.2 1,.4 1,.8 .5,.5 .8,1 .1,1.5 -.5,1 -.9,1 -.7,.5 -1.3,.5 -1,.2 -1.5,.1 -1.5,0 -1.4,-.3 -.8,-.5 -.8,-.9 -.4,-1.1 -.1,-.9 .4,-1.1 .6,-.8 .7,-.7 .8,-.6 .9,-.4M438.6,77.5l1.1,-.3 1.5,-.1 1.5,0 1.5,.1 1.5,0 1.5,0 1.2,.3 1.3,.2 1.1,.3 1.4,.5 .9,.5 .6,.5 0,1.3 -1,.6 -1,.4 -1,.4 -1.5,.3 -1,.3 -1.5,.1 -1.5,0 -1,.1 -1.5,.2 -1.5,-.1 -1,-.3 -1.4,-.3 -1.1,-.2 -1,-.3 -1,-.5 -1,-.6 -1,-.9 .5,-1 1,-.5 1.4,-.5 1.1,-.3 .9,-.2M481.8,123.5l1.4,-.4 1.2,.4 .8,.6 .7,.9 .4,1 .1,1.5 -.2,1.3 -.3,1.2 -.4,1 -.6,1 -.7,.9 -.7,.6 -.8,.5 -1,.7 -1,.8 -.5,.6 -.6,.9 -.8,1 -.6,.5 -1,.7 -1,.6 -1,.4 -1.3,.3 -1.2,.2 -1.5,-.1 -1,-.4 -1,-.6 -.6,-.6 -.4,-1 0,-1 .4,-1.5 .4,-1 .6,-1 .6,-.9 .5,-.6 .7,-1 .8,-.8 .8,-.7 .7,-.5 1,-.8 .9,-.7 .7,-.5 .9,-.7 1,-.8 .9,-.5 .7,-.5 .9,-.5 1.1,-.5M447.1,133.5l.7,0 1.4,.4 1,.6 .5,.5 .7,1 -.2,1.4 -.5,.7 -1,.9 -1,.4 -1,.2 -1.5,0 -1.5,-.1 -1,-.3 -.7,-.7 -.4,-1 .1,-1.4 .5,-.8 .9,-.8 .9,-.5 1.2,-.4 .9,-.1M439.8,77.5l1.4,-.1 1.5,0 1.3,.1 1.2,0 1.5,0 1.5,.3 1.4,.2 1.1,.3 1,.3 1,.5 .8,.9 -.7,1 -1.1,.5 -1,.3 -1,.3 -1.5,.3 -1,.1 -1.5,.1 -1.5,.1 -1.5,.1 -1.5,0 -1,-.3 -1.5,-.3 -1,-.3 -1.3,-.4 -1,-.5 -.7,-.5 0,-1.4 1,-.5 1,-.3 1,-.3 1.5,-.4 .6,-.1M482.1,124l1.1,-.3 1,.4 1,.9 .5,.9 .2,1.1 -.2,1.4 -.3,1.1 -.3,1 -.6,1 -.7,1 -.6,.5 -1,.7 -1,.7 -.7,.6 -.8,.9 -.5,.8 -.6,.8 -.9,.8 -1,.7 -1,.5 -1,.3 -1,.2 -1.5,.3 -1.4,-.3 -.9,-.5 -.7,-.6 -.5,-1 0,-.9 .4,-1.5 .4,-1 .7,-1 .5,-.8 .5,-.7 .8,-1 .7,-.6 1,-.9 .7,-.5 .8,-.6 1,-.8 .8,-.6 .7,-.5 1,-.7 1,-.6 1,-.6 1,-.4 .4,-.2M446,135l1.2,-.2 1.4,.2 1.1,.4 .6,.6 -.1,1.4 -.7,.6 -1.3,.4 -1.5,0 -1.5,-.3 -.9,-.6 -.4,-1 .8,-1 1,-.4 .3,-.1M439,78l1.2,-.2 1.5,-.1 1.5,.1 1.5,.1 1.5,0 1.4,.1 1.1,.3 1.5,.2 1,.3 1,.5 .7,.7 -.7,.8 -1,.4 -1,.4 -1.5,.3 -1,.2 -1.5,0 -1.5,.1 -1.5,.2 -1.5,0 -1.5,-.2 -1,-.3 -1.5,-.3 -1,-.3 -1,-.5 -.9,-.8 .8,-1 1.1,-.4 1,-.3 1.3,-.3M482.5,124.5l1,0 .8,.5 .8,1 .2,1 -.1,1 -.4,1.5 -.4,1 -.6,1 -.6,.7 -.9,.8 -.7,.5 -.9,.7 -.8,.8 -.7,.8 -.5,.8 -.8,.9 -.7,.6 -1,.6 -1,.5 -1.4,.3 -1.1,.3 -1.5,-.1 -1,-.6 -.7,-.6 -.4,-1 .2,-1 .4,-1.3 .5,-1 .5,-.7 .7,-1 .8,-1 .5,-.5 1,-.9 .8,-.6 .7,-.6 1,-.7 .9,-.7 .7,-.5 .9,-.6 1,-.5 1,-.5 1,-.5 .8,-.4M439.7,78.5l1.5,-.3 1.5,.2 1,.2 1.5,.3 1.5,0 1,.1 1.5,.2 1,.3 .5,.7 -1,.5 -1.3,.3 -1.2,.1 -1.5,0 -1.5,.4 -1,.3 -1.3,.2 -.7,-.1 -1.3,-.4 -1.2,-.4 -1,-.2 -1,-.4 -.5,-.5 1,-.7 1,-.3 1.5,-.5M481.5,127l1.2,-.1 .6,.6 .4,1 .2,1.5 -.5,1 -.7,.9 -.9,.6 -1,.5 -.7,.5 -.9,1 -.4,1 -.6,.9 -.5,.6 -1,.8 -1,.6 -1,.4 -1,.2 -1.5,.2 -1.3,-.2 -.7,-.5 -.5,-1 .1,-1 .4,-1.3 .5,-.9 .6,-.8 .7,-1 .7,-.8 .8,-.7 .7,-.6 1,-.6 1,-.6 1,-.6 1,-.6 1,-.5 1,-.3 1.3,-.2M440,79.5l1.2,-.4 1.5,.2 1,.5 -.2,.7 -1.3,.5 -1.5,-.2 -1,-.8 .3,-.5M479.2,129l1,-.3 .9,.8 -.4,1.1 -.8,.9 -.7,.8 -.6,.7 -.5,1 -.5,1 -.4,1 -1,1 -1,.3 -1,.3 -1.5,.4 -1,0 -1,-.5 -.1,-1 .4,-1 .7,-.8 .6,-.7 .8,-1 .6,-.7 1,-.7 .9,-.6 .9,-.5 .8,-.5 .9,-.5 1,-.5M476.3,132.5l.6,.5 -.4,1 -.8,.9 -1,.5 -.7,.1 .2,-1.2 .5,-.8 1,-.7 .6,-.3" fill="none" stroke="#111" stroke-width="0.7" stroke-opacity="0.9"/>
</g>
<rect x="416.2" y="65.5" width="95.60000000000002" height="88.69999999999999" fill="none" stroke="#333" stroke-width="0.8"/>
<line x1="461.20" y1="65.50" x2="461.20" y2="154.20" stroke="#222" stroke-width="0.8" />
<line x1="416.20" y1="115.80" x2="511.80" y2="115.80" stroke="#222" stroke-width="0.8" />
<circle cx="461.2" cy="115.8" r="1.3" fill="#111"/>
<circle cx="461.2" cy="65.5" r="0.9" fill="#111"/>
<circle cx="511.8" cy="115.8" r="0.9" fill="#111"/>
<path d="M416.2,154.2v2.6 M416.2,154.2h-2.6 M423.4,154.2v1.4 M416.2,147.5h-1.4 M427.6,154.2v1.4 M416.2,143.6h-1.4 M430.6,154.2v1.4 M416.2,140.8h-1.4 M432.9,154.2v1.4 M416.2,138.7h-1.4 M434.8,154.2v1.4 M416.2,136.9h-1.4 M436.4,154.2v1.4 M416.2,135.5h-1.4 M437.8,154.2v1.4 M416.2,134.2h-1.4 M439.0,154.2v1.4 M416.2,133.0h-1.4 M440.1,154.2v2.6 M416.2,132.0h-2.6 M447.3,154.2v1.4 M416.2,125.3h-1.4 M451.5,154.2v1.4 M416.2,121.4h-1.4 M454.5,154.2v1.4 M416.2,118.7h-1.4 M456.8,154.2v1.4 M416.2,116.5h-1.4 M458.7,154.2v1.4 M416.2,114.8h-1.4 M460.3,154.2v1.4 M416.2,113.3h-1.4 M461.7,154.2v1.4 M416.2,112.0h-1.4 M462.9,154.2v1.4 M416.2,110.9h-1.4 M464.0,154.2v2.6 M416.2,109.8h-2.6 M471.2,154.2v1.4 M416.2,103.2h-1.4 M475.4,154.2v1.4 M416.2,99.3h-1.4 M478.4,154.2v1.4 M416.2,96.5h-1.4 M480.7,154.2v1.4 M416.2,94.4h-1.4 M482.6,154.2v1.4 M416.2,92.6h-1.4 M484.2,154.2v1.4 M416.2,91.1h-1.4 M485.6,154.2v1.4 M416.2,89.8h-1.4 M486.8,154.2v1.4 M416.2,88.7h-1.4 M487.9,154.2v2.6 M416.2,87.7h-2.6 M495.1,154.2v1.4 M416.2,81.0h-1.4 M499.3,154.2v1.4 M416.2,77.1h-1.4 M502.3,154.2v1.4 M416.2,74.3h-1.4 M504.6,154.2v1.4 M416.2,72.2h-1.4 M506.5,154.2v1.4 M416.2,70.4h-1.4 M508.1,154.2v1.4 M416.2,68.9h-1.4 M509.5,154.2v1.4 M416.2,67.6h-1.4 M510.7,154.2v1.4 M416.2,66.5h-1.4 M511.8,154.2v2.6 M416.2,65.5h-2.6" stroke="#222" stroke-width="0.5" fill="none"/>
<text x="415.0" y="162.9" font-size="4.2" font-weight="normal" fill="#333">10<tspan dy="-2.3" font-size="3.2">0</tspan></text>
<text x="411.8" y="156.8" font-size="4.2" font-weight="normal" text-anchor="end" fill="#333">10<tspan dy="-2.3" font-size="3.2">0</tspan></text>
<text x="438.9" y="162.9" font-size="4.2" font-weight="normal" fill="#333">10<tspan dy="-2.3" font-size="3.2">1</tspan></text>
<text x="411.8" y="134.6" font-size="4.2" font-weight="normal" text-anchor="end" fill="#333">10<tspan dy="-2.3" font-size="3.2">1</tspan></text>
<text x="462.8" y="162.9" font-size="4.2" font-weight="normal" fill="#333">10<tspan dy="-2.3" font-size="3.2">2</tspan></text>
<text x="411.8" y="112.4" font-size="4.2" font-weight="normal" text-anchor="end" fill="#333">10<tspan dy="-2.3" font-size="3.2">2</tspan></text>
<text x="486.7" y="162.9" font-size="4.2" font-weight="normal" fill="#333">10<tspan dy="-2.3" font-size="3.2">3</tspan></text>
<text x="411.8" y="90.3" font-size="4.2" font-weight="normal" text-anchor="end" fill="#333">10<tspan dy="-2.3" font-size="3.2">3</tspan></text>
<text x="510.6" y="162.9" font-size="4.2" font-weight="normal" fill="#333">10<tspan dy="-2.3" font-size="3.2">4</tspan></text>
<text x="411.8" y="68.1" font-size="4.2" font-weight="normal" text-anchor="end" fill="#333">10<tspan dy="-2.3" font-size="3.2">4</tspan></text>
<text x="417.5" y="70.1" font-size="4.7" font-weight="normal" fill="#222">19.50</text>
<text x="511.0" y="70.1" text-anchor="end" font-size="4.7" font-weight="normal" fill="#222">0.47</text>
<text x="417.4" y="153.39999999999998" font-size="4.7" font-weight="normal" fill="#222">12.07</text>
<text x="511.0" y="153.39999999999998" text-anchor="end" font-size="4.7" font-weight="normal" fill="#222">67.96</text>
<text x="509.70" y="126.40" font-size="10.2" font-weight="bold" text-anchor="end" fill="#000" stroke="#000" stroke-width="0.25" textLength="11.7" lengthAdjust="spacingAndGlyphs">68</text>
<clipPath id="c7"><rect x="302.5" y="171.2" width="95.5" height="89.60000000000002"/></clipPath>
<g clip-path="url(#c7)" filter="url(#bl)">
<path d="M322.2,180.2l1.8,-.1 1.5,.1 2,.3 1.5,.4 1.5,.7 1,.8 1,1.1 .6,1.2 .2,2 -.3,2 -.5,1.5 -.5,1 -1,1.4 -.9,1.1 -.5,1.5 -.3,1.5 -.4,1.5 -.1,2 .1,2 .3,1.5 .7,1.5 .6,1 .6,1.5 -.3,1.5 -.7,1.5 -.4,1.5 .2,2 -.1,2 -.5,1.5 -.4,1.5 -.9,1.5 -1,.7 -1.5,.4 -1.5,.6 -1.5,-.6 -.5,-1.4 -.4,-1.7 -.5,-1.5 -.7,-1 -.9,-1.3 -.9,-1.2 -.6,-1 -.7,-1.5 -.3,-1.5 0,-1.5 .5,-1.7 .5,-1.5 .5,-1.6 .6,-1.2 .9,-1.4 .6,-1.1 .2,-2 -.3,-2 -.4,-1.5 -1.1,-1 -1,-.7 -1.2,-.8 -1.2,-1 -.6,-1 -.5,-1.8 .1,-1.2 .4,-1.9 .7,-1.1 1.2,-1 1.1,-.7 1.3,-.8 1.2,-.5 1.7,-.5zM359.9,231.2l1.6,-.3 2,-.1 2,.2 2,.2 1.5,.3 1.2,.7 1.3,1 1,1 .7,1 .7,1.5 .5,1.5 .4,1.5 -.1,2 -.2,1.5 -.5,1.8 -.3,1.7 -.2,2 -.1,1.5 -.4,1.8 -.5,1.3 -.8,1.4 -1,1 -1.2,.9 -1,.6 -1.5,.6 -1.5,.5 -2,.3 -1.5,.2 -1.5,-.2 -2,-.4 -1.5,-.2 -1.8,.2 -1.2,.6 -1.5,-.2 -1,-.9 -1,-1 -1.5,-.9 -1,-.8 -1.5,-.8 -1,-.7 -1,-1.3 -.2,-1.5 .7,-1.5 1,-.8 1,-1.1 .9,-1.1 1.1,-.6 1.4,-.9 .8,-1 .5,-1.5 .8,-1.3 .5,-1.7 .4,-1.5 .6,-1.5 .5,-1.3 .6,-1.2 .9,-1 1.5,-.9 1.5,-.4z" fill="#000" fill-opacity="0.15"/>
<path d="M323.7,181.7l1.3,.1 2,.4 1.4,.5 1.1,.7 1,1 .4,1.8 -.6,1.5 -.8,1.1 -1.2,.9 -1.2,1 -.6,1 -.4,2 -.5,1.5 -.6,1.4 -1.1,-.9 -.5,-1.5 -.4,-1.5 -.7,-1.5 -.8,-1 -1.4,-1 -1.1,-.7 -1.1,-.8 -.9,-1.5 .5,-1.5 1.5,-1 1,-.6 1.5,-.8 1.5,-.5zM324.5,201.7l.6,.5 .5,1.5 .4,1.8 .4,1.7 -.2,2 -.4,1.5 -.1,2 -.7,1.2 -1,-1.1 -.4,-1.6 -.2,-1.5 -.4,-1.5 0,-1.6 .5,-1.5 .5,-1.8 .5,-1.6zM361.1,233.2l1.9,0 1.5,.3 2,0 1.5,.2 1.5,.7 1,.8 1,1.5 .5,1.5 .2,1.5 -.2,2 -.1,1.5 -.4,1.8 -.1,1.7 0,2 -.4,2 -.5,1.4 -.7,1.1 -.9,1 -1.4,1 -1,.5 -2,.4 -2,0 -2,-.3 -1.5,-.1 -2,-.2 -1.5,-.5 -1.1,-.8 -1.2,-1 -.7,-1.1 -.3,-1.9 .3,-1.9 .5,-1.3 .6,-1.3 .6,-1.5 .3,-1.8 .4,-1.7 .6,-1.5 .5,-1.2 .5,-1.4 .7,-1.4 1,-1 1.3,-.6 1.6,-.4z" fill="#000" fill-opacity="0.3"/>
<path d="M323.8,184.2l1.7,0 1.3,.5 .2,1.3 -1.5,.5 -2,0 -1.2,-.8 .7,-1.1zM360.7,235.7l1.8,-.3 2,.3 2,-.1 1.5,.3 1,.8 .7,1.5 0,2 -.2,1.5 -.1,2 -.2,2 -.1,2 -.3,1.5 -.7,1.5 -.6,1 -1,1.2 -1.1,.8 -1.9,.2 -1.5,-.3 -2,-.3 -1.5,-.4 -1.5,-.7 -.9,-1 -.5,-1.5 .1,-2 .4,-1.5 .5,-1.5 .1,-2 .3,-1.7 .5,-1.3 .9,-1.5 .7,-1 .9,-1z" fill="#000" fill-opacity="0.4"/>
<path d="M362.1,236.7l1.4,.1 2,0 1.8,.4 .9,1 .1,2 -.1,2 -.1,2 -.2,1.5 -.2,2 -.5,1.5 -.7,1.4 -.8,1.1 -1.2,.8 -2,-.1 -1.5,-.4 -1.5,-.3 -1.3,-1 -.7,-1.5 -.1,-1.5 .2,-1.5 .4,-1.7 .1,-1.8 .4,-2 .5,-1.1 1,-1.4 .9,-1 1.2,-.5z" fill="#000" fill-opacity="0.3"/>
<path d="M362.2,238.2l1.8,-.3 2,-.1 1.2,.9 .1,2 -.1,2 -.2,2 -.1,1.5 -.3,2 -.6,1.4 -.9,1.1 -1.1,.5 -1.5,-.2 -1.5,-.4 -1.5,-.8 -.6,-1.1 -.1,-2 .5,-1.5 -.1,-2 .1,-2 .7,-1.2 1,-.9 1.2,-.9z" fill="#000" fill-opacity="0.3"/>
<path d="M320,177.7l1,-.1 1.5,-.4 1.5,.1 1.5,.2 1,.2 1.5,.2 1.5,.3 1,.4 1,.5 1,.6 .7,.5 .8,.8 .7,.7 .7,1 .4,1 .1,1.5 .1,1 .1,1.5 -.2,1 -.3,1.5 -.2,1 -.1,1.5 .2,1.5 .2,1 .1,1.5 .1,1.5 .1,1.5 0,1 0,1.5 .1,1.5 .2,1.5 .2,1.5 .1,1 .2,1.5 .2,1 .1,1.5 -.4,1 -.1,1.5 0,1.5 -.1,1.5 -.3,1 -.2,1.5 -.5,1 -.1,1 -.4,1.5 -.4,1 -.4,1 -.7,.9 -.6,.6 -.9,.8 -1,.7 -1,.3 -1,.4 -.9,.8 .9,.5 1,.6 1,.7 .8,.7 .7,.8 .5,.8 .6,.9 .4,1 .3,1.5 .1,1.5 .5,1 .2,1 .2,1.5 -.1,1.5 -.3,1 -.4,1.5 -1,.1 -1.1,.4 -.8,1 -.4,1 -.4,1 -.5,1 -.8,1 -.8,.5 -.7,.5 -1,1 -.5,.5 -1,.8 -1,.6 -1,.1 -1,-.1 -1,-.4 -1,-.6 -.9,-.9 -.6,-.6 -.9,-.9 -.6,-.9 -.5,-1.1 -.2,-1 -.2,-1.5 -.2,-1 -.4,-1.4 -.2,-1.1 .2,-1.4 .3,-1.1 .3,-1 .6,-1 .3,-1 .4,-1.5 .2,-1 .3,-1.5 .3,-1 .7,-1 .6,-.7 .9,-.8 .7,-.5 .9,-.6 .5,-.7 -1,-.4 -1,-.5 -1,-.6 -.8,-.7 -.7,-.8 -.6,-.7 -.5,-1 -.4,-1.4 -.4,-1.1 -.4,-1 -.4,-1 -.3,-1.5 -.3,-1 -.2,-1.4 -.5,-1 -.5,-.7 -.5,-1 -.2,-1.4 -.1,-1.5 -.1,-1.5 0,-1.5 .2,-1.5 -.1,-1.5 .3,-1 .5,-1.4 .3,-1.1 0,-1.5 0,-1.5 .1,-1.5 -.2,-1.5 -.4,-1 -.4,-1 0,-1.5 -.3,-1.5 -.6,-1 -.4,-1 -.2,-1 .1,-1.5 .1,-1 .2,-1.5 .6,-1 .6,-.7 .8,-.8 .7,-.6 1,-.7 1,-.6 1,-.5 1,-.3 1,-.3M365.5,227.2l1.5,-.3 1.5,.1 1.2,.2 1.3,.4 1,.5 .9,.6 .7,.5 .9,.8 .7,.7 .8,.9 .5,.8 .6,.8 .5,1 .4,1.1 .2,1.4 .4,1 0,1.5 0,1.5 0,1.5 0,1.5 0,1.5 -.3,1 -.2,1.5 -.3,1 -.2,1.5 -.2,1 -.4,1.2 -.4,1.3 -.5,1 -.5,1 -.5,1 -.6,.7 -.6,.8 -.8,1 -.6,.6 -1,.4 -1,.7 -1,.4 -1.1,.4 -1.4,.3 -1.5,.1 -1.5,0 -1,.2 -1.2,.4 -1.3,.1 -1,-.2 -1.5,-.2 -1,-.3 -1.4,-.4 -1.1,-.4 -1,-.4 -1,-.3 -1.4,.1 -1.1,.3 -1.5,0 -1.5,0 -1.4,-.3 -1.1,-.5 -.5,-.5 -1,-.8 -.7,-.7 -.8,-.7 -.9,-.8 -.6,-.6 -.6,-.9 -.4,-1.2 -.3,-1.3 -.1,-1.5 -.1,-1 -.1,-1.5 .2,-1 .4,-1.1 .9,-.9 1,-.5 .8,-.5 .8,-.8 .7,-.7 .8,-.6 1,-.5 1.2,-.4 .8,-.6 1,-.8 .5,-.8 .4,-1.3 .1,-1.5 .4,-1 .5,-1 .4,-1 .6,-1 .6,-.9 .7,-.6 .8,-.6 1,-.8 .8,-.6 .8,-.5 1.3,-.5 1.1,0 1.5,-.1 1.5,-.3 1.4,-.1 1.1,-.2 1.5,-.2 .5,-.1M320.9,178.2l1.1,-.3 1.5,0 1.5,.2 1,.2 1.5,.3 1,.1 1.5,.3 1,.5 1,.6 .7,.6 .8,.8 .7,.7 .6,1 .3,1 .3,1.5 .2,1 .1,1.5 -.2,1.4 -.5,.8 -.5,1.1 -.2,1.2 0,1.5 .2,1 .1,1.5 -.1,1.3 -.1,1.2 -.2,1.5 .1,1.5 .2,1.1 .3,1.4 .4,1 .2,1.5 .1,1.5 .1,1 .2,1.5 -.3,1.1 -.2,1.4 0,1.5 0,1.5 -.4,1 -.3,1.5 -.3,1 -.2,1.5 -.2,1 -.1,1.5 -.3,1.2 -.6,.8 -.9,.8 -1,.5 -1,.3 -1.4,.4 -.6,.5 -1.1,.5 .4,1 .2,1 1,.8 1,.5 1,.7 .6,.5 .6,1 .7,1 .3,1 .1,1.5 -.1,1.5 .4,1 .9,.9 .6,.6 .4,1 -.5,1 -1,.2 -1.5,-.1 -1,.6 -.7,.8 -.7,1 -.6,.6 -.9,.9 -.5,1 -.4,1 -.6,1 -.6,.8 -.6,.7 -.9,.9 -1,.3 -1,-.4 -1,-.6 -.8,-.7 -.7,-.6 -.9,-.9 -.5,-1 -.2,-1 -.3,-1.5 -.2,-1 -.4,-1 -.2,-1.5 .2,-1 .5,-1.3 .5,-1.1 .4,-1.1 .2,-1 0,-1.5 .2,-1.5 .2,-1 .5,-1.2 .6,-.8 .9,-1 .5,-.5 1,-.5 1.2,-.5 -.7,-.7 -1.4,-.3 -.6,-.8 -.7,-.7 -.8,-.9 -.5,-.7 -.5,-.9 -.5,-1.5 -.2,-1 -.4,-1 -.4,-1 -.5,-1 -.5,-1.4 -.3,-1.1 -.3,-1 -.5,-1 -.7,-1 -.6,-1 -.4,-1 -.2,-1 -.1,-1.5 0,-1.5 .1,-1 .5,-1.5 .3,-1 .4,-1 .4,-1 .4,-1.4 0,-1.1 .1,-1.5 .1,-1.5 -.2,-1.4 -.4,-1.1 -.6,-1 -.5,-.8 -.3,-1.2 -.4,-1 -.5,-1 -.3,-1 -.1,-1.5 .2,-1 .2,-1.5 .3,-1 .7,-1 .7,-.7 1,-.8 .7,-.5 .8,-.5 1,-.6 1,-.4 1.5,-.4 .4,-.1M367.4,227.7l1.1,0 1,.1 1.3,.4 1,.5 .7,.6 1,.7 .6,.7 .8,1 .6,1 .5,.6 .7,.9 .4,1 .4,1.3 .2,1.2 .3,1.5 0,1.5 0,1.5 0,1.5 -.1,1.5 -.4,1.2 -.2,1.3 -.3,1 -.1,1.5 -.4,1.3 -.5,1.2 -.4,1 -.4,1 -.5,1 -.5,1 -.7,.8 -.5,.7 -1,.9 -1,.4 -1,.6 -1,.4 -1,.2 -1.5,.3 -1.5,.2 -1,.1 -1.5,.4 -1,.3 -1.5,.1 -1.5,-.1 -1.1,-.3 -1.4,-.4 -1,-.2 -1.5,-.4 -1,-.2 -1.5,-.1 -1,.4 -1.5,-.1 -1,-.2 -1,-.7 -.7,-.6 -.8,-.5 -1,-.6 -1,-.8 -.7,-.6 -.8,-.8 -.7,-.7 -.6,-1 -.3,-1 -.4,-1.5 -.1,-1 -.2,-1.5 .3,-1.3 .6,-.7 .9,-.5 1,-.7 1,-.8 .5,-.5 1,-.9 1,-.5 1,-.5 .6,-.6 .4,-1 1,-.7 1,-.8 .2,-1 0,-1.5 .3,-1 .5,-1.2 .5,-1.1 .5,-.7 .9,-1 .6,-.6 1,-.8 .8,-.6 .8,-.5 1.4,-.4 1,-.1 1.5,-.1 1.5,-.3 1,-.2 1.5,-.2 1.5,-.2 1,-.1 1.4,-.4M321.9,178.7l1.1,-.1 1,.1 1.5,.2 1.4,.3 1.1,.1 1.5,.3 1,.4 1,.7 .7,.5 .8,.9 .6,.6 .6,1 .3,1 .4,1.5 .4,1 .1,1.5 -.4,1 -.7,1 -.6,1 -.3,1 -.1,1.5 .2,1.5 -.1,1.5 -.4,1.4 -.4,1.1 -.4,1 -.1,1.5 .4,1.4 .5,.9 .5,.8 .5,.9 .3,1.5 0,1.5 0,1.5 -.4,1 -.4,1.3 -.1,1.2 .1,1.5 -.3,1.5 -.2,1.5 -.2,1 -.1,1.5 -.2,1 -.4,1.5 -.6,1 -.7,.5 -1.3,.4 -1,.2 -1.2,.4 -1.2,.5 -1,.5 -1.1,.3 -1.3,-.3 -.7,-.5 -1,-1 -.5,-.7 -.5,-1 -.4,-1.3 -.2,-1 -.4,-1.1 -.5,-1.1 -.5,-1.1 -.5,-1.1 -.3,-1.1 -.4,-1 -.6,-1 -.7,-1 -.5,-.9 -.5,-1.1 -.3,-1 -.2,-1.5 .2,-1.5 .3,-1 .5,-1.2 .5,-1.3 .4,-1 .5,-1 .3,-1 .3,-1.1 .3,-1.4 0,-1.5 -.3,-1.2 -.5,-1.1 -.5,-.8 -.8,-.9 -.7,-.8 -.5,-.7 -.5,-1.1 -.3,-1.4 -.1,-1.5 .2,-1.5 .2,-1.4 .5,-1.1 .5,-.6 1,-.8 .8,-.6 .7,-.5 1,-.7 1,-.5 1,-.3 1.5,-.4 .4,-.1M362.7,229.2l1.3,-.1 1.5,.1 1.5,-.3 1.5,0 1.5,.2 1,.6 .6,.5 .9,.8 .7,.7 .7,1 .6,.8 .6,.7 .6,1 .4,1 .3,1.5 .4,1 .1,1.5 0,1.5 -.1,1.5 -.2,1.5 -.4,1 -.3,1 -.3,1.5 0,1.5 -.1,1 -.5,1.5 -.3,1 -.5,1 -.4,1 -.7,1 -.6,.6 -.7,.9 -.8,.5 -1,.6 -1,.5 -1.5,.4 -1,.3 -1.5,.2 -1,.1 -1.4,.4 -1.1,.4 -1.5,0 -1.5,-.1 -1,-.4 -1.5,-.2 -1.5,-.1 -1.5,0 -1,-.1 -1.4,-.5 -.9,-.5 -.9,-.5 -1,-.5 -1.3,-.5 -1,-.3 -1,-.5 -1,-.7 -.6,-.5 -.9,-.9 -.5,-.7 -.5,-1.1 -.4,-1.3 -.2,-1 .1,-1.5 .5,-.9 .6,-.6 .9,-.7 1,-.8 .5,-.5 1,-.7 1,-.6 .7,-.7 .8,-1 .4,-1 .6,-.6 1.5,-.4 .6,-.5 .3,-1.5 .1,-1.5 .3,-1 .4,-1 .6,-1 .7,-.9 .5,-.7 .8,-.9 .7,-.6 1,-.6 1.2,-.3 1.3,-.3 1.2,-.2 1.3,-.3 1.5,-.2 .2,0M322.4,232.2l1.1,-.3 1.2,.3 1.1,.5 .9,.5 .8,.5 1,.8 .7,.7 .5,1 .4,1 -.1,1.5 -.2,1 -.3,1.4 -.5,1.1 -.5,.6 -.6,.9 -.5,1 -.6,1 -.4,1 -.4,1.5 -.2,1 -.6,1 -.7,.7 -1.5,.2 -1,-.7 -.6,-.7 -.6,-1 -.5,-1 -.5,-1 -.5,-1 -.4,-1 0,-1.5 .4,-1 .3,-1 .4,-1 .5,-1.5 .1,-1 0,-1.5 0,-1.5 .4,-1.1 .8,-.9 .6,-.5M320.7,179.7l1.3,-.3 1.5,-.1 1.5,.1 1.4,.3 1.1,.1 1.5,.4 1,.3 1,.6 .8,.6 .7,.7 .7,.8 .6,1 .3,1 .4,1.2 .3,1.3 -.3,1.5 -.4,1 -.6,.9 -.5,.7 -.6,.9 -.2,1.5 .1,1.5 -.2,1.5 -.5,1 -.5,1 -.4,1 -.2,1.5 .3,1.5 .5,1 .6,1 .6,.9 .5,1 .1,1.1 -.1,1.5 -.2,1 -.6,1 -.3,1 -.1,1.5 0,1.5 -.2,1.5 -.1,1 -.2,1.5 -.3,1.2 -.5,.9 -.8,.9 -.9,.5 -1.3,.5 -1,.4 -.9,.6 -.8,.5 -1.3,.5 -1.2,-.5 -.8,-.8 -.5,-.9 -.4,-1.3 -.2,-1 -.4,-1 -.5,-1.3 -.5,-1.1 -.5,-.9 -.5,-1.2 -.5,-1 -.5,-.8 -.5,-.8 -.5,-1 -.5,-1.1 -.4,-1.3 0,-1.5 .3,-1.5 .3,-1 .4,-1 .4,-1.1 .5,-1.1 .5,-.8 .5,-1 .5,-1 .5,-1.4 0,-1 -.2,-1.1 -.3,-1 -.6,-1 -.9,-.9 -.7,-.6 -.8,-.6 -1,-.9 -.5,-.6 -.3,-1.4 0,-1.5 .2,-1.5 .1,-1 .5,-1.5 .5,-.6 1,-.8 .8,-.6 .8,-.5 .9,-.6 1,-.5 1.2,-.4M360.2,230.2l1.3,-.3 1.5,-.1 1.5,0 1.5,.1 1.5,0 1.4,.3 1.1,.4 .9,.6 .6,.5 1,.8 .6,.7 .7,1 .7,1 .4,1 .4,1 .2,1 .4,1.5 0,1.5 -.1,1.5 -.2,1.5 -.4,1 -.2,1 -.3,1.5 -.1,1.5 -.1,1 -.3,1.5 -.4,1 -.4,1 -.5,1 -.7,1 -.7,.7 -.9,.8 -.7,.5 -.9,.6 -1,.4 -1.5,.4 -1,.3 -1.5,.2 -1,.2 -1.5,.3 -1.5,-.2 -1,-.2 -1.5,-.4 -1.5,0 -1.5,.3 -1,.3 -1.5,-.1 -.8,-.6 -.7,-.6 -.9,-.9 -.6,-.5 -1.1,-.5 -1.4,-.4 -1,-.3 -1,-.5 -.9,-.8 -.6,-.6 -.6,-.9 -.4,-1 -.3,-1.5 .3,-1.4 .5,-.7 .9,-.9 .6,-.5 1,-.8 1,-.5 .6,-.7 .6,-1 .8,-.9 1,-.5 .6,-.6 .9,-.8 .8,-.7 .4,-1 .2,-1.5 .3,-1 .4,-1 .4,-1 .6,-1 .6,-1 .8,-1 .6,-.5 .9,-.6 1.3,-.4 1.2,-.3 1.2,-.2M324.5,235.7l1.5,-.2 1,.7 .4,1 .2,1 -.1,1 -.4,1.5 -.3,1 -.4,1 -.5,1 -.5,1 -.4,1.1 -.5,1.4 -.5,.8 -1,-.5 -.6,-.8 -.9,-1 -.5,-.8 -.2,-1.2 .3,-1 .4,-1.4 .4,-1.1 .5,-1 .6,-.9 .5,-.9 .5,-1.2 .5,-.5M321,180.2l1,-.3 1.5,-.1 1.5,.1 1.5,.3 1,.1 1.5,.4 1,.4 1,.6 .7,.5 .8,.9 .5,.6 .5,1 .2,1.5 .1,1.5 -.3,1.5 -.4,1 -.5,1 -.6,.9 -.5,.6 -.6,1 -.2,1.5 -.2,1.5 -.4,1 -.4,1 -.2,1 -.1,1.5 .1,1.4 .3,1.1 .5,1 .6,1 .6,1 .3,1 -.1,1.5 -.4,1 -.5,1 -.3,1.2 0,.8 .1,1.5 -.1,1.4 -.2,1.1 -.3,1.2 -.3,1.3 -.5,1 -.7,.8 -1,.6 -1,.3 -1,.4 -1,.6 -1,.3 -1,-.4 -.5,-.6 -.5,-1.4 -.3,-1.1 -.3,-1 -.4,-1.2 -.5,-.9 -.5,-.9 -.6,-1 -.6,-1 -.7,-1 -.5,-1 -.5,-1 -.3,-1 -.1,-1.5 .2,-1.5 .3,-1 .4,-1 .4,-1.1 .5,-1.3 .5,-.8 .5,-.8 .6,-1 .5,-1 .1,-1.5 -.2,-1.5 -.2,-1 -.4,-1 -.9,-.7 -1,-.6 -1,-.7 -.7,-.5 -.8,-.8 -.5,-.8 -.3,-1.4 0,-1.5 .3,-1.5 .2,-1 .5,-1 .8,-.7 1,-.7 .9,-.6 .7,-.5 1,-.5 1.4,-.5M360.6,230.7l1.4,-.2 1.5,-.1 1.5,.2 1.5,0 1,.1 1.5,.4 1,.4 .9,.7 .7,.5 .9,.9 .5,.7 .7,.9 .5,1 .3,1 .5,1.5 .2,1 0,1.5 -.2,1.3 -.1,1.2 -.4,1.2 -.3,1.3 -.2,1 -.1,1.5 -.1,1.5 -.3,1.3 -.3,1.2 -.5,1 -.6,1 -.6,.7 -.8,.8 -.7,.6 -1,.6 -1,.5 -1,.4 -1.5,.4 -1,.2 -1.5,.2 -1,.1 -1,0 -1.5,-.3 -1,-.2 -1.5,-.3 -1.5,.1 -1,.4 -1,.5 -1.5,-.2 -.6,-.5 -.9,-.9 -.6,-.6 -.9,-.9 -.9,-.6 -1.1,-.5 -1,-.3 -1,-.7 -.6,-.5 -.7,-1 -.4,-1 0,-1.5 .5,-1 .7,-.8 .9,-.7 .9,-.5 .7,-.9 .5,-1.1 1,-.5 1,-.4 1,-.6 .5,-1 .3,-1 .7,-.7 .4,-1.3 .2,-1 .4,-1.2 .5,-1.3 .3,-1 .6,-1 .6,-1 .5,-.5 1,-.8 1,-.5 1,-.3 1.5,-.3 .6,-.1" fill="none" stroke="#111" stroke-width="0.6" stroke-opacity="0.55"/>
<path d="M321.1,180.7l1.4,-.4 1.5,-.1 1.5,.2 1.5,.2 1,.2 1.2,.4 1.1,.5 .7,.5 1,1 .5,.8 .4,1.2 .1,1 0,1 -.4,1.5 -.3,1 -.5,1 -.7,1 -.6,1 -.6,.5 -.8,1 -.3,1 -.2,1.5 -.2,1 -.1,1.5 0,1.5 .2,1.5 .2,1 .3,1 .5,1 .5,1 .5,1.2 0,.8 -.5,1.4 -.5,1 -.3,1.1 .1,1.5 .2,1.3 0,.7 -.4,1.5 -.3,1 -.4,1 -.4,1 -.9,1 -1.1,.4 -1,.2 -1.5,.2 -.8,-.8 -.3,-1 -.2,-1.5 -.3,-1 -.7,-1 -.7,-.8 -.6,-.7 -.8,-1 -.6,-.9 -.5,-1 -.4,-1.1 -.1,-1 0,-1 .4,-1.5 .3,-1 .4,-1 .4,-1.5 .4,-1 .6,-1 .5,-.8 .5,-1.1 .3,-1.1 -.2,-1.5 -.1,-1 -.3,-1.5 -.5,-1 -.7,-.7 -1,-.8 -.8,-.5 -.8,-.5 -.9,-.8 -.5,-.8 -.5,-1.3 -.2,-1.1 .1,-1.5 .3,-1 .8,-1 .6,-.5 .9,-.7 1,-.6 1,-.6 1,-.4 .6,-.2M361.2,231.2l1.3,-.1 1.5,0 1,.2 1.5,.1 1.5,.2 1,.3 1,.5 1,.7 .7,.6 .8,1 .5,.7 .5,1 .4,1.3 .3,1 .3,1.5 -.2,1.5 -.1,1.5 -.3,1 -.4,1.5 -.1,1 -.1,1.5 -.1,1.5 -.2,1.3 -.3,1.2 -.4,1 -.6,1 -.7,.8 -.7,.7 -.8,.6 -1,.6 -1,.5 -1,.3 -1.5,.4 -1,.1 -1.5,.2 -1.5,-.1 -1,-.1 -1.5,-.3 -1.3,-.2 -1.2,0 -1,.3 -1,.3 -1,-.2 -1,-.8 -.5,-.6 -1,-.8 -1,-.4 -1,-.4 -1,-.9 -.7,-.5 -.8,-.6 -.6,-.9 -.3,-1.5 .4,-1 1,-1 .5,-.6 .7,-.9 1,-.5 .8,-.5 1,-1 .5,-.5 .6,-1 .4,-1.2 .5,-.9 .5,-1.4 .3,-1 .3,-1 .4,-1 .4,-1.5 .5,-1 .6,-1 .5,-.6 1,-.8 1,-.4 1,-.3 1.5,-.3 .7,-.1M323.1,180.7l1.4,0 1,.1 1.5,.3 1,.2 1.2,.4 .8,.5 1,.8 .6,.7 .5,1 .2,1.5 -.2,1.5 -.4,1 -.5,1 -.7,1 -.5,.6 -.8,.9 -.7,1 -.5,.7 -.4,1.3 -.2,1 -.2,1.5 0,1.5 .1,1.5 .2,1.3 .2,1.2 .3,1 .5,1.3 .5,1.1 .2,1.1 -.2,1 -.5,1 -.5,1.4 0,1.1 .2,1 .2,1.5 -.4,1.4 -.5,1 -.5,1 -.5,.9 -1,.6 -1.3,-.4 -.4,-1 -.3,-1.2 -.5,-1 -.7,-.8 -.8,-.8 -.7,-.7 -.8,-.9 -.5,-.9 -.5,-1.2 -.1,-1 .2,-1 .4,-1.5 .3,-1 .3,-1 .4,-1.1 .4,-1.4 .4,-1 .5,-1 .4,-1 .1,-1.5 -.3,-1.4 -.2,-1.1 -.3,-1.4 -.5,-1.1 -.5,-.9 -.6,-.6 -.9,-.7 -1,-.5 -1,-.8 -.5,-.5 -.6,-1 -.4,-1 -.1,-1.5 .4,-1 .7,-.8 .9,-.7 .7,-.5 .9,-.6 1,-.5 1,-.4 1.5,-.4 .6,-.1M359.3,232.2l1.2,-.3 1.5,-.2 1.5,.1 1.5,.2 1.5,.1 1,.1 1.5,.4 .9,.6 .8,.5 .8,.8 .6,.7 .6,1 .4,1 .4,1.4 .2,1.1 -.1,1.5 -.1,1.1 -.2,1.4 -.3,1.1 -.2,1.4 -.2,1.5 .1,1.5 -.2,1.2 -.3,1.3 -.4,1 -.5,1 -.8,.9 -.6,.6 -.9,.7 -1,.5 -1,.5 -1.1,.3 -1.4,.3 -1.5,.1 -1.5,0 -1.5,-.2 -1.2,-.2 -1.3,-.2 -1.5,.1 -1.5,-.1 -1,-.6 -.8,-.7 -.7,-.6 -1,-.6 -1,-.4 -1.3,-.4 -.9,-.5 -.6,-1 -.4,-1 .2,-1 .9,-1 1.1,-.3 1,-.6 .5,-.9 .5,-.9 .5,-.9 .6,-.9 .5,-1 .3,-1.5 .5,-1 .3,-1 .3,-1 .5,-1.2 .4,-1.3 .3,-1 .5,-1 .7,-1 .6,-.5 1,-.6 1.3,-.4M322.9,181.2l1.1,-.1 1.1,.1 1.4,.3 1,.2 1.3,.5 .8,.5 .9,.7 .7,.8 .4,1 0,1.5 -.4,1 -.4,1 -.7,1 -.6,.6 -1,.8 -.5,.6 -.6,1 -.4,1.3 -.4,1.2 -.2,1 -.3,1.5 -.1,1.5 .2,1.5 .3,1.3 .2,1.2 .3,1.2 .4,1.3 .3,1 .1,1.5 -.3,1 -.5,1.4 -.1,1.1 .1,1.5 .1,1 -.2,1 -.6,1 -.8,.8 -.9,-.8 -.6,-.9 -.5,-.8 -.7,-.8 -.8,-1 -.5,-1 -.3,-1 -.2,-1 -.2,-1.5 .2,-1 .5,-1.5 .4,-1 .3,-1 .3,-1.2 .4,-1.3 .4,-1 .3,-1 -.1,-1.2 -.5,-1.3 -.3,-1 -.2,-1.1 -.5,-1.4 -.4,-1 -.6,-1 -.6,-.5 -.9,-.6 -1,-.6 -1,-.7 -.5,-.6 -.6,-1 -.3,-1.5 .5,-1 .9,-.8 1,-.7 .8,-.5 .9,-.5 1.1,-.5 1.2,-.4 .4,-.1M359.9,232.7l1.1,-.2 1.5,-.1 1.5,.2 1,.1 1.5,.1 1.5,.2 1,.3 1,.7 .9,.7 .6,.8 .5,.7 .5,1.2 .3,1.3 .2,1.5 -.2,1.5 -.1,1.5 -.3,1 -.2,1.5 -.2,1.5 .1,1.5 -.1,1 -.3,1.5 -.4,1 -.5,1 -.8,1 -.5,.5 -1,.7 -1,.6 -1,.4 -1.2,.3 -1.3,.1 -1.5,.1 -1.5,-.2 -1,-.1 -1.5,-.2 -1.5,-.1 -1.3,-.1 -1.2,-.5 -.7,-.5 -.8,-.7 -1,-.8 -.5,-.6 -.6,-.9 -.1,-1.5 .2,-1.3 .4,-1.2 .4,-1 .5,-1 .5,-1 .5,-1 .2,-1.2 .4,-1.3 .3,-1 .3,-1 .5,-1.2 .5,-1.2 .3,-1.1 .4,-1 .7,-1 .6,-.5 1,-.6 1.4,-.4M323.3,181.7l1.2,-.1 1,.2 1.5,.4 1,.3 1,.5 .9,.7 .6,.6 .5,1.2 0,.7 -.5,1.2 -.5,.9 -.9,.9 -.6,.5 -1,.7 -.7,.8 -.4,1 -.2,1.5 -.4,1 -.3,1.2 -.5,.9 -1,-.6 -.4,-1 -.3,-1 -.3,-1.1 -.5,-1.4 -.5,-.8 -.7,-.7 -.8,-.7 -1,-.6 -1,-.6 -.7,-.6 -.6,-1 -.3,-1 .6,-1 .6,-.5 .9,-.6 1,-.6 1,-.5 1,-.4 1.3,-.4M324.3,201.7l.8,0 .4,1 .3,1.5 .2,1 .4,1.5 .1,1 -.1,1 -.4,1.5 -.1,1 -.1,1.5 -.3,1.3 -1,-.3 -.7,-1 -.3,-1 -.2,-1.5 -.3,-1.3 -.2,-1.2 .1,-1.5 .4,-1 .4,-1 .3,-1.5 .3,-1M360.8,233.2l1.2,-.1 1.3,.1 1.2,.2 1.5,0 1.5,.1 1,.3 1,.5 1,.8 .5,.7 .6,.9 .4,1.3 .2,1.2 0,1.5 -.2,1.5 -.1,1 -.3,1.5 -.1,1 -.1,1.5 0,1.5 -.2,1.5 -.3,1 -.4,1 -.6,1 -.9,1 -.6,.5 -.9,.6 -1,.5 -1.5,.3 -1.5,.1 -1.5,-.1 -1.5,-.2 -1.5,-.1 -1,-.2 -1.5,-.1 -1,-.4 -1,-.7 -.9,-.7 -.6,-.6 -.6,-.9 -.3,-1.5 0,-1.5 .4,-1.2 .5,-1.2 .5,-1.1 .5,-1 .2,-1 .3,-1.5 .2,-1 .3,-1 .5,-1.2 .5,-1.1 .4,-1.2 .4,-1 .7,-1 .6,-.5 .9,-.5 1.5,-.5 .3,0M323.9,182.2l.7,0 1.4,.3 1,.2 1.1,.5 .9,.5 1,.9 .4,1.1 -.4,1.1 -.7,.9 -.8,.7 -1,.5 -1,.5 -.8,.8 -.4,1 -.3,1.5 -.5,.6 -.3,-1.1 -.5,-1 -.7,-.8 -.7,-.7 -.8,-.7 -1,-.7 -1,-.6 -.8,-.5 -.7,-.9 0,-1.1 .5,-.5 1,-.6 1,-.6 1,-.5 1,-.4 1.4,-.4M359.7,234.2l1.3,-.4 1.5,0 1.5,.2 1.5,.1 1.5,0 1,.2 1,.4 1,.8 .6,.7 .5,1 .3,1.5 .1,1 -.1,1 -.1,1.5 -.2,1.5 -.2,1 -.1,1.5 0,1.5 -.1,1.5 -.2,1 -.5,1.2 -.5,.9 -.6,.9 -.9,.9 -.8,.6 -1,.5 -1.2,.3 -1.5,0 -1.5,-.1 -1.1,-.2 -1.4,-.1 -1.5,-.3 -1.1,-.1 -1.1,-.5 -.8,-.6 -1,-.9 -.5,-.9 -.3,-1.1 -.1,-1.5 .4,-1.3 .5,-1.2 .4,-1 .3,-1 .3,-1.4 .1,-1.1 .4,-1.5 .4,-1 .4,-1 .5,-1 .4,-1 .6,-1 .7,-.8 1,-.6 .2,-.1M322.6,183.2l1.4,-.4 1.5,.1 1.1,.3 1.2,.5 .8,.5 .8,1 .1,.6 -.5,1.1 -1,.7 -1,.3 -1.2,.3 -1.3,.4 -1.5,-.1 -1,-.5 -1,-.6 -1,-.7 -.5,-.8 .2,-.7 .8,-.7 1,-.7 1,-.5 .1,-.1M360.4,234.7l1.1,-.3 1.5,.1 1,.2 1.5,0 1.5,0 1.5,.4 .9,.6 .6,.7 .5,1 .2,1.3 0,1.5 -.2,1.5 0,1 -.2,1.5 -.2,1.5 0,1.5 -.1,1.5 -.2,1 -.4,1 -.5,1 -.7,1 -.7,.8 -.8,.7 -1.1,.5 -1.1,.2 -1.5,-.1 -1,-.1 -1.5,-.3 -1.5,-.2 -1,-.2 -1.2,-.3 -.8,-.5 -1,-1 -.5,-.8 -.3,-1.2 0,-1.5 .3,-1 .5,-1.5 .3,-1 .3,-1 .1,-1.5 .3,-1.5 .3,-1 .4,-1 .6,-1 .5,-1 .7,-1 .5,-.6 1,-.7 .4,-.2M323.9,183.7l1.1,0 1,.2 1,.4 1,.8 0,1 -1,.6 -1,.2 -1.5,.2 -1.5,-.2 -1,-.5 -.6,-.7 .6,-.9 .8,-.6 1.1,-.5M361.3,235.2l1.2,-.1 1,.2 1.5,.1 1.5,-.1 1.5,.3 1,.6 .5,.7 .5,1.3 0,1 0,1 -.2,1.5 -.1,1.5 -.2,1.5 0,1 -.1,1.5 -.1,1.5 -.4,1 -.5,1 -.5,1 -.7,1 -.7,.7 -1,.6 -1.5,.2 -1.5,-.2 -1.5,-.3 -1,-.1 -1.5,-.3 -1,-.3 -1,-.7 -.6,-.6 -.5,-1 -.3,-1.5 .3,-1.5 .2,-1 .4,-1.1 .3,-1.4 .1,-1.5 .1,-1 .5,-1.5 .5,-1 .5,-.9 .5,-.8 .6,-.8 .9,-.9 1,-.5 .3,-.1M323.8,185.2l1.2,-.2 .5,.2 -1,.6 -.7,-.6M360.7,236.2l1.3,-.4 1.5,.1 1.5,.1 1.5,0 1,.2 1,.5 .6,1 .2,1.5 -.1,1.5 -.1,1.5 -.1,1.3 -.1,1.2 -.1,1.5 -.1,1.5 -.2,1 -.5,1.1 -.5,1 -.5,.9 -.9,1 -.7,.5 -1.4,.3 -1.5,-.2 -1,-.2 -1.5,-.3 -1,-.2 -1,-.4 -1,-.9 -.5,-.8 -.3,-1.3 0,-1.5 .3,-1.3 .4,-1.2 .1,-1 .1,-1.5 .2,-1.5 .4,-1 .5,-1 .7,-1 .6,-.9 .6,-.6 .6,-.5M361.3,236.7l1.2,-.3 1.5,.2 1.5,0 1.1,.1 1.2,.5 .7,1 .1,1 -.1,1.5 0,1 -.1,1.5 -.2,1.5 -.1,1.5 -.1,1 -.3,1.5 -.4,1 -.5,1 -.8,1 -.5,.5 -1,.5 -1.5,0 -1,-.2 -1.4,-.3 -1.1,-.3 -1,-.5 -.7,-.7 -.5,-1 -.3,-1.5 .2,-1.5 .3,-1 .3,-1.5 0,-1.5 .2,-1.3 .4,-1.2 .6,-1 .5,-.7 .6,-.8 .9,-.9 .3,-.1M361.9,237.2l1.1,-.1 1.2,.1 1.3,.1 1.5,.3 .6,.6 .3,1.5 -.1,1.5 0,1.5 -.1,1.5 -.2,1.4 -.1,1.1 -.3,1.5 -.4,1 -.4,1 -.8,1 -.5,.5 -1.5,.3 -1.5,-.2 -1,-.3 -1.4,-.3 -.7,-.5 -.6,-1 -.3,-1 -.1,-1.5 .2,-1 .3,-1.5 .1,-1 .1,-1.5 .4,-1.5 .5,-1 .5,-.8 .6,-.7 .9,-.8 .4,-.2M362.4,238.7l1.1,-.2 1.5,-.1 1.5,.2 .3,1.1 0,1.5 0,1.5 -.2,1.5 -.2,1 -.3,1.5 -.1,1 -.5,1.3 -.5,.7 -1,.8 -1.5,-.1 -1,-.3 -1,-.4 -.7,-1 -.2,-1.5 .3,-1.5 .2,-1 -.1,-1.4 -.1,-1.1 .1,-1 .7,-1 .8,-.9 .9,-.6M362.8,240.2l1.2,-.3 1,.3 .5,1.4 0,.6 -.5,1.5 -.5,.7 -.5,.8 -.3,1.5 -.2,1.1 -1,.6 -.8,-.7 .1,-1.5 .2,-1 0,-1 -.2,-1.5 .2,-1.2 .5,-1 .3,-.3" fill="none" stroke="#111" stroke-width="0.7" stroke-opacity="0.9"/>
</g>
<rect x="302.5" y="171.2" width="95.5" height="89.60000000000002" fill="none" stroke="#333" stroke-width="0.8"/>
<line x1="338.20" y1="171.20" x2="338.20" y2="260.80" stroke="#222" stroke-width="0.8" />
<line x1="302.50" y1="221.80" x2="398.00" y2="221.80" stroke="#222" stroke-width="0.8" />
<circle cx="338.2" cy="221.8" r="1.3" fill="#111"/>
<circle cx="338.2" cy="171.2" r="0.9" fill="#111"/>
<circle cx="398" cy="221.8" r="0.9" fill="#111"/>
<path d="M302.5,260.8v2.6 M302.5,260.8h-2.6 M309.7,260.8v1.4 M302.5,254.1h-1.4 M313.9,260.8v1.4 M302.5,250.1h-1.4 M316.9,260.8v1.4 M302.5,247.3h-1.4 M319.2,260.8v1.4 M302.5,245.1h-1.4 M321.1,260.8v1.4 M302.5,243.4h-1.4 M322.7,260.8v1.4 M302.5,241.9h-1.4 M324.1,260.8v1.4 M302.5,240.6h-1.4 M325.3,260.8v1.4 M302.5,239.4h-1.4 M326.4,260.8v2.6 M302.5,238.4h-2.6 M333.6,260.8v1.4 M302.5,231.7h-1.4 M337.8,260.8v1.4 M302.5,227.7h-1.4 M340.7,260.8v1.4 M302.5,224.9h-1.4 M343.1,260.8v1.4 M302.5,222.7h-1.4 M345.0,260.8v1.4 M302.5,221.0h-1.4 M346.6,260.8v1.4 M302.5,219.5h-1.4 M347.9,260.8v1.4 M302.5,218.2h-1.4 M349.2,260.8v1.4 M302.5,217.0h-1.4 M350.2,260.8v2.6 M302.5,216.0h-2.6 M357.4,260.8v1.4 M302.5,209.3h-1.4 M361.6,260.8v1.4 M302.5,205.3h-1.4 M364.6,260.8v1.4 M302.5,202.5h-1.4 M366.9,260.8v1.4 M302.5,200.3h-1.4 M368.8,260.8v1.4 M302.5,198.6h-1.4 M370.4,260.8v1.4 M302.5,197.1h-1.4 M371.8,260.8v1.4 M302.5,195.8h-1.4 M373.0,260.8v1.4 M302.5,194.6h-1.4 M374.1,260.8v2.6 M302.5,193.6h-2.6 M381.3,260.8v1.4 M302.5,186.9h-1.4 M385.5,260.8v1.4 M302.5,182.9h-1.4 M388.5,260.8v1.4 M302.5,180.1h-1.4 M390.8,260.8v1.4 M302.5,177.9h-1.4 M392.7,260.8v1.4 M302.5,176.2h-1.4 M394.3,260.8v1.4 M302.5,174.7h-1.4 M395.7,260.8v1.4 M302.5,173.4h-1.4 M396.9,260.8v1.4 M302.5,172.2h-1.4 M398.0,260.8v2.6 M302.5,171.2h-2.6" stroke="#222" stroke-width="0.5" fill="none"/>
<text x="301.3" y="269.5" font-size="4.2" font-weight="normal" fill="#333">10<tspan dy="-2.3" font-size="3.2">0</tspan></text>
<text x="298.1" y="263.4" font-size="4.2" font-weight="normal" text-anchor="end" fill="#333">10<tspan dy="-2.3" font-size="3.2">0</tspan></text>
<text x="325.2" y="269.5" font-size="4.2" font-weight="normal" fill="#333">10<tspan dy="-2.3" font-size="3.2">1</tspan></text>
<text x="298.1" y="241.0" font-size="4.2" font-weight="normal" text-anchor="end" fill="#333">10<tspan dy="-2.3" font-size="3.2">1</tspan></text>
<text x="349.1" y="269.5" font-size="4.2" font-weight="normal" fill="#333">10<tspan dy="-2.3" font-size="3.2">2</tspan></text>
<text x="298.1" y="218.6" font-size="4.2" font-weight="normal" text-anchor="end" fill="#333">10<tspan dy="-2.3" font-size="3.2">2</tspan></text>
<text x="372.9" y="269.5" font-size="4.2" font-weight="normal" fill="#333">10<tspan dy="-2.3" font-size="3.2">3</tspan></text>
<text x="298.1" y="196.2" font-size="4.2" font-weight="normal" text-anchor="end" fill="#333">10<tspan dy="-2.3" font-size="3.2">3</tspan></text>
<text x="396.8" y="269.5" font-size="4.2" font-weight="normal" fill="#333">10<tspan dy="-2.3" font-size="3.2">4</tspan></text>
<text x="298.1" y="173.8" font-size="4.2" font-weight="normal" text-anchor="end" fill="#333">10<tspan dy="-2.3" font-size="3.2">4</tspan></text>
<text x="303.8" y="175.79999999999998" font-size="4.7" font-weight="normal" fill="#222">14.68</text>
<text x="397.2" y="175.79999999999998" text-anchor="end" font-size="4.7" font-weight="normal" fill="#222">0.28</text>
<text x="303.7" y="260.0" font-size="4.7" font-weight="normal" fill="#222">4.01</text>
<text x="397.2" y="260.0" text-anchor="end" font-size="4.7" font-weight="normal" fill="#222">81.02</text>
<text x="395.10" y="234.30" font-size="10.2" font-weight="bold" text-anchor="end" fill="#000" stroke="#000" stroke-width="0.25" textLength="11.7" lengthAdjust="spacingAndGlyphs">81</text>
<clipPath id="c8"><rect x="415" y="171.2" width="96.19999999999999" height="88.80000000000001"/></clipPath>
<g clip-path="url(#c8)" filter="url(#bl)">
<path d="M438.7,180.2l1.8,-.4 2,.1 1.5,.5 1.5,.4 1.5,.6 1.5,.7 1,.7 1,1 .8,1.4 .2,2 0,1.9 .1,1.6 -.4,1.5 -.4,1.5 -.3,1.5 -.2,2 -.1,2 -.1,2 0,2 -.1,2 -.1,1.5 -.2,2 -.2,1.5 -.5,2 -.4,1.5 -.1,1.5 -.2,2 -.4,1.5 -.4,1.5 -1.5,.8 -1.1,.7 -1.4,1 -1,1 -1,0 -1.5,-.9 -1.4,-.6 -1.1,-.5 -1.2,-1 -.8,-1.5 -.7,-1 -.5,-1.5 -.4,-1.5 -.4,-1.5 -.7,-1.5 -.3,-1.9 -.1,-1.6 -.1,-2 0,-2 .2,-1.8 .6,-1.2 .8,-1.5 -.2,-2 -.6,-1.5 -.6,-1.5 -.5,-1.5 -.6,-1 -.9,-1.2 -.8,-1.3 -.2,-1.5 .2,-1.5 .4,-1.5 .7,-1.5 1,-1 1.2,-1 1,-.6 1.5,-.7 1.5,-.4 1.7,-.3zM469.8,229.2l1.7,-.1 2,-.1 2,0 1.5,.2 1.5,.5 1.5,.8 1.2,.7 .9,1 .9,1.5 .5,1 .5,2 .2,1.5 .1,2 -.2,2 -.1,1.5 -.3,2 -.2,1.5 -.5,2 -.4,1.5 -.6,1.2 -.7,1.3 -.9,1 -1.2,1 -1.1,1 -1.1,.7 -1.5,.7 -1.5,.5 -1.5,.2 -1.5,-.2 -2,-.3 -1.5,-.4 -1.5,-.4 -1.5,-.4 -1.8,-.4 -1.2,-.6 -1.5,-.4 -2,-.1 -1.4,-.9 -.8,-1 -.8,-1.2 -1.5,-.7 -1,-.9 -1,-.9 -.6,-1.3 1.6,-.3 1.5,-.6 1.5,-.6 1,-1 1,-.9 1,-1.1 .4,-1.5 .6,-1.3 .8,-1.2 .6,-1.5 .6,-1.1 .7,-1.4 .6,-1.5 .7,-1.2 1,-1.2 1,-.8 1.3,-.8 1.2,-.6 1.8,-.4zM441.8,239.2l1.2,0 1.5,.6 1,1 .6,1.4 -.1,1.8 -.1,1.7 .1,1.5 -.1,1.5 -.8,1.5 -1.1,.5 -1.5,-.1 -1.5,-.6 -1.4,-.8 -1,-1 -.7,-1 -.6,-1.5 .1,-2 .4,-1.5 .7,-1.1 1,-1 1.5,-.7z" fill="#000" fill-opacity="0.15"/>
<path d="M439.3,181.2l1.7,-.3 1.7,.3 1.8,.4 1.5,.6 1.1,.5 1.4,.9 1,1 .5,1.3 -.1,1.3 -.6,1.5 -.8,1.4 -.5,1.2 0,1.4 -.1,1.5 -.4,1.5 -.5,2 -.1,1.5 .1,1.5 .3,2 .1,2 -.2,2 -.2,1.9 -.3,1.6 -.3,1.5 -.4,2 0,1.5 -.6,1.5 -1.4,.9 -2,-.2 -1.6,-.2 -1.9,-.5 -1,-.5 -.7,-1.5 -.3,-1.6 -.5,-1.9 0,-1.5 0,-2 -.1,-2 .1,-1.5 .6,-1.5 .4,-2 0,-2 -.2,-2 -.3,-1.5 -.7,-1.5 -.5,-1.5 -.8,-1.2 -1,-.9 -1,-1 -1,-1.4 -.2,-1.5 .5,-1.5 .9,-1 1.3,-.9 1.3,-.6 1.5,-.5 1.7,-.3zM469.3,231.2l1.7,-.2 2,0 1.6,.2 1.9,.3 1.5,.4 1.3,.8 1.1,1 .6,1 .7,1.5 .3,1.9 .1,1.6 -.1,2 0,1.5 -.4,2 -.3,1.5 -.3,1.5 -.5,1.5 -.8,1.5 -.7,1.1 -1,1.2 -1,1.1 -1,.6 -1.5,.7 -1.5,.3 -1.6,0 -1.9,-.3 -1.5,-.4 -1.5,-.5 -1.5,-.5 -1.1,-.8 -.9,-1.1 -1,-1.3 -1,-.9 -1.8,.3 -1.2,.6 -.7,-1.1 .6,-1.5 1.6,-.4 1,-.8 .7,-1.3 .6,-1.5 .2,-1.5 .4,-2 .4,-1.5 .7,-1.4 .7,-1.1 .6,-1.5 .5,-1.5 .7,-1.1 1,-.9 1.5,-.8z" fill="#000" fill-opacity="0.3"/>
<path d="M439.6,182.2l1.9,-.2 1.5,.4 1.5,.4 1.5,.6 1.4,.8 1.1,1 .2,1.5 -.7,1.2 -1,.9 -1.5,.9 -1.3,.5 -1.3,.5 -1.6,.5 -1.8,0 -1,-.9 -1.5,-.6 -1,-.5 -1.5,-.7 -1,-.8 -.9,-1.5 .7,-1.5 1.2,-.9 1.3,-.6 1.7,-.5 1.5,-.3zM440.5,193.7l1.5,-.1 .4,1.6 -.4,2 .5,1.8 .6,1.2 .7,1.5 .1,2 -.3,2 .2,2 0,2 -.3,1.8 -.5,1.7 -1,.7 -2,-.2 -.8,-1 -.4,-1.5 .1,-2 -.1,-2 .1,-2 .5,-1.5 .5,-1.5 .4,-1.5 .5,-1.5 .4,-1.5 -.2,-1.6 -.5,-1.4zM469.2,233.2l1.8,-.4 2,.2 1.5,.2 2,.4 1.4,.6 1,1 .6,1 .5,1.7 .3,1.8 -.1,2 -.2,1.5 -.5,1.8 -.4,1.7 -.5,1.5 -.6,1.3 -.6,1.2 -.9,1.4 -.9,1.1 -1.1,.7 -1.5,.4 -2,-.1 -1.5,-.3 -1.5,-.6 -1.2,-.6 -1.3,-.9 -.7,-1.1 -.6,-1.5 -.4,-1.5 .1,-2 .2,-1.5 .4,-2 .3,-1.5 .7,-1.5 .6,-1 .6,-1.5 .6,-1.5 .7,-1.1 1.2,-.9z" fill="#000" fill-opacity="0.4"/>
<path d="M440.4,182.7l1.2,0 1.9,.5 1.5,.4 1.2,.6 1.3,.9 .3,1.6 -.8,1 -1.5,.9 -1.5,.5 -1.5,.3 -2,.2 -1.5,-.4 -1.6,-.5 -1.4,-.5 -1.5,-.7 -1,-1.3 .3,-1 1.2,-.9 1.5,-.6 1.5,-.4 1.5,-.4zM470.3,234.2l1.7,-.2 1.5,.2 2,.4 1.5,.5 1,.9 .6,1.2 .5,1.5 .1,2 -.2,1.5 -.5,1.9 -.4,1.6 -.4,1.5 -.7,1.5 -.6,1 -.8,1.5 -.8,1 -1.3,.8 -1.5,.2 -1.5,-.1 -1.5,-.5 -1.5,-.8 -1,-.9 -.7,-1.2 -.5,-1.5 -.1,-2 .3,-1.8 .3,-1.7 .2,-1.5 .6,-1.5 .7,-1.5 .6,-1.5 .6,-1 1,-1.1z" fill="#000" fill-opacity="0.3"/>
<path d="M440.1,183.2l1.7,0 1.7,.4 1.4,.6 1.1,.6 1,.9 -.3,1.5 -1.2,.7 -1.5,.6 -1.5,.4 -2,.1 -1.5,-.4 -1.5,-.5 -1.5,-.6 -1.5,-.8 0,-1.4 1,-.7 1.5,-.5 1.5,-.5 1.6,-.4zM470.2,235.2l1.8,-.4 2,.3 1.5,.3 1.5,.7 .8,1.1 .5,1.5 .2,1 -.2,2 -.4,1.5 -.4,1.7 -.5,1.8 -.5,1.2 -.8,1.3 -.7,1.3 -.9,1.2 -1.1,.6 -2,.1 -1.5,-.3 -1.5,-.8 -1,-1 -.5,-1.1 -.4,-2 .1,-2 .3,-1.8 .3,-1.7 .4,-1.5 .7,-1.5 .6,-1.4 .7,-1.1 1,-1z" fill="#000" fill-opacity="0.3"/>
<path d="M438.5,177.2l1.5,-.1 1.5,0 1.5,.1 1,.3 1.1,.2 1.4,.5 1,.4 1,.4 1,.4 1,.7 .5,.6 .7,1 .7,1 .6,.9 .5,1 .3,1.1 .2,1 .2,1.5 -.2,1.2 -.1,1.3 .3,1 0,1.5 0,1.5 0,1.5 0,1.5 0,1.5 -.2,1.5 -.1,1 -.2,1.5 -.2,1.5 -.1,1 -.1,1.5 -.1,1.5 -.1,1.5 -.1,1.5 -.1,1 -.4,1.5 .3,1.5 .1,1.5 -.3,1.5 -.5,1 -.5,1 -.6,.9 -.7,.6 -.8,.8 -.5,.9 -.3,1.3 0,1.5 0,1.5 -.1,1.5 -.5,1 -.4,1 -.4,1 .1,1.5 .7,.5 .9,.7 1,.6 .7,.7 .8,.9 .5,1.1 .5,.8 .5,.7 .6,1 1.4,.3 1,-.6 .6,-.7 .4,-1.1 .4,-1.4 .5,-1 .4,-1 .5,-1 .3,-1 .6,-1 .7,-1 .6,-.8 .6,-.7 .9,-.7 1,-.7 .7,-.6 .8,-1 .6,-.5 .9,-.6 1.2,-.4 1.3,-.3 1.5,.1 1.5,.1 1.5,-.1 1,-.4 1.5,-.1 1.5,.1 1,.5 1,.5 1,.6 .6,.5 .9,.6 1,.5 1,.7 .9,.7 .6,.8 .5,.9 .5,1 .5,1.1 .4,1.2 .1,1 .5,1.3 .1,1.2 .1,1.5 0,1.5 -.2,1.3 -.3,1.2 -.1,1.5 -.3,1 -.2,1.5 -.3,1 -.4,1 -.4,1.2 -.5,1.3 -.5,.9 -.5,1 -.5,1 -.5,.8 -.8,.8 -.7,.7 -1,.7 -1,.6 -.7,.5 -.8,.5 -1,.6 -1.2,.4 -1.3,.4 -1,.2 -1.5,0 -1.1,-.1 -1.4,-.3 -1.5,-.1 -1,-.2 -1.5,-.2 -1.1,-.2 -1.4,-.4 -1,-.4 -1,-.2 -1.5,-.4 -1,-.3 -1.5,-.3 -1,-.1 -1.5,-.3 -1,-.3 -1,-.8 -.6,-.5 -1.4,-.3 -1.5,-.2 -1.2,.5 -1,.5 -1.2,.5 -1.1,.3 -1,.2 -1.5,.1 -1,-.2 -1.5,-.3 -1.5,0 -1,-.2 -1.5,-.4 -1,-.4 -1,-.6 -.5,-.5 -1,-.9 -.6,-.6 -.5,-1 -.5,-1 -.4,-1 -.4,-1.5 -.2,-1 .1,-1.5 0,-1.5 .2,-1 .6,-1 .7,-.7 .8,-.8 .7,-.9 .5,-1.1 .3,-1 .2,-1.1 .6,-.9 .9,-.8 .8,-.7 .7,-.6 .5,-1.4 0,-.6 -.5,-1 -.7,-.9 -.8,-1 -.1,-1 -.1,-1.5 -.1,-1.5 -.2,-1.3 -.5,-.8 -1,-.7 -1,-.7 -.6,-.5 -.7,-1 -.7,-1 -.5,-1 -.2,-1 -.4,-1 -.1,-1.5 -.4,-1 -.1,-1.5 0,-1.5 -.1,-1.5 0,-1.5 0,-1.5 0,-1.5 0,-1.5 0,-1.5 .1,-1.5 0,-1.5 0,-1.5 0,-1.5 -.1,-1.5 -.1,-1.5 0,-1.5 -.1,-1.3 -.5,-1.2 -.3,-1 0,-1.5 .1,-1.5 .1,-1.5 .6,-1 .5,-.5 1,-.8 1,-.7 .6,-.5 .9,-.6 1,-.6 1,-.5 1,-.4 1.1,-.4 1.4,-.2 .5,-.3M438,178.2l1.5,-.4 1.5,-.1 1.5,.1 1.4,.4 1.1,.3 1,.4 1,.4 1,.4 1.2,.5 .8,.5 .9,1 .6,.9 .5,.7 .6,.9 .4,1 .5,1.5 .3,1 0,1.5 -.1,1.5 .2,1.5 0,1.5 -.1,1.5 0,1.5 0,1.5 -.2,1.5 -.3,1 -.3,1.5 -.1,1 -.2,1.5 -.2,1.5 -.1,1 -.1,1.5 -.1,1.5 -.2,1.5 -.2,1 -.4,1 .1,1.5 .2,1 .1,1.5 -.3,1.3 -.5,1.1 -.5,.8 -.6,.8 -.4,1 -.7,1 -.5,1 0,1.5 0,1.5 -.3,1.3 -.5,1 -.5,1.1 -.1,1.1 -.1,1.5 .7,1 .5,.5 1,1 .5,.5 .7,1 .4,1 .5,1 .6,1 .6,1 1.2,.2 1.4,.3 .6,-.3 .5,-.7 .8,-1 .6,-1 .4,-1 .5,-1 .5,-1 .5,-1 .5,-1 .6,-1 .6,-1 .5,-.6 .7,-.9 .8,-.6 1,-.7 1,-.7 .6,-.5 .9,-.7 1,-.5 1.1,-.3 1.4,0 1,.1 1.5,0 1,-.2 1,-.5 1.5,-.3 1.5,.1 1,.5 1,.7 .8,.6 .8,.5 1,.5 .9,.5 1,.8 .6,.7 .5,1 .5,1 .6,1 .4,1 .2,1.5 .4,1 .3,1 .3,1.5 -.1,1.5 -.2,1 -.3,1.5 -.2,1.5 -.1,1 -.2,1.5 -.2,1.1 -.5,1.4 -.5,1 -.4,1 -.6,1 -.5,1 -.5,1 -.5,.6 -1,.7 -1,.6 -1,.6 -.7,.5 -.8,.5 -1,.7 -1,.4 -1.2,.4 -1.3,.4 -1.5,0 -1.5,-.2 -1,-.2 -1.5,-.2 -1.5,-.2 -1,-.2 -1.5,-.4 -1,-.3 -1,-.2 -1.5,0 -.5,-.1 -1,-.4 -1.1,-.5 -1.4,-.3 -1.1,-.2 -1.4,-.5 -.6,-.5 -.9,-.8 -1.5,.1 -1,-.8 -1,-.4 -1.2,.4 -.8,.5 -1,.5 -1.5,.5 -.6,0 -1.4,-.1 -1.5,-.2 -1.5,0 -1.5,0 -1.2,-.2 -1.3,-.4 -1,-.6 -.8,-.5 -.7,-.6 -.8,-.9 -.7,-1 -.5,-1 -.2,-1 .1,-1.5 .1,-1 .1,-1.5 .4,-1.2 .5,-.9 .6,-.9 .8,-1 .5,-1 .5,-1 .3,-1 .6,-1 .7,-.8 1,-.7 .5,-.7 -.2,-.8 .3,-1 1.2,-.5 .6,-1 -.7,-1 -.7,-.6 -1,-.9 -.5,-.5 -.6,-1 -.4,-1.4 -.3,-1.1 -.3,-1 -.5,-1 -.9,-.9 -.8,-.6 -.7,-.5 -1,-1 -.5,-.7 -.5,-1.1 -.3,-1.2 -.2,-1.1 -.2,-1.4 -.3,-1 -.4,-1.5 0,-1.5 -.1,-1.5 0,-1 0,-1.5 0,-1 0,-1.5 0,-1 0,-1.5 .1,-1 .3,-1.5 0,-1.5 -.2,-1.5 -.1,-1.5 -.1,-1 -.1,-1.5 -.1,-1.5 -.3,-1.4 -.5,-1.1 -.1,-1 .1,-1.5 .1,-1 .4,-1.4 .5,-.7 1,-.8 .8,-.6 .7,-.6 1,-.6 1,-.6 1,-.6 1,-.5 1,-.3 1.5,-.3M439.2,178.7l1.3,-.2 1.5,0 1,.2 1.4,.5 1.1,.4 1,.4 1,.4 1,.4 1,.6 .9,.8 .6,.8 .5,.7 .6,1 .5,1 .4,1 .4,1.5 .2,1 -.2,1 -.3,1.5 -.1,1.5 -.1,1 -.1,1.5 0,1.5 0,1.5 -.3,1.5 -.2,1 -.2,1.5 -.1,1 -.2,1.5 -.1,1.5 -.2,1.5 -.1,1 -.1,1.5 -.3,1.5 -.3,1 -.2,1 0,1.1 .2,1.4 0,1.5 -.3,1 -.6,1 -.6,1 -.2,1 -.5,1.4 -1,.5 -.7,.6 0,1.5 .2,1 -.1,1 -.5,1 -.6,1 -.4,1 0,1.5 .6,.6 .6,.9 -.5,1 -.2,1 .6,.6 1,.8 .8,.6 .7,.7 .6,.8 .7,1 .5,1 .5,1 1.2,.3 1,-.4 1,.4 1,.4 .5,-1.2 .3,-1 .7,-.7 .8,-.8 .5,-1 .6,-1 .5,-1 .6,-.9 .5,-1 .5,-1 .5,-.9 .5,-.7 .8,-1 .7,-.6 1,-.6 1,-.7 .9,-.6 .9,-.5 1.2,-.4 1,-.2 1.5,0 1.5,0 1.5,-.3 1,-.3 1.5,-.3 1.4,.5 .7,.5 .9,.5 1,.6 1,.5 1,.5 .9,.9 .6,.9 .5,1 .5,.9 .5,1 .3,1.2 .2,1.2 .4,1.3 .2,1 .1,1.5 -.2,1.2 -.2,1.3 -.2,1.5 0,1.5 -.1,1.1 -.3,1.4 -.3,1 -.4,1 -.5,1 -.5,1 -.5,1 -.6,1 -.9,.8 -1,.6 -1,.6 -.7,.5 -.8,.5 -1,.7 -1,.5 -1,.4 -1.4,.4 -1.1,.2 -1.5,-.2 -1,-.2 -1.5,-.2 -1,-.2 -1.5,-.3 -1,-.2 -1.3,-.4 -1.2,-.2 -1.4,.2 -1.1,0 -.9,-.5 -.9,-.5 -1.2,-.4 -1,-.3 -1,-.4 -1,-.8 -.5,-.6 -1.5,-.3 -1,.5 -.7,-.7 -.8,-1 -1,-.3 -1,.5 -1,.7 -1,.6 -1,.3 -1.5,-.1 -1,-.3 -1.3,-.4 -1.2,-.1 -1.5,0 -1.5,-.3 -1,-.6 -.8,-.5 -.7,-.9 -.3,-1.1 .1,-1.5 -.3,-1.1 -.5,-1.4 -.1,-1 .2,-1 .4,-1.1 .5,-.9 .5,-1 .5,-1 .5,-1 .6,-1 .9,-.9 .9,-.6 .8,-.5 .3,-.5 -.5,-1 0,-1.1 1,-.6 1,-.4 .8,-.9 -.6,-1 -.7,-.8 -.6,-.7 -.8,-1 -.4,-1 -.1,-1.5 -.6,-.9 -1,-.4 -1,-.6 -.8,-.6 -.6,-1 -.6,-.8 -.7,-.7 -.8,-.7 -.6,-.8 -.5,-1 -.2,-1.5 -.2,-1.2 -.2,-1.3 -.4,-1 -.3,-1.5 -.1,-1 -.2,-1.5 0,-1.5 0,-1.5 .1,-1.5 -.1,-1.5 0,-1.5 .2,-1 .4,-1.5 0,-1.5 -.3,-1.5 -.2,-1 -.1,-1.5 -.3,-1.3 -.5,-1.2 -.1,-1 -.4,-1.4 -.2,-1.1 .1,-1.5 .2,-1 .4,-1.3 .5,-.8 1,-.9 .7,-.5 .8,-.6 1,-.6 1,-.6 1,-.6 1,-.3 1,-.3 1.5,-.3 .7,-.2M438.5,179.7l1.5,-.4 1.5,-.1 1.5,.3 1,.3 1.4,.4 1.1,.4 1,.4 1,.5 1,.6 .7,.6 .8,1 .5,.7 .5,1.1 .5,1.2 .3,1 .2,1.2 0,1.1 -.4,1.2 -.3,1 -.3,1.5 -.2,1 -.1,1.5 0,1.5 0,1.5 -.2,1.2 -.1,1.3 -.1,1.5 -.1,1.5 -.2,1.5 -.1,1 -.1,1.5 -.2,1.5 -.1,1 -.4,1.5 -.3,1 -.1,1.5 0,1.5 -.1,1.5 -.4,1 -.5,1 -.3,1 -.1,1.5 -.8,.5 -1,.7 -1,.3 -1.2,.5 0,1.5 .4,1 -.2,1.3 -.6,.7 -.9,.7 -1.1,-.2 -.7,-1 -.4,-1 .1,-1.5 -.4,-1.2 -1,-.5 -1.5,-.3 -1,-.1 -1.1,-.4 -.7,-1 -.2,-1.1 -.7,-.9 -.8,-.8 -.5,-.7 -.4,-1.5 -.1,-1 -.4,-1.5 -.2,-1 -.5,-1 -.3,-1.5 -.1,-1 -.2,-1.5 0,-1.5 0,-1.5 0,-1.5 0,-1.5 .2,-1.2 .5,-1.3 .3,-1 -.2,-1.5 -.3,-1 -.3,-1.1 -.2,-1.4 -.3,-1.4 -.5,-1.1 -.5,-.7 -.5,-1.3 -.2,-1 .1,-1.5 .1,-1 .4,-1.5 .5,-1 .6,-.6 1,-.9 .6,-.5 .9,-.6 1,-.6 1,-.5 1,-.3 1.5,-.4 1,-.1M472.2,228.2l1.3,-.2 1.5,-.1 1.5,-.1 1,.4 1.1,.5 1.1,.5 .9,.5 .9,.5 1,.8 .5,.7 .6,1 .5,1 .5,1 .4,1.5 .1,1 .3,1.5 .1,1.5 -.2,1.5 -.1,1.5 -.2,1.5 0,1 -.1,1.5 -.3,1.5 -.2,1 -.4,1 -.5,1.2 -.5,1 -.5,.9 -.8,.9 -.8,.5 -.9,.5 -1,.9 -.9,.6 -.8,.5 -.8,.5 -1.4,.5 -1.1,.3 -1,.2 -1.1,0 -1.4,-.3 -1.3,-.2 -1.2,-.2 -1.1,-.3 -1.4,-.4 -1,-.3 -1.5,-.1 -1.5,0 -1,-.3 -1.5,-.3 -1,-.4 -1,-.5 -1,-.6 -.7,-.6 -.8,-.9 -.6,-.6 -.9,.1 -1.1,-.1 -1.4,-.4 -.5,-.8 -.5,-.9 -1.2,.1 -.8,.7 -.9,.8 -.7,.5 -1.4,.5 -1.5,-.4 -1,-.4 -1,-.5 -1,-.4 -1,-.3 -1.1,-.5 -.9,-.7 -.5,-1 -.5,-1.1 -.5,-.9 -.5,-1.1 -.1,-1.2 .2,-1 .4,-1.2 .5,-1.1 .5,-1 .5,-.9 .7,-.8 .8,-.7 1,-.5 1,-.4 1.5,-.4 .9,0 1.1,.3 1,.4 1,.5 1,.7 .7,.6 .8,.9 .5,.6 .5,1 .5,1.5 .5,.7 1.1,-.2 1.4,0 1,.2 1,.4 .7,-.6 .7,-1 .2,-1 .4,-1.1 1,-.7 .7,-.7 .5,-1 .6,-1 .6,-1 .6,-.9 .5,-1.1 .5,-1 .5,-.9 .5,-.7 .8,-.9 .7,-.5 1,-.7 1,-.6 1,-.6 1,-.3 1.5,-.3 1.5,0 .7,0M443.2,233.2l.9,0 1.3,.5 .7,.5 -.6,.6 -1,.8 -1,.6 -1,.3 -1.2,-.3 -.9,-.5 .6,-.7 .6,-.8 .9,-.8 .7,-.2M439.9,179.7l1.1,-.1 1.2,.1 1.3,.3 1,.3 1.3,.4 1.2,.5 1,.4 1,.6 .7,.5 .8,.8 .5,.7 .5,1 .3,1.5 .2,1.5 .1,1 .1,1.5 -.4,1 -.4,1 -.3,1.5 -.2,1 -.1,1.5 0,1.5 -.1,1.5 -.1,1.5 0,1.5 -.1,1.5 -.1,1 -.1,1.5 -.2,1.5 -.1,1.3 -.2,1.2 -.3,1.3 -.4,1.2 -.2,1 0,1.5 -.1,1.5 -.3,1.3 -.5,1.2 -.2,1 -.8,.7 -1,.5 -1,.8 -.5,.5 -1,.7 -1,.4 -1.2,-.1 -1.3,-.4 -1,-.3 -1.1,-.3 -1.2,-.5 -.7,-.5 -.4,-1.5 -.6,-1 -.5,-.6 -.5,-1 -.4,-1.4 -.2,-1 -.4,-1.5 -.4,-1 -.4,-1 -.2,-1.2 -.1,-1.3 -.1,-1.5 0,-1.5 0,-1.5 0,-1.5 .2,-1.2 .5,-1.1 .5,-1 .2,-1.2 -.2,-1 -.5,-1.1 -.5,-1.4 -.2,-1 -.3,-1.1 -.5,-1 -.8,-.9 -.7,-.9 -.2,-1.1 0,-1.5 .2,-1 .4,-1.5 .3,-1 .8,-1 .5,-.5 1,-.9 1,-.6 1,-.5 1,-.5 1,-.3 1,-.2 1.5,-.3 .9,-.2M473.2,228.7l1.3,-.1 1.5,0 1,.2 1.2,.4 1.2,.5 .9,.5 .9,.5 .8,.7 .6,.8 .5,1 .6,1 .4,1 .3,1.5 .1,1 .2,1.5 0,1.5 -.2,1 -.1,1.5 -.2,1.5 -.2,1.5 -.1,1 -.3,1.5 -.2,1 -.4,1.1 -.5,1.1 -.5,.9 -.6,.9 -.9,.9 -.8,.6 -.7,.6 -1,.8 -.9,.6 -1,.5 -1.1,.4 -1,.3 -1.5,.3 -1.5,-.2 -1.3,-.3 -1.2,-.2 -1.2,-.3 -1.3,-.3 -1,-.3 -1.5,-.3 -1,-.1 -1.2,-.5 -1.3,-.3 -1.5,-.1 -1,-.4 -.9,-.7 -.6,-.5 -.8,-1 -.7,-.9 -1,-.2 -1.1,-.4 -1.3,-.5 -.7,-.5 -.4,-1.5 -.1,-1 .1,-1 .6,-1 .8,-.5 .6,.5 1.5,.3 1,-.3 .6,0 .9,-.9 .7,-.6 .8,-1 .3,-1 .2,-1 .8,-1 .7,-.5 .5,-1 .5,-1.1 .5,-.9 .6,-1 .4,-1 .5,-1.2 .5,-.9 .7,-.9 .8,-.8 1,-.7 .7,-.5 .8,-.5 1.2,-.5 1.3,-.3 1.5,-.1 1.5,0 .7,-.1M441,238.7l1,-.2 1.5,.1 1,.4 1,.6 .7,.6 .8,1 .5,1 .3,1 -.1,1.5 -.1,1.5 -.2,1 -.3,1.5 -.3,1 -.7,1 -.6,.6 -1,.5 -1.4,-.1 -1.1,-.4 -1,-.4 -1,-.5 -1,-.5 -.8,-.7 -.7,-1 -.5,-.8 -.5,-1 -.2,-1.2 .2,-1.4 .3,-1.1 .4,-1 .6,-1 .7,-.7 1,-.8 1,-.3 .5,-.2" fill="none" stroke="#111" stroke-width="0.6" stroke-opacity="0.55"/>
<path d="M439.2,180.2l1.3,-.3 1.5,.1 1,.2 1.5,.4 1,.3 1,.4 1,.5 1,.5 1,.6 .7,.8 .7,1 .3,1 .1,1.5 -.2,1.5 .1,1.5 -.1,1.5 -.4,1 -.2,1 -.3,1.5 -.2,1.2 -.1,1.3 -.1,1.5 0,1.5 0,1.5 0,1.5 0,1.5 -.2,1.5 -.1,1 -.2,1.5 -.3,1.5 -.2,1 -.3,1 -.3,1.5 -.1,1.5 -.1,1.2 -.3,1.3 -.3,1 -.8,1 -1,.5 -.9,.5 -1,.5 -.7,.5 -1,.6 -1,-.3 -1,-.5 -1,-.5 -1,-.5 -1,-.6 -.6,-.7 -.7,-1 -.7,-1 -.3,-1 -.3,-1 -.3,-1.5 -.4,-1 -.5,-1 -.2,-1.2 -.1,-1.3 -.1,-1.5 0,-1.5 -.1,-1.5 0,-1.5 .4,-1 .6,-1 .5,-1 .2,-1.5 -.3,-1.5 -.5,-1 -.4,-1 -.4,-1 -.4,-1 -.7,-1 -.7,-1 -.5,-.7 -.5,-.9 -.2,-1.4 .1,-1.5 .3,-1 .3,-1.1 .5,-.9 1,-1 .5,-.5 1,-.7 1,-.5 1,-.4 1.2,-.4 1.3,-.3 1.2,-.2M468.5,229.7l1,-.2 1.5,-.2 1.5,0 1.5,-.1 1.5,.1 1.5,.2 1,.3 1,.4 1,.6 1,.6 .8,.8 .6,1 .5,1 .5,1 .3,1 .2,1.5 .1,1.4 0,.8 -.1,1.3 -.1,1.5 -.1,1.5 -.2,1 -.2,1.5 -.3,1.4 -.2,1.1 -.3,1 -.5,1.2 -.5,.9 -.6,.9 -.9,1 -.6,.5 -.9,.8 -.9,.7 -.8,.5 -1,.5 -1.3,.5 -1,.2 -1.5,.2 -1.5,-.3 -1,-.2 -1.5,-.3 -1,-.3 -1.2,-.3 -1.3,-.4 -1.1,-.1 -1,-.5 -.9,-.6 -1,-.4 -1.5,0 -1,0 -1,-.5 -.5,-.5 -.7,-1 -.6,-1 -.7,-.9 -1,-.5 -.3,-1.1 .6,-1 .7,-.5 1,-.5 1,-1 .6,-.5 .9,-.7 .9,-.8 .4,-1 .2,-1 .5,-1.3 .5,-.9 .4,-1.3 .5,-1 .6,-.9 .5,-1.1 .4,-1 .5,-1 .6,-1 .5,-.6 1,-.8 .9,-.6 .8,-.5 1.3,-.5M441.9,239.7l.9,0 1.2,.5 .6,.5 .4,1 0,1.1 -.4,1.4 .3,1.5 .3,1 0,1.5 -.3,1 -.9,.7 -1.5,.1 -1,-.4 -1,-.5 -1,-.9 -.5,-.7 -.5,-.8 -.4,-1.5 .1,-1.5 .3,-1.3 .5,-.9 .7,-.8 .9,-.5 1.3,-.5M438.5,180.7l1.5,-.4 1.5,0 1.5,.3 1,.2 1.2,.4 1.3,.5 1,.4 1,.5 .8,.6 .7,.8 .5,.8 .4,1.4 -.1,1.5 -.4,1 -.2,1.5 0,1.5 -.2,1.3 -.4,1.2 -.2,1 -.3,1.5 -.1,1 -.2,1.5 .1,1.5 .1,1.3 .1,1.2 -.1,1.5 0,1 -.2,1.5 -.1,1.5 -.2,1 -.3,1.5 -.3,1 -.4,1.5 0,1 -.1,1.5 -.4,1.5 -.3,1 -.7,.6 -1,.6 -1,.3 -1.5,.3 -1.5,-.2 -1,-.3 -1,-.3 -1.2,-.5 -.8,-.7 -.8,-.8 -.6,-1 -.2,-1 -.3,-1.5 -.3,-1 -.5,-1 -.3,-1.5 -.1,-1 0,-1.5 -.1,-1.5 -.1,-1.5 .2,-1.5 .5,-1 .6,-1 .3,-1 .1,-1.5 -.3,-1.5 -.2,-1 -.4,-1 -.5,-1 -.7,-1 -.6,-1 -.5,-1 -.7,-1 -.5,-.9 -.3,-1.1 -.2,-1 0,-1.5 .3,-1 .6,-1 .6,-.7 1,-.8 .8,-.5 1,-.5 1.2,-.5 1,-.3 1.5,-.2M468.7,230.2l1.3,-.3 1.5,0 1.5,-.1 1.5,.1 1.5,.1 1,.2 1.5,.5 1,.5 .8,.5 .7,.6 .7,.9 .5,1 .6,1 .3,1 .1,1.5 .2,1.5 -.1,1.5 -.1,1.5 -.1,1.5 -.2,1 -.2,1.5 -.2,1.1 -.3,1.4 -.2,1 -.5,1.2 -.5,.9 -.5,.9 -.9,1 -.6,.6 -.9,.9 -.7,.5 -.9,.6 -1,.4 -1.5,.5 -1,.3 -1.5,-.1 -1,-.2 -1.5,-.2 -1.1,-.3 -1.4,-.4 -1,-.3 -1.5,-.3 -.9,-.5 -.7,-.5 -.9,-.7 -1,-.6 -1.5,.1 -1.5,0 -1,-.8 -.5,-.9 -.4,-1.1 -.3,-1 .2,-1 .7,-1 .8,-.7 1,-.7 1,-.6 .5,-.5 .6,-1 .3,-1.5 .1,-1 .5,-1 .5,-1.5 .4,-1 .6,-.9 .5,-.9 .4,-1.2 .4,-1 .6,-1 .6,-.8 .8,-.7 .8,-.5 .9,-.6 1.2,-.4M441.9,246.2l.6,.1 0,1.3 -.8,-.9 .2,-.5M439.9,180.7l1.1,-.1 1.2,.1 1.3,.4 1,.2 1.2,.4 1.2,.5 1,.5 .8,.5 .8,.8 .5,.7 .5,1.5 -.2,1.5 -.4,1 -.4,1 -.2,1.5 -.1,1.5 -.2,1 -.4,1.5 -.2,1 -.3,1.5 -.2,1 0,1.5 .2,1 .1,1.5 .1,1.5 -.1,1.5 -.1,1.5 -.2,1 -.2,1.5 -.2,1 -.4,1.5 -.2,1 -.1,1.5 -.2,1.5 -.3,1 -.5,1 -.8,.5 -1.5,.3 -1.5,-.2 -1,-.2 -1.5,-.3 -1,-.2 -1,-.7 -.9,-.7 -.4,-1 -.2,-1 -.3,-1.5 -.4,-1 -.3,-1.5 0,-1 0,-1 0,-1 -.1,-1.5 -.1,-1.5 .3,-1 .5,-1 .4,-1.2 .2,-1.3 -.1,-1.5 -.1,-1.4 -.2,-1.1 -.4,-1 -.6,-1 -.6,-1 -.4,-1 -.6,-1 -.6,-1 -.6,-.7 -.5,-.8 -.5,-1 -.2,-1.5 .3,-1 .6,-1 .8,-.7 1,-.8 1,-.5 1,-.4 1,-.4 1,-.2 1.5,-.3 .9,-.2M468.9,230.7l1.1,-.2 1.5,-.1 1.5,0 1.5,.1 1.5,.2 1,.2 1,.3 1,.5 1,.6 .9,.9 .6,1 .5,.9 .4,1.1 .1,1 .2,1.5 .1,1.5 -.2,1.5 0,1.5 -.2,1 -.3,1.5 -.1,1 -.3,1.5 -.3,1 -.4,1.1 -.5,1 -.6,.9 -.7,1 -.7,.7 -.7,.8 -.8,.6 -1,.6 -1,.4 -1.3,.4 -1.2,.2 -1.5,-.2 -1,-.1 -1.5,-.3 -1,-.3 -1,-.3 -1.5,-.5 -1,-.3 -.9,-.7 -.6,-.7 -.8,-.8 -.7,-.5 -1.5,0 -1,.4 -1.3,-.4 -.7,-.9 -.3,-1.1 .3,-1.4 .5,-.7 1,-.7 1,-.5 .9,-.7 .6,-.7 .5,-1.1 .2,-1.2 .3,-1.5 .3,-1 .2,-1 .5,-1.2 .5,-.8 .6,-1 .4,-1 .5,-1.4 .5,-.9 .5,-.7 1,-.8 1,-.7 1,-.4 .4,-.1M439.2,181.2l1.3,-.3 1.5,.1 1,.3 1.5,.3 1,.3 1,.5 1,.5 1,.6 .7,.7 .7,1 .2,1 -.1,1 -.5,1.1 -.5,1 -.5,.9 -.4,1.5 .1,1.5 -.3,1 -.3,1.5 -.3,1 -.3,1.5 -.1,1 .1,1 .3,1.5 .1,1.5 0,1.5 -.1,1.5 -.1,1.5 -.2,1.4 -.2,1.1 -.3,1.3 -.3,1.2 -.1,1.5 -.1,1.2 -.5,1.3 -.5,.7 -1,.3 -1,0 -1.5,-.2 -1.5,-.3 -1,-.1 -1,-.5 -1,-.9 -.3,-1 -.2,-1.3 -.4,-1.2 -.1,-1 -.1,-1.5 0,-1.5 -.1,-1.5 0,-1.5 .2,-1.1 .5,-1.4 .3,-1 .1,-1.5 0,-1.5 -.1,-1.5 -.2,-1.5 -.4,-1 -.5,-1 -.3,-1 -.4,-1 -.9,-1 -.6,-.5 -.9,-1 -.6,-.7 -.5,-.8 -.3,-1.5 .3,-1.1 .7,-.9 .8,-.8 1,-.6 1,-.5 1,-.4 1,-.3 1.5,-.3 .7,-.1M469.1,231.2l1.4,-.2 1.5,-.1 1.5,.1 1.5,.2 1,.1 1.4,.4 1.1,.4 .9,.6 .7,.5 .7,1 .6,1 .4,1 .2,1.5 .1,1 .1,1.5 -.2,1.5 0,1.4 -.2,1.1 -.3,1.5 -.2,1 -.3,1.5 -.3,1 -.4,1 -.6,1 -.6,1 -.6,.8 -.6,.7 -.9,.9 -.8,.6 -1.1,.5 -1.1,.4 -1,.2 -1.5,0 -1,-.2 -1.5,-.3 -1,-.3 -1,-.3 -1.4,-.5 -1.1,-.4 -.7,-.6 -.8,-1 -.5,-.6 -.7,-.9 -.8,-.6 -1.5,.1 -.7,.5 -1.2,0 -.4,-1 .3,-1.2 1,-.6 1,-.3 1,-.8 .5,-.9 .5,-1 .3,-1.2 .2,-1.4 .3,-1.1 .2,-1.1 .4,-1.4 .6,-1 .5,-.8 .5,-1 .4,-1.2 .4,-1 .6,-1 .6,-.7 1,-.7 1,-.4 .6,-.2M438.3,181.7l1.2,-.3 1.5,-.2 1.5,.2 1,.3 1.5,.4 1,.4 1,.5 1,.6 .7,.6 .8,1 .2,1 -.2,1.1 -.5,1 -.6,.9 -.8,1 -.6,.8 -.2,1.2 .2,1.2 0,.8 -.4,1.5 -.3,1 -.3,1.5 .1,1.5 .2,1.5 .2,1 .1,1.5 0,1.5 -.1,1 -.1,1.5 -.2,1.5 -.2,1 -.3,1.5 -.2,1 -.1,1.5 -.4,1.5 -.5,.6 -1.5,.3 -1.5,-.1 -1.5,-.3 -1,-.2 -1,-.5 -.5,-.8 -.3,-1.5 -.3,-1 -.2,-1.5 0,-1.5 0,-1.5 -.1,-1.5 .1,-1.5 .3,-1 .4,-1.5 .2,-1 0,-1.5 0,-1.5 0,-1.5 -.2,-1 -.4,-1.5 -.2,-1 -.3,-1.2 -.6,-.8 -.9,-.8 -1,-.6 -.7,-.6 -.8,-.8 -.5,-.8 -.4,-1.4 .4,-1.3 .6,-.7 .9,-.8 1,-.6 1,-.4 1,-.3 1.5,-.4 .3,0M469.3,231.7l1.2,-.2 1.5,0 1.5,.1 1,.1 1.5,.3 1,.2 1.2,.5 .9,.5 .9,.9 .5,.8 .5,1 .3,1.3 .2,1.2 .1,1.3 -.1,1.5 0,1 -.2,1.5 -.3,1.4 -.2,1.1 -.3,1.3 -.3,1.2 -.4,1 -.6,1 -.6,1 -.6,1 -.5,.6 -.8,.9 -.8,.5 -1,.5 -1.4,.4 -1,.2 -1,-.1 -1.5,-.3 -1,-.2 -1.5,-.5 -1,-.4 -1,-.4 -1,-.6 -.5,-.6 -.7,-1 -.6,-1 -.6,-1 -.4,-1 0,-1.5 .3,-1 .4,-1.5 .2,-1 .3,-1.5 .1,-1 .4,-1.5 .5,-1 .6,-.8 .5,-.9 .4,-1.3 .4,-1 .5,-1 .7,-.8 1,-.7 1,-.4 .3,-.1M439.8,181.7l1.2,-.2 1.2,.2 1.3,.3 1,.3 1.1,.4 1,.5 .9,.5 1,.8 .6,.7 .2,1.5 -.5,1 -.6,1 -.7,.7 -1,.8 -.5,.6 -.5,.9 0,1.1 .3,1.4 -.3,1.2 -.3,1.3 -.1,1.5 .1,1.5 .3,1.5 .2,1 .1,1.5 -.1,1.5 -.1,1.5 -.1,1.3 -.1,1.2 -.2,1.5 -.2,1 -.3,1.5 -.2,1.5 -.5,.6 -1.5,.3 -1.5,-.2 -1.5,-.2 -1,-.4 -.5,-1.1 -.3,-1 -.2,-1.1 -.1,-1.4 .1,-1.5 -.1,-1.5 0,-1.5 .1,-1 .4,-1.5 .4,-1 .2,-1.1 .2,-1.4 .1,-1.5 -.1,-1.5 -.2,-1 -.5,-1.1 -.1,-1.4 -.4,-1.5 -.5,-.7 -1,-.8 -.9,-.5 -.9,-.5 -.7,-.5 -.9,-1 -.5,-1 .2,-1.5 .7,-.9 .7,-.6 .9,-.5 1.1,-.5 1.3,-.4 1,-.2 1.5,-.3 .3,-.1M469.5,232.2l1.5,-.2 1.5,.1 1,.1 1.5,.2 1.3,.3 1.2,.3 1,.6 .8,.6 .7,1 .4,1 .3,1 .3,1.5 .1,1 -.1,1.4 -.1,1.1 -.2,1.5 -.2,1 -.4,1.5 -.2,1 -.4,1.4 -.5,1.1 -.5,.9 -.5,.9 -.5,.8 -.7,.9 -.8,.8 -1,.6 -1,.3 -1.5,.3 -.5,0 -1.5,-.3 -1.1,-.2 -1.4,-.5 -1,-.4 -1,-.4 -1,-.7 -.5,-.6 -.6,-.9 -.4,-1 -.5,-1.1 -.4,-1.4 .2,-1.5 .2,-1 .2,-1.5 .3,-1.2 .2,-1.3 .3,-1.1 .5,-1.1 .6,-.8 .5,-1 .4,-1.1 .5,-1.4 .5,-.9 .6,-.6 .9,-.6 1,-.4M439.1,182.2l1.4,-.3 1.5,0 1,.3 1.5,.4 1,.4 1,.5 1,.6 .7,.6 .7,1 -.2,1.5 -.7,.9 -.5,.6 -1,.7 -1,.7 -1,.5 -.8,.6 -.9,.5 -.3,.6 .7,.9 .3,1.1 -.2,.9 -.3,1.5 .1,1.5 .4,1.2 .5,1.1 .5,1.2 .2,1 -.1,1.5 -.3,1 0,1.5 .1,1.5 -.1,1.5 -.3,1.5 -.2,1 -.3,1.5 -.5,.6 -1.5,.2 -1.5,-.2 -1,-.6 -.4,-1 -.2,-1 -.1,-1.5 .1,-1.5 -.1,-1.5 0,-1.5 .2,-1.1 .5,-1.2 .4,-1.2 .2,-1 .4,-1.5 .2,-1 .2,-1.5 -.3,-1.5 -.4,-1 -.3,-1 -.2,-1.5 -.6,-1 -.6,-.6 -1,-.6 -1,-.5 -1,-.5 -1,-.6 -.8,-.7 -.7,-1 0,-1 .5,-.9 .6,-.6 .9,-.6 1,-.4 1.4,-.5 1.1,-.3 1.1,-.2M470,232.7l1,-.1 1.5,.1 1,.1 1.5,.2 1,.2 1.5,.5 .9,.5 .6,.6 .5,.9 .5,1.2 .3,1.3 .2,1 0,1.5 -.1,1 -.2,1.5 -.2,1 -.4,1.5 -.2,1 -.4,1.3 -.5,1.2 -.5,.9 -.5,.9 -.5,.9 -.6,.8 -.9,.9 -1,.5 -1,.4 -1.5,.1 -1.5,-.2 -1,-.2 -1.2,-.5 -1.2,-.5 -.9,-.5 -.7,-.5 -.8,-1 -.4,-1 -.4,-1 -.4,-1.3 -.1,-1.2 .2,-1 .2,-1.5 .3,-1 .2,-1.5 .2,-1 .5,-1.2 .5,-.8 .6,-1 .4,-1.1 .5,-1.4 .5,-1 .5,-.5 1,-.7 1,-.3M440.5,182.2l1,0 1.5,.4 1,.2 1.1,.4 1.1,.5 .8,.5 1,.8 .5,.9 -.1,.8 -.6,1 -.8,.8 -1,.5 -1,.5 -1,.3 -1.4,.4 -1.1,.2 -1.5,0 -1,-.4 -1,-.4 -1.3,-.4 -1.1,-.5 -1.1,-.5 -.7,-.5 -.8,-1 -.1,-1 .6,-.9 .7,-.6 1,-.5 1.3,-.5 1,-.3 1,-.2 1.5,-.4 .5,-.1M441.2,200.7l1,0 .5,1 .1,1.5 -.2,1.5 .2,1.5 .2,1.1 .2,1.4 -.1,1.5 -.2,1 -.4,1.2 -1,.6 -1.4,-.3 -.4,-1 -.1,-1.5 0,-1.5 -.1,-1.3 0,-.8 .3,-1.4 .3,-1 .4,-1.3 .3,-1.2 .4,-1M470.9,233.2l.8,0 1.3,.1 1.5,.3 1,.1 1.5,.5 1,.5 .5,.5 .6,1 .4,1.1 .4,1.4 .1,1 0,1 -.2,1.5 -.3,1.4 -.3,1.1 -.2,1 -.4,1.5 -.4,1 -.4,1 -.6,1 -.5,1 -.7,1 -.5,.6 -1,.7 -1,.4 -1.5,.1 -1.5,-.2 -1,-.2 -1,-.4 -1,-.5 -1,-.6 -1,-.9 -.5,-1 -.3,-1 -.4,-1 -.1,-1.5 .2,-1.5 .2,-1 .2,-1.5 .2,-1 .4,-1.5 .5,-1 .6,-1 .4,-1 .4,-1 .4,-1 .7,-1 .7,-.5 1.4,-.5 .4,0M439.8,182.7l1.2,-.2 1.1,.2 1.4,.3 1,.3 1,.4 1,.6 1,.6 .6,.8 -.1,1 -.8,1 -.7,.5 -1,.5 -1.4,.5 -1.1,.3 -1.1,.2 -1.4,0 -1,-.1 -1,-.4 -1.5,-.4 -1,-.4 -1,-.4 -1,-.7 -.5,-.6 0,-1.3 .7,-.7 .8,-.5 1.1,-.5 1.4,-.4 1,-.3 1.3,-.3M441.5,208.2l0,.5 -.1,.5 .1,-1M469.6,234.2l1.4,-.4 1.5,.1 1.5,.2 1,.2 1.5,.3 1,.5 .6,.6 .6,1 .3,1 .4,1.5 0,1.5 -.2,1.5 -.2,1 -.4,1.5 -.3,1 -.3,1.2 -.5,1.3 -.5,1 -.5,.9 -.5,.9 -.5,.7 -.9,1 -1,.5 -1.1,.3 -1.5,-.2 -1,-.2 -1.2,-.4 -1,-.5 -.8,-.5 -1,-1 -.4,-1 -.4,-1 -.2,-1 -.1,-1.5 .2,-1 .2,-1.5 .2,-1 .3,-1.5 .3,-1 .5,-1 .5,-1 .4,-1 .5,-1.1 .5,-.9 1,-.9 .1,-.1M439.3,183.2l1.2,-.3 1.5,.1 1,.3 1.5,.4 1,.4 1,.5 .7,.6 .5,1 -.5,1 -.7,.5 -1,.5 -1.2,.5 -1.3,.3 -1,.2 -1.5,0 -1,-.1 -1.1,-.4 -1.4,-.4 -1,-.4 -1,-.4 -.9,-.8 -.3,-1 .7,-.8 1,-.6 1,-.4 1,-.3 1.5,-.3 .3,-.1M470.2,234.7l1.3,-.3 1.5,.1 1,.2 1.5,.3 1,.3 1,.7 .5,.7 .5,1.3 .3,1.2 0,1.5 -.2,1.5 -.2,1 -.4,1.3 -.3,1.2 -.3,1 -.4,1.1 -.5,1 -.5,.9 -.6,1 -.7,1 -.7,.6 -1,.5 -1.5,.1 -1,-.2 -1.5,-.5 -1,-.5 -.7,-.5 -.8,-.9 -.4,-1.1 -.3,-1 -.2,-1.5 .2,-1.5 .2,-1.3 .2,-1.2 .3,-1.5 .2,-1 .5,-1 .5,-1 .4,-1 .6,-1 .8,-1 .7,-.5M439,183.7l1.5,-.4 1.5,.2 1,.2 1.2,.5 1,.5 .8,.5 .7,1 -.3,1 -.9,.6 -1,.4 -1.5,.3 -1,.3 -1.5,0 -1,-.3 -1.1,-.3 -1.2,-.5 -1.2,-.5 -1,-.4 -.6,-.6 .5,-1 1.1,-.4 1,-.3 1,-.4 1,-.4M470.8,235.2l1.2,-.2 1.2,.2 1.3,.2 1.2,.3 1.1,.5 .7,.9 .4,1.1 .3,1 0,1.5 -.2,1.1 -.3,1.4 -.2,1 -.4,1.5 -.3,1 -.5,1 -.5,1 -.6,1 -.6,1 -.6,.7 -1,.7 -1,.2 -1.1,-.1 -1.4,-.4 -1,-.5 -.9,-.6 -.6,-.7 -.4,-1.3 -.3,-1 0,-1.5 .2,-1.2 .2,-1.3 .2,-1.5 .2,-1 .4,-1.2 .5,-1.1 .5,-1.1 .5,-.9 .5,-.7 1,-.9 .3,-.1M440.4,184.2l1.1,0 1,.3 1,.4 1,.5 .7,.8 -.7,.9 -1,.5 -1,.3 -1.5,.1 -1.2,-.3 -1,-.5 -.9,-.5 -.4,-1 .6,-.5 1,-.5 1.3,-.5M470.4,236.2l1.1,-.5 1.5,.2 1.5,.2 1,.3 1,.5 .6,.8 .4,1.2 .1,1.3 -.2,1 -.2,1.5 -.3,1 -.3,1.5 -.3,1 -.5,1 -.5,1 -.6,1 -.6,1 -.6,.8 -1,.6 -1.5,0 -1.5,-.4 -.9,-.5 -.7,-.5 -.6,-1 -.3,-1.5 0,-1 .1,-1 .2,-1.5 .2,-1.5 .1,-1 .4,-1.4 .5,-1.1 .5,-1 .5,-1 .5,-.6 .4,-.4M439.8,185.7l1.2,-.5 1.4,.5 .1,.8 -1,.4 -1.2,-.2 -.5,-1M471.6,237.2l1.4,0 1,.2 1.1,.3 .9,.6 .7,.9 0,1.5 -.2,1.1 -.3,1.4 -.2,1.5 -.3,1 -.5,1 -.7,.7 -.8,.8 -.5,1 -.4,1 -.8,.6 -1.5,0 -1,-.4 -.6,-.7 -.4,-1 0,-1.5 .1,-1 0,-1.5 -.1,-1.1 -.1,-1.4 .1,-1 .5,-1.1 .5,-.9 .7,-1 .8,-.7 .6,-.3M472,238.7l1.5,0 .8,.5 .3,1 0,1.5 0,1.5 -.1,1.1 -.5,1.1 -.9,.8 -.6,.5 -1,.9 -.8,.1 -.5,-1 -.2,-1.5 -.1,-1 -.1,-1.5 .2,-1.2 .5,-1.1 .5,-.7 1,-1" fill="none" stroke="#111" stroke-width="0.7" stroke-opacity="0.9"/>
</g>
<rect x="415" y="171.2" width="96.19999999999999" height="88.80000000000001" fill="none" stroke="#333" stroke-width="0.8"/>
<line x1="451.80" y1="171.20" x2="451.80" y2="260.00" stroke="#222" stroke-width="0.8" />
<line x1="415.00" y1="222.50" x2="511.20" y2="222.50" stroke="#222" stroke-width="0.8" />
<circle cx="451.8" cy="222.5" r="1.3" fill="#111"/>
<circle cx="451.8" cy="171.2" r="0.9" fill="#111"/>
<circle cx="511.2" cy="222.5" r="0.9" fill="#111"/>
<path d="M415.0,260v2.6 M415,260.0h-2.6 M422.2,260v1.4 M415,253.3h-1.4 M426.5,260v1.4 M415,249.4h-1.4 M429.5,260v1.4 M415,246.6h-1.4 M431.8,260v1.4 M415,244.5h-1.4 M433.7,260v1.4 M415,242.7h-1.4 M435.3,260v1.4 M415,241.2h-1.4 M436.7,260v1.4 M415,240.0h-1.4 M437.9,260v1.4 M415,238.8h-1.4 M439.1,260v2.6 M415,237.8h-2.6 M446.3,260v1.4 M415,231.1h-1.4 M450.5,260v1.4 M415,227.2h-1.4 M453.5,260v1.4 M415,224.4h-1.4 M455.9,260v1.4 M415,222.3h-1.4 M457.8,260v1.4 M415,220.5h-1.4 M459.4,260v1.4 M415,219.0h-1.4 M460.8,260v1.4 M415,217.8h-1.4 M462.0,260v1.4 M415,216.6h-1.4 M463.1,260v2.6 M415,215.6h-2.6 M470.3,260v1.4 M415,208.9h-1.4 M474.6,260v1.4 M415,205.0h-1.4 M477.6,260v1.4 M415,202.2h-1.4 M479.9,260v1.4 M415,200.1h-1.4 M481.8,260v1.4 M415,198.3h-1.4 M483.4,260v1.4 M415,196.8h-1.4 M484.8,260v1.4 M415,195.6h-1.4 M486.0,260v1.4 M415,194.4h-1.4 M487.1,260v2.6 M415,193.4h-2.6 M494.4,260v1.4 M415,186.7h-1.4 M498.6,260v1.4 M415,182.8h-1.4 M501.6,260v1.4 M415,180.0h-1.4 M504.0,260v1.4 M415,177.9h-1.4 M505.9,260v1.4 M415,176.1h-1.4 M507.5,260v1.4 M415,174.6h-1.4 M508.9,260v1.4 M415,173.4h-1.4 M510.1,260v1.4 M415,172.2h-1.4 M511.2,260v2.6 M415,171.2h-2.6" stroke="#222" stroke-width="0.5" fill="none"/>
<text x="413.8" y="268.7" font-size="4.2" font-weight="normal" fill="#333">10<tspan dy="-2.3" font-size="3.2">0</tspan></text>
<text x="410.6" y="262.6" font-size="4.2" font-weight="normal" text-anchor="end" fill="#333">10<tspan dy="-2.3" font-size="3.2">0</tspan></text>
<text x="437.9" y="268.7" font-size="4.2" font-weight="normal" fill="#333">10<tspan dy="-2.3" font-size="3.2">1</tspan></text>
<text x="410.6" y="240.4" font-size="4.2" font-weight="normal" text-anchor="end" fill="#333">10<tspan dy="-2.3" font-size="3.2">1</tspan></text>
<text x="461.9" y="268.7" font-size="4.2" font-weight="normal" fill="#333">10<tspan dy="-2.3" font-size="3.2">2</tspan></text>
<text x="410.6" y="218.2" font-size="4.2" font-weight="normal" text-anchor="end" fill="#333">10<tspan dy="-2.3" font-size="3.2">2</tspan></text>
<text x="485.9" y="268.7" font-size="4.2" font-weight="normal" fill="#333">10<tspan dy="-2.3" font-size="3.2">3</tspan></text>
<text x="410.6" y="196.0" font-size="4.2" font-weight="normal" text-anchor="end" fill="#333">10<tspan dy="-2.3" font-size="3.2">3</tspan></text>
<text x="510.0" y="268.7" font-size="4.2" font-weight="normal" fill="#333">10<tspan dy="-2.3" font-size="3.2">4</tspan></text>
<text x="410.6" y="173.8" font-size="4.2" font-weight="normal" text-anchor="end" fill="#333">10<tspan dy="-2.3" font-size="3.2">4</tspan></text>
<text x="416.3" y="175.79999999999998" font-size="4.7" font-weight="normal" fill="#222">23.35</text>
<text x="510.4" y="175.79999999999998" text-anchor="end" font-size="4.7" font-weight="normal" fill="#222">0.63</text>
<text x="416.2" y="259.2" font-size="4.7" font-weight="normal" fill="#222">6.81</text>
<text x="510.4" y="259.2" text-anchor="end" font-size="4.7" font-weight="normal" fill="#222">69.21</text>
<text x="508.50" y="234.60" font-size="10.2" font-weight="bold" text-anchor="end" fill="#000" stroke="#000" stroke-width="0.25" textLength="11.7" lengthAdjust="spacingAndGlyphs">69</text>
<line x1="56.70" y1="326.40" x2="56.70" y2="457.00" stroke="#000" stroke-width="1.35" />
<line x1="51.80" y1="456.30" x2="298.80" y2="456.30" stroke="#000" stroke-width="1.5" />
<line x1="51.80" y1="327.00" x2="56.70" y2="327.00" stroke="#000" stroke-width="1.35" />
<line x1="51.80" y1="352.80" x2="56.70" y2="352.80" stroke="#000" stroke-width="1.35" />
<line x1="51.80" y1="378.60" x2="56.70" y2="378.60" stroke="#000" stroke-width="1.35" />
<line x1="51.80" y1="404.40" x2="56.70" y2="404.40" stroke="#000" stroke-width="1.35" />
<line x1="51.80" y1="430.20" x2="56.70" y2="430.20" stroke="#000" stroke-width="1.35" />
<text x="44.30" y="330.70" font-size="10.2" font-weight="bold" text-anchor="end" fill="#000" stroke="#000" stroke-width="0.25" >125</text>
<text x="44.30" y="356.50" font-size="10.2" font-weight="bold" text-anchor="end" fill="#000" stroke="#000" stroke-width="0.25" >100</text>
<text x="44.30" y="382.30" font-size="10.2" font-weight="bold" text-anchor="end" fill="#000" stroke="#000" stroke-width="0.25" >75</text>
<text x="44.30" y="408.10" font-size="10.2" font-weight="bold" text-anchor="end" fill="#000" stroke="#000" stroke-width="0.25" >50</text>
<text x="44.30" y="433.90" font-size="10.2" font-weight="bold" text-anchor="end" fill="#000" stroke="#000" stroke-width="0.25" >25</text>
<text x="44.30" y="461.70" font-size="10.2" font-weight="bold" text-anchor="end" fill="#000" stroke="#000" stroke-width="0.25" >0</text>
<text transform="translate(27.2,388.7) rotate(-90)" font-size="14.3" font-weight="bold" text-anchor="middle">% Viable cells</text>
<rect x="60.0" y="348" width="19.00" height="108.50" fill="#000"/>
<line x1="69.50" y1="349.00" x2="69.50" y2="345.00" stroke="#000" stroke-width="1.5" />
<line x1="64.70" y1="345.00" x2="74.30" y2="345.00" stroke="#000" stroke-width="1.5" />
<rect x="87.4" y="388" width="19.40" height="68.50" fill="#000"/>
<line x1="97.10" y1="389.00" x2="97.10" y2="378.50" stroke="#000" stroke-width="1.5" />
<line x1="92.30" y1="378.50" x2="101.90" y2="378.50" stroke="#000" stroke-width="1.5" />
<rect x="115.3" y="351.8" width="19.00" height="104.70" fill="#000"/>
<line x1="124.80" y1="352.80" x2="124.80" y2="349.50" stroke="#000" stroke-width="1.5" />
<line x1="120.00" y1="349.50" x2="129.60" y2="349.50" stroke="#000" stroke-width="1.5" />
<rect x="141.7" y="369.5" width="19.40" height="87.00" fill="#000"/>
<line x1="151.40" y1="370.50" x2="151.40" y2="363.00" stroke="#000" stroke-width="1.5" />
<line x1="146.60" y1="363.00" x2="156.20" y2="363.00" stroke="#000" stroke-width="1.5" />
<rect x="197" y="347" width="19.20" height="109.50" fill="#000"/>
<line x1="206.60" y1="348.00" x2="206.60" y2="345.00" stroke="#000" stroke-width="1.5" />
<line x1="201.80" y1="345.00" x2="211.40" y2="345.00" stroke="#000" stroke-width="1.5" />
<rect x="224.5" y="391.2" width="19.30" height="65.30" fill="#000"/>
<line x1="234.15" y1="392.20" x2="234.15" y2="382.00" stroke="#000" stroke-width="1.5" />
<line x1="229.35" y1="382.00" x2="238.95" y2="382.00" stroke="#000" stroke-width="1.5" />
<rect x="251.2" y="362.5" width="19.30" height="94.00" fill="#000"/>
<line x1="260.85" y1="363.50" x2="260.85" y2="353.20" stroke="#000" stroke-width="1.5" />
<line x1="256.05" y1="353.20" x2="265.65" y2="353.20" stroke="#000" stroke-width="1.5" />
<rect x="278.8" y="379.5" width="19.20" height="77.00" fill="#000"/>
<line x1="288.40" y1="380.50" x2="288.40" y2="365.00" stroke="#000" stroke-width="1.5" />
<line x1="283.60" y1="365.00" x2="293.20" y2="365.00" stroke="#000" stroke-width="1.5" />
<line x1="70.80" y1="333.10" x2="101.20" y2="333.10" stroke="#000" stroke-width="1.4" />
<line x1="70.80" y1="329.70" x2="70.80" y2="336.40" stroke="#000" stroke-width="1.4" />
<line x1="101.20" y1="329.70" x2="101.20" y2="336.40" stroke="#000" stroke-width="1.4" />
<text x="86.20" y="335.30" font-size="21" font-weight="bold" text-anchor="middle" fill="#000" stroke="#000" stroke-width="0.25" >*</text>
<line x1="208.00" y1="333.10" x2="238.20" y2="333.10" stroke="#000" stroke-width="1.4" />
<line x1="208.00" y1="329.70" x2="208.00" y2="336.40" stroke="#000" stroke-width="1.4" />
<line x1="238.20" y1="329.70" x2="238.20" y2="336.40" stroke="#000" stroke-width="1.4" />
<text x="224.50" y="335.30" font-size="21" font-weight="bold" text-anchor="middle" fill="#000" stroke="#000" stroke-width="0.25" >*</text>
<text x="69.00" y="470.50" font-size="12.5" font-weight="bold" text-anchor="middle" fill="#000" stroke="#000" stroke-width="0.5">-</text>
<text x="97.60" y="470.50" font-size="12.5" font-weight="bold" text-anchor="middle" fill="#000" stroke="#000" stroke-width="0.5">+</text>
<text x="126.40" y="470.50" font-size="12.5" font-weight="bold" text-anchor="middle" fill="#000" stroke="#000" stroke-width="0.5">-</text>
<text x="151.50" y="470.50" font-size="12.5" font-weight="bold" text-anchor="middle" fill="#000" stroke="#000" stroke-width="0.5">+</text>
<text x="206.00" y="470.50" font-size="12.5" font-weight="bold" text-anchor="middle" fill="#000" stroke="#000" stroke-width="0.5">-</text>
<text x="233.70" y="470.50" font-size="12.5" font-weight="bold" text-anchor="middle" fill="#000" stroke="#000" stroke-width="0.5">+</text>
<text x="261.00" y="470.50" font-size="12.5" font-weight="bold" text-anchor="middle" fill="#000" stroke="#000" stroke-width="0.5">-</text>
<text x="290.00" y="470.50" font-size="12.5" font-weight="bold" text-anchor="middle" fill="#000" stroke="#000" stroke-width="0.5">+</text>
<text x="309.00" y="471.00" font-size="13.1" font-weight="bold" text-anchor="start" fill="#000" stroke="#000" stroke-width="0.25" >Sorafenib</text>
<line x1="56.80" y1="473.30" x2="105.00" y2="473.30" stroke="#000" stroke-width="1.3" />
<line x1="115.60" y1="473.30" x2="163.00" y2="473.30" stroke="#000" stroke-width="1.3" />
<line x1="197.00" y1="473.30" x2="244.30" y2="473.30" stroke="#000" stroke-width="1.3" />
<line x1="252.00" y1="473.30" x2="299.30" y2="473.30" stroke="#000" stroke-width="1.3" />
<text x="56.30" y="488.80" font-size="13.4" font-weight="bold" text-anchor="start" fill="#000" stroke="#000" stroke-width="0.25" >ZAP-70+</text>
<text x="121.30" y="488.80" font-size="13.4" font-weight="bold" text-anchor="start" fill="#000" stroke="#000" stroke-width="0.25" >ZAP-70-</text>
<text x="205.00" y="488.40" font-size="13.4" font-weight="bold" text-anchor="start" fill="#000" stroke="#000" stroke-width="0.25" >ZAP-70+</text>
<text x="268.50" y="488.40" font-size="13.4" font-weight="bold" text-anchor="start" fill="#000" stroke="#000" stroke-width="0.25" >ZAP-70-</text>
<line x1="61.00" y1="495.00" x2="156.80" y2="495.00" stroke="#000" stroke-width="1.4" />
<line x1="201.50" y1="494.00" x2="298.40" y2="494.00" stroke="#000" stroke-width="1.4" />
<text x="110.00" y="514.80" font-size="15" font-weight="bold" text-anchor="middle" fill="#000" stroke="#000" stroke-width="0.25" >24h</text>
<text x="250.30" y="512.60" font-size="15" font-weight="bold" text-anchor="middle" fill="#000" stroke="#000" stroke-width="0.25" >48h</text>
<text x="3.00" y="610.30" font-size="15.1" font-weight="bold" text-anchor="start" fill="#000" stroke="#000" stroke-width="0.25" >ZAP-70-</text>
<text x="3.00" y="728.00" font-size="14.7" font-weight="bold" text-anchor="start" fill="#000" stroke="#000" stroke-width="0.25" >ZAP-70+</text>
<text transform="translate(80.8,675.5) rotate(-90)" font-size="17.1" font-weight="bold" text-anchor="middle">% Viable cells</text>
<text x="167.50" y="558.80" font-size="18.6" font-weight="bold" text-anchor="middle" fill="#000" stroke="#000" stroke-width="0.25" >1h</text>
<text x="318.00" y="558.80" font-size="18.8" font-weight="bold" text-anchor="middle" fill="#000" stroke="#000" stroke-width="0.25" >24h</text>
<text x="454.50" y="558.80" font-size="18.8" font-weight="bold" text-anchor="middle" fill="#000" stroke="#000" stroke-width="0.25" >48h</text>
<line x1="110.20" y1="570.50" x2="110.20" y2="647.80" stroke="#000" stroke-width="1.5" />
<line x1="109.50" y1="647.00" x2="227.00" y2="647.00" stroke="#000" stroke-width="1.6" />
<text x="101.70" y="650.70" font-size="10.3" font-weight="bold" text-anchor="end" fill="#000" stroke="#000" stroke-width="0.25" >0</text>
<line x1="107.00" y1="634.42" x2="110.20" y2="634.42" stroke="#000" stroke-width="1.3" />
<text x="101.70" y="638.12" font-size="10.3" font-weight="bold" text-anchor="end" fill="#000" stroke="#000" stroke-width="0.25" >20</text>
<line x1="107.00" y1="621.83" x2="110.20" y2="621.83" stroke="#000" stroke-width="1.3" />
<text x="101.70" y="625.53" font-size="10.3" font-weight="bold" text-anchor="end" fill="#000" stroke="#000" stroke-width="0.25" >40</text>
<line x1="107.00" y1="609.25" x2="110.20" y2="609.25" stroke="#000" stroke-width="1.3" />
<text x="101.70" y="612.95" font-size="10.3" font-weight="bold" text-anchor="end" fill="#000" stroke="#000" stroke-width="0.25" >60</text>
<line x1="107.00" y1="596.67" x2="110.20" y2="596.67" stroke="#000" stroke-width="1.3" />
<text x="101.70" y="600.37" font-size="10.3" font-weight="bold" text-anchor="end" fill="#000" stroke="#000" stroke-width="0.25" >80</text>
<line x1="107.00" y1="584.08" x2="110.20" y2="584.08" stroke="#000" stroke-width="1.3" />
<text x="101.70" y="587.78" font-size="10.3" font-weight="bold" text-anchor="end" fill="#000" stroke="#000" stroke-width="0.25" >100</text>
<line x1="107.00" y1="571.50" x2="110.20" y2="571.50" stroke="#000" stroke-width="1.3" />
<text x="101.70" y="575.20" font-size="10.3" font-weight="bold" text-anchor="end" fill="#000" stroke="#000" stroke-width="0.25" >120</text>
<text x="109.00" y="661.40" font-size="11.4" font-weight="bold" text-anchor="middle" fill="#000" stroke="#000" stroke-width="0.25" >0</text>
<line x1="139.20" y1="647.00" x2="139.20" y2="650.30" stroke="#000" stroke-width="1.3" />
<text x="138.00" y="661.40" font-size="11.4" font-weight="bold" text-anchor="middle" fill="#000" stroke="#000" stroke-width="0.25" >5</text>
<line x1="168.20" y1="647.00" x2="168.20" y2="650.30" stroke="#000" stroke-width="1.3" />
<text x="167.00" y="661.40" font-size="11.4" font-weight="bold" text-anchor="middle" fill="#000" stroke="#000" stroke-width="0.25" >10</text>
<line x1="197.20" y1="647.00" x2="197.20" y2="650.30" stroke="#000" stroke-width="1.3" />
<text x="196.00" y="661.40" font-size="11.4" font-weight="bold" text-anchor="middle" fill="#000" stroke="#000" stroke-width="0.25" >15</text>
<line x1="226.20" y1="647.00" x2="226.20" y2="650.30" stroke="#000" stroke-width="1.3" />
<text x="225.00" y="661.40" font-size="11.4" font-weight="bold" text-anchor="middle" fill="#000" stroke="#000" stroke-width="0.25" >20</text>
<line x1="168.20" y1="595.41" x2="168.20" y2="601.70" stroke="#000" stroke-width="1.4" />
<line x1="164.80" y1="601.70" x2="171.60" y2="601.70" stroke="#000" stroke-width="1.4" />
<line x1="197.20" y1="598.55" x2="197.20" y2="605.48" stroke="#000" stroke-width="1.4" />
<line x1="193.80" y1="605.48" x2="200.60" y2="605.48" stroke="#000" stroke-width="1.4" />
<line x1="226.20" y1="602.01" x2="226.20" y2="609.25" stroke="#000" stroke-width="1.4" />
<line x1="222.80" y1="609.25" x2="229.60" y2="609.25" stroke="#000" stroke-width="1.4" />
<line x1="226.20" y1="590.69" x2="226.20" y2="585.66" stroke="#000" stroke-width="1.4" />
<line x1="222.80" y1="585.66" x2="229.60" y2="585.66" stroke="#000" stroke-width="1.4" />
<polyline points="110.2,584.1 139.2,585.3 168.2,587.2 197.2,588.2 226.2,590.7" fill="none" stroke="#000" stroke-width="1.5"/>
<polyline points="110.2,584.1 139.2,588.8 168.2,595.4 197.2,598.6 226.2,602.0" fill="none" stroke="#000" stroke-width="1.5"/>
<circle cx="110.2" cy="584.1" r="3.0" fill="#fff" stroke="#000" stroke-width="1.5"/>
<circle cx="139.2" cy="585.3" r="3.0" fill="#fff" stroke="#000" stroke-width="1.5"/>
<circle cx="168.2" cy="587.2" r="3.0" fill="#fff" stroke="#000" stroke-width="1.5"/>
<circle cx="197.2" cy="588.2" r="3.0" fill="#fff" stroke="#000" stroke-width="1.5"/>
<circle cx="226.2" cy="590.7" r="3.0" fill="#fff" stroke="#000" stroke-width="1.5"/>
<circle cx="110.2" cy="584.1" r="3.7" fill="#000"/>
<circle cx="139.2" cy="588.8" r="3.7" fill="#000"/>
<circle cx="168.2" cy="595.4" r="3.7" fill="#000"/>
<circle cx="197.2" cy="598.6" r="3.7" fill="#000"/>
<circle cx="226.2" cy="602.0" r="3.7" fill="#000"/>
<text x="226.80" y="576.60" font-size="16" font-weight="bold" text-anchor="middle" fill="#000" letter-spacing="0.5" stroke="none">*</text>
<line x1="244.60" y1="570.50" x2="244.60" y2="647.80" stroke="#000" stroke-width="1.5" />
<line x1="243.90" y1="647.00" x2="359.40" y2="647.00" stroke="#000" stroke-width="1.6" />
<line x1="241.40" y1="634.42" x2="244.60" y2="634.42" stroke="#000" stroke-width="1.3" />
<line x1="241.40" y1="621.83" x2="244.60" y2="621.83" stroke="#000" stroke-width="1.3" />
<line x1="241.40" y1="609.25" x2="244.60" y2="609.25" stroke="#000" stroke-width="1.3" />
<line x1="241.40" y1="596.67" x2="244.60" y2="596.67" stroke="#000" stroke-width="1.3" />
<line x1="241.40" y1="584.08" x2="244.60" y2="584.08" stroke="#000" stroke-width="1.3" />
<line x1="241.40" y1="571.50" x2="244.60" y2="571.50" stroke="#000" stroke-width="1.3" />
<text x="243.40" y="661.40" font-size="11.4" font-weight="bold" text-anchor="middle" fill="#000" stroke="#000" stroke-width="0.25" >0</text>
<line x1="273.10" y1="647.00" x2="273.10" y2="650.30" stroke="#000" stroke-width="1.3" />
<text x="271.90" y="661.40" font-size="11.4" font-weight="bold" text-anchor="middle" fill="#000" stroke="#000" stroke-width="0.25" >5</text>
<line x1="301.60" y1="647.00" x2="301.60" y2="650.30" stroke="#000" stroke-width="1.3" />
<text x="300.40" y="661.40" font-size="11.4" font-weight="bold" text-anchor="middle" fill="#000" stroke="#000" stroke-width="0.25" >10</text>
<line x1="330.10" y1="647.00" x2="330.10" y2="650.30" stroke="#000" stroke-width="1.3" />
<text x="328.90" y="661.40" font-size="11.4" font-weight="bold" text-anchor="middle" fill="#000" stroke="#000" stroke-width="0.25" >15</text>
<line x1="358.60" y1="647.00" x2="358.60" y2="650.30" stroke="#000" stroke-width="1.3" />
<text x="357.40" y="661.40" font-size="11.4" font-weight="bold" text-anchor="middle" fill="#000" stroke="#000" stroke-width="0.25" >20</text>
<line x1="273.10" y1="595.41" x2="273.10" y2="606.10" stroke="#000" stroke-width="1.4" />
<line x1="269.70" y1="606.10" x2="276.50" y2="606.10" stroke="#000" stroke-width="1.4" />
<line x1="301.60" y1="621.83" x2="301.60" y2="634.42" stroke="#000" stroke-width="1.4" />
<line x1="298.20" y1="634.42" x2="305.00" y2="634.42" stroke="#000" stroke-width="1.4" />
<line x1="330.10" y1="630.01" x2="330.10" y2="641.34" stroke="#000" stroke-width="1.4" />
<line x1="326.70" y1="641.34" x2="333.50" y2="641.34" stroke="#000" stroke-width="1.4" />
<line x1="358.60" y1="626.55" x2="358.60" y2="636.30" stroke="#000" stroke-width="1.4" />
<line x1="355.20" y1="636.30" x2="362.00" y2="636.30" stroke="#000" stroke-width="1.4" />
<line x1="301.60" y1="585.34" x2="301.60" y2="579.68" stroke="#000" stroke-width="1.4" />
<line x1="298.20" y1="579.68" x2="305.00" y2="579.68" stroke="#000" stroke-width="1.4" />
<line x1="330.10" y1="588.17" x2="330.10" y2="579.99" stroke="#000" stroke-width="1.4" />
<line x1="326.70" y1="579.99" x2="333.50" y2="579.99" stroke="#000" stroke-width="1.4" />
<line x1="358.60" y1="587.23" x2="358.60" y2="580.31" stroke="#000" stroke-width="1.4" />
<line x1="355.20" y1="580.31" x2="362.00" y2="580.31" stroke="#000" stroke-width="1.4" />
<polyline points="244.6,584.7 273.1,584.7 301.6,585.3 330.1,588.2 358.6,587.2" fill="none" stroke="#000" stroke-width="1.5"/>
<polyline points="244.6,584.7 273.1,595.4 301.6,621.8 330.1,630.0 358.6,626.6" fill="none" stroke="#000" stroke-width="1.5"/>
<circle cx="244.6" cy="584.7" r="3.0" fill="#fff" stroke="#000" stroke-width="1.5"/>
<circle cx="273.1" cy="584.7" r="3.0" fill="#fff" stroke="#000" stroke-width="1.5"/>
<circle cx="301.6" cy="585.3" r="3.0" fill="#fff" stroke="#000" stroke-width="1.5"/>
<circle cx="330.1" cy="588.2" r="3.0" fill="#fff" stroke="#000" stroke-width="1.5"/>
<circle cx="358.6" cy="587.2" r="3.0" fill="#fff" stroke="#000" stroke-width="1.5"/>
<circle cx="244.6" cy="584.7" r="3.7" fill="#000"/>
<circle cx="273.1" cy="595.4" r="3.7" fill="#000"/>
<circle cx="301.6" cy="621.8" r="3.7" fill="#000"/>
<circle cx="330.1" cy="630.0" r="3.7" fill="#000"/>
<circle cx="358.6" cy="626.6" r="3.7" fill="#000"/>
<text x="302.20" y="576.00" font-size="16" font-weight="bold" text-anchor="middle" fill="#000" letter-spacing="0.5" stroke="none">***</text>
<text x="330.70" y="576.00" font-size="16" font-weight="bold" text-anchor="middle" fill="#000" letter-spacing="0.5" stroke="none">***</text>
<text x="359.20" y="576.00" font-size="16" font-weight="bold" text-anchor="middle" fill="#000" letter-spacing="0.5" stroke="none">**</text>
<line x1="383.80" y1="570.50" x2="383.80" y2="647.80" stroke="#000" stroke-width="1.5" />
<line x1="383.10" y1="647.00" x2="497.00" y2="647.00" stroke="#000" stroke-width="1.6" />
<line x1="380.60" y1="634.42" x2="383.80" y2="634.42" stroke="#000" stroke-width="1.3" />
<line x1="380.60" y1="621.83" x2="383.80" y2="621.83" stroke="#000" stroke-width="1.3" />
<line x1="380.60" y1="609.25" x2="383.80" y2="609.25" stroke="#000" stroke-width="1.3" />
<line x1="380.60" y1="596.67" x2="383.80" y2="596.67" stroke="#000" stroke-width="1.3" />
<line x1="380.60" y1="584.08" x2="383.80" y2="584.08" stroke="#000" stroke-width="1.3" />
<line x1="380.60" y1="571.50" x2="383.80" y2="571.50" stroke="#000" stroke-width="1.3" />
<text x="382.60" y="660.00" font-size="10.8" font-weight="bold" text-anchor="middle" fill="#000" stroke="#000" stroke-width="0.25" >0</text>
<line x1="411.90" y1="647.00" x2="411.90" y2="650.30" stroke="#000" stroke-width="1.3" />
<text x="410.70" y="660.00" font-size="10.8" font-weight="bold" text-anchor="middle" fill="#000" stroke="#000" stroke-width="0.25" >5</text>
<line x1="440.00" y1="647.00" x2="440.00" y2="650.30" stroke="#000" stroke-width="1.3" />
<text x="438.80" y="660.00" font-size="10.8" font-weight="bold" text-anchor="middle" fill="#000" stroke="#000" stroke-width="0.25" >10</text>
<line x1="468.10" y1="647.00" x2="468.10" y2="650.30" stroke="#000" stroke-width="1.3" />
<text x="466.90" y="660.00" font-size="10.8" font-weight="bold" text-anchor="middle" fill="#000" stroke="#000" stroke-width="0.25" >15</text>
<line x1="496.20" y1="647.00" x2="496.20" y2="650.30" stroke="#000" stroke-width="1.3" />
<text x="495.00" y="660.00" font-size="10.8" font-weight="bold" text-anchor="middle" fill="#000" stroke="#000" stroke-width="0.25" >20</text>
<line x1="411.90" y1="602.01" x2="411.90" y2="622.15" stroke="#000" stroke-width="1.4" />
<line x1="408.50" y1="622.15" x2="415.30" y2="622.15" stroke="#000" stroke-width="1.4" />
<line x1="440.00" y1="628.75" x2="440.00" y2="638.82" stroke="#000" stroke-width="1.4" />
<line x1="436.60" y1="638.82" x2="443.40" y2="638.82" stroke="#000" stroke-width="1.4" />
<line x1="468.10" y1="635.99" x2="468.10" y2="644.17" stroke="#000" stroke-width="1.4" />
<line x1="464.70" y1="644.17" x2="471.50" y2="644.17" stroke="#000" stroke-width="1.4" />
<line x1="411.90" y1="591.63" x2="411.90" y2="577.79" stroke="#000" stroke-width="1.4" />
<line x1="408.50" y1="577.79" x2="415.30" y2="577.79" stroke="#000" stroke-width="1.4" />
<line x1="440.00" y1="583.45" x2="440.00" y2="576.53" stroke="#000" stroke-width="1.4" />
<line x1="436.60" y1="576.53" x2="443.40" y2="576.53" stroke="#000" stroke-width="1.4" />
<line x1="468.10" y1="585.97" x2="468.10" y2="578.11" stroke="#000" stroke-width="1.4" />
<line x1="464.70" y1="578.11" x2="471.50" y2="578.11" stroke="#000" stroke-width="1.4" />
<line x1="496.20" y1="588.80" x2="496.20" y2="582.51" stroke="#000" stroke-width="1.4" />
<line x1="492.80" y1="582.51" x2="499.60" y2="582.51" stroke="#000" stroke-width="1.4" />
<polyline points="383.8,585.3 411.9,591.6 440.0,583.5 468.1,586.0 496.2,588.8" fill="none" stroke="#000" stroke-width="1.5"/>
<polyline points="383.8,585.3 411.9,602.0 440.0,628.8 468.1,636.0 496.2,643.5" fill="none" stroke="#000" stroke-width="1.5"/>
<circle cx="383.8" cy="585.3" r="3.0" fill="#fff" stroke="#000" stroke-width="1.5"/>
<circle cx="411.9" cy="591.6" r="3.0" fill="#fff" stroke="#000" stroke-width="1.5"/>
<circle cx="440.0" cy="583.5" r="3.0" fill="#fff" stroke="#000" stroke-width="1.5"/>
<circle cx="468.1" cy="586.0" r="3.0" fill="#fff" stroke="#000" stroke-width="1.5"/>
<circle cx="496.2" cy="588.8" r="3.0" fill="#fff" stroke="#000" stroke-width="1.5"/>
<circle cx="383.8" cy="585.3" r="3.7" fill="#000"/>
<circle cx="411.9" cy="602.0" r="3.7" fill="#000"/>
<circle cx="440.0" cy="628.8" r="3.7" fill="#000"/>
<circle cx="468.1" cy="636.0" r="3.7" fill="#000"/>
<circle cx="496.2" cy="643.5" r="3.7" fill="#000"/>
<text x="440.60" y="574.60" font-size="16" font-weight="bold" text-anchor="middle" fill="#000" letter-spacing="0.5" stroke="none">**</text>
<text x="468.70" y="574.60" font-size="16" font-weight="bold" text-anchor="middle" fill="#000" letter-spacing="0.5" stroke="none">**</text>
<text x="496.80" y="574.60" font-size="16" font-weight="bold" text-anchor="middle" fill="#000" letter-spacing="0.5" stroke="none">**</text>
<line x1="110.20" y1="683.50" x2="110.20" y2="761.00" stroke="#000" stroke-width="1.5" />
<line x1="109.50" y1="760.20" x2="226.20" y2="760.20" stroke="#000" stroke-width="1.6" />
<text x="101.70" y="763.90" font-size="10.3" font-weight="bold" text-anchor="end" fill="#000" stroke="#000" stroke-width="0.25" >0</text>
<line x1="107.00" y1="747.58" x2="110.20" y2="747.58" stroke="#000" stroke-width="1.3" />
<text x="101.70" y="751.28" font-size="10.3" font-weight="bold" text-anchor="end" fill="#000" stroke="#000" stroke-width="0.25" >20</text>
<line x1="107.00" y1="734.97" x2="110.20" y2="734.97" stroke="#000" stroke-width="1.3" />
<text x="101.70" y="738.67" font-size="10.3" font-weight="bold" text-anchor="end" fill="#000" stroke="#000" stroke-width="0.25" >40</text>
<line x1="107.00" y1="722.35" x2="110.20" y2="722.35" stroke="#000" stroke-width="1.3" />
<text x="101.70" y="726.05" font-size="10.3" font-weight="bold" text-anchor="end" fill="#000" stroke="#000" stroke-width="0.25" >60</text>
<line x1="107.00" y1="709.73" x2="110.20" y2="709.73" stroke="#000" stroke-width="1.3" />
<text x="101.70" y="713.43" font-size="10.3" font-weight="bold" text-anchor="end" fill="#000" stroke="#000" stroke-width="0.25" >80</text>
<line x1="107.00" y1="697.12" x2="110.20" y2="697.12" stroke="#000" stroke-width="1.3" />
<text x="101.70" y="700.82" font-size="10.3" font-weight="bold" text-anchor="end" fill="#000" stroke="#000" stroke-width="0.25" >100</text>
<line x1="107.00" y1="684.50" x2="110.20" y2="684.50" stroke="#000" stroke-width="1.3" />
<text x="101.70" y="688.20" font-size="10.3" font-weight="bold" text-anchor="end" fill="#000" stroke="#000" stroke-width="0.25" >120</text>
<text x="109.00" y="774.40" font-size="11.4" font-weight="bold" text-anchor="middle" fill="#000" stroke="#000" stroke-width="0.25" >0</text>
<line x1="139.00" y1="760.20" x2="139.00" y2="763.50" stroke="#000" stroke-width="1.3" />
<text x="137.80" y="774.40" font-size="11.4" font-weight="bold" text-anchor="middle" fill="#000" stroke="#000" stroke-width="0.25" >5</text>
<line x1="167.80" y1="760.20" x2="167.80" y2="763.50" stroke="#000" stroke-width="1.3" />
<text x="166.60" y="774.40" font-size="11.4" font-weight="bold" text-anchor="middle" fill="#000" stroke="#000" stroke-width="0.25" >10</text>
<line x1="196.60" y1="760.20" x2="196.60" y2="763.50" stroke="#000" stroke-width="1.3" />
<text x="195.40" y="774.40" font-size="11.4" font-weight="bold" text-anchor="middle" fill="#000" stroke="#000" stroke-width="0.25" >15</text>
<line x1="225.40" y1="760.20" x2="225.40" y2="763.50" stroke="#000" stroke-width="1.3" />
<text x="224.20" y="774.40" font-size="11.4" font-weight="bold" text-anchor="middle" fill="#000" stroke="#000" stroke-width="0.25" >20</text>
<line x1="225.40" y1="717.30" x2="225.40" y2="724.24" stroke="#000" stroke-width="1.4" />
<line x1="222.00" y1="724.24" x2="228.80" y2="724.24" stroke="#000" stroke-width="1.4" />
<line x1="167.80" y1="699.64" x2="167.80" y2="696.49" stroke="#000" stroke-width="1.4" />
<line x1="164.40" y1="696.49" x2="171.20" y2="696.49" stroke="#000" stroke-width="1.4" />
<polyline points="110.2,696.5 139.0,697.7 167.8,699.6 196.6,699.0 225.4,702.5" fill="none" stroke="#000" stroke-width="1.5"/>
<polyline points="110.2,696.5 139.0,701.8 167.8,706.6 196.6,709.1 225.4,717.3" fill="none" stroke="#000" stroke-width="1.5"/>
<circle cx="110.2" cy="696.5" r="3.0" fill="#fff" stroke="#000" stroke-width="1.5"/>
<circle cx="139.0" cy="697.7" r="3.0" fill="#fff" stroke="#000" stroke-width="1.5"/>
<circle cx="167.8" cy="699.6" r="3.0" fill="#fff" stroke="#000" stroke-width="1.5"/>
<circle cx="196.6" cy="699.0" r="3.0" fill="#fff" stroke="#000" stroke-width="1.5"/>
<circle cx="225.4" cy="702.5" r="3.0" fill="#fff" stroke="#000" stroke-width="1.5"/>
<circle cx="110.2" cy="696.5" r="3.7" fill="#000"/>
<circle cx="139.0" cy="701.8" r="3.7" fill="#000"/>
<circle cx="167.8" cy="706.6" r="3.7" fill="#000"/>
<circle cx="196.6" cy="709.1" r="3.7" fill="#000"/>
<circle cx="225.4" cy="717.3" r="3.7" fill="#000"/>
<text x="139.60" y="688.20" font-size="16" font-weight="bold" text-anchor="middle" fill="#000" letter-spacing="0.5" stroke="none">*</text>
<text x="168.40" y="688.20" font-size="16" font-weight="bold" text-anchor="middle" fill="#000" letter-spacing="0.5" stroke="none">**</text>
<text x="226.00" y="688.20" font-size="16" font-weight="bold" text-anchor="middle" fill="#000" letter-spacing="0.5" stroke="none">*</text>
<line x1="245.00" y1="684.00" x2="245.00" y2="760.50" stroke="#000" stroke-width="1.5" />
<line x1="244.30" y1="759.70" x2="359.80" y2="759.70" stroke="#000" stroke-width="1.6" />
<line x1="241.80" y1="747.25" x2="245.00" y2="747.25" stroke="#000" stroke-width="1.3" />
<line x1="241.80" y1="734.80" x2="245.00" y2="734.80" stroke="#000" stroke-width="1.3" />
<line x1="241.80" y1="722.35" x2="245.00" y2="722.35" stroke="#000" stroke-width="1.3" />
<line x1="241.80" y1="709.90" x2="245.00" y2="709.90" stroke="#000" stroke-width="1.3" />
<line x1="241.80" y1="697.45" x2="245.00" y2="697.45" stroke="#000" stroke-width="1.3" />
<line x1="241.80" y1="685.00" x2="245.00" y2="685.00" stroke="#000" stroke-width="1.3" />
<text x="243.80" y="773.70" font-size="11.4" font-weight="bold" text-anchor="middle" fill="#000" stroke="#000" stroke-width="0.25" >0</text>
<line x1="273.50" y1="759.70" x2="273.50" y2="763.00" stroke="#000" stroke-width="1.3" />
<text x="272.30" y="773.70" font-size="11.4" font-weight="bold" text-anchor="middle" fill="#000" stroke="#000" stroke-width="0.25" >5</text>
<line x1="302.00" y1="759.70" x2="302.00" y2="763.00" stroke="#000" stroke-width="1.3" />
<text x="300.80" y="773.70" font-size="11.4" font-weight="bold" text-anchor="middle" fill="#000" stroke="#000" stroke-width="0.25" >10</text>
<line x1="330.50" y1="759.70" x2="330.50" y2="763.00" stroke="#000" stroke-width="1.3" />
<text x="329.30" y="773.70" font-size="11.4" font-weight="bold" text-anchor="middle" fill="#000" stroke="#000" stroke-width="0.25" >15</text>
<line x1="359.00" y1="759.70" x2="359.00" y2="763.00" stroke="#000" stroke-width="1.3" />
<text x="357.80" y="773.70" font-size="11.4" font-weight="bold" text-anchor="middle" fill="#000" stroke="#000" stroke-width="0.25" >20</text>
<line x1="273.50" y1="719.55" x2="273.50" y2="732.62" stroke="#000" stroke-width="1.4" />
<line x1="270.10" y1="732.62" x2="276.90" y2="732.62" stroke="#000" stroke-width="1.4" />
<line x1="302.00" y1="732.00" x2="302.00" y2="741.65" stroke="#000" stroke-width="1.4" />
<line x1="298.60" y1="741.65" x2="305.40" y2="741.65" stroke="#000" stroke-width="1.4" />
<line x1="330.50" y1="732.00" x2="330.50" y2="747.56" stroke="#000" stroke-width="1.4" />
<line x1="327.10" y1="747.56" x2="333.90" y2="747.56" stroke="#000" stroke-width="1.4" />
<line x1="273.50" y1="695.27" x2="273.50" y2="690.91" stroke="#000" stroke-width="1.4" />
<line x1="270.10" y1="690.91" x2="276.90" y2="690.91" stroke="#000" stroke-width="1.4" />
<line x1="302.00" y1="697.45" x2="302.00" y2="691.23" stroke="#000" stroke-width="1.4" />
<line x1="298.60" y1="691.23" x2="305.40" y2="691.23" stroke="#000" stroke-width="1.4" />
<line x1="359.00" y1="698.38" x2="359.00" y2="690.91" stroke="#000" stroke-width="1.4" />
<line x1="355.60" y1="690.91" x2="362.40" y2="690.91" stroke="#000" stroke-width="1.4" />
<polyline points="245.0,697.5 273.5,695.3 302.0,697.5 330.5,697.5 359.0,698.4" fill="none" stroke="#000" stroke-width="1.5"/>
<polyline points="245.0,697.5 273.5,719.5 302.0,732.0 330.5,732.0 359.0,749.4" fill="none" stroke="#000" stroke-width="1.5"/>
<circle cx="245.0" cy="697.5" r="3.0" fill="#fff" stroke="#000" stroke-width="1.5"/>
<circle cx="273.5" cy="695.3" r="3.0" fill="#fff" stroke="#000" stroke-width="1.5"/>
<circle cx="302.0" cy="697.5" r="3.0" fill="#fff" stroke="#000" stroke-width="1.5"/>
<circle cx="330.5" cy="697.5" r="3.0" fill="#fff" stroke="#000" stroke-width="1.5"/>
<circle cx="359.0" cy="698.4" r="3.0" fill="#fff" stroke="#000" stroke-width="1.5"/>
<circle cx="245.0" cy="697.5" r="3.7" fill="#000"/>
<circle cx="273.5" cy="719.5" r="3.7" fill="#000"/>
<circle cx="302.0" cy="732.0" r="3.7" fill="#000"/>
<circle cx="330.5" cy="732.0" r="3.7" fill="#000"/>
<circle cx="359.0" cy="749.4" r="3.7" fill="#000"/>
<text x="274.10" y="685.80" font-size="16" font-weight="bold" text-anchor="middle" fill="#000" letter-spacing="0.5" stroke="none">*</text>
<text x="302.60" y="685.80" font-size="16" font-weight="bold" text-anchor="middle" fill="#000" letter-spacing="0.5" stroke="none">**</text>
<text x="331.10" y="685.80" font-size="16" font-weight="bold" text-anchor="middle" fill="#000" letter-spacing="0.5" stroke="none">*</text>
<text x="359.60" y="685.80" font-size="16" font-weight="bold" text-anchor="middle" fill="#000" letter-spacing="0.5" stroke="none">**</text>
<line x1="384.40" y1="684.00" x2="384.40" y2="760.50" stroke="#000" stroke-width="1.5" />
<line x1="383.70" y1="759.70" x2="499.60" y2="759.70" stroke="#000" stroke-width="1.6" />
<line x1="381.20" y1="747.25" x2="384.40" y2="747.25" stroke="#000" stroke-width="1.3" />
<line x1="381.20" y1="734.80" x2="384.40" y2="734.80" stroke="#000" stroke-width="1.3" />
<line x1="381.20" y1="722.35" x2="384.40" y2="722.35" stroke="#000" stroke-width="1.3" />
<line x1="381.20" y1="709.90" x2="384.40" y2="709.90" stroke="#000" stroke-width="1.3" />
<line x1="381.20" y1="697.45" x2="384.40" y2="697.45" stroke="#000" stroke-width="1.3" />
<line x1="381.20" y1="685.00" x2="384.40" y2="685.00" stroke="#000" stroke-width="1.3" />
<text x="383.20" y="774.10" font-size="11.4" font-weight="bold" text-anchor="middle" fill="#000" stroke="#000" stroke-width="0.25" >0</text>
<line x1="413.00" y1="759.70" x2="413.00" y2="763.00" stroke="#000" stroke-width="1.3" />
<text x="411.80" y="774.10" font-size="11.4" font-weight="bold" text-anchor="middle" fill="#000" stroke="#000" stroke-width="0.25" >5</text>
<line x1="441.60" y1="759.70" x2="441.60" y2="763.00" stroke="#000" stroke-width="1.3" />
<text x="440.40" y="774.10" font-size="11.4" font-weight="bold" text-anchor="middle" fill="#000" stroke="#000" stroke-width="0.25" >10</text>
<line x1="470.20" y1="759.70" x2="470.20" y2="763.00" stroke="#000" stroke-width="1.3" />
<text x="469.00" y="774.10" font-size="11.4" font-weight="bold" text-anchor="middle" fill="#000" stroke="#000" stroke-width="0.25" >15</text>
<line x1="498.80" y1="759.70" x2="498.80" y2="763.00" stroke="#000" stroke-width="1.3" />
<text x="497.60" y="774.10" font-size="11.4" font-weight="bold" text-anchor="middle" fill="#000" stroke="#000" stroke-width="0.25" >20</text>
<line x1="413.00" y1="720.48" x2="413.00" y2="732.93" stroke="#000" stroke-width="1.4" />
<line x1="409.60" y1="732.93" x2="416.40" y2="732.93" stroke="#000" stroke-width="1.4" />
<line x1="441.60" y1="749.43" x2="441.60" y2="754.41" stroke="#000" stroke-width="1.4" />
<line x1="438.20" y1="754.41" x2="445.00" y2="754.41" stroke="#000" stroke-width="1.4" />
<line x1="441.60" y1="693.40" x2="441.60" y2="690.60" stroke="#000" stroke-width="1.4" />
<line x1="438.20" y1="690.60" x2="445.00" y2="690.60" stroke="#000" stroke-width="1.4" />
<line x1="498.80" y1="698.38" x2="498.80" y2="692.16" stroke="#000" stroke-width="1.4" />
<line x1="495.40" y1="692.16" x2="502.20" y2="692.16" stroke="#000" stroke-width="1.4" />
<polyline points="384.4,696.5 413.0,693.7 441.6,693.4 470.2,697.5 498.8,698.4" fill="none" stroke="#000" stroke-width="1.5"/>
<polyline points="384.4,696.5 413.0,720.5 441.6,749.4 470.2,752.9 498.8,755.3" fill="none" stroke="#000" stroke-width="1.5"/>
<circle cx="384.4" cy="696.5" r="3.0" fill="#fff" stroke="#000" stroke-width="1.5"/>
<circle cx="413.0" cy="693.7" r="3.0" fill="#fff" stroke="#000" stroke-width="1.5"/>
<circle cx="441.6" cy="693.4" r="3.0" fill="#fff" stroke="#000" stroke-width="1.5"/>
<circle cx="470.2" cy="697.5" r="3.0" fill="#fff" stroke="#000" stroke-width="1.5"/>
<circle cx="498.8" cy="698.4" r="3.0" fill="#fff" stroke="#000" stroke-width="1.5"/>
<circle cx="384.4" cy="696.5" r="3.7" fill="#000"/>
<circle cx="413.0" cy="720.5" r="3.7" fill="#000"/>
<circle cx="441.6" cy="749.4" r="3.7" fill="#000"/>
<circle cx="470.2" cy="752.9" r="3.7" fill="#000"/>
<circle cx="498.8" cy="755.3" r="3.7" fill="#000"/>
<text x="413.60" y="685.30" font-size="16" font-weight="bold" text-anchor="middle" fill="#000" letter-spacing="0.5" stroke="none">*</text>
<text x="442.20" y="685.30" font-size="16" font-weight="bold" text-anchor="middle" fill="#000" letter-spacing="0.5" stroke="none">*</text>
<text x="470.80" y="685.30" font-size="16" font-weight="bold" text-anchor="middle" fill="#000" letter-spacing="0.5" stroke="none">*</text>
<text x="499.40" y="685.30" font-size="16" font-weight="bold" text-anchor="middle" fill="#000" letter-spacing="0.5" stroke="none">*</text>
<text x="239.50" y="801.90" font-size="19.4" font-weight="bold" text-anchor="start" fill="#000" stroke="#000" stroke-width="0.25" >Sorafenib (µM)</text>
<line x1="407.00" y1="790.50" x2="422.50" y2="790.50" stroke="#000" stroke-width="1.4" />
<circle cx="414.6" cy="790.5" r="5" fill="#000"/>
<text x="431.00" y="796.30" font-size="14.5" font-weight="bold" text-anchor="start" fill="#000" stroke="#000" stroke-width="0.25" >sorafenib</text>
<circle cx="414.7" cy="812.5" r="4.5" fill="#fff" stroke="#000" stroke-width="1.5"/>
<line x1="407.00" y1="812.50" x2="422.30" y2="812.50" stroke="#000" stroke-width="1.3" />
<text x="431.00" y="818.00" font-size="14.3" font-weight="bold" text-anchor="start" fill="#000" stroke="#000" stroke-width="0.25" >DMSO</text>
</svg>
</body></html>
